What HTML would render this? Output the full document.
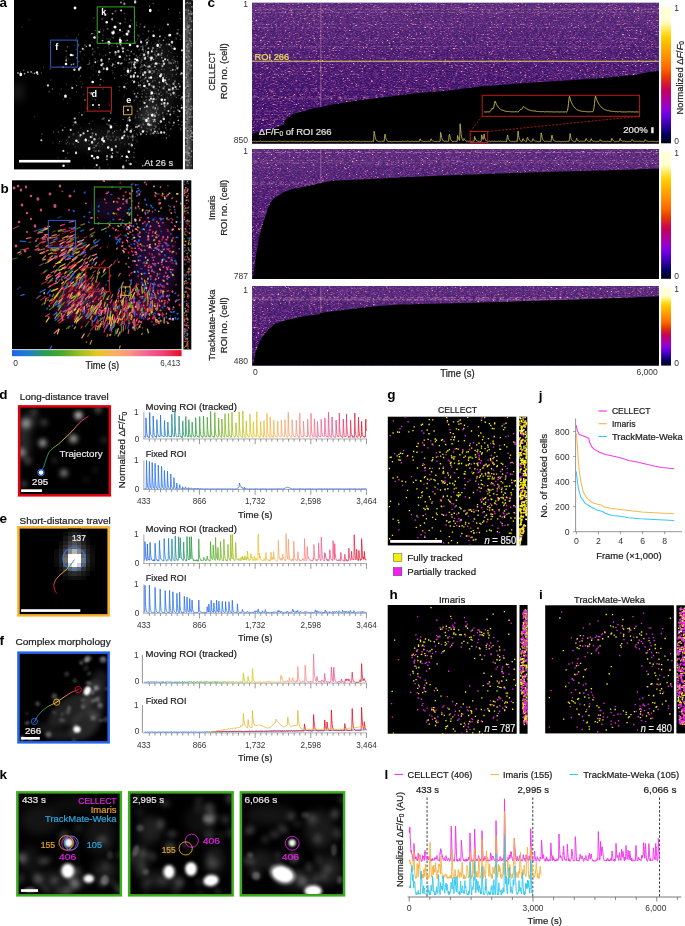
<!DOCTYPE html>
<html><head><meta charset="utf-8"><style>
html,body{margin:0;padding:0;background:#fff;}
svg{display:block;font-family:"Liberation Sans", sans-serif;}
svg{will-change:transform;}
</style></head><body>
<svg width="685" height="926" viewBox="0 0 685 926">
<defs><filter id="bl1" x="-50%" y="-50%" width="200%" height="200%"><feGaussianBlur stdDeviation="0.6"/></filter><filter id="bl2" x="-50%" y="-50%" width="200%" height="200%"><feGaussianBlur stdDeviation="1.2"/></filter><filter id="bl3" x="-50%" y="-50%" width="200%" height="200%"><feGaussianBlur stdDeviation="2.5"/></filter><filter id="bl4" x="-50%" y="-50%" width="200%" height="200%"><feGaussianBlur stdDeviation="4"/></filter><linearGradient id="fireg" x1="0" y1="0" x2="0" y2="1"><stop offset="0.000" stop-color="rgb(255, 255, 215)"/><stop offset="0.032" stop-color="rgb(255, 255, 215)"/><stop offset="0.065" stop-color="rgb(255, 255, 215)"/><stop offset="0.097" stop-color="rgb(255, 255, 215)"/><stop offset="0.129" stop-color="rgb(255, 248, 160)"/><stop offset="0.161" stop-color="rgb(255, 234, 98)"/><stop offset="0.194" stop-color="rgb(255, 219, 35)"/><stop offset="0.226" stop-color="rgb(255, 205, 0)"/><stop offset="0.258" stop-color="rgb(255, 190, 0)"/><stop offset="0.290" stop-color="rgb(255, 175, 0)"/><stop offset="0.323" stop-color="rgb(255, 161, 0)"/><stop offset="0.355" stop-color="rgb(255, 147, 0)"/><stop offset="0.387" stop-color="rgb(255, 133, 0)"/><stop offset="0.419" stop-color="rgb(255, 117, 0)"/><stop offset="0.452" stop-color="rgb(252, 101, 0)"/><stop offset="0.484" stop-color="rgb(240, 79, 0)"/><stop offset="0.516" stop-color="rgb(229, 57, 5)"/><stop offset="0.548" stop-color="rgb(217, 35, 35)"/><stop offset="0.581" stop-color="rgb(207, 14, 64)"/><stop offset="0.613" stop-color="rgb(195, 0, 93)"/><stop offset="0.645" stop-color="rgb(184, 0, 122)"/><stop offset="0.677" stop-color="rgb(173, 0, 151)"/><stop offset="0.710" stop-color="rgb(162, 0, 181)"/><stop offset="0.742" stop-color="rgb(146, 0, 210)"/><stop offset="0.774" stop-color="rgb(122, 0, 227)"/><stop offset="0.806" stop-color="rgb(98, 0, 220)"/><stop offset="0.839" stop-color="rgb(73, 0, 192)"/><stop offset="0.871" stop-color="rgb(49, 0, 165)"/><stop offset="0.903" stop-color="rgb(25, 0, 130)"/><stop offset="0.935" stop-color="rgb(1, 0, 96)"/><stop offset="0.968" stop-color="rgb(0, 0, 61)"/><stop offset="1.000" stop-color="rgb(0, 0, 0)"/></linearGradient><linearGradient id="timeg" x1="0" y1="0" x2="1" y2="0"><stop offset="0" stop-color="#2060f0"/><stop offset="0.1" stop-color="#2080c8"/><stop offset="0.2" stop-color="#2a9c50"/><stop offset="0.3" stop-color="#4ea82a"/><stop offset="0.4" stop-color="#9cbe22"/><stop offset="0.5" stop-color="#e6c622"/><stop offset="0.6" stop-color="#f8b060"/><stop offset="0.7" stop-color="#f89282"/><stop offset="0.8" stop-color="#f06294"/><stop offset="0.9" stop-color="#f03e70"/><stop offset="1.0" stop-color="#e01020"/></linearGradient><filter id="hmf1" x="0" y="0" width="1" height="1" color-interpolation-filters="sRGB">
<feTurbulence type="fractalNoise" baseFrequency="0.45 1.3" numOctaves="3" seed="11" result="n"/>
<feColorMatrix in="n" type="matrix" values="1 0 0 0 0  1 0 0 0 0  1 0 0 0 0  0 0 0 0 1" result="g"/>
<feComponentTransfer in="g">
<feFuncR type="table" tableValues="0.141 0.143 0.146 0.148 0.150 0.152 0.155 0.157 0.159 0.161 0.164 0.166 0.168 0.170 0.173 0.175 0.177 0.179 0.186 0.197 0.208 0.219 0.230 0.242 0.254 0.267 0.279 0.292 0.309 0.330 0.352 0.374 0.402 0.438 0.474 0.510 0.566 0.622 0.678 0.728 0.772 0.816 0.860 0.889 0.902 0.915 0.928 0.941 0.954 0.967 0.980"/>
<feFuncG type="table" tableValues="0.039 0.040 0.041 0.041 0.042 0.043 0.043 0.044 0.045 0.045 0.046 0.047 0.047 0.048 0.049 0.049 0.050 0.051 0.053 0.057 0.061 0.065 0.069 0.073 0.078 0.082 0.087 0.092 0.099 0.107 0.116 0.125 0.139 0.158 0.177 0.196 0.246 0.297 0.347 0.409 0.483 0.556 0.630 0.682 0.714 0.745 0.776 0.808 0.839 0.871 0.902"/>
<feFuncB type="table" tableValues="0.306 0.309 0.313 0.317 0.320 0.324 0.327 0.331 0.335 0.338 0.342 0.345 0.349 0.352 0.356 0.360 0.363 0.367 0.374 0.385 0.396 0.407 0.418 0.428 0.438 0.447 0.456 0.466 0.475 0.482 0.490 0.498 0.504 0.509 0.513 0.518 0.527 0.536 0.545 0.561 0.586 0.610 0.635 0.659 0.682 0.706 0.729 0.753 0.776 0.800 0.824"/>
</feComponentTransfer>
</filter><filter id="hmf2" x="0" y="0" width="1" height="1" color-interpolation-filters="sRGB">
<feTurbulence type="fractalNoise" baseFrequency="0.45 1.3" numOctaves="3" seed="22" result="n"/>
<feColorMatrix in="n" type="matrix" values="1 0 0 0 0  1 0 0 0 0  1 0 0 0 0  0 0 0 0 1" result="g"/>
<feComponentTransfer in="g">
<feFuncR type="table" tableValues="0.141 0.143 0.146 0.148 0.150 0.152 0.155 0.157 0.159 0.161 0.164 0.166 0.168 0.170 0.173 0.175 0.177 0.179 0.186 0.197 0.208 0.219 0.230 0.242 0.254 0.267 0.279 0.292 0.309 0.330 0.352 0.374 0.402 0.438 0.474 0.510 0.566 0.622 0.678 0.728 0.772 0.816 0.860 0.889 0.902 0.915 0.928 0.941 0.954 0.967 0.980"/>
<feFuncG type="table" tableValues="0.039 0.040 0.041 0.041 0.042 0.043 0.043 0.044 0.045 0.045 0.046 0.047 0.047 0.048 0.049 0.049 0.050 0.051 0.053 0.057 0.061 0.065 0.069 0.073 0.078 0.082 0.087 0.092 0.099 0.107 0.116 0.125 0.139 0.158 0.177 0.196 0.246 0.297 0.347 0.409 0.483 0.556 0.630 0.682 0.714 0.745 0.776 0.808 0.839 0.871 0.902"/>
<feFuncB type="table" tableValues="0.306 0.309 0.313 0.317 0.320 0.324 0.327 0.331 0.335 0.338 0.342 0.345 0.349 0.352 0.356 0.360 0.363 0.367 0.374 0.385 0.396 0.407 0.418 0.428 0.438 0.447 0.456 0.466 0.475 0.482 0.490 0.498 0.504 0.509 0.513 0.518 0.527 0.536 0.545 0.561 0.586 0.610 0.635 0.659 0.682 0.706 0.729 0.753 0.776 0.800 0.824"/>
</feComponentTransfer>
</filter><filter id="hmf3" x="0" y="0" width="1" height="1" color-interpolation-filters="sRGB">
<feTurbulence type="fractalNoise" baseFrequency="0.45 1.3" numOctaves="3" seed="33" result="n"/>
<feColorMatrix in="n" type="matrix" values="1 0 0 0 0  1 0 0 0 0  1 0 0 0 0  0 0 0 0 1" result="g"/>
<feComponentTransfer in="g">
<feFuncR type="table" tableValues="0.141 0.143 0.146 0.148 0.150 0.152 0.155 0.157 0.159 0.161 0.164 0.166 0.168 0.170 0.173 0.175 0.177 0.179 0.186 0.197 0.208 0.219 0.230 0.242 0.254 0.267 0.279 0.292 0.309 0.330 0.352 0.374 0.402 0.438 0.474 0.510 0.566 0.622 0.678 0.728 0.772 0.816 0.860 0.889 0.902 0.915 0.928 0.941 0.954 0.967 0.980"/>
<feFuncG type="table" tableValues="0.039 0.040 0.041 0.041 0.042 0.043 0.043 0.044 0.045 0.045 0.046 0.047 0.047 0.048 0.049 0.049 0.050 0.051 0.053 0.057 0.061 0.065 0.069 0.073 0.078 0.082 0.087 0.092 0.099 0.107 0.116 0.125 0.139 0.158 0.177 0.196 0.246 0.297 0.347 0.409 0.483 0.556 0.630 0.682 0.714 0.745 0.776 0.808 0.839 0.871 0.902"/>
<feFuncB type="table" tableValues="0.306 0.309 0.313 0.317 0.320 0.324 0.327 0.331 0.335 0.338 0.342 0.345 0.349 0.352 0.356 0.360 0.363 0.367 0.374 0.385 0.396 0.407 0.418 0.428 0.438 0.447 0.456 0.466 0.475 0.482 0.490 0.498 0.504 0.509 0.513 0.518 0.527 0.536 0.545 0.561 0.586 0.610 0.635 0.659 0.682 0.706 0.729 0.753 0.776 0.800 0.824"/>
</feComponentTransfer>
</filter><linearGradient id="hmov" x1="0" y1="0" x2="0" y2="1"><stop offset="0" stop-color="#f0c0d8" stop-opacity="0.16"/><stop offset="0.35" stop-color="#f0c0d8" stop-opacity="0.08"/><stop offset="0.7" stop-color="#f0c0d8" stop-opacity="0.03"/><stop offset="1" stop-color="#f0c0d8" stop-opacity="0"/></linearGradient><linearGradient id="gl1" gradientUnits="userSpaceOnUse" x1="41" y1="472.6" x2="88.7" y2="416"><stop offset="0" stop-color="#2a6ff0"/><stop offset="0.12" stop-color="#1a9a90"/><stop offset="0.3" stop-color="#3aa040"/><stop offset="0.45" stop-color="#a8c020"/><stop offset="0.55" stop-color="#f0c020"/><stop offset="0.7" stop-color="#f8a060"/><stop offset="0.85" stop-color="#f05a90"/><stop offset="1" stop-color="#e01030"/></linearGradient><linearGradient id="gh2" gradientUnits="userSpaceOnUse" x1="143.8" y1="0" x2="366.5" y2="0"><stop offset="0" stop-color="#2060f0"/><stop offset="0.1" stop-color="#2080c8"/><stop offset="0.2" stop-color="#2a9c50"/><stop offset="0.3" stop-color="#4ea82a"/><stop offset="0.4" stop-color="#9cbe22"/><stop offset="0.5" stop-color="#e6c622"/><stop offset="0.6" stop-color="#f8b060"/><stop offset="0.7" stop-color="#f89282"/><stop offset="0.8" stop-color="#f06294"/><stop offset="0.9" stop-color="#f03e70"/><stop offset="1.0" stop-color="#e01020"/></linearGradient><linearGradient id="gl3" gradientUnits="userSpaceOnUse" x1="74.6" y1="559.5" x2="56.6" y2="593.5"><stop offset="0" stop-color="#2a6ff0"/><stop offset="0.2" stop-color="#3aa040"/><stop offset="0.35" stop-color="#e6c622"/><stop offset="0.55" stop-color="#f8a060"/><stop offset="0.75" stop-color="#f04a80"/><stop offset="1" stop-color="#e01030"/></linearGradient><linearGradient id="gh4" gradientUnits="userSpaceOnUse" x1="143.8" y1="0" x2="366.5" y2="0"><stop offset="0" stop-color="#2060f0"/><stop offset="0.1" stop-color="#2080c8"/><stop offset="0.2" stop-color="#2a9c50"/><stop offset="0.3" stop-color="#4ea82a"/><stop offset="0.4" stop-color="#9cbe22"/><stop offset="0.5" stop-color="#e6c622"/><stop offset="0.6" stop-color="#f8b060"/><stop offset="0.7" stop-color="#f89282"/><stop offset="0.8" stop-color="#f06294"/><stop offset="0.9" stop-color="#f03e70"/><stop offset="1.0" stop-color="#e01020"/></linearGradient><linearGradient id="gl5" gradientUnits="userSpaceOnUse" x1="34.4" y1="721.5" x2="78.2" y2="689.6"><stop offset="0" stop-color="#2a6ff0"/><stop offset="0.2" stop-color="#1a9a90"/><stop offset="0.35" stop-color="#5aaa30"/><stop offset="0.5" stop-color="#e6c622"/><stop offset="0.7" stop-color="#f8a060"/><stop offset="0.85" stop-color="#f05a90"/><stop offset="1" stop-color="#e01030"/></linearGradient><linearGradient id="gh6" gradientUnits="userSpaceOnUse" x1="143.8" y1="0" x2="366.5" y2="0"><stop offset="0" stop-color="#2060f0"/><stop offset="0.1" stop-color="#2080c8"/><stop offset="0.2" stop-color="#2a9c50"/><stop offset="0.3" stop-color="#4ea82a"/><stop offset="0.4" stop-color="#9cbe22"/><stop offset="0.5" stop-color="#e6c622"/><stop offset="0.6" stop-color="#f8b060"/><stop offset="0.7" stop-color="#f89282"/><stop offset="0.8" stop-color="#f06294"/><stop offset="0.9" stop-color="#f03e70"/><stop offset="1.0" stop-color="#e01020"/></linearGradient></defs>
<rect width="685" height="926" fill="#fff"/>
<rect x="14" y="0" width="168.9" height="169.4" fill="#000" stroke="none" stroke-width="1"/>
<clipPath id="cpa"><rect x="14" y="0" width="168.9" height="169.4"/></clipPath>
<g clip-path="url(#cpa)">
<g filter="url(#bl4)">
<ellipse cx="148" cy="118" rx="10" ry="14" fill="#fff" opacity="0.16"/>
<ellipse cx="160" cy="80" rx="18" ry="40" fill="#fff" opacity="0.08"/>
<ellipse cx="100" cy="140" rx="35" ry="12" fill="#fff" opacity="0.07"/>
<ellipse cx="18" cy="92" rx="6" ry="10" fill="#fff" opacity="0.1"/>
</g>
<g filter="url(#bl1)">
<path d="M84.5 140.1a1.2 1.2 0 1 0 2.5 0a1.2 1.2 0 1 0 -2.5 0M91.4 82a1.3 1.3 0 1 0 2.6 0a1.3 1.3 0 1 0 -2.6 0M105.4 22.2a1.3 1.3 0 1 0 2.6 0a1.3 1.3 0 1 0 -2.6 0M152.3 35.8a1.3 1.3 0 1 0 2.6 0a1.3 1.3 0 1 0 -2.6 0M107.4 42.1a1.3 1.3 0 1 0 2.6 0a1.3 1.3 0 1 0 -2.6 0M143.1 86a1.3 1.3 0 1 0 2.6 0a1.3 1.3 0 1 0 -2.6 0M64.2 96.2a1.3 1.3 0 1 0 2.5 0a1.3 1.3 0 1 0 -2.5 0M162 80.5a1.3 1.3 0 1 0 2.5 0a1.3 1.3 0 1 0 -2.5 0M126.7 71.2a1.3 1.3 0 1 0 2.5 0a1.3 1.3 0 1 0 -2.5 0M125.5 156.7a1.2 1.2 0 1 0 2.5 0a1.2 1.2 0 1 0 -2.5 0M159 76.1a1.3 1.3 0 1 0 2.6 0a1.3 1.3 0 1 0 -2.6 0M127.6 151.7a1.2 1.2 0 1 0 2.5 0a1.2 1.2 0 1 0 -2.5 0M121.1 137.8a1.2 1.2 0 1 0 2.5 0a1.2 1.2 0 1 0 -2.5 0M109.7 126.9a1.3 1.3 0 1 0 2.5 0a1.3 1.3 0 1 0 -2.5 0M119 42.4a1.3 1.3 0 1 0 2.6 0a1.3 1.3 0 1 0 -2.6 0M156.4 45.3a1.3 1.3 0 1 0 2.5 0a1.3 1.3 0 1 0 -2.5 0M154.7 63.5a1.3 1.3 0 1 0 2.6 0a1.3 1.3 0 1 0 -2.6 0M106.9 147.5a1.2 1.2 0 1 0 2.5 0a1.2 1.2 0 1 0 -2.5 0M62.3 165.8a1.2 1.2 0 1 0 2.5 0a1.2 1.2 0 1 0 -2.5 0M173.3 48.7a1.3 1.3 0 1 0 2.6 0a1.3 1.3 0 1 0 -2.6 0M149 10.5a1.3 1.3 0 1 0 2.5 0a1.3 1.3 0 1 0 -2.5 0M150.5 92.9a1.3 1.3 0 1 0 2.5 0a1.3 1.3 0 1 0 -2.5 0M75.1 140.8a1.3 1.3 0 1 0 2.6 0a1.3 1.3 0 1 0 -2.6 0M19.5 74.5a1.3 1.3 0 1 0 2.5 0a1.3 1.3 0 1 0 -2.5 0M151 115.1a1.3 1.3 0 1 0 2.5 0a1.3 1.3 0 1 0 -2.5 0M105.8 68.8a1.3 1.3 0 1 0 2.5 0a1.3 1.3 0 1 0 -2.5 0M118.5 56.7a1.3 1.3 0 1 0 2.6 0a1.3 1.3 0 1 0 -2.6 0M141.6 131.5a1.3 1.3 0 1 0 2.6 0a1.3 1.3 0 1 0 -2.6 0M35.7 72.6a1.2 1.2 0 1 0 2.5 0a1.2 1.2 0 1 0 -2.5 0M136.2 46.2a1.3 1.3 0 1 0 2.6 0a1.3 1.3 0 1 0 -2.6 0M93.2 37.5a1.3 1.3 0 1 0 2.6 0a1.3 1.3 0 1 0 -2.6 0M126 125.4a1.2 1.2 0 1 0 2.5 0a1.2 1.2 0 1 0 -2.5 0M87.9 148.7a1.3 1.3 0 1 0 2.5 0a1.3 1.3 0 1 0 -2.5 0M96.6 157.5a1.3 1.3 0 1 0 2.6 0a1.3 1.3 0 1 0 -2.6 0M145.2 120.4a1.3 1.3 0 1 0 2.5 0a1.3 1.3 0 1 0 -2.5 0M150.3 57.9a1.3 1.3 0 1 0 2.6 0a1.3 1.3 0 1 0 -2.6 0M90.7 156a1.3 1.3 0 1 0 2.6 0a1.3 1.3 0 1 0 -2.6 0M149.8 77.6a1.2 1.2 0 1 0 2.5 0a1.2 1.2 0 1 0 -2.5 0M160.5 99.7a1.3 1.3 0 1 0 2.6 0a1.3 1.3 0 1 0 -2.6 0M102.5 141.1a1.3 1.3 0 1 0 2.6 0a1.3 1.3 0 1 0 -2.6 0M168.8 35.1a1.2 1.2 0 1 0 2.5 0a1.2 1.2 0 1 0 -2.5 0M135.8 60a1.3 1.3 0 1 0 2.6 0a1.3 1.3 0 1 0 -2.6 0M113.5 27a1.5 1.5 0 1 0 3 0a1.5 1.5 0 1 0 -3 0M111.4 33a1.6 1.6 0 1 0 3.2 0a1.6 1.6 0 1 0 -3.2 0M125.5 34a1.5 1.5 0 1 0 3 0a1.5 1.5 0 1 0 -3 0M107.4 43a1.6 1.6 0 1 0 3.2 0a1.6 1.6 0 1 0 -3.2 0M119 30a1 1 0 1 0 2 0a1 1 0 1 0 -2 0M69.7 55a1.3 1.3 0 1 0 2.6 0a1.3 1.3 0 1 0 -2.6 0M64.7 64a1.3 1.3 0 1 0 2.6 0a1.3 1.3 0 1 0 -2.6 0M92 105a1 1 0 1 0 2 0a1 1 0 1 0 -2 0M98.1 105a0.9 0.9 0 1 0 1.8 0a0.9 0.9 0 1 0 -1.8 0M127.1 110a0.9 0.9 0 1 0 1.8 0a0.9 0.9 0 1 0 -1.8 0M73.6 8a1.4 1.4 0 1 0 2.8 0a1.4 1.4 0 1 0 -2.8 0M118.8 40a1.2 1.2 0 1 0 2.4 0a1.2 1.2 0 1 0 -2.4 0M128.7 45a1.3 1.3 0 1 0 2.6 0a1.3 1.3 0 1 0 -2.6 0" fill="#fff" opacity="1.0"/>
<path d="M121.1 63.1a0.8 0.8 0 1 0 1.7 0a0.8 0.8 0 1 0 -1.7 0M161.1 53.1a0.8 0.8 0 1 0 1.6 0a0.8 0.8 0 1 0 -1.6 0M160.7 104a1 1 0 1 0 2 0a1 1 0 1 0 -2 0M172.9 122.8a1 1 0 1 0 2 0a1 1 0 1 0 -2 0M177.2 110.1a0.8 0.8 0 1 0 1.6 0a0.8 0.8 0 1 0 -1.6 0M166.9 59.9a0.8 0.8 0 1 0 1.7 0a0.8 0.8 0 1 0 -1.7 0M111.7 153.2a0.8 0.8 0 1 0 1.6 0a0.8 0.8 0 1 0 -1.6 0M137 93.3a0.8 0.8 0 1 0 1.6 0a0.8 0.8 0 1 0 -1.6 0M154 66.6a0.9 0.9 0 1 0 1.8 0a0.9 0.9 0 1 0 -1.8 0M65.4 60.4a0.9 0.9 0 1 0 1.7 0a0.9 0.9 0 1 0 -1.7 0M161.5 66a1 1 0 1 0 1.9 0a1 1 0 1 0 -1.9 0M163.8 106.3a0.9 0.9 0 1 0 1.7 0a0.9 0.9 0 1 0 -1.7 0M128.4 117.4a1 1 0 1 0 2 0a1 1 0 1 0 -2 0M178 83.7a0.8 0.8 0 1 0 1.6 0a0.8 0.8 0 1 0 -1.6 0M164.7 82.4a0.9 0.9 0 1 0 1.9 0a0.9 0.9 0 1 0 -1.9 0M85.5 46.6a0.8 0.8 0 1 0 1.6 0a0.8 0.8 0 1 0 -1.6 0M166.1 84.2a0.9 0.9 0 1 0 1.8 0a0.9 0.9 0 1 0 -1.8 0M158.9 36.6a0.8 0.8 0 1 0 1.7 0a0.8 0.8 0 1 0 -1.7 0M90.3 93.4a1 1 0 1 0 1.9 0a1 1 0 1 0 -1.9 0M111.6 65.7a0.8 0.8 0 1 0 1.7 0a0.8 0.8 0 1 0 -1.7 0M137.8 85.5a1 1 0 1 0 2 0a1 1 0 1 0 -2 0M150.3 129.9a0.8 0.8 0 1 0 1.6 0a0.8 0.8 0 1 0 -1.6 0M176.3 33.4a1 1 0 1 0 2 0a1 1 0 1 0 -2 0M144.8 77.6a0.9 0.9 0 1 0 1.8 0a0.9 0.9 0 1 0 -1.8 0M123.4 3.8a1 1 0 1 0 1.9 0a1 1 0 1 0 -1.9 0M102.8 68.8a1 1 0 1 0 1.9 0a1 1 0 1 0 -1.9 0M106.2 159.4a0.8 0.8 0 1 0 1.7 0a0.8 0.8 0 1 0 -1.7 0M135.5 96.6a0.9 0.9 0 1 0 1.7 0a0.9 0.9 0 1 0 -1.7 0M141.8 165.7a0.9 0.9 0 1 0 1.8 0a0.9 0.9 0 1 0 -1.8 0M162.7 40.3a0.8 0.8 0 1 0 1.6 0a0.8 0.8 0 1 0 -1.6 0M127.2 157.6a0.8 0.8 0 1 0 1.7 0a0.8 0.8 0 1 0 -1.7 0M123.6 131.8a1 1 0 1 0 1.9 0a1 1 0 1 0 -1.9 0M171.9 89.3a0.9 0.9 0 1 0 1.7 0a0.9 0.9 0 1 0 -1.7 0M121.1 138.7a0.8 0.8 0 1 0 1.6 0a0.8 0.8 0 1 0 -1.6 0M120.1 2.5a0.9 0.9 0 1 0 1.8 0a0.9 0.9 0 1 0 -1.8 0M178.9 86.5a0.9 0.9 0 1 0 1.9 0a0.9 0.9 0 1 0 -1.9 0M152.1 133.2a0.8 0.8 0 1 0 1.6 0a0.8 0.8 0 1 0 -1.6 0M158.5 82.4a0.9 0.9 0 1 0 1.8 0a0.9 0.9 0 1 0 -1.8 0M140 134.1a0.9 0.9 0 1 0 1.7 0a0.9 0.9 0 1 0 -1.7 0M162.6 88.4a0.9 0.9 0 1 0 1.8 0a0.9 0.9 0 1 0 -1.8 0M133.6 93.7a0.9 0.9 0 1 0 1.8 0a0.9 0.9 0 1 0 -1.8 0M149.4 57.7a0.9 0.9 0 1 0 1.8 0a0.9 0.9 0 1 0 -1.8 0M144.2 57.4a1 1 0 1 0 2 0a1 1 0 1 0 -2 0M143.5 26.9a0.9 0.9 0 1 0 1.9 0a0.9 0.9 0 1 0 -1.9 0M137.9 125.9a0.9 0.9 0 1 0 1.7 0a0.9 0.9 0 1 0 -1.7 0M181.5 97.3a0.9 0.9 0 1 0 1.7 0a0.9 0.9 0 1 0 -1.7 0M94.9 134.3a0.9 0.9 0 1 0 1.9 0a0.9 0.9 0 1 0 -1.9 0M152.7 59.5a0.8 0.8 0 1 0 1.6 0a0.8 0.8 0 1 0 -1.6 0M143.5 65.2a0.9 0.9 0 1 0 1.8 0a0.9 0.9 0 1 0 -1.8 0M109 52.6a0.9 0.9 0 1 0 1.8 0a0.9 0.9 0 1 0 -1.8 0M134.2 43.1a0.8 0.8 0 1 0 1.6 0a0.8 0.8 0 1 0 -1.6 0M128.6 59.1a0.9 0.9 0 1 0 1.9 0a0.9 0.9 0 1 0 -1.9 0M131.7 136.5a1 1 0 1 0 1.9 0a1 1 0 1 0 -1.9 0M126.4 40.3a0.8 0.8 0 1 0 1.6 0a0.8 0.8 0 1 0 -1.6 0M172.6 83.7a1 1 0 1 0 1.9 0a1 1 0 1 0 -1.9 0M157.7 133.3a0.8 0.8 0 1 0 1.6 0a0.8 0.8 0 1 0 -1.6 0M108.2 59a0.9 0.9 0 1 0 1.9 0a0.9 0.9 0 1 0 -1.9 0M111.2 19.2a1 1 0 1 0 1.9 0a1 1 0 1 0 -1.9 0M144 107.2a0.8 0.8 0 1 0 1.6 0a0.8 0.8 0 1 0 -1.6 0M111.6 13.6a0.9 0.9 0 1 0 1.9 0a0.9 0.9 0 1 0 -1.9 0M161.1 57.8a0.8 0.8 0 1 0 1.6 0a0.8 0.8 0 1 0 -1.6 0M121.1 156.3a1 1 0 1 0 2 0a1 1 0 1 0 -2 0M148.3 77.9a0.9 0.9 0 1 0 1.9 0a0.9 0.9 0 1 0 -1.9 0M152.1 47.9a0.9 0.9 0 1 0 1.8 0a0.9 0.9 0 1 0 -1.8 0M133.4 66.7a0.8 0.8 0 1 0 1.7 0a0.8 0.8 0 1 0 -1.7 0M102.1 137.8a1 1 0 1 0 1.9 0a1 1 0 1 0 -1.9 0M70.6 64.6a0.8 0.8 0 1 0 1.7 0a0.8 0.8 0 1 0 -1.7 0M150 59.7a1 1 0 1 0 1.9 0a1 1 0 1 0 -1.9 0M129.8 70.8a0.9 0.9 0 1 0 1.8 0a0.9 0.9 0 1 0 -1.8 0M86.4 108.3a0.8 0.8 0 1 0 1.6 0a0.8 0.8 0 1 0 -1.6 0M98 150.9a0.8 0.8 0 1 0 1.6 0a0.8 0.8 0 1 0 -1.6 0M171.8 69.8a1 1 0 1 0 2 0a1 1 0 1 0 -2 0M148.5 100a0.9 0.9 0 1 0 1.9 0a0.9 0.9 0 1 0 -1.9 0M152.6 132.9a0.8 0.8 0 1 0 1.6 0a0.8 0.8 0 1 0 -1.6 0M163.3 103.4a1 1 0 1 0 1.9 0a1 1 0 1 0 -1.9 0M119.8 63.7a0.9 0.9 0 1 0 1.8 0a0.9 0.9 0 1 0 -1.8 0M154 115.8a1 1 0 1 0 1.9 0a1 1 0 1 0 -1.9 0M136.2 127a0.9 0.9 0 1 0 1.9 0a0.9 0.9 0 1 0 -1.9 0M139.4 108.7a0.8 0.8 0 1 0 1.7 0a0.8 0.8 0 1 0 -1.7 0M141.8 49.3a0.9 0.9 0 1 0 1.9 0a0.9 0.9 0 1 0 -1.9 0M154.5 107.9a0.8 0.8 0 1 0 1.7 0a0.8 0.8 0 1 0 -1.7 0M126.5 127.7a0.9 0.9 0 1 0 1.8 0a0.9 0.9 0 1 0 -1.8 0M116.6 46.6a0.8 0.8 0 1 0 1.6 0a0.8 0.8 0 1 0 -1.6 0M132.8 77a0.9 0.9 0 1 0 1.7 0a0.9 0.9 0 1 0 -1.7 0M119.5 44.7a0.9 0.9 0 1 0 1.8 0a0.9 0.9 0 1 0 -1.8 0M111.9 64.2a1 1 0 1 0 2 0a1 1 0 1 0 -2 0M177.5 120.3a0.8 0.8 0 1 0 1.7 0a0.8 0.8 0 1 0 -1.7 0M62.2 67.2a0.9 0.9 0 1 0 1.8 0a0.9 0.9 0 1 0 -1.8 0M130.5 51.5a0.8 0.8 0 1 0 1.7 0a0.8 0.8 0 1 0 -1.7 0M147.4 48.3a1 1 0 1 0 2 0a1 1 0 1 0 -2 0M101.7 40.6a0.9 0.9 0 1 0 1.8 0a0.9 0.9 0 1 0 -1.8 0M81 115a0.9 0.9 0 1 0 1.8 0a0.9 0.9 0 1 0 -1.8 0M115.8 43.7a0.8 0.8 0 1 0 1.7 0a0.8 0.8 0 1 0 -1.7 0M137.4 60.9a0.8 0.8 0 1 0 1.6 0a0.8 0.8 0 1 0 -1.6 0M152.9 121.3a0.8 0.8 0 1 0 1.6 0a0.8 0.8 0 1 0 -1.6 0M91.1 33.5a0.8 0.8 0 1 0 1.7 0a0.8 0.8 0 1 0 -1.7 0M61.7 130.1a0.9 0.9 0 1 0 1.9 0a0.9 0.9 0 1 0 -1.9 0M72.7 64.1a0.9 0.9 0 1 0 1.8 0a0.9 0.9 0 1 0 -1.8 0M77.4 142.2a0.9 0.9 0 1 0 1.8 0a0.9 0.9 0 1 0 -1.8 0M101.6 139a0.9 0.9 0 1 0 1.8 0a0.9 0.9 0 1 0 -1.8 0M99.8 79.3a0.9 0.9 0 1 0 1.8 0a0.9 0.9 0 1 0 -1.8 0M134.9 126.9a0.9 0.9 0 1 0 1.8 0a0.9 0.9 0 1 0 -1.8 0M176.4 68.3a1 1 0 1 0 1.9 0a1 1 0 1 0 -1.9 0M106.1 156.2a1 1 0 1 0 1.9 0a1 1 0 1 0 -1.9 0M17.1 73a0.9 0.9 0 1 0 1.8 0a0.9 0.9 0 1 0 -1.8 0M20.4 74.2a0.9 0.9 0 1 0 1.8 0a0.9 0.9 0 1 0 -1.8 0M23.7 73.6a0.9 0.9 0 1 0 1.8 0a0.9 0.9 0 1 0 -1.8 0M27 72.2a0.9 0.9 0 1 0 1.8 0a0.9 0.9 0 1 0 -1.8 0M30.3 71.9a0.9 0.9 0 1 0 1.8 0a0.9 0.9 0 1 0 -1.8 0M33.6 73.3a0.9 0.9 0 1 0 1.8 0a0.9 0.9 0 1 0 -1.8 0M36.9 74.2a0.9 0.9 0 1 0 1.8 0a0.9 0.9 0 1 0 -1.8 0" fill="#fff" opacity="0.6"/>
<path d="M128.3 72.4a0.7 0.7 0 1 0 1.3 0a0.7 0.7 0 1 0 -1.3 0M159.4 47.2a0.6 0.6 0 1 0 1.1 0a0.6 0.6 0 1 0 -1.1 0M143.8 90.2a0.6 0.6 0 1 0 1.2 0a0.6 0.6 0 1 0 -1.2 0M140.1 81a0.6 0.6 0 1 0 1.2 0a0.6 0.6 0 1 0 -1.2 0M146.7 56.3a0.6 0.6 0 1 0 1.3 0a0.6 0.6 0 1 0 -1.3 0M177.5 67.1a0.6 0.6 0 1 0 1.3 0a0.6 0.6 0 1 0 -1.3 0M168.3 85a0.7 0.7 0 1 0 1.4 0a0.7 0.7 0 1 0 -1.4 0M107.1 132.9a0.7 0.7 0 1 0 1.4 0a0.7 0.7 0 1 0 -1.4 0M118.7 86.8a0.6 0.6 0 1 0 1.3 0a0.6 0.6 0 1 0 -1.3 0M144.9 45.8a0.6 0.6 0 1 0 1.3 0a0.6 0.6 0 1 0 -1.3 0M109.8 118.7a0.6 0.6 0 1 0 1.2 0a0.6 0.6 0 1 0 -1.2 0M139.6 85.2a0.8 0.8 0 1 0 1.5 0a0.8 0.8 0 1 0 -1.5 0M66.8 142.3a0.6 0.6 0 1 0 1.2 0a0.6 0.6 0 1 0 -1.2 0M182.1 99.8a0.6 0.6 0 1 0 1.3 0a0.6 0.6 0 1 0 -1.3 0M125.6 160.7a0.8 0.8 0 1 0 1.5 0a0.8 0.8 0 1 0 -1.5 0M66.7 46.7a0.7 0.7 0 1 0 1.4 0a0.7 0.7 0 1 0 -1.4 0M84.8 139a0.8 0.8 0 1 0 1.5 0a0.8 0.8 0 1 0 -1.5 0M75.9 85.5a0.7 0.7 0 1 0 1.4 0a0.7 0.7 0 1 0 -1.4 0M166.1 105.1a0.6 0.6 0 1 0 1.3 0a0.6 0.6 0 1 0 -1.3 0M93.2 18.1a0.7 0.7 0 1 0 1.4 0a0.7 0.7 0 1 0 -1.4 0M180.7 97.8a0.6 0.6 0 1 0 1.2 0a0.6 0.6 0 1 0 -1.2 0M65.7 50.9a0.6 0.6 0 1 0 1.1 0a0.6 0.6 0 1 0 -1.1 0M130.8 143.2a0.6 0.6 0 1 0 1.2 0a0.6 0.6 0 1 0 -1.2 0M146.4 88.6a0.7 0.7 0 1 0 1.4 0a0.7 0.7 0 1 0 -1.4 0M139.4 55.4a0.6 0.6 0 1 0 1.2 0a0.6 0.6 0 1 0 -1.2 0M152.6 107a0.7 0.7 0 1 0 1.4 0a0.7 0.7 0 1 0 -1.4 0M132.4 91.1a0.6 0.6 0 1 0 1.2 0a0.6 0.6 0 1 0 -1.2 0M140.8 127.6a0.7 0.7 0 1 0 1.3 0a0.7 0.7 0 1 0 -1.3 0M155.7 112.2a0.7 0.7 0 1 0 1.4 0a0.7 0.7 0 1 0 -1.4 0M174.2 111.1a0.6 0.6 0 1 0 1.2 0a0.6 0.6 0 1 0 -1.2 0M166.1 134.1a0.6 0.6 0 1 0 1.2 0a0.6 0.6 0 1 0 -1.2 0M90.7 129.2a0.6 0.6 0 1 0 1.2 0a0.6 0.6 0 1 0 -1.2 0M157.8 123.6a0.7 0.7 0 1 0 1.4 0a0.7 0.7 0 1 0 -1.4 0M132.2 140.2a0.6 0.6 0 1 0 1.1 0a0.6 0.6 0 1 0 -1.1 0M144.8 72.2a0.8 0.8 0 1 0 1.5 0a0.8 0.8 0 1 0 -1.5 0M114.4 67.3a0.6 0.6 0 1 0 1.3 0a0.6 0.6 0 1 0 -1.3 0M79.8 75.9a0.6 0.6 0 1 0 1.2 0a0.6 0.6 0 1 0 -1.2 0M127.7 50.6a0.6 0.6 0 1 0 1.2 0a0.6 0.6 0 1 0 -1.2 0M152.4 80.9a0.6 0.6 0 1 0 1.3 0a0.6 0.6 0 1 0 -1.3 0M160.3 45.1a0.8 0.8 0 1 0 1.5 0a0.8 0.8 0 1 0 -1.5 0M67.1 153a0.6 0.6 0 1 0 1.3 0a0.6 0.6 0 1 0 -1.3 0M93.8 147.7a0.7 0.7 0 1 0 1.4 0a0.7 0.7 0 1 0 -1.4 0M101.6 119a0.7 0.7 0 1 0 1.4 0a0.7 0.7 0 1 0 -1.4 0M97.8 75.2a0.6 0.6 0 1 0 1.2 0a0.6 0.6 0 1 0 -1.2 0M155.6 99.3a0.7 0.7 0 1 0 1.4 0a0.7 0.7 0 1 0 -1.4 0M175.5 74.5a0.6 0.6 0 1 0 1.3 0a0.6 0.6 0 1 0 -1.3 0M58.9 141.5a0.6 0.6 0 1 0 1.3 0a0.6 0.6 0 1 0 -1.3 0M174 85.5a0.6 0.6 0 1 0 1.2 0a0.6 0.6 0 1 0 -1.2 0M119.5 30.8a0.7 0.7 0 1 0 1.4 0a0.7 0.7 0 1 0 -1.4 0M105.2 42.3a0.6 0.6 0 1 0 1.3 0a0.6 0.6 0 1 0 -1.3 0M151.8 119.5a0.6 0.6 0 1 0 1.2 0a0.6 0.6 0 1 0 -1.2 0M174.2 81.4a0.8 0.8 0 1 0 1.5 0a0.8 0.8 0 1 0 -1.5 0M108.4 131.3a0.7 0.7 0 1 0 1.3 0a0.7 0.7 0 1 0 -1.3 0M160.7 95.4a0.6 0.6 0 1 0 1.2 0a0.6 0.6 0 1 0 -1.2 0M106 136a0.7 0.7 0 1 0 1.5 0a0.7 0.7 0 1 0 -1.5 0M23 70.2a0.7 0.7 0 1 0 1.5 0a0.7 0.7 0 1 0 -1.5 0M135.6 55.8a0.7 0.7 0 1 0 1.4 0a0.7 0.7 0 1 0 -1.4 0M119.3 38a0.7 0.7 0 1 0 1.3 0a0.7 0.7 0 1 0 -1.3 0M95.4 150.9a0.6 0.6 0 1 0 1.2 0a0.6 0.6 0 1 0 -1.2 0M169.9 89.6a0.8 0.8 0 1 0 1.5 0a0.8 0.8 0 1 0 -1.5 0M125.8 55.8a0.7 0.7 0 1 0 1.3 0a0.7 0.7 0 1 0 -1.3 0M141.1 64.3a0.6 0.6 0 1 0 1.3 0a0.6 0.6 0 1 0 -1.3 0M93.4 150.8a0.6 0.6 0 1 0 1.2 0a0.6 0.6 0 1 0 -1.2 0M143.2 130.4a0.7 0.7 0 1 0 1.4 0a0.7 0.7 0 1 0 -1.4 0M158.3 94.1a0.8 0.8 0 1 0 1.5 0a0.8 0.8 0 1 0 -1.5 0M95.3 146.4a0.6 0.6 0 1 0 1.2 0a0.6 0.6 0 1 0 -1.2 0M172.8 111.2a0.7 0.7 0 1 0 1.4 0a0.7 0.7 0 1 0 -1.4 0M114 78.2a0.6 0.6 0 1 0 1.2 0a0.6 0.6 0 1 0 -1.2 0M156.2 133.3a0.6 0.6 0 1 0 1.3 0a0.6 0.6 0 1 0 -1.3 0M145.7 134.4a0.7 0.7 0 1 0 1.4 0a0.7 0.7 0 1 0 -1.4 0M156 104.9a0.6 0.6 0 1 0 1.2 0a0.6 0.6 0 1 0 -1.2 0M152.4 31.2a0.6 0.6 0 1 0 1.3 0a0.6 0.6 0 1 0 -1.3 0M175.1 61.4a0.6 0.6 0 1 0 1.2 0a0.6 0.6 0 1 0 -1.2 0M159 87a0.6 0.6 0 1 0 1.3 0a0.6 0.6 0 1 0 -1.3 0M140.4 46.7a0.7 0.7 0 1 0 1.4 0a0.7 0.7 0 1 0 -1.4 0M140.6 114.9a0.7 0.7 0 1 0 1.4 0a0.7 0.7 0 1 0 -1.4 0M172.1 125.8a0.7 0.7 0 1 0 1.4 0a0.7 0.7 0 1 0 -1.4 0M79.7 136.5a0.6 0.6 0 1 0 1.1 0a0.6 0.6 0 1 0 -1.1 0M115.1 139.6a0.8 0.8 0 1 0 1.5 0a0.8 0.8 0 1 0 -1.5 0M155 55.1a0.7 0.7 0 1 0 1.4 0a0.7 0.7 0 1 0 -1.4 0M153.6 133.2a0.6 0.6 0 1 0 1.3 0a0.6 0.6 0 1 0 -1.3 0M152.4 107.4a0.8 0.8 0 1 0 1.5 0a0.8 0.8 0 1 0 -1.5 0M149 6.4a0.6 0.6 0 1 0 1.1 0a0.6 0.6 0 1 0 -1.1 0M107.1 139.1a0.7 0.7 0 1 0 1.5 0a0.7 0.7 0 1 0 -1.5 0M123.1 35.1a0.7 0.7 0 1 0 1.4 0a0.7 0.7 0 1 0 -1.4 0M137.1 134.9a0.6 0.6 0 1 0 1.2 0a0.6 0.6 0 1 0 -1.2 0M154.7 121.4a0.7 0.7 0 1 0 1.5 0a0.7 0.7 0 1 0 -1.5 0M128.2 144a0.8 0.8 0 1 0 1.5 0a0.8 0.8 0 1 0 -1.5 0M177.1 116.5a0.6 0.6 0 1 0 1.3 0a0.6 0.6 0 1 0 -1.3 0M88.6 123.4a0.6 0.6 0 1 0 1.2 0a0.6 0.6 0 1 0 -1.2 0M101.7 18.9a0.6 0.6 0 1 0 1.3 0a0.6 0.6 0 1 0 -1.3 0M159.3 36a0.8 0.8 0 1 0 1.5 0a0.8 0.8 0 1 0 -1.5 0M94.8 30.5a0.6 0.6 0 1 0 1.2 0a0.6 0.6 0 1 0 -1.2 0M180.9 105.2a0.6 0.6 0 1 0 1.3 0a0.6 0.6 0 1 0 -1.3 0M111.6 150.2a0.6 0.6 0 1 0 1.1 0a0.6 0.6 0 1 0 -1.1 0M146 39.5a0.7 0.7 0 1 0 1.4 0a0.7 0.7 0 1 0 -1.4 0M154.5 108.8a0.7 0.7 0 1 0 1.3 0a0.7 0.7 0 1 0 -1.3 0M142.8 51a0.6 0.6 0 1 0 1.1 0a0.6 0.6 0 1 0 -1.1 0M170.1 94.9a0.8 0.8 0 1 0 1.5 0a0.8 0.8 0 1 0 -1.5 0M146.9 39.2a0.7 0.7 0 1 0 1.4 0a0.7 0.7 0 1 0 -1.4 0M117.1 152.8a0.7 0.7 0 1 0 1.4 0a0.7 0.7 0 1 0 -1.4 0M133.7 130.5a0.6 0.6 0 1 0 1.2 0a0.6 0.6 0 1 0 -1.2 0M139.2 57.9a0.6 0.6 0 1 0 1.2 0a0.6 0.6 0 1 0 -1.2 0M162.1 112.7a0.7 0.7 0 1 0 1.3 0a0.7 0.7 0 1 0 -1.3 0M133.2 157.5a0.7 0.7 0 1 0 1.5 0a0.7 0.7 0 1 0 -1.5 0M139.8 40.2a0.6 0.6 0 1 0 1.2 0a0.6 0.6 0 1 0 -1.2 0M148 114.8a0.6 0.6 0 1 0 1.2 0a0.6 0.6 0 1 0 -1.2 0M170.4 108.3a0.6 0.6 0 1 0 1.2 0a0.6 0.6 0 1 0 -1.2 0M146 44.1a0.8 0.8 0 1 0 1.5 0a0.8 0.8 0 1 0 -1.5 0M164.8 125.2a0.7 0.7 0 1 0 1.4 0a0.7 0.7 0 1 0 -1.4 0M131.8 80.4a0.7 0.7 0 1 0 1.4 0a0.7 0.7 0 1 0 -1.4 0M109.4 124.9a0.7 0.7 0 1 0 1.4 0a0.7 0.7 0 1 0 -1.4 0M88.4 92.7a0.7 0.7 0 1 0 1.4 0a0.7 0.7 0 1 0 -1.4 0M180.1 98.8a0.7 0.7 0 1 0 1.4 0a0.7 0.7 0 1 0 -1.4 0M179.1 12.7a0.7 0.7 0 1 0 1.4 0a0.7 0.7 0 1 0 -1.4 0M122.4 119.4a0.7 0.7 0 1 0 1.4 0a0.7 0.7 0 1 0 -1.4 0M98.4 107.8a0.7 0.7 0 1 0 1.4 0a0.7 0.7 0 1 0 -1.4 0M49.5 68.9a0.7 0.7 0 1 0 1.4 0a0.7 0.7 0 1 0 -1.4 0M53.1 132.1a0.7 0.7 0 1 0 1.4 0a0.7 0.7 0 1 0 -1.4 0M41.3 133.9a0.7 0.7 0 1 0 1.4 0a0.7 0.7 0 1 0 -1.4 0M151 59a0.7 0.7 0 1 0 1.4 0a0.7 0.7 0 1 0 -1.4 0M79.8 51.6a0.7 0.7 0 1 0 1.4 0a0.7 0.7 0 1 0 -1.4 0M152.5 3.3a0.7 0.7 0 1 0 1.4 0a0.7 0.7 0 1 0 -1.4 0M151 85.8a0.7 0.7 0 1 0 1.4 0a0.7 0.7 0 1 0 -1.4 0M127.3 118.8a0.7 0.7 0 1 0 1.4 0a0.7 0.7 0 1 0 -1.4 0M78 61.6a0.7 0.7 0 1 0 1.4 0a0.7 0.7 0 1 0 -1.4 0M174.6 70a0.7 0.7 0 1 0 1.4 0a0.7 0.7 0 1 0 -1.4 0M48.4 91.7a0.7 0.7 0 1 0 1.4 0a0.7 0.7 0 1 0 -1.4 0M167.8 9.3a0.7 0.7 0 1 0 1.4 0a0.7 0.7 0 1 0 -1.4 0M170.3 70.4a0.7 0.7 0 1 0 1.4 0a0.7 0.7 0 1 0 -1.4 0" fill="#fff" opacity="0.4"/>
<path d="M147.1 118.4a1.1 1.1 0 1 0 2.2 0a1.1 1.1 0 1 0 -2.2 0M125.7 129.5a1.2 1.2 0 1 0 2.4 0a1.2 1.2 0 1 0 -2.4 0M79.1 67.6a1.2 1.2 0 1 0 2.4 0a1.2 1.2 0 1 0 -2.4 0M120 10.5a1.1 1.1 0 1 0 2.2 0a1.1 1.1 0 1 0 -2.2 0M100.4 60.2a1.1 1.1 0 1 0 2.1 0a1.1 1.1 0 1 0 -2.1 0M123.3 135.5a1 1 0 1 0 2 0a1 1 0 1 0 -2 0M178.5 111.3a1 1 0 1 0 2.1 0a1 1 0 1 0 -2.1 0M129.9 76.6a1.1 1.1 0 1 0 2.1 0a1.1 1.1 0 1 0 -2.1 0M93.1 158.3a1.1 1.1 0 1 0 2.2 0a1.1 1.1 0 1 0 -2.2 0M153.5 119.7a1 1 0 1 0 2.1 0a1 1 0 1 0 -2.1 0M46.8 85.5a1.1 1.1 0 1 0 2.3 0a1.1 1.1 0 1 0 -2.3 0M152.4 98.9a1.2 1.2 0 1 0 2.4 0a1.2 1.2 0 1 0 -2.4 0M88.7 45.5a1.2 1.2 0 1 0 2.4 0a1.2 1.2 0 1 0 -2.4 0M162.6 119.1a1.2 1.2 0 1 0 2.5 0a1.2 1.2 0 1 0 -2.5 0M171 42.2a1.1 1.1 0 1 0 2.1 0a1.1 1.1 0 1 0 -2.1 0M136.6 76.4a1.1 1.1 0 1 0 2.3 0a1.1 1.1 0 1 0 -2.3 0M121.7 48.5a1.1 1.1 0 1 0 2.3 0a1.1 1.1 0 1 0 -2.3 0M101.4 63.8a1.1 1.1 0 1 0 2.3 0a1.1 1.1 0 1 0 -2.3 0M164.2 80.2a1 1 0 1 0 2.1 0a1 1 0 1 0 -2.1 0M121.9 51.5a1.1 1.1 0 1 0 2.2 0a1.1 1.1 0 1 0 -2.2 0M96.1 157.2a1.2 1.2 0 1 0 2.4 0a1.2 1.2 0 1 0 -2.4 0M148.4 125.1a1.1 1.1 0 1 0 2.3 0a1.1 1.1 0 1 0 -2.3 0M143.4 102.9a1.1 1.1 0 1 0 2.3 0a1.1 1.1 0 1 0 -2.3 0M132.7 75.7a1.2 1.2 0 1 0 2.3 0a1.2 1.2 0 1 0 -2.3 0M127.5 31.4a1.1 1.1 0 1 0 2.1 0a1.1 1.1 0 1 0 -2.1 0M162 78.1a1.1 1.1 0 1 0 2.2 0a1.1 1.1 0 1 0 -2.2 0M100.3 65a1.2 1.2 0 1 0 2.4 0a1.2 1.2 0 1 0 -2.4 0M168.1 35.3a1.2 1.2 0 1 0 2.5 0a1.2 1.2 0 1 0 -2.5 0M79.5 135.1a1.1 1.1 0 1 0 2.2 0a1.1 1.1 0 1 0 -2.2 0M142 74.9a1.1 1.1 0 1 0 2.2 0a1.1 1.1 0 1 0 -2.2 0M159.9 132.5a1.2 1.2 0 1 0 2.5 0a1.2 1.2 0 1 0 -2.5 0M163.1 132.6a1.1 1.1 0 1 0 2.2 0a1.1 1.1 0 1 0 -2.2 0M130.6 145.3a1.2 1.2 0 1 0 2.4 0a1.2 1.2 0 1 0 -2.4 0M166.8 24.5a1.1 1.1 0 1 0 2.2 0a1.1 1.1 0 1 0 -2.2 0M133.8 62.3a1.1 1.1 0 1 0 2.2 0a1.1 1.1 0 1 0 -2.2 0M86.7 131a1 1 0 1 0 2 0a1 1 0 1 0 -2 0M145.8 106.4a1.1 1.1 0 1 0 2.2 0a1.1 1.1 0 1 0 -2.2 0M71.8 55.3a1 1 0 1 0 2 0a1 1 0 1 0 -2 0M147 124.2a1.2 1.2 0 1 0 2.5 0a1.2 1.2 0 1 0 -2.5 0M95.6 165.1a1.1 1.1 0 1 0 2.3 0a1.1 1.1 0 1 0 -2.3 0M171.8 88a1.1 1.1 0 1 0 2.2 0a1.1 1.1 0 1 0 -2.2 0M148.2 66.4a1.2 1.2 0 1 0 2.4 0a1.2 1.2 0 1 0 -2.4 0M144 58.7a1.1 1.1 0 1 0 2.2 0a1.1 1.1 0 1 0 -2.2 0M163.5 103.1a1 1 0 1 0 2.1 0a1 1 0 1 0 -2.1 0M166.6 103.6a1.1 1.1 0 1 0 2.2 0a1.1 1.1 0 1 0 -2.2 0M167.4 111.1a1 1 0 1 0 2 0a1 1 0 1 0 -2 0M134 1.9a1.2 1.2 0 1 0 2.3 0a1.2 1.2 0 1 0 -2.3 0M114.4 52.3a1.2 1.2 0 1 0 2.4 0a1.2 1.2 0 1 0 -2.4 0M162.8 63.8a1.2 1.2 0 1 0 2.4 0a1.2 1.2 0 1 0 -2.4 0M112.5 32a1.1 1.1 0 1 0 2.1 0a1.1 1.1 0 1 0 -2.1 0M71.2 88a1.1 1.1 0 1 0 2.2 0a1.1 1.1 0 1 0 -2.2 0M122.1 166.9a1.2 1.2 0 1 0 2.3 0a1.2 1.2 0 1 0 -2.3 0M149.9 98.7a1.1 1.1 0 1 0 2.3 0a1.1 1.1 0 1 0 -2.3 0M132.9 64.6a1.2 1.2 0 1 0 2.5 0a1.2 1.2 0 1 0 -2.5 0M159.6 121.5a1.2 1.2 0 1 0 2.5 0a1.2 1.2 0 1 0 -2.5 0M174.4 87a1.1 1.1 0 1 0 2.2 0a1.1 1.1 0 1 0 -2.2 0M81.7 48.8a1 1 0 1 0 2 0a1 1 0 1 0 -2 0M160 74.5a1.2 1.2 0 1 0 2.4 0a1.2 1.2 0 1 0 -2.4 0M152.3 86.8a1.2 1.2 0 1 0 2.5 0a1.2 1.2 0 1 0 -2.5 0M98.1 31.9a1.1 1.1 0 1 0 2.3 0a1.1 1.1 0 1 0 -2.3 0M180.8 107.8a1 1 0 1 0 2.1 0a1 1 0 1 0 -2.1 0M82.4 133.4a1.1 1.1 0 1 0 2.2 0a1.1 1.1 0 1 0 -2.2 0M101.1 139.4a1.2 1.2 0 1 0 2.3 0a1.2 1.2 0 1 0 -2.3 0M142.9 54.7a1.2 1.2 0 1 0 2.5 0a1.2 1.2 0 1 0 -2.5 0M150.8 51.4a1 1 0 1 0 2.1 0a1 1 0 1 0 -2.1 0M153.8 131.5a1.1 1.1 0 1 0 2.2 0a1.1 1.1 0 1 0 -2.2 0M73.2 69.7a1.2 1.2 0 1 0 2.4 0a1.2 1.2 0 1 0 -2.4 0M169.3 114.4a1 1 0 1 0 2 0a1 1 0 1 0 -2 0M163.9 99.8a1 1 0 1 0 2.1 0a1 1 0 1 0 -2.1 0M94.3 62.2a1 1 0 1 0 2 0a1 1 0 1 0 -2 0M143.6 72.5a1.2 1.2 0 1 0 2.4 0a1.2 1.2 0 1 0 -2.4 0M114.8 146.4a1 1 0 1 0 2.1 0a1 1 0 1 0 -2.1 0M110.7 149.6a1.2 1.2 0 1 0 2.3 0a1.2 1.2 0 1 0 -2.3 0M162.2 61a1 1 0 1 0 2.1 0a1 1 0 1 0 -2.1 0M181 50.4a1 1 0 1 0 2.1 0a1 1 0 1 0 -2.1 0M134.2 67.6a1 1 0 1 0 2.1 0a1 1 0 1 0 -2.1 0M78 69.4a1.1 1.1 0 1 0 2.1 0a1.1 1.1 0 1 0 -2.1 0M117.1 63a1.2 1.2 0 1 0 2.4 0a1.2 1.2 0 1 0 -2.4 0M110.6 156.7a1.2 1.2 0 1 0 2.3 0a1.2 1.2 0 1 0 -2.3 0M90.9 142.2a1.2 1.2 0 1 0 2.3 0a1.2 1.2 0 1 0 -2.3 0M132.9 81.8a1.2 1.2 0 1 0 2.4 0a1.2 1.2 0 1 0 -2.4 0M148.2 84.4a1.1 1.1 0 1 0 2.1 0a1.1 1.1 0 1 0 -2.1 0M128.7 26.2a1.2 1.2 0 1 0 2.3 0a1.2 1.2 0 1 0 -2.3 0M104.2 15a1.1 1.1 0 1 0 2.2 0a1.1 1.1 0 1 0 -2.2 0M62.3 150.9a1 1 0 1 0 2.1 0a1 1 0 1 0 -2.1 0M146.7 81.3a1 1 0 1 0 2 0a1 1 0 1 0 -2 0M134.1 59.2a1.1 1.1 0 1 0 2.2 0a1.1 1.1 0 1 0 -2.2 0M128.5 120.3a1.2 1.2 0 1 0 2.4 0a1.2 1.2 0 1 0 -2.4 0M89.6 137.1a1.1 1.1 0 1 0 2.3 0a1.1 1.1 0 1 0 -2.3 0M167.9 89.7a1.1 1.1 0 1 0 2.2 0a1.1 1.1 0 1 0 -2.2 0M129.7 131.2a1.2 1.2 0 1 0 2.3 0a1.2 1.2 0 1 0 -2.3 0M73.6 118.5a1.1 1.1 0 1 0 2.2 0a1.1 1.1 0 1 0 -2.2 0M119.2 23.5a1 1 0 1 0 2.1 0a1 1 0 1 0 -2.1 0M98.1 71.8a1.2 1.2 0 1 0 2.3 0a1.2 1.2 0 1 0 -2.3 0M93.2 139.2a1.2 1.2 0 1 0 2.5 0a1.2 1.2 0 1 0 -2.5 0M168.2 44.5a1 1 0 1 0 2 0a1 1 0 1 0 -2 0M129.3 163.9a1.2 1.2 0 1 0 2.5 0a1.2 1.2 0 1 0 -2.5 0M140.1 42.1a1.1 1.1 0 1 0 2.1 0a1.1 1.1 0 1 0 -2.1 0M74.2 122.4a1.2 1.2 0 1 0 2.4 0a1.2 1.2 0 1 0 -2.4 0M146.1 42.6a1 1 0 1 0 2 0a1 1 0 1 0 -2 0M123.2 87.2a1.1 1.1 0 1 0 2.2 0a1.1 1.1 0 1 0 -2.2 0M75 152.9a1.1 1.1 0 1 0 2.1 0a1.1 1.1 0 1 0 -2.1 0M40.3 140.3a1 1 0 1 0 2.1 0a1 1 0 1 0 -2.1 0M107.9 120.6a1 1 0 1 0 2.1 0a1 1 0 1 0 -2.1 0M123.1 86.9a1.2 1.2 0 1 0 2.4 0a1.2 1.2 0 1 0 -2.4 0M151.7 101.8a1 1 0 1 0 2.1 0a1 1 0 1 0 -2.1 0M120 40.8a1 1 0 1 0 2.1 0a1 1 0 1 0 -2.1 0M147.1 52.5a1.1 1.1 0 1 0 2.1 0a1.1 1.1 0 1 0 -2.1 0M157.1 54.4a1.2 1.2 0 1 0 2.5 0a1.2 1.2 0 1 0 -2.5 0M134.1 72.7a1 1 0 1 0 2.1 0a1 1 0 1 0 -2.1 0M180.5 73.4a1.1 1.1 0 1 0 2.3 0a1.1 1.1 0 1 0 -2.3 0M148.5 71.8a1.2 1.2 0 1 0 2.3 0a1.2 1.2 0 1 0 -2.3 0M69.7 129.9a1 1 0 1 0 2.1 0a1 1 0 1 0 -2.1 0M117.4 51.4a1.1 1.1 0 1 0 2.1 0a1.1 1.1 0 1 0 -2.1 0M172.5 93.1a1.1 1.1 0 1 0 2.1 0a1.1 1.1 0 1 0 -2.1 0M164 59.3a1.1 1.1 0 1 0 2.3 0a1.1 1.1 0 1 0 -2.3 0" fill="#fff" opacity="0.8"/>
<path d="M153.5 27.3a0.5 0.5 0 1 0 1.1 0a0.5 0.5 0 1 0 -1.1 0M174.1 89.5a0.5 0.5 0 1 0 1.1 0a0.5 0.5 0 1 0 -1.1 0M151.7 125.3a0.5 0.5 0 1 0 1 0a0.5 0.5 0 1 0 -1 0M151.8 73.2a0.5 0.5 0 1 0 1.1 0a0.5 0.5 0 1 0 -1.1 0M81.8 58.9a0.5 0.5 0 1 0 1.1 0a0.5 0.5 0 1 0 -1.1 0M106.3 121.9a0.5 0.5 0 1 0 1 0a0.5 0.5 0 1 0 -1 0M140.1 69.9a0.5 0.5 0 1 0 1 0a0.5 0.5 0 1 0 -1 0M98.9 54.1a0.6 0.6 0 1 0 1.1 0a0.6 0.6 0 1 0 -1.1 0M162.5 94a0.5 0.5 0 1 0 1.1 0a0.5 0.5 0 1 0 -1.1 0M123.4 138.5a0.5 0.5 0 1 0 1.1 0a0.5 0.5 0 1 0 -1.1 0M129.1 154.8a0.5 0.5 0 1 0 1.1 0a0.5 0.5 0 1 0 -1.1 0M159.3 93.3a0.5 0.5 0 1 0 1 0a0.5 0.5 0 1 0 -1 0M124.1 131.1a0.6 0.6 0 1 0 1.1 0a0.6 0.6 0 1 0 -1.1 0M169.1 27.5a0.5 0.5 0 1 0 1 0a0.5 0.5 0 1 0 -1 0M66.8 164.6a0.5 0.5 0 1 0 1 0a0.5 0.5 0 1 0 -1 0M119.8 125.9a0.5 0.5 0 1 0 1.1 0a0.5 0.5 0 1 0 -1.1 0M101.4 40.3a0.5 0.5 0 1 0 1 0a0.5 0.5 0 1 0 -1 0M177.6 120.6a0.5 0.5 0 1 0 1 0a0.5 0.5 0 1 0 -1 0M127.4 50a0.6 0.6 0 1 0 1.1 0a0.6 0.6 0 1 0 -1.1 0M149.4 114.6a0.5 0.5 0 1 0 1 0a0.5 0.5 0 1 0 -1 0M152.9 134.4a0.5 0.5 0 1 0 1.1 0a0.5 0.5 0 1 0 -1.1 0M163 82.1a0.6 0.6 0 1 0 1.1 0a0.6 0.6 0 1 0 -1.1 0M127.1 120.9a0.6 0.6 0 1 0 1.1 0a0.6 0.6 0 1 0 -1.1 0M143.4 30.1a0.5 0.5 0 1 0 1.1 0a0.5 0.5 0 1 0 -1.1 0M142.6 37.9a0.5 0.5 0 1 0 1.1 0a0.5 0.5 0 1 0 -1.1 0M127 135.5a0.5 0.5 0 1 0 1 0a0.5 0.5 0 1 0 -1 0M121 47.2a0.6 0.6 0 1 0 1.1 0a0.6 0.6 0 1 0 -1.1 0M168.9 68a0.5 0.5 0 1 0 1.1 0a0.5 0.5 0 1 0 -1.1 0M104.5 46.7a0.5 0.5 0 1 0 1.1 0a0.5 0.5 0 1 0 -1.1 0M135.3 58.9a0.8 0.8 0 1 0 1.5 0a0.8 0.8 0 1 0 -1.5 0M145 87.6a0.9 0.9 0 1 0 1.8 0a0.9 0.9 0 1 0 -1.8 0M169.6 86.5a0.7 0.7 0 1 0 1.4 0a0.7 0.7 0 1 0 -1.4 0M151.7 81.7a0.6 0.6 0 1 0 1.1 0a0.6 0.6 0 1 0 -1.1 0M94.1 167.2a0.8 0.8 0 1 0 1.6 0a0.8 0.8 0 1 0 -1.6 0M174.5 62.6a0.8 0.8 0 1 0 1.6 0a0.8 0.8 0 1 0 -1.6 0M125.4 75.6a0.8 0.8 0 1 0 1.7 0a0.8 0.8 0 1 0 -1.7 0M93.2 33.5a0.6 0.6 0 1 0 1.1 0a0.6 0.6 0 1 0 -1.1 0M117.5 22.8a0.7 0.7 0 1 0 1.3 0a0.7 0.7 0 1 0 -1.3 0M153 88.2a0.9 0.9 0 1 0 1.7 0a0.9 0.9 0 1 0 -1.7 0M137 38.6a0.7 0.7 0 1 0 1.3 0a0.7 0.7 0 1 0 -1.3 0M91.5 133.2a0.9 0.9 0 1 0 1.7 0a0.9 0.9 0 1 0 -1.7 0M130.6 67.1a0.8 0.8 0 1 0 1.6 0a0.8 0.8 0 1 0 -1.6 0M140.5 126.2a0.7 0.7 0 1 0 1.5 0a0.7 0.7 0 1 0 -1.5 0M141.1 69.8a0.8 0.8 0 1 0 1.6 0a0.8 0.8 0 1 0 -1.6 0M79.7 52.9a0.6 0.6 0 1 0 1.2 0a0.6 0.6 0 1 0 -1.2 0M173.5 86.8a0.6 0.6 0 1 0 1.2 0a0.6 0.6 0 1 0 -1.2 0M163.9 69.1a0.6 0.6 0 1 0 1.2 0a0.6 0.6 0 1 0 -1.2 0M120.1 142.8a0.6 0.6 0 1 0 1.2 0a0.6 0.6 0 1 0 -1.2 0M105.3 136.9a0.9 0.9 0 1 0 1.8 0a0.9 0.9 0 1 0 -1.8 0M79.8 128a0.6 0.6 0 1 0 1.2 0a0.6 0.6 0 1 0 -1.2 0M167.9 51.3a0.8 0.8 0 1 0 1.6 0a0.8 0.8 0 1 0 -1.6 0M151.8 70.6a0.9 0.9 0 1 0 1.8 0a0.9 0.9 0 1 0 -1.8 0M148.8 84a0.5 0.5 0 1 0 1 0a0.5 0.5 0 1 0 -1 0M159.1 29.7a0.7 0.7 0 1 0 1.3 0a0.7 0.7 0 1 0 -1.3 0M117.5 32.9a0.6 0.6 0 1 0 1.2 0a0.6 0.6 0 1 0 -1.2 0M175.4 66.2a0.8 0.8 0 1 0 1.5 0a0.8 0.8 0 1 0 -1.5 0M91.9 142.1a0.7 0.7 0 1 0 1.4 0a0.7 0.7 0 1 0 -1.4 0M146.2 80.5a0.8 0.8 0 1 0 1.5 0a0.8 0.8 0 1 0 -1.5 0M155.9 113.4a0.7 0.7 0 1 0 1.5 0a0.7 0.7 0 1 0 -1.5 0M68.9 143.8a0.7 0.7 0 1 0 1.4 0a0.7 0.7 0 1 0 -1.4 0M86.9 64.4a0.6 0.6 0 1 0 1.3 0a0.6 0.6 0 1 0 -1.3 0M150.6 96a0.6 0.6 0 1 0 1.2 0a0.6 0.6 0 1 0 -1.2 0M144.6 75.5a0.8 0.8 0 1 0 1.6 0a0.8 0.8 0 1 0 -1.6 0M147.4 107a0.6 0.6 0 1 0 1.2 0a0.6 0.6 0 1 0 -1.2 0M156.6 132.1a0.9 0.9 0 1 0 1.8 0a0.9 0.9 0 1 0 -1.8 0M154.9 99.2a0.5 0.5 0 1 0 1 0a0.5 0.5 0 1 0 -1 0M109 168.1a0.6 0.6 0 1 0 1.3 0a0.6 0.6 0 1 0 -1.3 0M144.2 158.5a0.5 0.5 0 1 0 1 0a0.5 0.5 0 1 0 -1 0M143.5 79.1a0.9 0.9 0 1 0 1.7 0a0.9 0.9 0 1 0 -1.7 0M162.1 27.4a0.5 0.5 0 1 0 1 0a0.5 0.5 0 1 0 -1 0M164.1 63.7a0.6 0.6 0 1 0 1.3 0a0.6 0.6 0 1 0 -1.3 0M92.6 69.6a0.5 0.5 0 1 0 1 0a0.5 0.5 0 1 0 -1 0M148.6 123.8a0.6 0.6 0 1 0 1.1 0a0.6 0.6 0 1 0 -1.1 0M178.8 95.4a0.6 0.6 0 1 0 1.2 0a0.6 0.6 0 1 0 -1.2 0M103.4 7.2a0.6 0.6 0 1 0 1.2 0a0.6 0.6 0 1 0 -1.2 0M145.7 93.2a0.7 0.7 0 1 0 1.5 0a0.7 0.7 0 1 0 -1.5 0M50.3 79.9a0.6 0.6 0 1 0 1.1 0a0.6 0.6 0 1 0 -1.1 0M114.3 123.5a0.7 0.7 0 1 0 1.4 0a0.7 0.7 0 1 0 -1.4 0M65.7 58.1a0.8 0.8 0 1 0 1.5 0a0.8 0.8 0 1 0 -1.5 0M105.6 159.4a0.6 0.6 0 1 0 1.2 0a0.6 0.6 0 1 0 -1.2 0M114 131.4a0.5 0.5 0 1 0 1.1 0a0.5 0.5 0 1 0 -1.1 0M75.2 40.5a0.8 0.8 0 1 0 1.5 0a0.8 0.8 0 1 0 -1.5 0M92.8 65.6a0.6 0.6 0 1 0 1.1 0a0.6 0.6 0 1 0 -1.1 0M150.1 112.8a0.6 0.6 0 1 0 1.2 0a0.6 0.6 0 1 0 -1.2 0M107.9 29a0.7 0.7 0 1 0 1.5 0a0.7 0.7 0 1 0 -1.5 0M102.2 35a0.8 0.8 0 1 0 1.5 0a0.8 0.8 0 1 0 -1.5 0M112.3 72.8a0.7 0.7 0 1 0 1.3 0a0.7 0.7 0 1 0 -1.3 0M164.5 79.3a0.5 0.5 0 1 0 1.1 0a0.5 0.5 0 1 0 -1.1 0M147.6 69.2a0.5 0.5 0 1 0 1.1 0a0.5 0.5 0 1 0 -1.1 0M75.9 58.2a0.9 0.9 0 1 0 1.8 0a0.9 0.9 0 1 0 -1.8 0M153.9 78a0.6 0.6 0 1 0 1.2 0a0.6 0.6 0 1 0 -1.2 0M141.6 94.1a0.8 0.8 0 1 0 1.5 0a0.8 0.8 0 1 0 -1.5 0M95.5 135.2a0.7 0.7 0 1 0 1.3 0a0.7 0.7 0 1 0 -1.3 0M162.2 116a0.7 0.7 0 1 0 1.5 0a0.7 0.7 0 1 0 -1.5 0M133.1 110.5a0.6 0.6 0 1 0 1.2 0a0.6 0.6 0 1 0 -1.2 0M114.6 61.7a0.6 0.6 0 1 0 1.2 0a0.6 0.6 0 1 0 -1.2 0M179 35.5a0.7 0.7 0 1 0 1.3 0a0.7 0.7 0 1 0 -1.3 0M116.3 137a0.7 0.7 0 1 0 1.3 0a0.7 0.7 0 1 0 -1.3 0M149.9 133.7a0.8 0.8 0 1 0 1.7 0a0.8 0.8 0 1 0 -1.7 0M142.8 57a0.8 0.8 0 1 0 1.7 0a0.8 0.8 0 1 0 -1.7 0M120 158a0.8 0.8 0 1 0 1.6 0a0.8 0.8 0 1 0 -1.6 0M166.8 97.8a0.8 0.8 0 1 0 1.7 0a0.8 0.8 0 1 0 -1.7 0M124.5 22.2a0.7 0.7 0 1 0 1.3 0a0.7 0.7 0 1 0 -1.3 0M165.3 77.5a0.8 0.8 0 1 0 1.6 0a0.8 0.8 0 1 0 -1.6 0M147.7 31.2a0.9 0.9 0 1 0 1.7 0a0.9 0.9 0 1 0 -1.7 0M163.5 76.4a0.6 0.6 0 1 0 1.3 0a0.6 0.6 0 1 0 -1.3 0M129.9 20.4a0.8 0.8 0 1 0 1.7 0a0.8 0.8 0 1 0 -1.7 0M100.7 19.3a0.7 0.7 0 1 0 1.4 0a0.7 0.7 0 1 0 -1.4 0M166 92.3a0.9 0.9 0 1 0 1.7 0a0.9 0.9 0 1 0 -1.7 0M166.1 130.1a0.7 0.7 0 1 0 1.5 0a0.7 0.7 0 1 0 -1.5 0M160 92a0.8 0.8 0 1 0 1.6 0a0.8 0.8 0 1 0 -1.6 0M165.8 83.4a0.6 0.6 0 1 0 1.3 0a0.6 0.6 0 1 0 -1.3 0M125.5 88.4a0.8 0.8 0 1 0 1.6 0a0.8 0.8 0 1 0 -1.6 0M157.1 96.3a0.7 0.7 0 1 0 1.4 0a0.7 0.7 0 1 0 -1.4 0M115.6 125.6a0.5 0.5 0 1 0 1.1 0a0.5 0.5 0 1 0 -1.1 0M154.3 91.9a0.6 0.6 0 1 0 1.3 0a0.6 0.6 0 1 0 -1.3 0M155.1 43.1a0.7 0.7 0 1 0 1.4 0a0.7 0.7 0 1 0 -1.4 0M173.5 121.4a0.6 0.6 0 1 0 1.1 0a0.6 0.6 0 1 0 -1.1 0M72.5 122.2a0.8 0.8 0 1 0 1.6 0a0.8 0.8 0 1 0 -1.6 0M127.4 72.6a0.8 0.8 0 1 0 1.5 0a0.8 0.8 0 1 0 -1.5 0M159.4 63.2a0.5 0.5 0 1 0 1 0a0.5 0.5 0 1 0 -1 0M110.4 148.4a0.7 0.7 0 1 0 1.4 0a0.7 0.7 0 1 0 -1.4 0M142.3 101.6a0.7 0.7 0 1 0 1.3 0a0.7 0.7 0 1 0 -1.3 0M155.2 135.9a0.6 0.6 0 1 0 1.2 0a0.6 0.6 0 1 0 -1.2 0M125 83.6a0.8 0.8 0 1 0 1.6 0a0.8 0.8 0 1 0 -1.6 0M175.4 35a0.6 0.6 0 1 0 1.2 0a0.6 0.6 0 1 0 -1.2 0M99.6 29.5a0.7 0.7 0 1 0 1.4 0a0.7 0.7 0 1 0 -1.4 0M58.7 93.8a0.7 0.7 0 1 0 1.5 0a0.7 0.7 0 1 0 -1.5 0M137.5 113.6a0.6 0.6 0 1 0 1.2 0a0.6 0.6 0 1 0 -1.2 0M173.8 92.2a0.7 0.7 0 1 0 1.5 0a0.7 0.7 0 1 0 -1.5 0M162.3 116.7a0.7 0.7 0 1 0 1.5 0a0.7 0.7 0 1 0 -1.5 0M162.9 132a0.8 0.8 0 1 0 1.6 0a0.8 0.8 0 1 0 -1.6 0M160.4 121.9a0.6 0.6 0 1 0 1.1 0a0.6 0.6 0 1 0 -1.1 0M123.6 69.6a0.7 0.7 0 1 0 1.4 0a0.7 0.7 0 1 0 -1.4 0M155 127.7a0.6 0.6 0 1 0 1.3 0a0.6 0.6 0 1 0 -1.3 0M142.4 33.7a0.6 0.6 0 1 0 1.2 0a0.6 0.6 0 1 0 -1.2 0M169.8 110a0.5 0.5 0 1 0 1 0a0.5 0.5 0 1 0 -1 0M123.8 58.6a0.5 0.5 0 1 0 1 0a0.5 0.5 0 1 0 -1 0M125.2 128a0.8 0.8 0 1 0 1.7 0a0.8 0.8 0 1 0 -1.7 0M85.5 111.4a0.6 0.6 0 1 0 1.2 0a0.6 0.6 0 1 0 -1.2 0M144.5 25.3a0.7 0.7 0 1 0 1.4 0a0.7 0.7 0 1 0 -1.4 0M92.3 21.1a0.7 0.7 0 1 0 1.4 0a0.7 0.7 0 1 0 -1.4 0M65.9 140.3a0.7 0.7 0 1 0 1.4 0a0.7 0.7 0 1 0 -1.4 0M97.5 142.9a0.9 0.9 0 1 0 1.8 0a0.9 0.9 0 1 0 -1.8 0M82 84a0.6 0.6 0 1 0 1.1 0a0.6 0.6 0 1 0 -1.1 0M137.4 97.4a0.7 0.7 0 1 0 1.5 0a0.7 0.7 0 1 0 -1.5 0M140.8 80a0.6 0.6 0 1 0 1.2 0a0.6 0.6 0 1 0 -1.2 0M139.6 73.1a0.6 0.6 0 1 0 1.1 0a0.6 0.6 0 1 0 -1.1 0M139.3 101a0.7 0.7 0 1 0 1.4 0a0.7 0.7 0 1 0 -1.4 0M133.4 36.5a0.7 0.7 0 1 0 1.4 0a0.7 0.7 0 1 0 -1.4 0M181.2 121.8a0.8 0.8 0 1 0 1.7 0a0.8 0.8 0 1 0 -1.7 0M128.5 153a0.6 0.6 0 1 0 1.2 0a0.6 0.6 0 1 0 -1.2 0M72.5 144a0.9 0.9 0 1 0 1.8 0a0.9 0.9 0 1 0 -1.8 0M170.7 47.9a0.6 0.6 0 1 0 1.3 0a0.6 0.6 0 1 0 -1.3 0M92.6 144.8a0.6 0.6 0 1 0 1.2 0a0.6 0.6 0 1 0 -1.2 0M137.6 56.7a0.6 0.6 0 1 0 1.2 0a0.6 0.6 0 1 0 -1.2 0M143.8 64.6a0.5 0.5 0 1 0 1 0a0.5 0.5 0 1 0 -1 0M127.9 62.6a0.6 0.6 0 1 0 1.2 0a0.6 0.6 0 1 0 -1.2 0M97.6 37.1a0.7 0.7 0 1 0 1.5 0a0.7 0.7 0 1 0 -1.5 0M140 63.6a0.5 0.5 0 1 0 1.1 0a0.5 0.5 0 1 0 -1.1 0M73.2 133.8a0.8 0.8 0 1 0 1.5 0a0.8 0.8 0 1 0 -1.5 0M146.9 66.7a0.8 0.8 0 1 0 1.5 0a0.8 0.8 0 1 0 -1.5 0M96.7 61.2a0.6 0.6 0 1 0 1.3 0a0.6 0.6 0 1 0 -1.3 0M132.3 138.7a0.8 0.8 0 1 0 1.6 0a0.8 0.8 0 1 0 -1.6 0M156.5 64.3a0.9 0.9 0 1 0 1.8 0a0.9 0.9 0 1 0 -1.8 0M170.4 52.4a0.6 0.6 0 1 0 1.2 0a0.6 0.6 0 1 0 -1.2 0M170.6 63.7a0.6 0.6 0 1 0 1.1 0a0.6 0.6 0 1 0 -1.1 0M136.2 111a0.8 0.8 0 1 0 1.6 0a0.8 0.8 0 1 0 -1.6 0M129.7 129a0.5 0.5 0 1 0 1 0a0.5 0.5 0 1 0 -1 0M118.8 139.2a0.9 0.9 0 1 0 1.7 0a0.9 0.9 0 1 0 -1.7 0M173 112.9a0.8 0.8 0 1 0 1.6 0a0.8 0.8 0 1 0 -1.6 0M153.3 128.7a0.7 0.7 0 1 0 1.4 0a0.7 0.7 0 1 0 -1.4 0M102.8 142.4a0.5 0.5 0 1 0 1.1 0a0.5 0.5 0 1 0 -1.1 0M142.3 118.7a0.9 0.9 0 1 0 1.7 0a0.9 0.9 0 1 0 -1.7 0M129.6 136.7a0.9 0.9 0 1 0 1.8 0a0.9 0.9 0 1 0 -1.8 0M145.4 62.8a0.7 0.7 0 1 0 1.4 0a0.7 0.7 0 1 0 -1.4 0M112.5 136.4a0.7 0.7 0 1 0 1.3 0a0.7 0.7 0 1 0 -1.3 0M150.7 68.6a0.8 0.8 0 1 0 1.7 0a0.8 0.8 0 1 0 -1.7 0M109.5 39.3a0.8 0.8 0 1 0 1.6 0a0.8 0.8 0 1 0 -1.6 0M107.8 61.7a0.7 0.7 0 1 0 1.3 0a0.7 0.7 0 1 0 -1.3 0M109.4 154.7a0.6 0.6 0 1 0 1.2 0a0.6 0.6 0 1 0 -1.2 0M139.5 77.9a0.8 0.8 0 1 0 1.6 0a0.8 0.8 0 1 0 -1.6 0M149.5 90.4a0.8 0.8 0 1 0 1.5 0a0.8 0.8 0 1 0 -1.5 0M111.2 45.9a0.8 0.8 0 1 0 1.6 0a0.8 0.8 0 1 0 -1.6 0M126 106.1a0.7 0.7 0 1 0 1.3 0a0.7 0.7 0 1 0 -1.3 0M75.1 146.9a0.6 0.6 0 1 0 1.2 0a0.6 0.6 0 1 0 -1.2 0M174.1 96a0.8 0.8 0 1 0 1.6 0a0.8 0.8 0 1 0 -1.6 0M115.8 152a0.8 0.8 0 1 0 1.5 0a0.8 0.8 0 1 0 -1.5 0M157 107.1a0.8 0.8 0 1 0 1.6 0a0.8 0.8 0 1 0 -1.6 0M92.2 121.1a0.7 0.7 0 1 0 1.4 0a0.7 0.7 0 1 0 -1.4 0M135.5 124.9a0.8 0.8 0 1 0 1.7 0a0.8 0.8 0 1 0 -1.7 0M168.7 63.8a0.5 0.5 0 1 0 1.1 0a0.5 0.5 0 1 0 -1.1 0M179.9 74a0.6 0.6 0 1 0 1.1 0a0.6 0.6 0 1 0 -1.1 0M180.2 115.7a0.6 0.6 0 1 0 1.1 0a0.6 0.6 0 1 0 -1.1 0M140.3 53.6a0.6 0.6 0 1 0 1.1 0a0.6 0.6 0 1 0 -1.1 0M150.4 70.9a0.7 0.7 0 1 0 1.5 0a0.7 0.7 0 1 0 -1.5 0M133.2 43.8a0.7 0.7 0 1 0 1.4 0a0.7 0.7 0 1 0 -1.4 0M75.9 91.7a0.6 0.6 0 1 0 1.1 0a0.6 0.6 0 1 0 -1.1 0M148.6 128.9a0.5 0.5 0 1 0 1.1 0a0.5 0.5 0 1 0 -1.1 0M154 52.7a0.8 0.8 0 1 0 1.6 0a0.8 0.8 0 1 0 -1.6 0M107.6 46a0.8 0.8 0 1 0 1.6 0a0.8 0.8 0 1 0 -1.6 0M130.2 61.8a0.9 0.9 0 1 0 1.7 0a0.9 0.9 0 1 0 -1.7 0M148.9 96.6a0.7 0.7 0 1 0 1.4 0a0.7 0.7 0 1 0 -1.4 0M171.4 74.6a0.8 0.8 0 1 0 1.6 0a0.8 0.8 0 1 0 -1.6 0M83.2 133.2a0.7 0.7 0 1 0 1.4 0a0.7 0.7 0 1 0 -1.4 0M180.7 56.9a0.6 0.6 0 1 0 1.3 0a0.6 0.6 0 1 0 -1.3 0M177.5 95.7a0.8 0.8 0 1 0 1.6 0a0.8 0.8 0 1 0 -1.6 0M98.1 138.5a0.8 0.8 0 1 0 1.7 0a0.8 0.8 0 1 0 -1.7 0M142.5 66.5a0.6 0.6 0 1 0 1.2 0a0.6 0.6 0 1 0 -1.2 0M80.1 81.5a0.6 0.6 0 1 0 1.2 0a0.6 0.6 0 1 0 -1.2 0M169 90a0.7 0.7 0 1 0 1.5 0a0.7 0.7 0 1 0 -1.5 0M111.5 70.5a0.8 0.8 0 1 0 1.6 0a0.8 0.8 0 1 0 -1.6 0M168.7 135.1a0.5 0.5 0 1 0 1 0a0.5 0.5 0 1 0 -1 0M87.9 88.2a0.6 0.6 0 1 0 1.3 0a0.6 0.6 0 1 0 -1.3 0M124.7 40.9a0.7 0.7 0 1 0 1.3 0a0.7 0.7 0 1 0 -1.3 0M153 117.2a0.8 0.8 0 1 0 1.6 0a0.8 0.8 0 1 0 -1.6 0M144.9 72.5a0.9 0.9 0 1 0 1.7 0a0.9 0.9 0 1 0 -1.7 0M159 47.3a0.8 0.8 0 1 0 1.7 0a0.8 0.8 0 1 0 -1.7 0M78.2 112.8a0.8 0.8 0 1 0 1.7 0a0.8 0.8 0 1 0 -1.7 0M69.3 98.2a0.8 0.8 0 1 0 1.6 0a0.8 0.8 0 1 0 -1.6 0M139.9 133.7a0.7 0.7 0 1 0 1.4 0a0.7 0.7 0 1 0 -1.4 0M76.5 124.3a0.6 0.6 0 1 0 1.2 0a0.6 0.6 0 1 0 -1.2 0M134.4 41.3a0.8 0.8 0 1 0 1.6 0a0.8 0.8 0 1 0 -1.6 0M102.4 161a0.5 0.5 0 1 0 1 0a0.5 0.5 0 1 0 -1 0M102.7 30.1a0.9 0.9 0 1 0 1.8 0a0.9 0.9 0 1 0 -1.8 0M127.2 136.6a0.7 0.7 0 1 0 1.4 0a0.7 0.7 0 1 0 -1.4 0M163.4 69.7a0.7 0.7 0 1 0 1.5 0a0.7 0.7 0 1 0 -1.5 0M146.5 132a0.8 0.8 0 1 0 1.7 0a0.8 0.8 0 1 0 -1.7 0M134.4 136.8a0.7 0.7 0 1 0 1.5 0a0.7 0.7 0 1 0 -1.5 0M103.1 55.8a0.5 0.5 0 1 0 1.1 0a0.5 0.5 0 1 0 -1.1 0M155.3 105a0.6 0.6 0 1 0 1.3 0a0.6 0.6 0 1 0 -1.3 0M100.4 150.9a0.5 0.5 0 1 0 1.1 0a0.5 0.5 0 1 0 -1.1 0M148.2 76.9a0.6 0.6 0 1 0 1.1 0a0.6 0.6 0 1 0 -1.1 0M181.8 81.5a0.6 0.6 0 1 0 1.3 0a0.6 0.6 0 1 0 -1.3 0M93.9 51.8a0.8 0.8 0 1 0 1.7 0a0.8 0.8 0 1 0 -1.7 0M145.6 100.1a0.9 0.9 0 1 0 1.7 0a0.9 0.9 0 1 0 -1.7 0M164.5 107.8a0.6 0.6 0 1 0 1.2 0a0.6 0.6 0 1 0 -1.2 0M163.6 73.8a0.5 0.5 0 1 0 1 0a0.5 0.5 0 1 0 -1 0M78 78a0.7 0.7 0 1 0 1.4 0a0.7 0.7 0 1 0 -1.4 0M141.4 91.3a0.8 0.8 0 1 0 1.6 0a0.8 0.8 0 1 0 -1.6 0M153.6 54.4a0.7 0.7 0 1 0 1.5 0a0.7 0.7 0 1 0 -1.5 0M170.2 34.4a0.5 0.5 0 1 0 1 0a0.5 0.5 0 1 0 -1 0M75.5 49.3a0.6 0.6 0 1 0 1.1 0a0.6 0.6 0 1 0 -1.1 0M171.8 59.7a0.9 0.9 0 1 0 1.8 0a0.9 0.9 0 1 0 -1.8 0M144.2 58.3a0.8 0.8 0 1 0 1.5 0a0.8 0.8 0 1 0 -1.5 0M106.1 38.8a0.6 0.6 0 1 0 1.2 0a0.6 0.6 0 1 0 -1.2 0M174.9 107.6a0.6 0.6 0 1 0 1.1 0a0.6 0.6 0 1 0 -1.1 0M141.1 59.7a0.9 0.9 0 1 0 1.7 0a0.9 0.9 0 1 0 -1.7 0M88.8 144.2a0.7 0.7 0 1 0 1.4 0a0.7 0.7 0 1 0 -1.4 0M154.2 26.1a0.7 0.7 0 1 0 1.4 0a0.7 0.7 0 1 0 -1.4 0M132 134.4a0.7 0.7 0 1 0 1.5 0a0.7 0.7 0 1 0 -1.5 0M129.1 164.4a0.5 0.5 0 1 0 1.1 0a0.5 0.5 0 1 0 -1.1 0M155.1 58.3a0.6 0.6 0 1 0 1.1 0a0.6 0.6 0 1 0 -1.1 0M176.5 56.4a0.8 0.8 0 1 0 1.6 0a0.8 0.8 0 1 0 -1.6 0M93.4 51.4a0.7 0.7 0 1 0 1.4 0a0.7 0.7 0 1 0 -1.4 0M68.2 58.9a0.6 0.6 0 1 0 1.1 0a0.6 0.6 0 1 0 -1.1 0M155 112.3a0.5 0.5 0 1 0 1 0a0.5 0.5 0 1 0 -1 0M150.8 128a0.5 0.5 0 1 0 1.1 0a0.5 0.5 0 1 0 -1.1 0M99.1 144.9a0.5 0.5 0 1 0 1 0a0.5 0.5 0 1 0 -1 0M139.4 109.9a0.7 0.7 0 1 0 1.5 0a0.7 0.7 0 1 0 -1.5 0M139.2 35.1a0.6 0.6 0 1 0 1.3 0a0.6 0.6 0 1 0 -1.3 0M138.4 49.7a0.8 0.8 0 1 0 1.5 0a0.8 0.8 0 1 0 -1.5 0M157.3 97.8a0.8 0.8 0 1 0 1.6 0a0.8 0.8 0 1 0 -1.6 0M95 58.7a0.6 0.6 0 1 0 1.1 0a0.6 0.6 0 1 0 -1.1 0M137.6 107a0.5 0.5 0 1 0 1 0a0.5 0.5 0 1 0 -1 0M107.5 38.8a0.6 0.6 0 1 0 1.1 0a0.6 0.6 0 1 0 -1.1 0M134.6 67.2a0.6 0.6 0 1 0 1.2 0a0.6 0.6 0 1 0 -1.2 0M142.6 58.4a0.8 0.8 0 1 0 1.6 0a0.8 0.8 0 1 0 -1.6 0M105.4 66a0.6 0.6 0 1 0 1.3 0a0.6 0.6 0 1 0 -1.3 0M136.2 133.7a0.6 0.6 0 1 0 1.1 0a0.6 0.6 0 1 0 -1.1 0M125.4 67.8a0.6 0.6 0 1 0 1.2 0a0.6 0.6 0 1 0 -1.2 0M72.4 134.6a0.8 0.8 0 1 0 1.5 0a0.8 0.8 0 1 0 -1.5 0M162.6 82.9a0.9 0.9 0 1 0 1.8 0a0.9 0.9 0 1 0 -1.8 0M102.9 49.6a0.5 0.5 0 1 0 1 0a0.5 0.5 0 1 0 -1 0M177.4 63.5a0.6 0.6 0 1 0 1.1 0a0.6 0.6 0 1 0 -1.1 0M160.4 55.4a0.6 0.6 0 1 0 1.1 0a0.6 0.6 0 1 0 -1.1 0M144.7 50.6a0.8 0.8 0 1 0 1.6 0a0.8 0.8 0 1 0 -1.6 0M111.6 147.2a0.5 0.5 0 1 0 1.1 0a0.5 0.5 0 1 0 -1.1 0M138.1 117.1a0.7 0.7 0 1 0 1.3 0a0.7 0.7 0 1 0 -1.3 0M162.3 80.5a0.7 0.7 0 1 0 1.4 0a0.7 0.7 0 1 0 -1.4 0M109.6 137a0.6 0.6 0 1 0 1.3 0a0.6 0.6 0 1 0 -1.3 0M142.9 117.7a0.7 0.7 0 1 0 1.5 0a0.7 0.7 0 1 0 -1.5 0M150.5 131.7a0.7 0.7 0 1 0 1.4 0a0.7 0.7 0 1 0 -1.4 0M99.5 146.9a0.7 0.7 0 1 0 1.4 0a0.7 0.7 0 1 0 -1.4 0M152.1 99.9a0.9 0.9 0 1 0 1.7 0a0.9 0.9 0 1 0 -1.7 0M139.9 24.2a0.7 0.7 0 1 0 1.3 0a0.7 0.7 0 1 0 -1.3 0M181.9 93a0.8 0.8 0 1 0 1.7 0a0.8 0.8 0 1 0 -1.7 0M78.3 138.9a0.7 0.7 0 1 0 1.4 0a0.7 0.7 0 1 0 -1.4 0M114 64.4a0.7 0.7 0 1 0 1.4 0a0.7 0.7 0 1 0 -1.4 0M163.4 100.1a0.8 0.8 0 1 0 1.7 0a0.8 0.8 0 1 0 -1.7 0M164.2 104.6a0.7 0.7 0 1 0 1.4 0a0.7 0.7 0 1 0 -1.4 0M85.2 141.5a0.9 0.9 0 1 0 1.8 0a0.9 0.9 0 1 0 -1.8 0M136.5 141.6a0.7 0.7 0 1 0 1.5 0a0.7 0.7 0 1 0 -1.5 0M114.3 64.9a0.6 0.6 0 1 0 1.2 0a0.6 0.6 0 1 0 -1.2 0M177.3 33.5a0.7 0.7 0 1 0 1.3 0a0.7 0.7 0 1 0 -1.3 0M145.5 131.6a0.6 0.6 0 1 0 1.2 0a0.6 0.6 0 1 0 -1.2 0M141.6 107.8a0.5 0.5 0 1 0 1 0a0.5 0.5 0 1 0 -1 0M171.6 48.5a0.8 0.8 0 1 0 1.6 0a0.8 0.8 0 1 0 -1.6 0M140.1 125a0.7 0.7 0 1 0 1.4 0a0.7 0.7 0 1 0 -1.4 0M121.1 45.1a0.6 0.6 0 1 0 1.3 0a0.6 0.6 0 1 0 -1.3 0M122.7 52.4a0.8 0.8 0 1 0 1.7 0a0.8 0.8 0 1 0 -1.7 0M158.5 128.7a0.9 0.9 0 1 0 1.7 0a0.9 0.9 0 1 0 -1.7 0M152.8 121.6a0.8 0.8 0 1 0 1.5 0a0.8 0.8 0 1 0 -1.5 0M104.8 25.5a0.6 0.6 0 1 0 1.2 0a0.6 0.6 0 1 0 -1.2 0M116.4 29.4a0.7 0.7 0 1 0 1.4 0a0.7 0.7 0 1 0 -1.4 0M157.2 73.3a0.8 0.8 0 1 0 1.6 0a0.8 0.8 0 1 0 -1.6 0M164.2 109.7a0.7 0.7 0 1 0 1.3 0a0.7 0.7 0 1 0 -1.3 0M147.4 71.7a0.7 0.7 0 1 0 1.4 0a0.7 0.7 0 1 0 -1.4 0M101.6 143.6a0.7 0.7 0 1 0 1.4 0a0.7 0.7 0 1 0 -1.4 0M133.1 156.2a0.7 0.7 0 1 0 1.4 0a0.7 0.7 0 1 0 -1.4 0M91.2 42.3a0.7 0.7 0 1 0 1.4 0a0.7 0.7 0 1 0 -1.4 0M66.2 36.2a0.7 0.7 0 1 0 1.4 0a0.7 0.7 0 1 0 -1.4 0M177.2 89.4a0.7 0.7 0 1 0 1.4 0a0.7 0.7 0 1 0 -1.4 0M102.7 80.9a0.7 0.7 0 1 0 1.4 0a0.7 0.7 0 1 0 -1.4 0M65.6 56.3a0.7 0.7 0 1 0 1.4 0a0.7 0.7 0 1 0 -1.4 0M66.8 103.1a0.7 0.7 0 1 0 1.4 0a0.7 0.7 0 1 0 -1.4 0M89.5 77.8a0.7 0.7 0 1 0 1.4 0a0.7 0.7 0 1 0 -1.4 0M94.2 58.7a0.7 0.7 0 1 0 1.4 0a0.7 0.7 0 1 0 -1.4 0M173.1 56.8a0.7 0.7 0 1 0 1.4 0a0.7 0.7 0 1 0 -1.4 0M83.5 112.1a0.7 0.7 0 1 0 1.4 0a0.7 0.7 0 1 0 -1.4 0M103.1 17.9a0.7 0.7 0 1 0 1.4 0a0.7 0.7 0 1 0 -1.4 0M123.1 0.3a0.7 0.7 0 1 0 1.4 0a0.7 0.7 0 1 0 -1.4 0M60.5 125.6a0.7 0.7 0 1 0 1.4 0a0.7 0.7 0 1 0 -1.4 0M21.5 26.9a0.7 0.7 0 1 0 1.4 0a0.7 0.7 0 1 0 -1.4 0M174.7 94.3a0.7 0.7 0 1 0 1.4 0a0.7 0.7 0 1 0 -1.4 0M125.7 60a0.7 0.7 0 1 0 1.4 0a0.7 0.7 0 1 0 -1.4 0M42.8 67.3a0.7 0.7 0 1 0 1.4 0a0.7 0.7 0 1 0 -1.4 0M127.9 160.5a0.7 0.7 0 1 0 1.4 0a0.7 0.7 0 1 0 -1.4 0M73.8 45.4a0.7 0.7 0 1 0 1.4 0a0.7 0.7 0 1 0 -1.4 0M65.7 84.2a0.7 0.7 0 1 0 1.4 0a0.7 0.7 0 1 0 -1.4 0M107.2 164.8a0.7 0.7 0 1 0 1.4 0a0.7 0.7 0 1 0 -1.4 0M157.8 10.2a0.7 0.7 0 1 0 1.4 0a0.7 0.7 0 1 0 -1.4 0M57.3 157.8a0.7 0.7 0 1 0 1.4 0a0.7 0.7 0 1 0 -1.4 0M142.4 90a0.7 0.7 0 1 0 1.4 0a0.7 0.7 0 1 0 -1.4 0M62.7 99.5a0.7 0.7 0 1 0 1.4 0a0.7 0.7 0 1 0 -1.4 0M135.3 161.9a0.7 0.7 0 1 0 1.4 0a0.7 0.7 0 1 0 -1.4 0M91.6 99.1a0.7 0.7 0 1 0 1.4 0a0.7 0.7 0 1 0 -1.4 0M170.1 36.3a0.7 0.7 0 1 0 1.4 0a0.7 0.7 0 1 0 -1.4 0M130 126.4a0.7 0.7 0 1 0 1.4 0a0.7 0.7 0 1 0 -1.4 0M33.9 116.8a0.7 0.7 0 1 0 1.4 0a0.7 0.7 0 1 0 -1.4 0M144.9 113.9a0.7 0.7 0 1 0 1.4 0a0.7 0.7 0 1 0 -1.4 0M28.5 19.7a0.7 0.7 0 1 0 1.4 0a0.7 0.7 0 1 0 -1.4 0M147 166a0.7 0.7 0 1 0 1.4 0a0.7 0.7 0 1 0 -1.4 0M134.9 117.7a0.7 0.7 0 1 0 1.4 0a0.7 0.7 0 1 0 -1.4 0M108.8 105.3a0.7 0.7 0 1 0 1.4 0a0.7 0.7 0 1 0 -1.4 0M146.5 128.7a0.7 0.7 0 1 0 1.4 0a0.7 0.7 0 1 0 -1.4 0" fill="#fff" opacity="0.2"/>
<path d="M178.5 74.2a0.7 0.7 0 1 0 1.4 0a0.7 0.7 0 1 0 -1.4 0M159.6 99.6a0.5 0.5 0 1 0 1.1 0a0.5 0.5 0 1 0 -1.1 0M178 31.1a0.5 0.5 0 1 0 1.1 0a0.5 0.5 0 1 0 -1.1 0M141.8 56.4a0.8 0.8 0 1 0 1.6 0a0.8 0.8 0 1 0 -1.6 0M118.8 31.9a0.7 0.7 0 1 0 1.4 0a0.7 0.7 0 1 0 -1.4 0M78.6 135.5a0.8 0.8 0 1 0 1.6 0a0.8 0.8 0 1 0 -1.6 0M110.9 36.9a0.8 0.8 0 1 0 1.7 0a0.8 0.8 0 1 0 -1.7 0M121.9 117.1a0.7 0.7 0 1 0 1.4 0a0.7 0.7 0 1 0 -1.4 0M146.3 122.4a0.9 0.9 0 1 0 1.7 0a0.9 0.9 0 1 0 -1.7 0M181.3 35.4a0.9 0.9 0 1 0 1.7 0a0.9 0.9 0 1 0 -1.7 0M124.1 111.4a0.8 0.8 0 1 0 1.6 0a0.8 0.8 0 1 0 -1.6 0M134.8 63.3a0.7 0.7 0 1 0 1.4 0a0.7 0.7 0 1 0 -1.4 0M123 68.2a0.9 0.9 0 1 0 1.7 0a0.9 0.9 0 1 0 -1.7 0M58.3 66.9a0.9 0.9 0 1 0 1.8 0a0.9 0.9 0 1 0 -1.8 0M150 117.8a0.7 0.7 0 1 0 1.5 0a0.7 0.7 0 1 0 -1.5 0M117.9 137a0.7 0.7 0 1 0 1.5 0a0.7 0.7 0 1 0 -1.5 0M128.7 151.2a0.8 0.8 0 1 0 1.6 0a0.8 0.8 0 1 0 -1.6 0M105.7 157.2a0.8 0.8 0 1 0 1.6 0a0.8 0.8 0 1 0 -1.6 0M129 143.8a0.6 0.6 0 1 0 1.2 0a0.6 0.6 0 1 0 -1.2 0M146.3 121a0.9 0.9 0 1 0 1.7 0a0.9 0.9 0 1 0 -1.7 0M124.7 52.1a0.8 0.8 0 1 0 1.6 0a0.8 0.8 0 1 0 -1.6 0M134.7 51.1a0.7 0.7 0 1 0 1.4 0a0.7 0.7 0 1 0 -1.4 0M143.5 53.4a0.6 0.6 0 1 0 1.1 0a0.6 0.6 0 1 0 -1.1 0M140.4 25a0.5 0.5 0 1 0 1 0a0.5 0.5 0 1 0 -1 0M139.8 117.8a0.8 0.8 0 1 0 1.6 0a0.8 0.8 0 1 0 -1.6 0M150.6 51a0.6 0.6 0 1 0 1.2 0a0.6 0.6 0 1 0 -1.2 0M180.4 36.5a0.7 0.7 0 1 0 1.3 0a0.7 0.7 0 1 0 -1.3 0M136.5 128.5a0.7 0.7 0 1 0 1.5 0a0.7 0.7 0 1 0 -1.5 0M122.8 132.1a0.7 0.7 0 1 0 1.4 0a0.7 0.7 0 1 0 -1.4 0M87.4 153.8a0.7 0.7 0 1 0 1.4 0a0.7 0.7 0 1 0 -1.4 0M152.2 93.2a0.8 0.8 0 1 0 1.6 0a0.8 0.8 0 1 0 -1.6 0M179 127.6a0.8 0.8 0 1 0 1.7 0a0.8 0.8 0 1 0 -1.7 0M124.5 54.1a0.8 0.8 0 1 0 1.6 0a0.8 0.8 0 1 0 -1.6 0M81.5 135.5a0.7 0.7 0 1 0 1.3 0a0.7 0.7 0 1 0 -1.3 0M168.7 129.6a0.8 0.8 0 1 0 1.6 0a0.8 0.8 0 1 0 -1.6 0M130.3 157.7a0.6 0.6 0 1 0 1.3 0a0.6 0.6 0 1 0 -1.3 0M108.2 136.3a0.9 0.9 0 1 0 1.7 0a0.9 0.9 0 1 0 -1.7 0M136.1 139.9a0.6 0.6 0 1 0 1.3 0a0.6 0.6 0 1 0 -1.3 0M175.1 37.5a0.8 0.8 0 1 0 1.6 0a0.8 0.8 0 1 0 -1.6 0M56.7 139.1a0.7 0.7 0 1 0 1.3 0a0.7 0.7 0 1 0 -1.3 0M19.5 73.1a0.7 0.7 0 1 0 1.3 0a0.7 0.7 0 1 0 -1.3 0M140.2 38.3a0.6 0.6 0 1 0 1.2 0a0.6 0.6 0 1 0 -1.2 0M136.7 104.3a0.8 0.8 0 1 0 1.6 0a0.8 0.8 0 1 0 -1.6 0M135.3 139.9a0.6 0.6 0 1 0 1.3 0a0.6 0.6 0 1 0 -1.3 0M83.4 61a0.6 0.6 0 1 0 1.2 0a0.6 0.6 0 1 0 -1.2 0M164 81a0.6 0.6 0 1 0 1.2 0a0.6 0.6 0 1 0 -1.2 0M108.2 103.1a0.8 0.8 0 1 0 1.5 0a0.8 0.8 0 1 0 -1.5 0M112.3 17.5a0.6 0.6 0 1 0 1.2 0a0.6 0.6 0 1 0 -1.2 0M122.4 136.7a0.6 0.6 0 1 0 1.2 0a0.6 0.6 0 1 0 -1.2 0M133.3 83.4a0.6 0.6 0 1 0 1.3 0a0.6 0.6 0 1 0 -1.3 0M126.1 30.2a0.9 0.9 0 1 0 1.7 0a0.9 0.9 0 1 0 -1.7 0M148.4 73.2a0.5 0.5 0 1 0 1.1 0a0.5 0.5 0 1 0 -1.1 0M123.5 72.7a0.7 0.7 0 1 0 1.4 0a0.7 0.7 0 1 0 -1.4 0M166.8 39.6a0.6 0.6 0 1 0 1.2 0a0.6 0.6 0 1 0 -1.2 0M100.1 42.7a0.5 0.5 0 1 0 1 0a0.5 0.5 0 1 0 -1 0M173 142a0.5 0.5 0 1 0 1.1 0a0.5 0.5 0 1 0 -1.1 0M111.3 58.8a0.6 0.6 0 1 0 1.1 0a0.6 0.6 0 1 0 -1.1 0M104.6 148a0.5 0.5 0 1 0 1 0a0.5 0.5 0 1 0 -1 0M79.7 71.1a0.5 0.5 0 1 0 1 0a0.5 0.5 0 1 0 -1 0M166.1 75.3a0.7 0.7 0 1 0 1.4 0a0.7 0.7 0 1 0 -1.4 0M138.8 129.6a0.9 0.9 0 1 0 1.7 0a0.9 0.9 0 1 0 -1.7 0M110 140.1a0.8 0.8 0 1 0 1.5 0a0.8 0.8 0 1 0 -1.5 0M156.4 86a0.7 0.7 0 1 0 1.4 0a0.7 0.7 0 1 0 -1.4 0M135.2 99a0.7 0.7 0 1 0 1.3 0a0.7 0.7 0 1 0 -1.3 0M175 114.9a0.7 0.7 0 1 0 1.4 0a0.7 0.7 0 1 0 -1.4 0M108.5 22.8a0.6 0.6 0 1 0 1.2 0a0.6 0.6 0 1 0 -1.2 0M155.8 110.3a0.7 0.7 0 1 0 1.4 0a0.7 0.7 0 1 0 -1.4 0M162 87.4a0.8 0.8 0 1 0 1.6 0a0.8 0.8 0 1 0 -1.6 0M139.2 132.3a0.6 0.6 0 1 0 1.1 0a0.6 0.6 0 1 0 -1.1 0M115.3 43.5a0.7 0.7 0 1 0 1.4 0a0.7 0.7 0 1 0 -1.4 0M120.8 57.4a0.8 0.8 0 1 0 1.5 0a0.8 0.8 0 1 0 -1.5 0M146.6 82.2a0.7 0.7 0 1 0 1.4 0a0.7 0.7 0 1 0 -1.4 0M169 105.6a0.7 0.7 0 1 0 1.4 0a0.7 0.7 0 1 0 -1.4 0M95.4 71.4a0.8 0.8 0 1 0 1.7 0a0.8 0.8 0 1 0 -1.7 0M150.1 134.6a0.8 0.8 0 1 0 1.6 0a0.8 0.8 0 1 0 -1.6 0M101 131.1a0.6 0.6 0 1 0 1.2 0a0.6 0.6 0 1 0 -1.2 0M167.4 73.6a0.6 0.6 0 1 0 1.2 0a0.6 0.6 0 1 0 -1.2 0M134.3 117.8a0.9 0.9 0 1 0 1.7 0a0.9 0.9 0 1 0 -1.7 0M127.2 150a0.7 0.7 0 1 0 1.3 0a0.7 0.7 0 1 0 -1.3 0M108.3 136.2a0.6 0.6 0 1 0 1.3 0a0.6 0.6 0 1 0 -1.3 0M134.8 127.6a0.6 0.6 0 1 0 1.1 0a0.6 0.6 0 1 0 -1.1 0M154.6 51a0.8 0.8 0 1 0 1.6 0a0.8 0.8 0 1 0 -1.6 0M86.5 68.1a0.6 0.6 0 1 0 1.3 0a0.6 0.6 0 1 0 -1.3 0M156.6 73.9a0.8 0.8 0 1 0 1.7 0a0.8 0.8 0 1 0 -1.7 0M177.7 117.1a0.9 0.9 0 1 0 1.7 0a0.9 0.9 0 1 0 -1.7 0M164.1 122.5a0.6 0.6 0 1 0 1.2 0a0.6 0.6 0 1 0 -1.2 0M93.7 141.6a0.8 0.8 0 1 0 1.7 0a0.8 0.8 0 1 0 -1.7 0M155.6 77.1a0.6 0.6 0 1 0 1.2 0a0.6 0.6 0 1 0 -1.2 0M145.5 117.7a0.7 0.7 0 1 0 1.3 0a0.7 0.7 0 1 0 -1.3 0M91.3 155.1a0.6 0.6 0 1 0 1.3 0a0.6 0.6 0 1 0 -1.3 0M157.8 44.4a0.8 0.8 0 1 0 1.6 0a0.8 0.8 0 1 0 -1.6 0M153.5 100.7a0.8 0.8 0 1 0 1.7 0a0.8 0.8 0 1 0 -1.7 0M85.2 139.4a0.7 0.7 0 1 0 1.3 0a0.7 0.7 0 1 0 -1.3 0M153 86a0.8 0.8 0 1 0 1.6 0a0.8 0.8 0 1 0 -1.6 0M139.8 87a0.7 0.7 0 1 0 1.3 0a0.7 0.7 0 1 0 -1.3 0M89.9 34.7a0.7 0.7 0 1 0 1.3 0a0.7 0.7 0 1 0 -1.3 0M114.9 156.4a0.8 0.8 0 1 0 1.7 0a0.8 0.8 0 1 0 -1.7 0M78.9 148.5a0.6 0.6 0 1 0 1.2 0a0.6 0.6 0 1 0 -1.2 0M127.5 65.2a0.6 0.6 0 1 0 1.1 0a0.6 0.6 0 1 0 -1.1 0M177.8 89.2a0.8 0.8 0 1 0 1.7 0a0.8 0.8 0 1 0 -1.7 0M178.1 54a0.5 0.5 0 1 0 1 0a0.5 0.5 0 1 0 -1 0M118.1 151.5a0.7 0.7 0 1 0 1.4 0a0.7 0.7 0 1 0 -1.4 0M137.7 115a0.5 0.5 0 1 0 1.1 0a0.5 0.5 0 1 0 -1.1 0M170.3 89.6a0.6 0.6 0 1 0 1.3 0a0.6 0.6 0 1 0 -1.3 0M133.2 33.1a0.7 0.7 0 1 0 1.5 0a0.7 0.7 0 1 0 -1.5 0M169.6 119.6a0.6 0.6 0 1 0 1.2 0a0.6 0.6 0 1 0 -1.2 0M148.6 102.4a0.9 0.9 0 1 0 1.8 0a0.9 0.9 0 1 0 -1.8 0M78 47.2a0.8 0.8 0 1 0 1.6 0a0.8 0.8 0 1 0 -1.6 0M90.7 67.4a0.8 0.8 0 1 0 1.5 0a0.8 0.8 0 1 0 -1.5 0M145.5 68.5a0.7 0.7 0 1 0 1.3 0a0.7 0.7 0 1 0 -1.3 0M167.8 61.9a0.6 0.6 0 1 0 1.2 0a0.6 0.6 0 1 0 -1.2 0M126.9 55.8a0.7 0.7 0 1 0 1.4 0a0.7 0.7 0 1 0 -1.4 0M135.3 82.1a0.6 0.6 0 1 0 1.2 0a0.6 0.6 0 1 0 -1.2 0M160.7 64.2a0.9 0.9 0 1 0 1.8 0a0.9 0.9 0 1 0 -1.8 0M124 48.4a0.8 0.8 0 1 0 1.7 0a0.8 0.8 0 1 0 -1.7 0M175.8 73.5a0.7 0.7 0 1 0 1.4 0a0.7 0.7 0 1 0 -1.4 0M162.4 56.9a0.7 0.7 0 1 0 1.4 0a0.7 0.7 0 1 0 -1.4 0M150.5 43.3a0.7 0.7 0 1 0 1.5 0a0.7 0.7 0 1 0 -1.5 0M156.2 109.8a0.8 0.8 0 1 0 1.6 0a0.8 0.8 0 1 0 -1.6 0M85.9 29.3a0.8 0.8 0 1 0 1.6 0a0.8 0.8 0 1 0 -1.6 0M134.5 143.5a0.6 0.6 0 1 0 1.2 0a0.6 0.6 0 1 0 -1.2 0M158.2 71.3a0.9 0.9 0 1 0 1.7 0a0.9 0.9 0 1 0 -1.7 0M103 31.7a0.7 0.7 0 1 0 1.3 0a0.7 0.7 0 1 0 -1.3 0M60.5 89a0.9 0.9 0 1 0 1.7 0a0.9 0.9 0 1 0 -1.7 0M143.5 34.7a0.5 0.5 0 1 0 1 0a0.5 0.5 0 1 0 -1 0M173.5 34.3a0.5 0.5 0 1 0 1.1 0a0.5 0.5 0 1 0 -1.1 0M71 86.1a0.8 0.8 0 1 0 1.6 0a0.8 0.8 0 1 0 -1.6 0M169.7 119.8a0.9 0.9 0 1 0 1.7 0a0.9 0.9 0 1 0 -1.7 0M168.1 100.1a0.6 0.6 0 1 0 1.2 0a0.6 0.6 0 1 0 -1.2 0M127 35.5a0.6 0.6 0 1 0 1.2 0a0.6 0.6 0 1 0 -1.2 0M133.7 167.4a0.6 0.6 0 1 0 1.2 0a0.6 0.6 0 1 0 -1.2 0M123.8 144.2a0.9 0.9 0 1 0 1.8 0a0.9 0.9 0 1 0 -1.8 0M129.3 74.7a0.6 0.6 0 1 0 1.2 0a0.6 0.6 0 1 0 -1.2 0M117.7 44.6a0.7 0.7 0 1 0 1.4 0a0.7 0.7 0 1 0 -1.4 0M100.9 58.3a0.6 0.6 0 1 0 1.2 0a0.6 0.6 0 1 0 -1.2 0M157.6 40.3a0.8 0.8 0 1 0 1.6 0a0.8 0.8 0 1 0 -1.6 0M102.2 37.9a0.8 0.8 0 1 0 1.5 0a0.8 0.8 0 1 0 -1.5 0M163.9 104.5a0.6 0.6 0 1 0 1.1 0a0.6 0.6 0 1 0 -1.1 0M119.1 148.7a0.6 0.6 0 1 0 1.3 0a0.6 0.6 0 1 0 -1.3 0M169.6 111.4a0.9 0.9 0 1 0 1.8 0a0.9 0.9 0 1 0 -1.8 0M171 97.4a0.7 0.7 0 1 0 1.4 0a0.7 0.7 0 1 0 -1.4 0M140.7 12.5a0.5 0.5 0 1 0 1 0a0.5 0.5 0 1 0 -1 0M78.7 124.5a0.5 0.5 0 1 0 1.1 0a0.5 0.5 0 1 0 -1.1 0M166.3 91.2a0.7 0.7 0 1 0 1.3 0a0.7 0.7 0 1 0 -1.3 0M106.2 54.5a0.7 0.7 0 1 0 1.4 0a0.7 0.7 0 1 0 -1.4 0M141.1 49.8a0.7 0.7 0 1 0 1.4 0a0.7 0.7 0 1 0 -1.4 0M127 79.2a0.7 0.7 0 1 0 1.3 0a0.7 0.7 0 1 0 -1.3 0M80.5 64.1a0.6 0.6 0 1 0 1.2 0a0.6 0.6 0 1 0 -1.2 0M116.3 42a0.7 0.7 0 1 0 1.4 0a0.7 0.7 0 1 0 -1.4 0M181 77a0.7 0.7 0 1 0 1.3 0a0.7 0.7 0 1 0 -1.3 0M142.9 100.2a0.8 0.8 0 1 0 1.6 0a0.8 0.8 0 1 0 -1.6 0M156.9 77.2a0.7 0.7 0 1 0 1.3 0a0.7 0.7 0 1 0 -1.3 0M72.8 76.3a0.8 0.8 0 1 0 1.6 0a0.8 0.8 0 1 0 -1.6 0M129.9 64.1a0.7 0.7 0 1 0 1.4 0a0.7 0.7 0 1 0 -1.4 0M123.6 96.4a0.8 0.8 0 1 0 1.5 0a0.8 0.8 0 1 0 -1.5 0M136.7 63.6a0.8 0.8 0 1 0 1.7 0a0.8 0.8 0 1 0 -1.7 0M140.7 59.8a0.8 0.8 0 1 0 1.7 0a0.8 0.8 0 1 0 -1.7 0M173.2 124.4a0.6 0.6 0 1 0 1.1 0a0.6 0.6 0 1 0 -1.1 0M163.9 118.1a0.6 0.6 0 1 0 1.1 0a0.6 0.6 0 1 0 -1.1 0M108.5 41.1a0.9 0.9 0 1 0 1.7 0a0.9 0.9 0 1 0 -1.7 0M161.1 133.6a0.8 0.8 0 1 0 1.6 0a0.8 0.8 0 1 0 -1.6 0" fill="#fff" opacity="0.1"/>
<path d="M112.7 37.7a0.7 0.7 0 1 0 1.3 0a0.7 0.7 0 1 0 -1.3 0M137.1 35.1a0.8 0.8 0 1 0 1.6 0a0.8 0.8 0 1 0 -1.6 0M145.9 110.9a0.6 0.6 0 1 0 1.2 0a0.6 0.6 0 1 0 -1.2 0M175.6 88.9a0.9 0.9 0 1 0 1.7 0a0.9 0.9 0 1 0 -1.7 0M137.9 82.6a0.6 0.6 0 1 0 1.1 0a0.6 0.6 0 1 0 -1.1 0M108.5 48.1a0.6 0.6 0 1 0 1.2 0a0.6 0.6 0 1 0 -1.2 0M153.9 63.5a0.6 0.6 0 1 0 1.2 0a0.6 0.6 0 1 0 -1.2 0M144.9 96.8a0.8 0.8 0 1 0 1.6 0a0.8 0.8 0 1 0 -1.6 0M87.9 140.6a0.8 0.8 0 1 0 1.6 0a0.8 0.8 0 1 0 -1.6 0M140.5 61.7a0.7 0.7 0 1 0 1.3 0a0.7 0.7 0 1 0 -1.3 0M58.6 143.3a0.5 0.5 0 1 0 1.1 0a0.5 0.5 0 1 0 -1.1 0M163.8 74.5a0.6 0.6 0 1 0 1.1 0a0.6 0.6 0 1 0 -1.1 0M169.5 93.5a0.7 0.7 0 1 0 1.5 0a0.7 0.7 0 1 0 -1.5 0M99.2 84.9a0.9 0.9 0 1 0 1.8 0a0.9 0.9 0 1 0 -1.8 0M137.1 111.5a0.6 0.6 0 1 0 1.2 0a0.6 0.6 0 1 0 -1.2 0M153.5 93.5a0.8 0.8 0 1 0 1.6 0a0.8 0.8 0 1 0 -1.6 0M128 138.1a0.6 0.6 0 1 0 1.2 0a0.6 0.6 0 1 0 -1.2 0M110.8 32.2a0.8 0.8 0 1 0 1.5 0a0.8 0.8 0 1 0 -1.5 0M145.2 51.9a0.7 0.7 0 1 0 1.4 0a0.7 0.7 0 1 0 -1.4 0M76.2 81.3a0.5 0.5 0 1 0 1 0a0.5 0.5 0 1 0 -1 0M106.4 124.2a0.7 0.7 0 1 0 1.3 0a0.7 0.7 0 1 0 -1.3 0M142 46.8a0.9 0.9 0 1 0 1.7 0a0.9 0.9 0 1 0 -1.7 0M150.1 94.5a0.6 0.6 0 1 0 1.2 0a0.6 0.6 0 1 0 -1.2 0M158.9 63.6a0.6 0.6 0 1 0 1.2 0a0.6 0.6 0 1 0 -1.2 0M175.5 38.7a0.7 0.7 0 1 0 1.3 0a0.7 0.7 0 1 0 -1.3 0M169.8 62.9a0.9 0.9 0 1 0 1.7 0a0.9 0.9 0 1 0 -1.7 0M141.7 53.8a0.6 0.6 0 1 0 1.2 0a0.6 0.6 0 1 0 -1.2 0M177.2 29.6a0.9 0.9 0 1 0 1.8 0a0.9 0.9 0 1 0 -1.8 0M176.9 105.6a0.7 0.7 0 1 0 1.4 0a0.7 0.7 0 1 0 -1.4 0M100.6 65.3a0.6 0.6 0 1 0 1.1 0a0.6 0.6 0 1 0 -1.1 0M160.8 69.3a0.8 0.8 0 1 0 1.6 0a0.8 0.8 0 1 0 -1.6 0M102.9 118.5a0.9 0.9 0 1 0 1.7 0a0.9 0.9 0 1 0 -1.7 0M138.1 36.3a0.7 0.7 0 1 0 1.4 0a0.7 0.7 0 1 0 -1.4 0M172.1 76.2a0.5 0.5 0 1 0 1.1 0a0.5 0.5 0 1 0 -1.1 0M159 43.4a0.6 0.6 0 1 0 1.3 0a0.6 0.6 0 1 0 -1.3 0M83.3 167.9a0.5 0.5 0 1 0 1 0a0.5 0.5 0 1 0 -1 0M173 107.3a0.6 0.6 0 1 0 1.3 0a0.6 0.6 0 1 0 -1.3 0M145.3 74.8a0.5 0.5 0 1 0 1 0a0.5 0.5 0 1 0 -1 0M149.6 100.9a0.6 0.6 0 1 0 1.3 0a0.6 0.6 0 1 0 -1.3 0M52.3 142.8a0.6 0.6 0 1 0 1.3 0a0.6 0.6 0 1 0 -1.3 0M103.9 141.3a0.6 0.6 0 1 0 1.1 0a0.6 0.6 0 1 0 -1.1 0M156.7 131.2a0.7 0.7 0 1 0 1.3 0a0.7 0.7 0 1 0 -1.3 0M78.4 136.1a0.5 0.5 0 1 0 1.1 0a0.5 0.5 0 1 0 -1.1 0M158.4 114.7a0.7 0.7 0 1 0 1.4 0a0.7 0.7 0 1 0 -1.4 0M181.2 125.3a0.8 0.8 0 1 0 1.7 0a0.8 0.8 0 1 0 -1.7 0M84 45.1a0.9 0.9 0 1 0 1.8 0a0.9 0.9 0 1 0 -1.8 0M163.5 86.6a0.9 0.9 0 1 0 1.7 0a0.9 0.9 0 1 0 -1.7 0M141.2 97a0.7 0.7 0 1 0 1.3 0a0.7 0.7 0 1 0 -1.3 0M91.8 54.9a0.8 0.8 0 1 0 1.6 0a0.8 0.8 0 1 0 -1.6 0M134.3 77.8a0.5 0.5 0 1 0 1 0a0.5 0.5 0 1 0 -1 0M170.4 42a0.8 0.8 0 1 0 1.7 0a0.8 0.8 0 1 0 -1.7 0M146.5 97a0.5 0.5 0 1 0 1 0a0.5 0.5 0 1 0 -1 0M130.3 68.4a0.9 0.9 0 1 0 1.7 0a0.9 0.9 0 1 0 -1.7 0M82.7 94.4a0.6 0.6 0 1 0 1.3 0a0.6 0.6 0 1 0 -1.3 0M139.4 67.4a0.9 0.9 0 1 0 1.8 0a0.9 0.9 0 1 0 -1.8 0M152.6 63.2a0.5 0.5 0 1 0 1 0a0.5 0.5 0 1 0 -1 0M179.6 18.8a0.7 0.7 0 1 0 1.4 0a0.7 0.7 0 1 0 -1.4 0M166.9 55.8a0.6 0.6 0 1 0 1.2 0a0.6 0.6 0 1 0 -1.2 0M155.6 69.3a0.8 0.8 0 1 0 1.6 0a0.8 0.8 0 1 0 -1.6 0M147.7 31.2a0.8 0.8 0 1 0 1.6 0a0.8 0.8 0 1 0 -1.6 0M141.5 80.1a0.5 0.5 0 1 0 1.1 0a0.5 0.5 0 1 0 -1.1 0M157.9 70.1a0.7 0.7 0 1 0 1.4 0a0.7 0.7 0 1 0 -1.4 0M57.6 132.1a0.8 0.8 0 1 0 1.7 0a0.8 0.8 0 1 0 -1.7 0M144.9 66.2a0.8 0.8 0 1 0 1.5 0a0.8 0.8 0 1 0 -1.5 0M131.7 24a0.6 0.6 0 1 0 1.2 0a0.6 0.6 0 1 0 -1.2 0M153.6 114a0.7 0.7 0 1 0 1.4 0a0.7 0.7 0 1 0 -1.4 0M165.7 138a0.8 0.8 0 1 0 1.5 0a0.8 0.8 0 1 0 -1.5 0M112.2 133a0.7 0.7 0 1 0 1.3 0a0.7 0.7 0 1 0 -1.3 0M77.9 34.8a0.6 0.6 0 1 0 1.2 0a0.6 0.6 0 1 0 -1.2 0M154 64.6a0.6 0.6 0 1 0 1.2 0a0.6 0.6 0 1 0 -1.2 0M102 144.6a0.6 0.6 0 1 0 1.2 0a0.6 0.6 0 1 0 -1.2 0M133.3 82.9a0.5 0.5 0 1 0 1 0a0.5 0.5 0 1 0 -1 0M88.9 60.6a0.6 0.6 0 1 0 1.3 0a0.6 0.6 0 1 0 -1.3 0M113.9 140.3a0.5 0.5 0 1 0 1 0a0.5 0.5 0 1 0 -1 0M168.2 62.5a0.9 0.9 0 1 0 1.7 0a0.9 0.9 0 1 0 -1.7 0M164.2 37.7a0.7 0.7 0 1 0 1.5 0a0.7 0.7 0 1 0 -1.5 0M168.9 122.6a0.8 0.8 0 1 0 1.7 0a0.8 0.8 0 1 0 -1.7 0M140.1 71.7a0.6 0.6 0 1 0 1.2 0a0.6 0.6 0 1 0 -1.2 0M123.5 13.5a0.8 0.8 0 1 0 1.6 0a0.8 0.8 0 1 0 -1.6 0M180.2 108.2a0.5 0.5 0 1 0 1 0a0.5 0.5 0 1 0 -1 0M157.8 115a0.8 0.8 0 1 0 1.6 0a0.8 0.8 0 1 0 -1.6 0M168.3 79.4a0.8 0.8 0 1 0 1.7 0a0.8 0.8 0 1 0 -1.7 0M91.5 137.3a0.8 0.8 0 1 0 1.6 0a0.8 0.8 0 1 0 -1.6 0M160.1 131.7a0.8 0.8 0 1 0 1.6 0a0.8 0.8 0 1 0 -1.6 0M122.5 111a0.8 0.8 0 1 0 1.7 0a0.8 0.8 0 1 0 -1.7 0M173.7 60.8a0.8 0.8 0 1 0 1.6 0a0.8 0.8 0 1 0 -1.6 0M157.7 90.3a0.7 0.7 0 1 0 1.3 0a0.7 0.7 0 1 0 -1.3 0M124.3 74.7a0.6 0.6 0 1 0 1.3 0a0.6 0.6 0 1 0 -1.3 0M101.6 138.6a0.7 0.7 0 1 0 1.4 0a0.7 0.7 0 1 0 -1.4 0M95.7 145.3a0.9 0.9 0 1 0 1.8 0a0.9 0.9 0 1 0 -1.8 0M154.5 80.6a0.6 0.6 0 1 0 1.2 0a0.6 0.6 0 1 0 -1.2 0M127.6 69.5a0.9 0.9 0 1 0 1.8 0a0.9 0.9 0 1 0 -1.8 0M170.2 128.9a0.7 0.7 0 1 0 1.3 0a0.7 0.7 0 1 0 -1.3 0M94.5 145.4a0.6 0.6 0 1 0 1.2 0a0.6 0.6 0 1 0 -1.2 0M166.9 102.9a0.7 0.7 0 1 0 1.4 0a0.7 0.7 0 1 0 -1.4 0M92.2 147.8a0.8 0.8 0 1 0 1.6 0a0.8 0.8 0 1 0 -1.6 0M117.8 63.5a0.7 0.7 0 1 0 1.4 0a0.7 0.7 0 1 0 -1.4 0M64 127.4a0.7 0.7 0 1 0 1.5 0a0.7 0.7 0 1 0 -1.5 0M170.8 106.9a0.7 0.7 0 1 0 1.5 0a0.7 0.7 0 1 0 -1.5 0M109.9 112.9a0.9 0.9 0 1 0 1.7 0a0.9 0.9 0 1 0 -1.7 0M170.6 63a0.7 0.7 0 1 0 1.4 0a0.7 0.7 0 1 0 -1.4 0M133.2 53.9a0.9 0.9 0 1 0 1.8 0a0.9 0.9 0 1 0 -1.8 0M146.2 131.6a0.5 0.5 0 1 0 1.1 0a0.5 0.5 0 1 0 -1.1 0M130.2 105.3a0.5 0.5 0 1 0 1 0a0.5 0.5 0 1 0 -1 0M129 55.6a0.8 0.8 0 1 0 1.6 0a0.8 0.8 0 1 0 -1.6 0M106.6 13.7a0.5 0.5 0 1 0 1.1 0a0.5 0.5 0 1 0 -1.1 0M148.2 57a0.7 0.7 0 1 0 1.4 0a0.7 0.7 0 1 0 -1.4 0M134.8 115.8a0.6 0.6 0 1 0 1.2 0a0.6 0.6 0 1 0 -1.2 0M143 83a0.8 0.8 0 1 0 1.7 0a0.8 0.8 0 1 0 -1.7 0M125.9 43.2a0.7 0.7 0 1 0 1.4 0a0.7 0.7 0 1 0 -1.4 0M119 90.5a0.6 0.6 0 1 0 1.2 0a0.6 0.6 0 1 0 -1.2 0M102.2 89a0.7 0.7 0 1 0 1.4 0a0.7 0.7 0 1 0 -1.4 0M150.4 124.7a0.9 0.9 0 1 0 1.7 0a0.9 0.9 0 1 0 -1.7 0M72.6 125a0.8 0.8 0 1 0 1.7 0a0.8 0.8 0 1 0 -1.7 0M127.1 74.6a0.6 0.6 0 1 0 1.2 0a0.6 0.6 0 1 0 -1.2 0M140.6 87.9a0.6 0.6 0 1 0 1.2 0a0.6 0.6 0 1 0 -1.2 0M65.6 143.7a0.7 0.7 0 1 0 1.4 0a0.7 0.7 0 1 0 -1.4 0M129 131.5a0.7 0.7 0 1 0 1.5 0a0.7 0.7 0 1 0 -1.5 0M51.8 89a0.7 0.7 0 1 0 1.3 0a0.7 0.7 0 1 0 -1.3 0M104.2 142.4a0.7 0.7 0 1 0 1.4 0a0.7 0.7 0 1 0 -1.4 0M140.7 66.2a0.9 0.9 0 1 0 1.7 0a0.9 0.9 0 1 0 -1.7 0M131.1 129.2a0.7 0.7 0 1 0 1.3 0a0.7 0.7 0 1 0 -1.3 0M147.4 54.5a0.9 0.9 0 1 0 1.7 0a0.9 0.9 0 1 0 -1.7 0M176.8 61.8a0.8 0.8 0 1 0 1.6 0a0.8 0.8 0 1 0 -1.6 0M65.1 157.9a0.8 0.8 0 1 0 1.6 0a0.8 0.8 0 1 0 -1.6 0M127.1 82.7a0.5 0.5 0 1 0 1 0a0.5 0.5 0 1 0 -1 0M153.6 128.9a0.8 0.8 0 1 0 1.6 0a0.8 0.8 0 1 0 -1.6 0M108.4 125.3a0.7 0.7 0 1 0 1.3 0a0.7 0.7 0 1 0 -1.3 0M157.2 108.8a0.7 0.7 0 1 0 1.3 0a0.7 0.7 0 1 0 -1.3 0M121.4 31.4a0.7 0.7 0 1 0 1.5 0a0.7 0.7 0 1 0 -1.5 0M104.7 55.1a0.8 0.8 0 1 0 1.6 0a0.8 0.8 0 1 0 -1.6 0M138.5 61.1a0.5 0.5 0 1 0 1 0a0.5 0.5 0 1 0 -1 0M155.8 93.4a0.6 0.6 0 1 0 1.1 0a0.6 0.6 0 1 0 -1.1 0M135.6 22.7a0.6 0.6 0 1 0 1.3 0a0.6 0.6 0 1 0 -1.3 0M155.8 51.1a0.9 0.9 0 1 0 1.8 0a0.9 0.9 0 1 0 -1.8 0M148.6 122.2a0.7 0.7 0 1 0 1.3 0a0.7 0.7 0 1 0 -1.3 0M106.9 131a0.7 0.7 0 1 0 1.4 0a0.7 0.7 0 1 0 -1.4 0M146.9 69.7a0.8 0.8 0 1 0 1.7 0a0.8 0.8 0 1 0 -1.7 0M160.5 54.4a0.9 0.9 0 1 0 1.7 0a0.9 0.9 0 1 0 -1.7 0M138.4 125.3a0.7 0.7 0 1 0 1.4 0a0.7 0.7 0 1 0 -1.4 0M95 151a0.6 0.6 0 1 0 1.2 0a0.6 0.6 0 1 0 -1.2 0M122.6 136.1a0.8 0.8 0 1 0 1.5 0a0.8 0.8 0 1 0 -1.5 0M155.2 126.6a0.8 0.8 0 1 0 1.5 0a0.8 0.8 0 1 0 -1.5 0M132.1 62a0.8 0.8 0 1 0 1.6 0a0.8 0.8 0 1 0 -1.6 0M134.2 70.4a0.5 0.5 0 1 0 1 0a0.5 0.5 0 1 0 -1 0M180.2 129.2a0.7 0.7 0 1 0 1.3 0a0.7 0.7 0 1 0 -1.3 0M133.9 148.4a0.7 0.7 0 1 0 1.4 0a0.7 0.7 0 1 0 -1.4 0M162.3 127.1a0.5 0.5 0 1 0 1 0a0.5 0.5 0 1 0 -1 0M161.8 101.4a0.6 0.6 0 1 0 1.1 0a0.6 0.6 0 1 0 -1.1 0M92 133.4a0.8 0.8 0 1 0 1.6 0a0.8 0.8 0 1 0 -1.6 0M91.7 49a0.9 0.9 0 1 0 1.8 0a0.9 0.9 0 1 0 -1.8 0M118.8 43.6a0.6 0.6 0 1 0 1.2 0a0.6 0.6 0 1 0 -1.2 0M151.1 73.6a0.8 0.8 0 1 0 1.7 0a0.8 0.8 0 1 0 -1.7 0M152.6 96a0.7 0.7 0 1 0 1.3 0a0.7 0.7 0 1 0 -1.3 0M166.2 113.7a0.8 0.8 0 1 0 1.6 0a0.8 0.8 0 1 0 -1.6 0M92.5 74.8a0.6 0.6 0 1 0 1.2 0a0.6 0.6 0 1 0 -1.2 0M32 73.1a0.6 0.6 0 1 0 1.2 0a0.6 0.6 0 1 0 -1.2 0M161.7 50.3a0.6 0.6 0 1 0 1.1 0a0.6 0.6 0 1 0 -1.1 0M84.5 140.8a0.6 0.6 0 1 0 1.3 0a0.6 0.6 0 1 0 -1.3 0M113.9 131.3a0.6 0.6 0 1 0 1.3 0a0.6 0.6 0 1 0 -1.3 0M155.3 88.7a0.6 0.6 0 1 0 1.2 0a0.6 0.6 0 1 0 -1.2 0M135.9 62.3a0.9 0.9 0 1 0 1.7 0a0.9 0.9 0 1 0 -1.7 0M141.9 115.2a0.5 0.5 0 1 0 1 0a0.5 0.5 0 1 0 -1 0M131 62.8a0.7 0.7 0 1 0 1.3 0a0.7 0.7 0 1 0 -1.3 0M142 73.3a0.8 0.8 0 1 0 1.5 0a0.8 0.8 0 1 0 -1.5 0M153.5 71.5a0.9 0.9 0 1 0 1.7 0a0.9 0.9 0 1 0 -1.7 0M112.4 37.4a0.5 0.5 0 1 0 1 0a0.5 0.5 0 1 0 -1 0M116.2 130.7a0.5 0.5 0 1 0 1 0a0.5 0.5 0 1 0 -1 0M153.3 93.2a0.5 0.5 0 1 0 1.1 0a0.5 0.5 0 1 0 -1.1 0M172.9 63a0.7 0.7 0 1 0 1.3 0a0.7 0.7 0 1 0 -1.3 0M106.7 28.8a0.8 0.8 0 1 0 1.5 0a0.8 0.8 0 1 0 -1.5 0M147.4 115.1a0.7 0.7 0 1 0 1.5 0a0.7 0.7 0 1 0 -1.5 0M75.9 38a0.7 0.7 0 1 0 1.4 0a0.7 0.7 0 1 0 -1.4 0M150.8 93.9a0.8 0.8 0 1 0 1.6 0a0.8 0.8 0 1 0 -1.6 0M94.7 99.8a0.7 0.7 0 1 0 1.5 0a0.7 0.7 0 1 0 -1.5 0M144 73.7a0.5 0.5 0 1 0 1 0a0.5 0.5 0 1 0 -1 0M136.8 57.4a0.8 0.8 0 1 0 1.6 0a0.8 0.8 0 1 0 -1.6 0M91.5 135.8a0.8 0.8 0 1 0 1.6 0a0.8 0.8 0 1 0 -1.6 0M130.8 64.8a0.6 0.6 0 1 0 1.2 0a0.6 0.6 0 1 0 -1.2 0M165.8 44.4a0.8 0.8 0 1 0 1.7 0a0.8 0.8 0 1 0 -1.7 0M91.8 53a0.6 0.6 0 1 0 1.2 0a0.6 0.6 0 1 0 -1.2 0M150.4 114.9a0.6 0.6 0 1 0 1.3 0a0.6 0.6 0 1 0 -1.3 0M172.9 46.8a0.5 0.5 0 1 0 1.1 0a0.5 0.5 0 1 0 -1.1 0M169 39.5a0.5 0.5 0 1 0 1 0a0.5 0.5 0 1 0 -1 0M168.1 122.1a0.8 0.8 0 1 0 1.7 0a0.8 0.8 0 1 0 -1.7 0M151.7 49.4a0.7 0.7 0 1 0 1.3 0a0.7 0.7 0 1 0 -1.3 0M128.5 62.9a0.8 0.8 0 1 0 1.7 0a0.8 0.8 0 1 0 -1.7 0M167.8 93.5a0.6 0.6 0 1 0 1.2 0a0.6 0.6 0 1 0 -1.2 0M120.6 6.8a0.6 0.6 0 1 0 1.2 0a0.6 0.6 0 1 0 -1.2 0M165 127.9a0.8 0.8 0 1 0 1.6 0a0.8 0.8 0 1 0 -1.6 0M156.7 48.5a0.5 0.5 0 1 0 1 0a0.5 0.5 0 1 0 -1 0M162.5 118.3a0.8 0.8 0 1 0 1.7 0a0.8 0.8 0 1 0 -1.7 0M152.3 115.2a0.6 0.6 0 1 0 1.3 0a0.6 0.6 0 1 0 -1.3 0M150.2 96.6a0.7 0.7 0 1 0 1.3 0a0.7 0.7 0 1 0 -1.3 0M152.7 72a0.8 0.8 0 1 0 1.6 0a0.8 0.8 0 1 0 -1.6 0M143.9 59.1a0.6 0.6 0 1 0 1.3 0a0.6 0.6 0 1 0 -1.3 0M144.1 119.4a0.8 0.8 0 1 0 1.5 0a0.8 0.8 0 1 0 -1.5 0M170.3 46a0.8 0.8 0 1 0 1.5 0a0.8 0.8 0 1 0 -1.5 0M175.7 97.4a0.7 0.7 0 1 0 1.4 0a0.7 0.7 0 1 0 -1.4 0M88.8 62.4a0.7 0.7 0 1 0 1.4 0a0.7 0.7 0 1 0 -1.4 0M147 66.9a0.9 0.9 0 1 0 1.8 0a0.9 0.9 0 1 0 -1.8 0M155.5 56.2a0.8 0.8 0 1 0 1.7 0a0.8 0.8 0 1 0 -1.7 0M133.2 152.8a0.8 0.8 0 1 0 1.6 0a0.8 0.8 0 1 0 -1.6 0M147.2 112.2a0.6 0.6 0 1 0 1.2 0a0.6 0.6 0 1 0 -1.2 0M138.6 132.2a0.5 0.5 0 1 0 1.1 0a0.5 0.5 0 1 0 -1.1 0M148.9 120.3a0.7 0.7 0 1 0 1.5 0a0.7 0.7 0 1 0 -1.5 0M150.7 64.6a0.6 0.6 0 1 0 1.2 0a0.6 0.6 0 1 0 -1.2 0M114.7 54.6a0.9 0.9 0 1 0 1.7 0a0.9 0.9 0 1 0 -1.7 0M76.3 57.5a0.6 0.6 0 1 0 1.1 0a0.6 0.6 0 1 0 -1.1 0M98.7 167.7a0.9 0.9 0 1 0 1.7 0a0.9 0.9 0 1 0 -1.7 0M77.9 44.9a0.8 0.8 0 1 0 1.5 0a0.8 0.8 0 1 0 -1.5 0M65.8 161.3a0.6 0.6 0 1 0 1.2 0a0.6 0.6 0 1 0 -1.2 0M129.5 53.3a0.6 0.6 0 1 0 1.2 0a0.6 0.6 0 1 0 -1.2 0M147.8 40.7a0.8 0.8 0 1 0 1.6 0a0.8 0.8 0 1 0 -1.6 0M88.8 63.8a0.8 0.8 0 1 0 1.6 0a0.8 0.8 0 1 0 -1.6 0M84.2 54.7a0.5 0.5 0 1 0 1.1 0a0.5 0.5 0 1 0 -1.1 0M97.4 47.6a0.7 0.7 0 1 0 1.3 0a0.7 0.7 0 1 0 -1.3 0M68.2 137.1a0.9 0.9 0 1 0 1.7 0a0.9 0.9 0 1 0 -1.7 0M123.9 59.4a0.7 0.7 0 1 0 1.3 0a0.7 0.7 0 1 0 -1.3 0M140 76.9a0.7 0.7 0 1 0 1.3 0a0.7 0.7 0 1 0 -1.3 0M87.7 64.2a0.7 0.7 0 1 0 1.5 0a0.7 0.7 0 1 0 -1.5 0M178.1 124.5a0.8 0.8 0 1 0 1.6 0a0.8 0.8 0 1 0 -1.6 0M179.8 74.6a0.5 0.5 0 1 0 1.1 0a0.5 0.5 0 1 0 -1.1 0M142.4 124.3a0.8 0.8 0 1 0 1.5 0a0.8 0.8 0 1 0 -1.5 0M136.2 88.1a0.5 0.5 0 1 0 1 0a0.5 0.5 0 1 0 -1 0M80.7 87.1a0.8 0.8 0 1 0 1.6 0a0.8 0.8 0 1 0 -1.6 0M134 16.5a0.7 0.7 0 1 0 1.4 0a0.7 0.7 0 1 0 -1.4 0M154.3 126a0.7 0.7 0 1 0 1.4 0a0.7 0.7 0 1 0 -1.4 0M77.8 132.5a0.6 0.6 0 1 0 1.1 0a0.6 0.6 0 1 0 -1.1 0M133.7 100.5a0.7 0.7 0 1 0 1.3 0a0.7 0.7 0 1 0 -1.3 0M20 72a0.6 0.6 0 1 0 1.1 0a0.6 0.6 0 1 0 -1.1 0M95.2 93a0.6 0.6 0 1 0 1.2 0a0.6 0.6 0 1 0 -1.2 0M176.9 106.5a0.7 0.7 0 1 0 1.4 0a0.7 0.7 0 1 0 -1.4 0M124.4 19a0.8 0.8 0 1 0 1.6 0a0.8 0.8 0 1 0 -1.6 0M128 163.7a0.5 0.5 0 1 0 1 0a0.5 0.5 0 1 0 -1 0M144.8 40.6a0.8 0.8 0 1 0 1.7 0a0.8 0.8 0 1 0 -1.7 0M127.3 136.7a0.6 0.6 0 1 0 1.1 0a0.6 0.6 0 1 0 -1.1 0M135.9 25.5a0.7 0.7 0 1 0 1.3 0a0.7 0.7 0 1 0 -1.3 0M84.1 99.9a0.9 0.9 0 1 0 1.7 0a0.9 0.9 0 1 0 -1.7 0M78.8 51.8a0.5 0.5 0 1 0 1.1 0a0.5 0.5 0 1 0 -1.1 0M168.6 135.9a0.6 0.6 0 1 0 1.3 0a0.6 0.6 0 1 0 -1.3 0M110.5 140.1a0.6 0.6 0 1 0 1.1 0a0.6 0.6 0 1 0 -1.1 0M132.3 68a0.8 0.8 0 1 0 1.6 0a0.8 0.8 0 1 0 -1.6 0M96.9 143.6a0.6 0.6 0 1 0 1.2 0a0.6 0.6 0 1 0 -1.2 0M114.7 11.1a0.9 0.9 0 1 0 1.7 0a0.9 0.9 0 1 0 -1.7 0M153.8 64.3a0.7 0.7 0 1 0 1.5 0a0.7 0.7 0 1 0 -1.5 0M128.4 55.7a0.6 0.6 0 1 0 1.3 0a0.6 0.6 0 1 0 -1.3 0M40.6 73a0.7 0.7 0 1 0 1.5 0a0.7 0.7 0 1 0 -1.5 0M102 67a0.6 0.6 0 1 0 1.3 0a0.6 0.6 0 1 0 -1.3 0M179.7 39.4a0.6 0.6 0 1 0 1.3 0a0.6 0.6 0 1 0 -1.3 0M157.7 41a0.8 0.8 0 1 0 1.6 0a0.8 0.8 0 1 0 -1.6 0M126.6 50.4a0.6 0.6 0 1 0 1.3 0a0.6 0.6 0 1 0 -1.3 0M127 68.4a0.8 0.8 0 1 0 1.6 0a0.8 0.8 0 1 0 -1.6 0M138.9 26.8a0.6 0.6 0 1 0 1.2 0a0.6 0.6 0 1 0 -1.2 0M82.9 49.6a0.8 0.8 0 1 0 1.7 0a0.8 0.8 0 1 0 -1.7 0M120.4 75.5a0.8 0.8 0 1 0 1.6 0a0.8 0.8 0 1 0 -1.6 0M156.8 63.3a0.9 0.9 0 1 0 1.8 0a0.9 0.9 0 1 0 -1.8 0M147.7 121.4a0.9 0.9 0 1 0 1.7 0a0.9 0.9 0 1 0 -1.7 0M119.6 129.9a0.7 0.7 0 1 0 1.4 0a0.7 0.7 0 1 0 -1.4 0M147.7 52.3a0.6 0.6 0 1 0 1.3 0a0.6 0.6 0 1 0 -1.3 0M147.6 37.7a0.8 0.8 0 1 0 1.6 0a0.8 0.8 0 1 0 -1.6 0" fill="#fff" opacity="0.3"/>
</g>
</g>
<linearGradient id="sga" x1="0" y1="0" x2="1" y2="0"><stop offset="0" stop-color="#505050"/><stop offset="0.3" stop-color="#686868"/><stop offset="0.65" stop-color="#4a4a4a"/><stop offset="1" stop-color="#151515"/></linearGradient>
<linearGradient id="sgb" x1="0" y1="0" x2="0" y2="1"><stop offset="0" stop-color="#000" stop-opacity="0.7"/><stop offset="0.12" stop-color="#000" stop-opacity="0.1"/><stop offset="0.9" stop-color="#000" stop-opacity="0"/><stop offset="1" stop-color="#000" stop-opacity="0.3"/></linearGradient>
<rect x="185" y="0" width="8" height="169.2" fill="url(#sga)" stroke="none" stroke-width="1"/>
<rect x="185" y="0" width="8" height="169.2" fill="url(#sgb)" stroke="none" stroke-width="1"/>
<g filter="url(#bl1)" opacity="0.6">
<path d="M187.4 38.5h1.5v1.5h-1.5zM191.1 56.3h1.5v1.5h-1.5zM187 128.6h1.5v1.5h-1.5zM186.5 93.8h1.5v1.5h-1.5zM191.5 28.9h1.5v1.5h-1.5zM190.3 136.3h1.5v1.5h-1.5zM189 102.9h1.5v1.5h-1.5zM185.4 88.2h1.5v1.5h-1.5zM189.7 40.4h1.5v1.5h-1.5zM189.7 37.1h1.5v1.5h-1.5zM191.5 51.3h1.5v1.5h-1.5zM186 59.6h1.5v1.5h-1.5zM190.4 153.4h1.5v1.5h-1.5zM186.5 50.9h1.5v1.5h-1.5zM187.8 35.3h1.5v1.5h-1.5zM191.4 30.7h1.5v1.5h-1.5zM189.8 50.1h1.5v1.5h-1.5zM189.9 139h1.5v1.5h-1.5zM190 5.5h1.5v1.5h-1.5zM190 27h1.5v1.5h-1.5zM187.5 33.7h1.5v1.5h-1.5zM186.3 77.5h1.5v1.5h-1.5zM191.1 161.1h1.5v1.5h-1.5zM187 76.9h1.5v1.5h-1.5zM189.3 0.2h1.5v1.5h-1.5zM188.8 150.5h1.5v1.5h-1.5zM186.3 107.8h1.5v1.5h-1.5zM185.2 119.4h1.5v1.5h-1.5zM185.6 139.8h1.5v1.5h-1.5zM191.2 149.3h1.5v1.5h-1.5zM187.8 162.3h1.5v1.5h-1.5zM185.4 13.3h1.5v1.5h-1.5zM184.8 139.8h1.5v1.5h-1.5zM191.5 60.8h1.5v1.5h-1.5zM188.9 117.4h1.5v1.5h-1.5zM189.1 115h1.5v1.5h-1.5zM187.5 156.1h1.5v1.5h-1.5zM189.9 22.9h1.5v1.5h-1.5zM188.9 117.4h1.5v1.5h-1.5zM191.3 44.5h1.5v1.5h-1.5zM191.3 125.2h1.5v1.5h-1.5z" fill="#222"/>
<path d="M186.9 65.3h1.5v1.5h-1.5zM186.2 137.7h1.5v1.5h-1.5zM190.9 150.3h1.5v1.5h-1.5zM187.7 153.1h1.5v1.5h-1.5zM191.2 136.1h1.5v1.5h-1.5zM184.8 121.2h1.5v1.5h-1.5zM190.1 109h1.5v1.5h-1.5zM187.2 43.4h1.5v1.5h-1.5zM190.1 135.4h1.5v1.5h-1.5zM186.4 1.9h1.5v1.5h-1.5zM188 50.6h1.5v1.5h-1.5zM187.1 164.4h1.5v1.5h-1.5zM190 40.7h1.5v1.5h-1.5zM191.4 139h1.5v1.5h-1.5zM190.6 13.4h1.5v1.5h-1.5zM190.2 130h1.5v1.5h-1.5zM184.8 137h1.5v1.5h-1.5zM187.2 155.9h1.5v1.5h-1.5zM187.7 95.2h1.5v1.5h-1.5zM185.9 61.2h1.5v1.5h-1.5zM184.9 87.3h1.5v1.5h-1.5zM191.2 132.8h1.5v1.5h-1.5zM187.7 9.8h1.5v1.5h-1.5zM188.8 136.8h1.5v1.5h-1.5zM185.6 77h1.5v1.5h-1.5zM184.8 158.9h1.5v1.5h-1.5zM190.6 64.9h1.5v1.5h-1.5zM188.5 147.3h1.5v1.5h-1.5zM184.8 28.4h1.5v1.5h-1.5zM191.3 131.7h1.5v1.5h-1.5zM187.2 26.2h1.5v1.5h-1.5zM188.3 13.1h1.5v1.5h-1.5zM185.7 159.5h1.5v1.5h-1.5zM186.9 129.9h1.5v1.5h-1.5zM190.4 28.7h1.5v1.5h-1.5zM188.1 152.3h1.5v1.5h-1.5zM191 20.4h1.5v1.5h-1.5zM188.1 60.3h1.5v1.5h-1.5zM185.6 56.3h1.5v1.5h-1.5zM186.4 118.3h1.5v1.5h-1.5zM191.1 5.9h1.5v1.5h-1.5zM187.7 27.1h1.5v1.5h-1.5zM185.3 106.4h1.5v1.5h-1.5zM187.4 159.8h1.5v1.5h-1.5zM188.7 116.3h1.5v1.5h-1.5zM184.9 127.4h1.5v1.5h-1.5zM188.6 159h1.5v1.5h-1.5zM187.3 85.2h1.5v1.5h-1.5z" fill="#ccc"/>
<path d="M188.4 25.1h1.5v1.5h-1.5zM189.2 39.8h1.5v1.5h-1.5zM186.4 17.5h1.5v1.5h-1.5zM186.8 81.6h1.5v1.5h-1.5zM185.7 45.7h1.5v1.5h-1.5zM184.8 109.4h1.5v1.5h-1.5zM186.2 164.2h1.5v1.5h-1.5zM189.1 84.5h1.5v1.5h-1.5zM187.4 133.1h1.5v1.5h-1.5zM186 73.6h1.5v1.5h-1.5zM185.2 144.7h1.5v1.5h-1.5zM190.6 42.8h1.5v1.5h-1.5zM191.6 12.7h1.5v1.5h-1.5zM191 126.1h1.5v1.5h-1.5zM188.2 108h1.5v1.5h-1.5zM186.9 46.8h1.5v1.5h-1.5zM187.7 134.8h1.5v1.5h-1.5zM187.7 63.5h1.5v1.5h-1.5zM185.8 112.7h1.5v1.5h-1.5zM188.6 162.1h1.5v1.5h-1.5zM188.9 37.9h1.5v1.5h-1.5zM188.8 32.6h1.5v1.5h-1.5zM188.2 50.8h1.5v1.5h-1.5zM190.7 59.2h1.5v1.5h-1.5zM188.4 155.2h1.5v1.5h-1.5zM189 137h1.5v1.5h-1.5zM188.2 92.9h1.5v1.5h-1.5zM190.7 105.4h1.5v1.5h-1.5zM187.8 2.8h1.5v1.5h-1.5zM186.5 142.1h1.5v1.5h-1.5zM185 151.5h1.5v1.5h-1.5zM187.6 99.6h1.5v1.5h-1.5zM190.2 45.2h1.5v1.5h-1.5zM189.6 2.6h1.5v1.5h-1.5zM186.1 151.5h1.5v1.5h-1.5zM186.4 111.4h1.5v1.5h-1.5zM187.1 50.2h1.5v1.5h-1.5zM186.3 139.9h1.5v1.5h-1.5zM190.4 12.5h1.5v1.5h-1.5zM185.2 9.3h1.5v1.5h-1.5zM186.6 86.3h1.5v1.5h-1.5zM188.3 54.9h1.5v1.5h-1.5zM191.1 115.9h1.5v1.5h-1.5zM188.6 56h1.5v1.5h-1.5zM188.9 116h1.5v1.5h-1.5zM185.4 40.5h1.5v1.5h-1.5zM187.5 60.5h1.5v1.5h-1.5zM184.8 76.7h1.5v1.5h-1.5z" fill="#aaa"/>
<path d="M185.2 143.5h1.5v1.5h-1.5zM186.7 19.7h1.5v1.5h-1.5zM188.2 133.3h1.5v1.5h-1.5zM188.3 84.3h1.5v1.5h-1.5zM188 22.6h1.5v1.5h-1.5zM186.7 64.7h1.5v1.5h-1.5zM187.8 69.6h1.5v1.5h-1.5zM185.3 4.9h1.5v1.5h-1.5zM185.8 97h1.5v1.5h-1.5zM189.2 54.7h1.5v1.5h-1.5zM190.9 72.2h1.5v1.5h-1.5zM185.1 138.8h1.5v1.5h-1.5zM190.5 16h1.5v1.5h-1.5zM186.9 86.9h1.5v1.5h-1.5zM187.4 155.9h1.5v1.5h-1.5zM188.2 123.9h1.5v1.5h-1.5zM188.5 28.1h1.5v1.5h-1.5zM185.1 142.4h1.5v1.5h-1.5zM186.9 3.6h1.5v1.5h-1.5zM187.3 156.8h1.5v1.5h-1.5zM187.3 17.5h1.5v1.5h-1.5zM190 122.8h1.5v1.5h-1.5zM191 16.9h1.5v1.5h-1.5zM187.8 158h1.5v1.5h-1.5zM191.7 137.8h1.5v1.5h-1.5zM189 74.8h1.5v1.5h-1.5zM186.1 41.7h1.5v1.5h-1.5zM190.9 0.3h1.5v1.5h-1.5z" fill="#111"/>
<path d="M188.1 83.9h1.5v1.5h-1.5zM189.8 63.7h1.5v1.5h-1.5zM186.7 150.7h1.5v1.5h-1.5zM189.1 16.9h1.5v1.5h-1.5zM185.8 85.7h1.5v1.5h-1.5zM190.6 164.8h1.5v1.5h-1.5zM186.3 117.4h1.5v1.5h-1.5zM187.9 100.9h1.5v1.5h-1.5zM189.4 18.7h1.5v1.5h-1.5zM187.7 29.7h1.5v1.5h-1.5zM185.9 100.4h1.5v1.5h-1.5zM191.7 -0.6h1.5v1.5h-1.5zM189.6 89.2h1.5v1.5h-1.5zM191.4 107.4h1.5v1.5h-1.5zM185 95.8h1.5v1.5h-1.5zM191.2 77.4h1.5v1.5h-1.5zM189.6 133.4h1.5v1.5h-1.5zM185.2 2.8h1.5v1.5h-1.5zM190.9 108.1h1.5v1.5h-1.5zM188.4 108.4h1.5v1.5h-1.5zM185.9 50.3h1.5v1.5h-1.5zM190.1 17h1.5v1.5h-1.5zM190 98.4h1.5v1.5h-1.5zM187.6 110.7h1.5v1.5h-1.5zM186.9 156.8h1.5v1.5h-1.5zM188.6 25.3h1.5v1.5h-1.5zM185 53.3h1.5v1.5h-1.5zM190.1 11.1h1.5v1.5h-1.5zM189 68.8h1.5v1.5h-1.5zM189.1 114.1h1.5v1.5h-1.5zM187.3 108.4h1.5v1.5h-1.5zM190.5 155.9h1.5v1.5h-1.5zM189.6 128.1h1.5v1.5h-1.5zM190.4 69h1.5v1.5h-1.5zM189.5 112.6h1.5v1.5h-1.5z" fill="#888"/>
</g>
<rect x="97.2" y="6.9" width="37.2" height="36.4" fill="none" stroke="#3aa52a" stroke-width="1"/>
<rect x="50.6" y="40.1" width="26.8" height="27" fill="none" stroke="#2a5fc8" stroke-width="1"/>
<rect x="87.6" y="87.3" width="23.8" height="23.8" fill="none" stroke="#c81e1e" stroke-width="1"/>
<rect x="123.5" y="106.2" width="8.4" height="8.5" fill="none" stroke="#d8a030" stroke-width="1"/>
<text x="101.2" y="15.2" font-size="9" fill="#fff" font-weight="bold">k</text>
<text x="55.2" y="50.4" font-size="9" fill="#fff" font-weight="bold">f</text>
<text x="91.4" y="96.6" font-size="9" fill="#fff" font-weight="bold">d</text>
<text x="126.2" y="103.4" font-size="9" fill="#fff" font-weight="bold">e</text>
<rect x="19" y="159.9" width="51.4" height="2.6" fill="#fff" stroke="none" stroke-width="1"/>
<text x="173.2" y="166" font-size="9.5" fill="#ddd" text-anchor="end" textLength="29" lengthAdjust="spacingAndGlyphs" stroke="#ddd" stroke-width="0.22">At 26 s</text>
<text x="-0.6" y="6.9" font-size="13.5" fill="#000" font-weight="bold">a</text>
<rect x="12" y="180.3" width="169.6" height="168.9" fill="#000" stroke="none" stroke-width="1"/>
<clipPath id="cpb"><rect x="12" y="180.3" width="169.6" height="168.89999999999998"/></clipPath>
<g clip-path="url(#cpb)">
<g filter="url(#bl4)">
<ellipse cx="80" cy="300" rx="26" ry="22" fill="#a02060" opacity="0.4"/>
<ellipse cx="125" cy="312" rx="22" ry="12" fill="#a02070" opacity="0.35"/>
<ellipse cx="155" cy="260" rx="22" ry="45" fill="#602090" opacity="0.35"/>
<ellipse cx="150" cy="305" rx="18" ry="12" fill="#a02070" opacity="0.3"/>
<ellipse cx="112" cy="208" rx="22" ry="12" fill="#602080" opacity="0.25"/>
<ellipse cx="65" cy="246" rx="24" ry="10" fill="#a02050" opacity="0.3"/>
</g>
<g filter="url(#bl1)">
<path d="M49.6 309.6L53 306.9M77.9 304.1L82.3 300.1M69.8 241.8L73.9 239.2M56.4 271.1L60.1 266.7M45.4 263.4L48.9 261.8" fill="none" stroke="#4ba72d" stroke-width="1.2" stroke-linecap="round" opacity="0.8"/>
<path d="M137.3 294.6L138 289.6M95.8 314.8L97.1 312.1M61.8 253.7L66.4 250.6M93.1 272.7L95.3 270.7M135.2 330.4L136.4 327.5M39.7 265.4L43.2 263.4M80.1 312.3L82.7 307.3M87.7 336.3L90 333M77.6 275L79.6 272.9M13.2 228.7L18.9 226M87.7 245.8L89.9 244.3M150.1 291L150.4 288.9M45.5 282.2L47.5 280.2M69.7 310.9L71.7 308.3M84.2 290.1L85.7 286.5M106.4 328.2L107.6 321.9M69.8 267.1L73.1 264.8" fill="none" stroke="#f16692" stroke-width="1.2" stroke-linecap="round" opacity="0.55"/>
<path d="M146.8 306.2L147.4 300.9M133 305.4L133.1 301.5M110.5 294.3L110.7 291.6M93 291L94.2 288.3M81.2 248.2L84 247M87 281.5L89.4 278.3M53.9 239.7L57.3 237.8M109.6 322.1L111.2 318.3M116.9 315.8L117.6 310.8M138.4 309.8L139.5 304.7M125.1 312.3L125.4 309.5M109.8 320.9L111.9 317.7M127.9 320.1L128.8 317.5M73.3 302.6L76.3 300.2M41.5 273.9L44.7 272.2M122.1 324.3L125.7 319.2" fill="none" stroke="#e72341" stroke-width="1.2" stroke-linecap="round" opacity="0.55"/>
<path d="M66.6 236.9L71.4 236.7M80.7 231.2L83.7 230M86.7 318.6L90 313.5M71.5 229.3L74.6 228.7M65.2 260L68 258.5M153.2 288.8L154.3 282.5M83.2 245.9L86.4 244.8M72.1 253.1L74.6 251M104.2 313.3L105.4 310.9M130.9 284.5L131.3 279.7M67.7 305.3L69.5 303.4M68.2 257.2L73.4 255.9M20.1 241.2L25.6 241.5M53.7 315.2L56.8 312.2M53.2 240.3L57.2 238.8M104.7 328.8L108.3 323.9M134.5 316.2L134.9 310.9M20.9 295.5L24.2 294.4M141.7 317.9L143.1 311.8" fill="none" stroke="#206ddf" stroke-width="1.2" stroke-linecap="round" opacity="1.0"/>
<path d="M102.4 296.2L106.7 292.3M85.7 316.2L89.1 310.9M90.5 295.4L92 294.1M159.8 301.6L158.8 299.4M64.5 278.3L69.5 275M133.7 298.8L133.8 294M58.4 248.2L62.5 245.6M49.5 286.6L54.7 283.5M74.3 265.5L78.5 262M107 336.5L107.9 334.1M62.1 289L63.6 287.6M51.7 248.1L57.1 247.5M98.2 313.6L99.6 309.8M83.8 249.6L87 246.9M82.6 270L84 268.5M105.6 320.3L107.7 316.6M68.2 251.2L73.5 248.5M71.6 268.8L76.2 265M81.9 270.5L85.4 265.9M60.5 225.6L64.5 224.2" fill="none" stroke="#ed3663" stroke-width="1.2" stroke-linecap="round" opacity="1.0"/>
<path d="M72.8 285.8L77.5 281.8M45.7 316.6L49.2 313.9M81.4 304.7L83.2 301.6M60 244.2L65 241.6M145.5 317.7L144.8 315.1M87.1 307.3L88.9 305.2M92 325.6L92.4 320.4M163.5 296.8L162.1 290.7M59.6 255.9L65 253.5M133.4 302.1L134.7 296.8" fill="none" stroke="#f04779" stroke-width="1.2" stroke-linecap="round" opacity="0.8"/>
<path d="M100.4 326.6L101.4 324.4M104.5 313L105.7 309M69.3 267.9L73.3 265.1M76.6 300L77.8 298.1M81 328L82.1 326.2M109.1 277.6L110.8 275.2M96 307.9L97.7 306M66.2 231.3L70.2 230.5M70.4 246.7L73.8 243.2M104.1 332.2L105 328.8M60.9 230L65.8 229.2M135.6 286.2L136.7 283.7M60 261L64.3 256.3M47.8 283.1L52.5 280.1M98.8 306.3L100.8 300.8M99.8 298.6L101.3 296.1M23.4 249.8L28.7 248.1M59 323.1L64 319.4M78.3 311L81.5 305.9M137.3 295.4L138.2 290.1M56.3 277.9L60.8 273.6M55.3 258.7L57.6 257.1M61.6 297.3L64.6 294.5" fill="none" stroke="#e72341" stroke-width="1.2" stroke-linecap="round" opacity="1.0"/>
<path d="M100.2 302.6L101.5 300.3M79 268.3L82 266M85.9 263.4L87.6 262.1M58.9 292.1L62.2 287.5M150.3 305.3L150.8 302.9M164.1 323.1L164.2 317.8M113.6 309.1L116.3 304M80.1 305.2L81.6 303.4M101.5 293.6L103.6 287.9M88.8 298L90 296.4M99.2 307.2L101.3 303M81.8 337.9L84.2 334" fill="none" stroke="#f89c77" stroke-width="1.2" stroke-linecap="round" opacity="1.0"/>
<path d="M136.2 321.1L137.2 318.9M42.1 237.7L45.8 235.6M147.8 295.9L147.3 291.8M98.9 315.8L99.8 313.7M114.4 322.2L116.7 318.9M26.3 238.6L30.9 237.5M149 310.8L149.2 306.7M67.4 259.5L70.5 258.1M90.1 230.1L93.2 228.2M81.7 284.6L85.6 280.3M120.1 296.1L121.9 292M111.3 330.4L112.5 327.4M59.5 256.5L62.8 254.8M100.8 312.5L101.8 310.7M76.8 246.3L81.1 243.4M125.3 311.4L127.6 306.1" fill="none" stroke="#f05688" stroke-width="1.2" stroke-linecap="round" opacity="1.0"/>
<path d="M115.6 333.8L117 329.3M76.7 297.6L80.2 294.4M133.5 329.1L133.8 323M139.7 318.2L139.8 315.2M149.4 298L149.5 293.2M85.4 293.1L87.3 290.4M133.9 312.7L134 310.3M118.2 308.8L119 305.7M144.5 316.7L144.7 312.5M171.1 319.9L170.1 315.4M98.2 309.5L99.7 307M91.9 313.5L94.4 309M146.9 315.1L147 312.2M139.6 308.4L139.1 304.4M92.3 294L96.2 289.1M69.8 272.1L73.2 269.2M79.6 302.2L82.4 296.7M85.9 302.6L88.7 300.1M120 335.2L120.6 332.2M95.5 242.6L100 239.4" fill="none" stroke="#206ddf" stroke-width="1.2" stroke-linecap="round" opacity="0.55"/>
<path d="M78.1 320.4L82.1 316.4M96.7 276.6L99.7 272.3M108.2 318.8L109.7 316M65.4 312.7L68.2 309.2M103 325.1L106.6 320.1M68.3 264.6L70.1 262.3M63.9 257.3L69.2 254.9" fill="none" stroke="#f89c77" stroke-width="1.2" stroke-linecap="round" opacity="0.55"/>
<path d="M99.5 326.9L100.6 323.7M109.3 324.1L110.1 320.7M61.9 286.4L65.5 282.4M80.8 225.1L84.6 223.9M154.8 305.9L154.8 303.3M97.7 273.8L99.4 272M58.1 230.8L63.3 230.8M73.3 300.6L76.5 296.1M50.2 243.3L55.1 241.4" fill="none" stroke="#e6c622" stroke-width="1.2" stroke-linecap="round" opacity="0.55"/>
<path d="M76.8 295.6L78.7 293.8M69.2 291.9L71.8 286.9M124.2 324.1L124.8 318.6M50.6 303.8L54.6 300.1M123 307.2L124.4 305.1M107.2 320L108.5 316.9M113.9 305.2L117.1 301.2M45.8 298.4L48.5 297.3M101.2 264.6L104.7 260.2" fill="none" stroke="#e01020" stroke-width="1.2" stroke-linecap="round" opacity="1.0"/>
<path d="M51.1 300.8L55.1 298.3M135.5 290.8L136.6 285.8M121.4 286.3L123.3 282.3M71.7 261.6L75.9 258.5M60.3 266.4L65.2 263.9M90.1 344.2L91.6 340.5M72.1 306.1L73.9 304.4M44.6 304L46.1 298.7M58.5 248L61.4 247.5M74.3 328.6L75.5 326.9M65.4 281.5L68.6 279M147.7 311.6L147.5 308.4M151.2 313.7L150.7 308.3M91 288.5L92.7 283.9M62.6 238.2L68.1 235.9M79.4 281L81.3 276.8" fill="none" stroke="#e6c622" stroke-width="1.2" stroke-linecap="round" opacity="0.8"/>
<path d="M152.4 305.8L152.2 300.5M133.8 324.2L134.3 319.2M124 310.5L125.5 306.6M115 311.1L116.3 305M70.6 277.1L72.8 273.8M95.4 311.3L98.2 307.3M104.1 306.3L105.3 302M45.7 279.6L50.2 276.5M80 255.1L83.3 252.1M72.8 254.4L76.5 252.1M46.1 246.5L48 245.3" fill="none" stroke="#eebd3c" stroke-width="1.2" stroke-linecap="round" opacity="0.8"/>
<path d="M64.5 247.2L68.8 244.8M61.8 318.6L64.5 314.3M79.7 275.9L81.1 274M66.8 237.2L72.3 235.6M78.4 284.3L79.5 282.6M55.1 251.1L59 249.2M95.2 246.3L97.6 244.9M77.5 296.5L80.5 294.3M157.4 309.3L157.7 303.2M134.2 313.5L133.3 307.7M47.9 260.6L51.3 258.2M85.1 288.3L89.2 283.6M53.4 267.1L55.3 265.3M114.7 322.8L114.7 316.9M95.3 329.8L95.9 326.3M64 289.5L66.1 287.8M45.9 251.3L48.3 250.1M134 327.9L134.5 324.3" fill="none" stroke="#f04779" stroke-width="1.2" stroke-linecap="round" opacity="1.0"/>
<path d="M62.2 320.4L62.8 317.6M129.5 286.9L130.3 284.9M120.2 312.4L121.1 309.6M79.4 298.2L82.9 294.1M82.5 311.6L84.4 306.7M57.5 302L62.4 299.1M73.6 227.7L76 226.9M51.1 272.8L55.1 270.7M110.3 302.9L111.9 299.7M118.6 276L120.3 273.4M70.6 238.7L75.7 236.8M59.5 313.1L61.1 310.8M63.1 268.2L65.2 266.2M90 313.3L92.4 309.2M35 250L38.5 248.2M42.2 242.7L45.5 241.2M133.1 310.5L132.5 306.1M69.3 222.1L73.9 221.3" fill="none" stroke="#f16692" stroke-width="1.2" stroke-linecap="round" opacity="0.8"/>
<path d="M62.3 255.4L65 253.7M55.5 276L60.2 272.5M66.9 242.4L70.6 241.1M69.2 278.9L73 274.7M131.1 292.9L134.1 288.2M136.9 307.2L137 302.1M117.9 294.6L119.2 290.6M105.8 311.6L106.3 306.7M54.1 333.4L58.7 329.2M107.7 313.4L108.6 308.2M85.4 299.2L88.7 295.8M132.2 312.7L132.6 307.1M104.7 309.7L107.7 304.2M145.9 315.1L145.9 312M86.5 266.1L88.9 264.2M74.7 248.7L76.5 247.8M37.8 233.2L42.8 232M44.8 234.6L48.4 234.5" fill="none" stroke="#f16692" stroke-width="1.2" stroke-linecap="round" opacity="1.0"/>
<path d="M131.8 311.5L132.8 305.7M95.7 281.9L97.6 276.8M99.7 320.7L102.9 317.6M73.3 300.4L76.5 295.5M123.4 330.7L123.4 325.6" fill="none" stroke="#88b824" stroke-width="1.2" stroke-linecap="round" opacity="0.8"/>
<path d="M75.1 321.4L76.7 319.7M73.3 306.1L74.5 303.6M73.3 259.5L77.5 257.3M92.8 294.6L93.7 291.6M42.7 239.9L44.9 238.7M74.4 319.4L76.9 314.3M58.6 281.5L59.9 279.6M39.4 243.4L43.6 241.5M67.3 297.3L70.2 294.5M69.1 227.8L73.7 228.7M103.4 327.6L105.1 323.2M115.9 238.8L119.4 235.3M93.6 300.5L96.5 296.7M80.8 269.7L85.3 266M36.4 250.1L39.7 249.3M149.6 288.8L151 283M52.3 253.5L56.5 253.3" fill="none" stroke="#ed3663" stroke-width="1.2" stroke-linecap="round" opacity="0.8"/>
<path d="M94.7 308.5L98.5 303.6M111.6 297.2L112.7 294.5M93.7 313.5L96 311.3M113.1 323.2L114 318.9M69 303.3L72.4 300.5M98.2 305.4L99.1 303.5" fill="none" stroke="#f47a8b" stroke-width="1.2" stroke-linecap="round" opacity="0.8"/>
<path d="M70.6 281.6L74.3 277.1M63.5 256.4L68.7 253.1M93.9 243.9L98.3 241.2M81.7 287.7L85.9 283.7M74.8 286.1L79.2 283M91.9 264L94.2 261M127.7 328.3L128.9 324.4M118.1 290.4L122.1 285.5M66.1 278.9L69.5 278M60.6 252.1L62.7 250.9M79.5 303.9L81.4 300M63.2 311.7L65.8 309.9M149.9 307.5L150.7 303.7M63.3 231.5L65.9 230.8M70.2 276.6L73.2 274.5" fill="none" stroke="#206ddf" stroke-width="1.2" stroke-linecap="round" opacity="0.8"/>
<path d="M67.9 310.8L70.1 307.8M118 321.4L119.2 316.8M103.1 321.3L104.6 316.3M122.7 305.2L123.3 303M81.2 253.8L85.1 250.2M89 295L90.1 293.1M132.4 322.7L133.9 319.3M126 305.6L126.2 303.1M67.7 297.6L69.2 294.4M83.8 260.3L86.6 258.1M125.2 296.7L125.9 294.2M127.7 307.5L128.2 302.7M96.6 323L97.9 319.8M128.2 333.5L128.8 329.7M36.4 239.1L38.5 238.5M81.7 300L83.2 296.9M82.2 265.5L84.9 261.2M102.6 323.8L103.7 321" fill="none" stroke="#f05688" stroke-width="1.2" stroke-linecap="round" opacity="0.8"/>
<path d="M61.7 250.5L66.6 247.6M83.1 271.7L84.9 269.4M44 238L49 237.1M91.3 320.3L92.2 315.7M95.4 325.7L96.3 323.3M129.4 318.3L130.4 312.2M119.9 325.5L122.5 320.8M87.3 289.6L88.9 287M91.7 287.9L94 284.7M88.5 292.8L92.7 288.3" fill="none" stroke="#e01020" stroke-width="1.2" stroke-linecap="round" opacity="0.8"/>
<path d="M108 318.7L110.7 313.7M90.2 315L91.2 312.5M62 295.7L63.9 290.9M101.6 276.9L105.9 272.6M75.8 229.3L80 227.3M129.1 322.6L129 320M50.4 250.4L52.5 249.6" fill="none" stroke="#3ca23d" stroke-width="1.2" stroke-linecap="round" opacity="0.8"/>
<path d="M162.8 317L162.2 312.9M50.2 249.2L52.4 248.6M97.6 323.9L98.8 321.1M71.6 305.5L73.8 301.7M151.9 313.2L152.6 309.7M82.2 290.5L85.7 286.4M57 235.7L59.5 234.9M91.4 281.2L93.7 277.9M91.9 297.2L92.4 294.5M34.3 231.4L37.2 230.3" fill="none" stroke="#f47a8b" stroke-width="1.2" stroke-linecap="round" opacity="0.55"/>
<path d="M81.2 270.9L82.6 269.4M109.9 299.1L111.4 297M87.1 290.3L89.2 286.5M128.8 306L131.4 300.9M84 238L86.8 236.7M72.2 308L74 305.9M63 311.9L67.2 310.1M146.6 298.1L145.3 294.5M84.8 264.7L85.7 262.8M68.4 268.6L69.9 266.6M57.2 276.8L61.4 274.3M36 246.8L38.2 246.1M103.1 292.8L104.9 290.1M73.1 274.5L75.3 271.4M110.8 329L112.9 323.2M90.1 249.7L93.8 247.1" fill="none" stroke="#f05688" stroke-width="1.2" stroke-linecap="round" opacity="0.55"/>
<path d="M119.1 314.7L120.8 311.2M110.7 325.7L111.5 322.9M69.8 297.4L72.2 292.7M55.7 263.8L60.8 262.1M46.2 321.9L49.1 317.7M76.6 278L78.5 276.8M40 253.5L42.4 252.5M80.1 241.2L83.7 239.8M70.7 284.1L73.7 282M103.5 272.1L105.2 268.9M90.8 308.7L92.4 305.5" fill="none" stroke="#eebd3c" stroke-width="1.2" stroke-linecap="round" opacity="1.0"/>
<path d="M80.3 274.1L82.5 272.2" fill="none" stroke="#2d9d4d" stroke-width="1.2" stroke-linecap="round" opacity="1.0"/>
<path d="M81.5 244.5L85.2 242.7M80.5 282.2L82.7 279.2M76.2 238.2L78.6 237M90.7 248.1L95.9 244.9M50.8 291.1L54.1 289.3M86.8 306.3L90.5 302.2M74.7 299.5L77.8 294.2" fill="none" stroke="#3ca23d" stroke-width="1.2" stroke-linecap="round" opacity="0.55"/>
<path d="M94.9 265.1L96.6 262.3M47.8 238.9L50.7 237.3M92.1 255.8L96.5 254.1M46.2 277.6L48.8 274.7M93.5 259.9L96.8 257.2M86.2 305.3L87.5 303.5M69.2 250.6L71.5 249.2M52.4 259.1L57 255.9M76.9 305.3L81.5 301.4M156.2 322.6L154.9 317.3M79.2 288.4L82.1 283.4" fill="none" stroke="#f47a8b" stroke-width="1.2" stroke-linecap="round" opacity="1.0"/>
<path d="M77.1 293.2L79.9 290.2M118.7 323.7L119.1 319.3M70.4 240L73 238.7M119.1 306.9L119.8 305M126.2 312.6L128.4 306.8M64.4 269L68.2 264.7M123.9 317.5L126.1 313.1M136.1 326.2L135.6 323.9M145.5 299.9L144.9 294.1M97.4 289.8L98.9 288.3M125.3 306.2L127.1 300.1M70.5 232.4L75.8 230.3" fill="none" stroke="#e72341" stroke-width="1.2" stroke-linecap="round" opacity="0.8"/>
<path d="M128.2 297.5L130 291.9M131.1 307.5L131.9 305.1M66.9 240.1L69.9 238.1M62.1 304.9L64.3 302.3M126.4 319.9L129.1 314.2M90.5 278.3L93.2 274.5M121.7 304.2L122.9 299.7M72.2 312.7L73.3 309.3M68.5 245.2L73.5 242.8M90 235.1L94.9 232M64.4 253L66.3 251.5M104.9 313.5L105.2 311.3M58 317.3L59.8 315.2M66.6 328.8L69.3 326.4" fill="none" stroke="#c7c322" stroke-width="1.2" stroke-linecap="round" opacity="0.55"/>
<path d="M59 307.7L61.6 304.1" fill="none" stroke="#2d9d4d" stroke-width="1.2" stroke-linecap="round" opacity="0.8"/>
<path d="M81.8 280.5L83.1 278.3M61.2 274.3L66 272M137.5 320.7L137.7 317.9M107.2 247.9L108.2 245.1M62.3 233.5L66.3 231.6" fill="none" stroke="#e01020" stroke-width="1.2" stroke-linecap="round" opacity="0.55"/>
<path d="M64.1 247.5L66.2 247.4M81.6 276.8L86.1 272.6M72.3 266.4L74.9 262.1M114.6 309.5L115.8 304.9M66.7 243.4L71.5 241.8M127.9 308.7L128.9 305.4M69.2 291.5L71.3 289.9M122.1 313.3L122.8 307.7M121.4 316.9L122.7 314.3M81.4 297.8L84.4 293.6M121.2 297.5L123.6 292.3M121 320.8L122.2 317.8M143.1 292.5L144.5 286.4M41.7 283.9L44.4 282.5M47.4 247L52.3 244.9M109.7 311L110.7 307.9" fill="none" stroke="#ed3663" stroke-width="1.2" stroke-linecap="round" opacity="0.55"/>
<path d="M97.1 273.7L99.3 268.5M61.5 277.2L65.4 275.6M41.7 253.8L44.1 252.8M118 302.1L118.9 300.2M83.6 256.8L85.8 254.5M48.3 287.3L50.6 285.9M68.3 252.4L71.9 249.2M36.8 298.3L40.3 295.5M88 318.2L91.6 313.6M66.6 285.2L68.1 283.7M60.1 255.5L63.4 252.7M84.5 277.6L86.9 275.7" fill="none" stroke="#f78e84" stroke-width="1.2" stroke-linecap="round" opacity="0.55"/>
<path d="M74.5 322.2L77.4 317.1M45 228.9L47.5 228.1M86.4 291.5L90.8 287M93 311.4L96.1 306.9M17.8 253L20.8 251.8M67.2 315.5L71.6 311M64.8 273.8L66.1 271.7" fill="none" stroke="#f8a868" stroke-width="1.2" stroke-linecap="round" opacity="1.0"/>
<path d="M138.4 306.4L139.1 300.4M49.5 260.6L52 259.4M57.9 321L60.7 318.7M129.3 299.9L130.7 296.1M66.9 253.1L69.2 252.2M70.7 297.7L72.5 295.4" fill="none" stroke="#f8a868" stroke-width="1.2" stroke-linecap="round" opacity="0.55"/>
<path d="M50 257.9L52.6 255.8M114.9 322.6L115.7 320.8M148.2 301.7L147.5 296.8M149.5 295L148.6 290.7M106.9 318.7L107.6 314.4M67.6 275.2L72.5 271.2M69.3 308.8L73.6 305.1M119.5 348.2L120.1 345.9M100.7 324.1L101.7 321.3M42.7 258.8L45.6 255.8" fill="none" stroke="#c7c322" stroke-width="1.2" stroke-linecap="round" opacity="0.8"/>
<path d="M118 336.2L120.1 331.7M76.3 323L78.5 317.7M67.8 287L70.7 285.4M47.4 226.6L49.8 226.5M54.9 318.4L57.4 314.7M60.1 244.5L63.1 242.2" fill="none" stroke="#f8a868" stroke-width="1.2" stroke-linecap="round" opacity="0.8"/>
<path d="M125.2 329.2L126.1 324.6M75.9 288.2L79 285.3M47.5 278.6L52.5 275.5M112.9 306.2L114.2 301.5M90.5 330.4L94.4 325.8M125.2 302.4L126.4 297.4M40.6 300.2L45.5 296.3M72.2 289.4L74.4 283.9M113.4 264.1L115.6 260.4M96.6 287.2L99.7 282.7M92.2 278.6L94.2 276.9M127 317.2L127.9 312M89.7 297.2L92.5 292.7M66.8 283.5L69.1 281.9M68.5 316.6L72.5 312.2M40.8 238.3L45.8 239.3M128.5 332.6L128.7 330.1M66.9 302.8L68.2 300.6" fill="none" stroke="#f04779" stroke-width="1.2" stroke-linecap="round" opacity="0.55"/>
<path d="M91.8 284.4L92.5 282.5M137.6 329L140.6 324.5M19.4 254.8L21.6 253.3" fill="none" stroke="#a8bf22" stroke-width="1.2" stroke-linecap="round" opacity="0.55"/>
<path d="M63.2 268.5L65.7 267.4M79.1 244.4L82 242.7M51.8 235.8L56.2 234.6M54.4 273L56.8 269.8M108.7 267.6L111.8 264.4M61.6 259.4L65.2 257.8M54.4 297.7L57.2 295.7M78.2 293.4L80.1 291.6" fill="none" stroke="#f78e84" stroke-width="1.2" stroke-linecap="round" opacity="0.8"/>
<path d="M100.8 315.4L102.3 310.5M47.9 262.1L51.4 259.6M72.4 259.7L76.5 256.9M84.3 312.1L84.3 306.7M74.5 309.5L78.1 305.3M121.5 302.6L124.3 297M129.9 315.6L129.5 313.4M42.8 260L45.2 259.3" fill="none" stroke="#f78e84" stroke-width="1.2" stroke-linecap="round" opacity="1.0"/>
<path d="M114.7 335.3L116 329.2M20.6 249.9L23.1 249.4M51.2 248.4L55 247.3M82 300.5L84.3 295.5M68.5 328.4L70.3 325.9M11.3 259.3L17.4 258M58.9 299L61.1 295.7M97 305.9L100.3 302.3M52.6 232L55.3 230.9M90 237L93.3 234.9" fill="none" stroke="#4ba72d" stroke-width="1.2" stroke-linecap="round" opacity="0.55"/>
<path d="M156.8 310.6L157.2 305.5M90.3 310.4L94.5 305.6M101.5 230L106.2 228.1M52.2 250.1L58.3 248.1M116.9 308.9L117.9 306.3M90.6 269.3L92.3 266.4" fill="none" stroke="#68af27" stroke-width="1.2" stroke-linecap="round" opacity="1.0"/>
<path d="M58.9 305.3L61.2 302.4M109.4 315.8L110.9 311.3M164.2 287.1L163.7 285M73.8 258.7L75.9 256.9M125.8 300.7L126.5 297.3M17.5 289.4L20.3 286.9M57.6 218L61 216.6M118.7 309.7L120 305.2M92.5 321.7L97.3 317.6" fill="none" stroke="#2060f0" stroke-width="1.2" stroke-linecap="round" opacity="0.55"/>
<path d="M75.4 278.1L78.2 274.1M86 316.7L88.3 313.9M66 273L71 269.4M122.5 306.8L124 301.7M99.2 291.8L102.2 288.9M143.4 302.8L143.9 300.6M69.4 241.2L72.1 239M41.7 305.1L43.6 303.3" fill="none" stroke="#68af27" stroke-width="1.2" stroke-linecap="round" opacity="0.55"/>
<path d="M98.8 330L100.9 323.9M78 320.5L81.7 317.1M50.7 238.1L56.7 236.9M110.5 313.6L111.1 311M27.8 257.8L30.8 256.3M134.3 330.1L135.2 325.7M144.5 301.3L145.5 298.7M91.6 311.7L93.6 307.9M75.2 258L79.2 254.5M93.4 241L95.8 239.4M59.2 301.3L63 297.6M93.1 260.5L94.8 258.6" fill="none" stroke="#eebd3c" stroke-width="1.2" stroke-linecap="round" opacity="0.55"/>
<path d="M117.2 322.7L119.1 318.4M71.5 298.3L74.9 295.9M142.3 293.1L141.8 286.9M94.8 314L97.1 309.3M77.2 252.8L79.2 251.4M112 317.8L112.6 315.7M76.2 252.8L78.6 252.1M116.7 333.3L118.3 328.6M128 308.5L129.4 305.8M83.1 270.6L87.3 266.9M78.7 262.4L82.4 259.2M73 286.1L75.3 284.2M68.6 247.3L72.3 245.2M148.5 332.8L147.3 329.1M77 277.4L79.7 273.8" fill="none" stroke="#c7c322" stroke-width="1.2" stroke-linecap="round" opacity="1.0"/>
<path d="M88.1 258.9L90.1 256M117.4 318.7L118 315.7M122 305L122.8 300.6M55.9 278.9L59.9 276.2M55 283.7L57.6 282.6M58.4 303.9L61.6 300.1M110.2 329L111.6 323.1" fill="none" stroke="#f89c77" stroke-width="1.2" stroke-linecap="round" opacity="0.8"/>
<path d="M44.5 271.1L47.3 269.9M82.7 304.9L85.8 299.3" fill="none" stroke="#2d9d4d" stroke-width="1.2" stroke-linecap="round" opacity="0.55"/>
<path d="M122.4 304.9L123.5 299.3M48.7 254.3L52 252.9M145.8 285.1L144.5 280.1M124.3 316.4L124.2 312.9" fill="none" stroke="#a8bf22" stroke-width="1.2" stroke-linecap="round" opacity="1.0"/>
<path d="M137.4 310L138.2 308M148 298L146.8 293.8M124.1 295.7L125.7 290.1M58.5 231.1L61.1 229.7M130.6 306.9L130.9 301.8M53.5 250.9L55.9 249.7M106.7 299.7L109.2 295.7M49.5 301.3L52.4 298.8M113.6 326.7L114.2 321.2" fill="none" stroke="#a8bf22" stroke-width="1.2" stroke-linecap="round" opacity="0.8"/>
<path d="M76 313.5L79.1 308.7M77.2 313.3L78.4 311.1M132.1 298L134.8 292.5M78.1 295.4L80 292.8M57.6 262.7L62.5 259.8M76.2 322.1L78.3 320.1M51.9 291.3L57.7 288.6M77.6 242.1L79.9 241.2M86.2 246.9L89.2 244.8M141.6 310.4L142.3 308M109.3 319.3L110.5 316.6M54.7 297.5L58.8 292.5M58.9 270.4L62 269.3M112.1 319.6L113 314.6M57.4 334L59 329.2M69.8 249.6L74.7 247.2" fill="none" stroke="#e6c622" stroke-width="1.2" stroke-linecap="round" opacity="1.0"/>
<path d="M131 319.3L131.5 314.5M90.4 319.3L91.8 316.2M53.6 305L57 300.7M129.7 300.3L131.4 294.3M96.9 330L99 325.4M80.5 278.6L84.4 274.6M151.7 311.8L152.4 306.1M110.4 316.2L110.5 311.9M136.7 292L137.5 287.8" fill="none" stroke="#88b824" stroke-width="1.2" stroke-linecap="round" opacity="1.0"/>
<path d="M109.6 330.5L113.3 325.6M94.1 321.4L97 316.1M49.5 349.5L51.8 346.1M80.9 254.9L85.6 252.2M81 283.2L83.1 277.6M47.1 294L50.5 289.7M72.1 274.9L75.2 271.4M55.3 305.4L57.2 304.1M79.6 242.1L81.5 241.1M55.3 281.2L57.9 278.8M116.2 244L119.7 238.7M40 292.2L45.3 289.5M133.9 302.3L134.6 298M55.2 320.3L57.8 318.1" fill="none" stroke="#2060f0" stroke-width="1.2" stroke-linecap="round" opacity="1.0"/>
<path d="M111.4 322.9L112.5 317.4M122.3 319.5L123.7 316.2M89.6 261.2L92.5 258.6M156 298.5L154.6 293.6M74.2 272L77.9 269.6M131.3 319.6L132.2 315.6M70.7 268.9L75.5 264.8M83.2 288.4L85.4 285.2M58.4 310.1L60.8 306.3" fill="none" stroke="#f5b456" stroke-width="1.2" stroke-linecap="round" opacity="0.8"/>
<path d="M143.8 291.9L145 287.9M130.9 306.9L131 303.6M92 312.7L93.2 309.6M103 299.4L104.9 294.4M77.8 318.5L80.6 313.7M57.3 315.6L59.6 312.5M73.7 285.1L76.4 283.2M104.1 294.2L104.9 292M52.3 296.7L53.7 294.3" fill="none" stroke="#4ba72d" stroke-width="1.2" stroke-linecap="round" opacity="1.0"/>
<path d="M38.6 232L43.2 230.1M147.7 305.3L147.7 301.3M65.8 288.4L67.5 284.8M121 325.2L122.7 321M142 310.5L142.3 308.1M49.6 281.4L52.8 278.1M87 291.9L90.1 288.7M57.7 306.7L59.6 305.3M113.4 327.4L114.7 323.7" fill="none" stroke="#3ca23d" stroke-width="1.2" stroke-linecap="round" opacity="1.0"/>
<path d="M85.4 326.7L88.9 321.5M42.4 238.5L46.5 236.4M28.8 242.5L31 242M35.4 246.5L38.8 244.6M75.9 282.1L77.7 279.3" fill="none" stroke="#88b824" stroke-width="1.2" stroke-linecap="round" opacity="0.55"/>
<path d="M76.3 280.5L78.8 277.8M38.5 250.4L44.6 248.8M69.9 237.1L74.5 234.6M59.3 241.5L64.2 239.5M43.8 272.3L46.1 271.2M77.4 249.2L83.1 246.7M121.8 332L121.4 326.4M76 294.9L79.7 292.1" fill="none" stroke="#f5b456" stroke-width="1.2" stroke-linecap="round" opacity="0.55"/>
<path d="M146.6 290.5L146 286M38.2 230L44.3 228.3M65 287.2L67.1 285.4M55.4 304.5L57.4 301.8" fill="none" stroke="#2060f0" stroke-width="1.2" stroke-linecap="round" opacity="0.8"/>
<path d="M74.2 310.6L75.7 309.2M109.2 323.9L110.3 319.6M80.1 287.2L82.4 284.6M120.5 297.8L121.4 294.5M115.3 303L116.6 300.1M61.4 250.6L64.5 249.1M67.7 313.3L68.9 311.6M61.8 283.5L63.6 282M43.1 230.3L47.8 228.8" fill="none" stroke="#f5b456" stroke-width="1.2" stroke-linecap="round" opacity="1.0"/>
<path d="M74.1 251.4L77.7 248.7M129.2 307.2L129.3 303.1" fill="none" stroke="#68af27" stroke-width="1.2" stroke-linecap="round" opacity="0.8"/>
<path d="M166 239.6L166.7 239.8M163.6 266.8L163.3 267.2M129.7 323L129 323.2M88.9 309.1L88.4 309.6M148.7 239.8L147.9 239.9M141 249.7L141.8 250.6M102.7 288L102.3 288.3M141.1 321.7L141 322M134.8 219.1L134.9 219.8M120.3 207.8L120.7 208.1M147.7 245.7L147.1 245.7M132.2 190.3L132.4 191.2M131.3 207.7L130.6 207.9M125.2 224.6L125.5 224.7M145.2 212.9L145.6 213.9M168.4 257.6L169.2 257.7M142.7 223.4L143 223.4M130 223.3L129.7 223.8M135.1 240.7L134.3 241.2M127.9 237.6L127.6 237.6M130 231.9L130.7 232.2M126.6 310.7L125.8 310.7M107.1 193.4L106.3 193.5M165.7 243.1L166.5 243.5M122.9 242.1L122.4 242.8M159 225.7L159.7 226.5M169.9 251.1L170 251.5M176.1 300.9L175.4 301.6M131 225.6L131.7 226M61.5 315.9L61.4 317M163.2 236.6L163.1 237.6M158.9 241L159.8 241.4M99.5 310L100.3 310.2" fill="none" stroke="#f04779" stroke-width="1.6" stroke-linecap="round" opacity="1.0"/>
<path d="M140.5 309.8L140.7 310.4M142.5 283.9L142.6 284.5M123.7 248.6L124.8 249M169.3 300.1L169.7 300.3M69.2 308.5L68.7 309.3M156.4 234.7L157.2 234.7M138.6 291.3L138.3 292.1M120.7 238.8L120.5 239.7M154 324L153.7 325.1M59.7 272L59.5 272.2M162 264.5L161.8 264.6M139.7 208.5L139.4 208.6M158.9 235.6L158.6 236M166.3 267.2L166.8 267.4M157.8 248.8L158.2 249.3M178.6 295.1L178.1 295.6M72 305.4L71.7 306M96.2 281.6L96.7 282.3M162.4 285.8L162.7 286.8M166.6 283.3L166.9 284.1M175 212L175.1 212.5M108.2 223.1L108.3 223.4M146.2 281.4L147 281.4M84.1 275.7L85.1 275.9M131.9 272.6L131 273.3M153.7 305.4L153.1 305.9M155.2 284.2L155.1 284.7M127.1 199.6L127.5 199.7M136.5 223.5L136.8 224M162.5 245.5L162.5 246.7" fill="none" stroke="#f05688" stroke-width="1.6" stroke-linecap="round" opacity="0.6"/>
<path d="M172.1 262.8L173.2 263.2M137.9 194.8L138 195.1M137.7 284.1L138.6 284.3M148.7 310.5L148.8 311.6M172.6 245.7L173 246.7M167.6 231.5L168.7 231.7M141.7 305.1L141.9 306.2M175.2 241.8L175.2 242.1M120.6 182.7L120.1 183.5M118.7 230.7L117.6 231M120.7 234.4L120.7 234.6M160.5 320.4L160 320.9M176.3 253L176.6 253.6M149.3 253.3L149.7 254.2M150 229.8L149.9 230.1M156.2 324.3L156.5 324.5M167 248.5L166.7 249.2M152.5 308.4L152.8 308.8M158.9 193.7L158.8 194.1M162.5 279.7L162.9 280.1M143.4 301.9L143.7 302.2M97.5 217.5L97.8 218.1M171.2 218.2L171.1 218.7M79.9 291.6L80.5 291.8M122.6 322.9L123.5 323.3M132.8 183.6L132.8 184.3M162.4 295.6L162.2 296.7M163.8 287L164.4 287.5" fill="none" stroke="#e72341" stroke-width="1.6" stroke-linecap="round" opacity="0.6"/>
<path d="M177.8 300.1L177.3 300.2M117.1 239.3L116.2 239.7M100.1 314.1L100.2 314.4M152.5 295.6L152.3 296M47.4 308.4L46.9 309M125.9 235L126.3 236M60.2 245L60.3 245.7M171.8 257.8L171.3 257.9M159.9 297.5L160.4 298.2M88.5 222L89.4 222.6M113.5 219.4L113.1 219.7M140.3 260.2L140.4 260.5M137 241.7L137.1 242.6M84.8 216.4L84 216.8M154.5 313.1L155 313.5M148.3 269.7L148.2 270.2M93.8 241.7L94.2 242.4M164.7 254.9L165.1 255.8M111 194.5L111.7 194.5M176 263.3L176.6 264.4M85.1 192.1L84.4 192.9M160.6 251L160.3 251.5M130.4 302.1L131.1 303M166.1 316.9L166.4 318M128.8 209.4L129.2 209.5" fill="none" stroke="#2060f0" stroke-width="1.6" stroke-linecap="round" opacity="0.85"/>
<path d="M164.5 196.9L164.6 197.3M172.2 198L172.1 198.4M151.3 297.3L151.9 297.8M138.8 203.1L138.6 203.5M152.7 284.1L152.9 284.4M173.5 275.3L172.6 275.5M136.9 254L135.9 254.2M155.8 279L155.3 279.8M143.7 305.2L143.8 305.6M172.7 291.5L172.8 292M49.4 305.6L49.4 306.3" fill="none" stroke="#f16692" stroke-width="1.6" stroke-linecap="round" opacity="0.85"/>
<path d="M172.9 274.5L172.5 274.6M176.7 193.9L177.8 193.9M127.3 212.8L127.7 213.4M44.4 292.8L44.1 293.5M147.7 259.9L147.9 260.3M151.7 312.1L152 312.2M141.4 273.6L141.8 274.2M161.7 301L162 301M105.7 308L104.7 308.7M156.8 319.8L157 320.3M109.8 317.8L110 318.3" fill="none" stroke="#e6c622" stroke-width="1.6" stroke-linecap="round" opacity="1.0"/>
<path d="M152.3 207.6L152.8 207.8M141.6 298L142.5 298.5M169 248.8L168.8 248.9M59.9 306.4L59.6 306.9M170.5 206.7L170.2 206.7M178.2 318.3L177.5 319.1M70.6 313.8L70.4 314M138.7 235.7L138.4 235.9M137 195.6L136.8 196.1M130.2 213.3L130.9 214.2M152.2 269.5L152.1 270.1M169.6 295.2L169.3 295.7M164.1 258.9L163.8 259.7M144 246.1L144.2 246.3M131.7 184.6L131.4 185M89.4 212.4L90 212.4M167.8 295.4L168.3 296.2M107.3 306.6L106.7 307.1M55.2 255.8L54.7 256.5M133.9 237.4L133.2 237.5M179.1 248.7L179.3 248.8M159.7 317.9L158.9 318.5M174.7 260.8L175.7 261.1M74.3 190.8L74.1 191.8M132.3 239L132.3 239.2M176.4 300.2L176.2 301M124.4 323.4L124.5 324.3M154.6 297.2L153.5 297.5M174.7 209.5L174.9 209.7M175.6 293L175.2 293.4M145.5 299L145 299.6M162.8 245.6L162.4 246.3M146.3 225.4L146.3 226M143.8 284.9L143.9 285.2M99 205.9L98.3 206.9M139.1 190.2L138.2 190.7M145.3 212.2L145.1 212.4M148.2 212.5L147.7 212.8M98.3 210.9L98.9 211.3" fill="none" stroke="#206ddf" stroke-width="1.6" stroke-linecap="round" opacity="0.85"/>
<path d="M176.4 201.3L176.6 201.5M79.8 277.6L79.4 277.7M135 248.2L135.4 248.2M70.3 308.8L69.6 309.1M129.7 222.3L129.4 222.5M155.9 308.3L155.7 309M139.2 321.1L138.8 322.2M167.1 295.8L166.8 296.5M162.1 261.8L161.5 262.4M167.6 275.9L166.9 276.6M91.9 235.9L92 236.2M167.7 236.7L167.7 237.8M174.6 225.9L175.5 226.4M148.4 267L148.5 267.4M94.3 308L94.1 308.3M116.2 229.5L115.6 230.4M93.3 301.5L92.8 301.6M158.8 249.7L158.7 250M130 225.4L129.6 225.5M104.3 309.9L103.7 310.3M156.1 247.9L155.2 248.1M129.9 193L129.8 193.7M134.4 302.4L134 302.4M126.6 200.9L126.7 201.5M92.1 217.8L91 218.1M131.7 201L132 201M123.9 252.5L124.1 252.6" fill="none" stroke="#f05688" stroke-width="1.6" stroke-linecap="round" opacity="1.0"/>
<path d="M154.9 195.4L154.9 195.7M144.4 250.1L145.1 250.3M135.6 207.4L135.8 208.5M53.6 305.6L53.2 306.6M142.3 312L141.5 312.3M152.9 291.6L153.8 292.3M144.9 292.5L144.9 293" fill="none" stroke="#f89c77" stroke-width="1.6" stroke-linecap="round" opacity="0.6"/>
<path d="M149.7 307.8L149.5 308.9M96.5 325.8L97.2 326.4M171.9 269.4L172.7 270M150 276L150.7 276.8M148.9 270.5L148.7 270.7M153.5 260L153.4 260.3M70.2 298.1L69.9 298.4M68.8 209.9L69.3 210.2M132 298.2L131.4 298.9M169.2 309.3L169.6 309.8M80.9 303.2L80.1 303.5M160.5 290.2L161.4 290.5M52.6 299.5L52.1 299.8M164.9 300.6L164.4 300.7M126.4 228.8L126.8 229.5M156.9 221.5L156.7 221.9M140.7 321.9L141.2 322.6M146.6 184.1L146.4 184.4M120.4 219.2L119.3 219.5M157.3 307.6L157.2 307.9M101.3 307.6L101.2 307.8M118.6 261.9L119 262M148.5 238.2L148.1 238.2M155.6 263.8L154.5 264" fill="none" stroke="#ed3663" stroke-width="1.6" stroke-linecap="round" opacity="1.0"/>
<path d="M73.8 248.2L74.1 249.3M160.1 284.1L160.3 284.5M150.9 279L150.9 279.3M136.8 191.4L137.1 191.7M156.7 248.1L156.8 249.1M154.9 265.3L155.1 265.6M152.5 283.7L152.9 283.7M134.7 297.9L134.5 298.6M178 313.5L177.2 313.6M125.6 311L125.9 311.2M84.8 310.7L83.9 311.2M146.4 204.4L146.6 204.9M167.1 278.5L167.4 279M139 240.1L138.7 241M164.1 306.1L165 306.3M122.8 220.2L123 220.3M137.7 271.4L138.2 272.2M102.8 291.5L103.2 291.8M128.3 212.3L128.1 212.6M130 293.5L128.9 293.7M108.2 280.6L108.2 280.9M69.4 300.1L69.1 300.1M109.9 235.7L109.7 235.9M170.6 311.8L171.3 312.1M139.6 306.2L139 307.1M128.9 228.2L129.3 228.9M142.4 210.2L142.6 210.4M170.5 271.9L171.3 272.7M151.4 294L151.9 294.9M140.6 255.9L140 256.1M98.7 222.8L98.6 223.9M50 295L49.8 295.7M119.5 241.4L119.6 241.8M150.8 205.3L151.2 206" fill="none" stroke="#206ddf" stroke-width="1.6" stroke-linecap="round" opacity="1.0"/>
<path d="M153.2 317.6L153 318.7M116.7 201.7L117.7 202.4M155.6 195.9L155.4 196.4M131.6 251.1L132.3 251.9M162.6 315.1L162.2 315.3M125.8 191.7L125.6 192.5M125.3 249L125.9 249.3M123.3 195.5L123.7 195.9M129.6 275.2L129.4 275.6M115.9 237.1L115.4 237.4M75.7 290.3L75.5 290.4M141.9 245.4L141.8 246M86.5 341.9L86.4 342.2M146.4 309.5L145.8 310.1M179.3 304.2L179.6 305.3M164.3 303.9L164.5 304.2M166.7 195.5L166.7 196.5M130.3 198L130.6 198.4M138.1 188.4L138.3 188.5M159.9 243.5L158.8 243.5M144.3 307.8L144.6 308.1" fill="none" stroke="#e72341" stroke-width="1.6" stroke-linecap="round" opacity="1.0"/>
<path d="M159 322L158.2 322.7M169.5 308.4L169 309.2M104.4 269.6L104.2 270.2M138.5 260.2L138.5 260.8M149.2 313.9L149.5 315M155.4 192.7L156.1 193.5M169.8 193.1L169.3 193.4" fill="none" stroke="#f8a868" stroke-width="1.6" stroke-linecap="round" opacity="0.85"/>
<path d="M144 262.8L143.3 263.1M167.4 245.4L167 246.3M72.6 325.3L72.5 326.3M120.9 223.2L121.2 223.7M143.3 318.3L143.8 319M124.9 235.7L124.6 235.8M137.4 192.7L136.7 192.8M145.2 182.1L145.4 182.5M170.9 233.6L170.9 234.6M105.9 284.5L106 285.2M123.9 226.7L124.3 226.8M97.4 257L97.6 257.5M161.8 320.7L161.7 321.8M114.3 325.6L113.6 326.3M130.4 212.7L130.9 213.1M87.3 316L86.7 316.1M170.5 261.1L170.2 261.2M146.8 260.8L146.2 261.5M159.7 273.8L159.9 274.1M69.6 255.2L70 256M177 216.7L177.2 217.2M167 218.9L167.7 219.7M112.5 186.5L112.1 187.4M162.7 249.2L163 249.7M157.1 193.7L157.4 194.2M161.2 231.2L161.2 231.7M126.1 200.4L125.5 201.3M122.2 222.6L121.9 222.9M139.3 227.7L138.9 227.8" fill="none" stroke="#206ddf" stroke-width="1.6" stroke-linecap="round" opacity="0.6"/>
<path d="M172.1 252.1L172.1 252.8M120.7 224.9L121.2 225.2M141.7 278.3L142.1 279.2" fill="none" stroke="#f5b456" stroke-width="1.6" stroke-linecap="round" opacity="0.6"/>
<path d="M127.1 315.9L127.7 316.8M131.5 244.4L130.8 244.4M165.5 198.5L165.8 199.7M136.9 184.7L137.9 184.8M107.7 213.2L108.6 213.9M127.9 229.4L128.1 229.7M146.9 263L147.9 263.3M147.7 318.4L147.3 318.7M162.3 307.2L162.7 308M121.5 323.2L121.6 323.7M152.2 287.6L152.2 288.5M63 276.6L63.4 277.6M106.1 231.4L105.9 231.7M128 291.3L127.7 291.5M138.4 256.7L138.5 256.9M180.6 222.1L180.9 222.4M100 294.1L101.1 294.3M140.7 268.6L141.9 268.8M75.9 306.7L75.8 306.9M106.3 314.2L105.7 314.7M117.3 259.4L117.3 259.8M140.9 191.6L140.2 192.1M146.3 232L146.4 232.2M166.1 244.1L167.2 244.5M110 221.4L110.5 222M84.1 313.2L83.2 313.8M141.5 282.4L142.5 282.7" fill="none" stroke="#2060f0" stroke-width="1.6" stroke-linecap="round" opacity="0.6"/>
<path d="M138.3 276L138 276M138 324.2L137.3 324.7M153.5 271.6L154.4 272.2M60.5 291L59.6 291.6M106.1 202.7L106.1 202.9M138.8 307.6L139.6 307.9M134.9 321.9L135 322.7M70.9 282.6L70.7 283M136.2 304.9L136.2 305.3M156.2 231.3L156.3 231.5M137.6 229.9L137.7 230.7M144.3 262.4L144.2 262.6M123.6 203.5L122.8 203.9M150.3 267.2L151 267.9M165.8 272.4L165.7 273.2M118.2 198.1L119.2 198.6M79 302.3L78.1 302.6M145.4 265.5L144.8 265.9M148.8 233.1L148.6 233.3M153 231.5L152.6 232.5M147.9 319.4L148.6 319.5M172.4 291.1L172 291.8M136.7 314.3L136.3 314.4" fill="none" stroke="#ed3663" stroke-width="1.6" stroke-linecap="round" opacity="0.85"/>
<path d="M83.3 282.9L83.2 283.4M167.6 249.1L168.4 249.8M154.8 316.1L153.7 316.6M164.2 242.2L164.2 242.5M179.4 299.6L178.8 299.8M167.4 229.6L168 230M161.9 194.9L162.3 195.9M128.5 252.3L128.4 253M152.5 211.3L152.3 212.2M104.3 312.4L104.3 312.6M166.7 321.8L167.5 322.2M163.2 314.2L163.5 314.5M130.6 194.1L131.1 194.7M154.7 256.9L154.4 257.2M158.1 290.3L157.5 291.2M149.4 265L148.9 265.6M168.7 266.9L168.4 267.1M145.1 221.8L144.4 222.2M155.9 296.3L155.6 296.5M48 316.5L49 317M138 215L137.7 215.3M131.4 247.8L132.3 248.5M50.3 274.6L49.4 275.4M168.3 290.6L167.4 291.2M173.3 237.6L172.7 238.3" fill="none" stroke="#e72341" stroke-width="1.6" stroke-linecap="round" opacity="0.85"/>
<path d="M148.6 273.2L149.4 273.3M130.7 312.7L130.4 312.7" fill="none" stroke="#f89c77" stroke-width="1.6" stroke-linecap="round" opacity="0.85"/>
<path d="M137.8 245.8L137.9 246.1M164.3 276.4L163.7 276.5M73.1 250.2L72.7 250.5M171.3 259.7L172.2 260.4M157.5 246L157.9 246.6M138.6 293.9L139.4 294.5M126.6 224.7L125.8 224.7M167.1 269.3L167.7 269.5M113 228L113.5 228.4M98.6 299.2L98.7 299.7M136.4 264.9L137.1 265.3M107.5 325.6L106.4 325.9M150.3 298.5L150.8 299.5M158.4 313.6L157.9 313.9M132.5 289.7L133.6 290M173 228.9L173 229.4M108.5 192.1L108 192.2M152.6 263.6L153.4 264M128.7 266.9L129 267.2M104.7 199.1L104.8 199.6M139 290.2L138.6 290.7M118.5 208.7L118.8 209.4M147.7 217.8L148.4 217.9M165 302.7L164.6 303.2" fill="none" stroke="#f04779" stroke-width="1.6" stroke-linecap="round" opacity="0.85"/>
<path d="M100.7 318.2L100.4 318.2M137.7 291.2L137.5 291.3M143.5 229.1L142.4 229.3M134.2 243.8L134.5 244.2M73.4 210.8L74.1 211.5M162 296.2L161.2 296.5M160.3 218.3L160 218.4M153.1 257.4L153.2 257.6M155.2 209.9L155.1 210.1M86.3 289.2L86.7 289.4M153.7 219.1L153.1 220.1M176.3 237.3L177.4 237.5M140.4 302.4L139.3 302.8M144 273.4L145.1 273.5M174.3 311.5L173.4 312.2M151.7 306.3L151.2 307M175.2 317.7L175.6 318.7M147.3 223.9L147 224.4M100 290.2L99.7 290.9M68.4 317.4L67.9 317.9M161.4 219L160.8 219.8M145 199.3L145.2 200.1M135.6 184.5L135.6 185.2M153.6 314.3L153.3 314.9M133.4 225.9L133.5 226.4M114.4 307.1L113.7 307.1M160.5 291.7L160.5 292.6" fill="none" stroke="#2060f0" stroke-width="1.6" stroke-linecap="round" opacity="1.0"/>
<path d="M148.1 278.4L147.8 279.1M109.4 224.7L109.8 225.5M163.4 280.7L164.1 281M127.8 233.3L128.5 233.9" fill="none" stroke="#eebd3c" stroke-width="1.6" stroke-linecap="round" opacity="0.85"/>
<path d="M157.3 273.7L157.7 274.3M61.6 279L62.1 280M160.6 320.6L160.3 321.6M162.9 292.2L163.2 293.1M126 263.7L126.2 264" fill="none" stroke="#e6c622" stroke-width="1.6" stroke-linecap="round" opacity="0.6"/>
<path d="M158.4 286.2L159.3 286.3M168.1 185.8L167.9 185.9M152 321.6L151.7 321.7M120.9 188.5L120 189.1M138.1 309.6L137.7 310.1M127.3 202.7L126.5 203M159.8 199.6L158.8 199.8M99.4 325.1L99 325.6M159.6 245.4L158.7 246M157.5 275.7L157 275.9M56.7 313.4L56.6 314M152.2 257.5L152.4 257.6M161.5 285.4L161.3 285.7M138.8 233.9L138 234M162.4 222.6L163.5 222.8M62 191.2L62.7 191.5M148.7 247.6L149.2 247.7M144.8 313.6L145.6 313.6M136.7 307.5L137.4 308M116.4 310.7L116.7 310.8M167.7 301.7L167.7 302.9M168.4 245.4L168.6 245.4M86.1 298.6L85.8 298.9M150.1 229.7L149.3 230.2M168.7 205.5L168.9 205.7M104.7 309.1L104.8 309.3M142.6 327.8L142.4 328M81.7 299.9L81.6 300.8M62 315.3L62.3 316M141.3 217.5L140.2 217.8" fill="none" stroke="#f04779" stroke-width="1.6" stroke-linecap="round" opacity="0.6"/>
<path d="M173.6 251.5L173 251.7M123.1 250.6L123.9 251.5M131.6 302.6L131.9 303.1M172.9 229.6L172.2 229.9M154.1 186.2L153.9 186.6" fill="none" stroke="#f89c77" stroke-width="1.6" stroke-linecap="round" opacity="1.0"/>
<path d="M153 317.2L153 318.1M126.7 226.7L127 227M115.9 213.6L116.7 213.9M176.2 284.4L175.8 284.9M111.7 331.5L111.4 331.9M163.5 218.6L162.5 219M69.1 294.3L68.9 295.2M129.4 246.1L129.7 246.6M159.6 253.9L160 255M131.3 318.5L131.6 319M172.4 309.4L173 309.5M133 234.9L132.4 235M100.8 247.6L100.2 248.3M133.8 322.8L134.3 323.1M158.8 203.4L158.9 204.4M150.8 275.5L151.1 275.8M162.2 239.2L162.3 239.7M150.5 226.2L149.7 226.9M127.9 241.8L127.7 242.7M169.9 209.4L169.5 210.4M152 253.8L152.2 254.9M148.4 303.8L147.8 304.2M149.5 289.6L149 290.1M134.6 286.9L134.9 287.1M172.7 219.3L172.3 219.8M129.9 280.2L130.5 280.8M68.5 301.9L68.7 302.1M151.4 248L151.5 248.5M74.8 304.2L75.6 304.9M137.6 243.7L138.5 244.1M99.5 264.9L99.4 265.6" fill="none" stroke="#ed3663" stroke-width="1.6" stroke-linecap="round" opacity="0.6"/>
<path d="M140.6 313.9L140.3 314.3M160.6 186.9L160.4 187.1M151.2 266.4L151.4 266.6M118 296.1L118.3 296.4M169.1 318.8L170.2 319M133.3 255.1L132.8 255.2M89.7 305.7L89.6 306.1M159.6 314.7L159.3 315.1M164.3 249.2L163.7 249.6M155.9 279L155.9 279.3M129.1 246L129.4 246.3M108.5 226.9L108.1 227.1M48.1 300.1L47.9 300.3M84.4 294.7L85 294.8M85.6 203.2L86.2 203.5M139.1 248.3L138.9 248.7M149.5 318.2L149.3 318.3M158.6 322.9L159.2 323.5M121.5 300.3L120.7 301M174.1 206.2L174.2 207.2M117.6 209.4L118.6 209.7M167.6 307.4L168.4 308M123.5 308.9L123.3 309M144.6 182.4L144.5 182.6M117.2 248.1L116.7 249.1M166.6 261.2L165.8 261.3M150.8 301.8L151.4 302.3M159.5 202.8L159.7 203.7M152.9 235.7L152.3 235.8" fill="none" stroke="#f05688" stroke-width="1.6" stroke-linecap="round" opacity="0.85"/>
<path d="M158.8 254L158.6 254M139.6 220L139.3 220.7M150.5 226L150.8 226.4M176.2 262.9L176.4 263.5" fill="none" stroke="#f78e84" stroke-width="1.6" stroke-linecap="round" opacity="0.6"/>
<path d="M181.1 203.3L181.2 203.9M84.8 274.2L83.9 274.7M134.6 237.4L134.1 237.9M128.9 227.2L129.2 227.8M143.2 314.4L143.2 314.9M162 251.5L161.7 251.9M62.2 268.2L63.2 268.3M149.3 221.7L148.9 221.8" fill="none" stroke="#f5b456" stroke-width="1.6" stroke-linecap="round" opacity="1.0"/>
<path d="M166.5 313.3L166.2 314M161.2 207.7L160.9 208.4M134 260.8L132.9 261.1M160.2 310.2L160.8 310.4M80.5 309.8L80.6 310.1M56.1 281.8L55.9 282M129.7 198L129.5 198.1M144 229.2L144.3 229.6M157.8 292.9L158.4 293.7" fill="none" stroke="#eebd3c" stroke-width="1.6" stroke-linecap="round" opacity="0.6"/>
<path d="M129.3 214.1L129.2 215.1M92.2 295.6L91.5 296M155.6 233L155.2 233.1M123.4 199.1L123 199.4M139.7 326.2L139.7 327.2M118 225.8L118.8 226.5M110.6 334.6L109.9 335.3" fill="none" stroke="#e6c622" stroke-width="1.6" stroke-linecap="round" opacity="0.85"/>
<path d="M178.7 228.9L179.3 229.5M103.3 180.5L104.2 181.1" fill="none" stroke="#f78e84" stroke-width="1.6" stroke-linecap="round" opacity="1.0"/>
<path d="M140.8 244L140.3 244.2M146.8 262.6L146.2 263.3M172 240.1L171.9 241.2M154.7 239.8L153.8 240.3M158.4 223L158.4 223.3M142.8 296.6L142.4 296.6M162.6 193.4L162.9 194.2M155.3 243.9L155.4 244.6M139.9 232L139.9 232.7" fill="none" stroke="#c7c322" stroke-width="1.6" stroke-linecap="round" opacity="0.85"/>
<path d="M135.6 229L136.3 229.2M125.5 287.1L125.3 288M107.4 298.9L107.8 299.1M137.6 227.2L137.9 227.4M157.9 321.3L158.2 321.3M154.8 305.9L154.9 306.5" fill="none" stroke="#f8a868" stroke-width="1.6" stroke-linecap="round" opacity="1.0"/>
<path d="M120.2 319.1L121 319.6M142.2 315.6L142.2 315.9M156.9 237.4L155.8 237.4M149.2 210.5L149.1 211" fill="none" stroke="#f5b456" stroke-width="1.6" stroke-linecap="round" opacity="0.85"/>
<path d="M126.7 240.2L127.4 240.9M168.6 299.1L169.1 299.8M160.3 202.9L160.3 203.4M139.5 236.7L140.3 236.7M139.3 193.9L139.4 194.8M122.7 245.9L121.8 246.2M173.6 307.2L173.4 307.5M135.1 252L136.3 252.3M132.6 230.3L132.8 230.8M159.4 305.4L159.6 305.6M158.3 263.2L158.4 263.4M138.4 206.3L138.5 206.8" fill="none" stroke="#f16692" stroke-width="1.6" stroke-linecap="round" opacity="1.0"/>
<path d="M129.1 306.3L128.9 307M158.6 277.9L158.5 278.1" fill="none" stroke="#f78e84" stroke-width="1.6" stroke-linecap="round" opacity="0.85"/>
<path d="M113.8 201.5L113.7 201.9M159.8 269.1L160.3 269.9M162.9 291.3L163.7 291.4M142.8 209.6L142.5 210.7M135.7 306.6L135.6 306.9M150.1 244.6L149.7 244.8" fill="none" stroke="#eebd3c" stroke-width="1.6" stroke-linecap="round" opacity="1.0"/>
<path d="M140.9 296.5L140 296.8M100.8 312L101.4 312.6M146.2 210.3L147.3 210.6M168.8 219.6L169.1 219.6M117.6 298.1L118.3 298.6M158.2 284.8L157.8 285.5M157.5 308.2L157.1 308.8M73 285.2L72.4 285.4M166.9 267.9L167.5 268.8M171.4 222.2L172.1 222.7M167.4 283.4L167.7 284.3" fill="none" stroke="#f16692" stroke-width="1.6" stroke-linecap="round" opacity="0.6"/>
<path d="M61.2 313.8L61.4 314M165.1 198.2L164.6 198.5M113.3 213.2L114.1 213.6" fill="none" stroke="#c7c322" stroke-width="1.6" stroke-linecap="round" opacity="1.0"/>
<path d="M151.9 271.2L152 271.4M139.8 219.4L139.8 220.5M155.7 232.3L155.6 232.6M181 228.5L181.4 229.2" fill="none" stroke="#f8a868" stroke-width="1.6" stroke-linecap="round" opacity="0.6"/>
<path d="M142.2 333.5L141.7 334.4M167.2 217.9L166.9 218.7" fill="none" stroke="#c7c322" stroke-width="1.6" stroke-linecap="round" opacity="0.6"/>
<path d="M153 250.4a0.7 0.7 0 1 0 1.4 0a0.7 0.7 0 1 0 -1.4 0M170.4 213.1a0.9 0.9 0 1 0 1.8 0a0.9 0.9 0 1 0 -1.8 0M145.2 288a1.1 1.1 0 1 0 2.2 0a1.1 1.1 0 1 0 -2.2 0M144.7 257.5a0.9 0.9 0 1 0 1.8 0a0.9 0.9 0 1 0 -1.8 0M167.3 194.6a0.8 0.8 0 1 0 1.7 0a0.8 0.8 0 1 0 -1.7 0M169.1 318.8a0.9 0.9 0 1 0 1.8 0a0.9 0.9 0 1 0 -1.8 0M147.1 236.3a1.1 1.1 0 1 0 2.2 0a1.1 1.1 0 1 0 -2.2 0M167.1 323.2a0.9 0.9 0 1 0 1.8 0a0.9 0.9 0 1 0 -1.8 0M148.9 247a1 1 0 1 0 1.9 0a1 1 0 1 0 -1.9 0M127.9 258a0.7 0.7 0 1 0 1.5 0a0.7 0.7 0 1 0 -1.5 0M158 211.4a0.8 0.8 0 1 0 1.6 0a0.8 0.8 0 1 0 -1.6 0M175.5 221.9a1 1 0 1 0 2 0a1 1 0 1 0 -2 0M141.7 285.1a0.9 0.9 0 1 0 1.8 0a0.9 0.9 0 1 0 -1.8 0M127.2 227.1a1 1 0 1 0 2.1 0a1 1 0 1 0 -2.1 0M134.1 261.2a0.9 0.9 0 1 0 1.8 0a0.9 0.9 0 1 0 -1.8 0M152.4 290.3a0.8 0.8 0 1 0 1.6 0a0.8 0.8 0 1 0 -1.6 0M168.1 277.2a0.7 0.7 0 1 0 1.5 0a0.7 0.7 0 1 0 -1.5 0M132.2 327.6a0.8 0.8 0 1 0 1.5 0a0.8 0.8 0 1 0 -1.5 0M134.4 220.2a1.1 1.1 0 1 0 2.1 0a1.1 1.1 0 1 0 -2.1 0M133.5 271.9a1 1 0 1 0 2.1 0a1 1 0 1 0 -2.1 0M147.1 283.2a0.7 0.7 0 1 0 1.5 0a0.7 0.7 0 1 0 -1.5 0M169.6 269.4a0.7 0.7 0 1 0 1.5 0a0.7 0.7 0 1 0 -1.5 0M171.9 319.1a1.1 1.1 0 1 0 2.1 0a1.1 1.1 0 1 0 -2.1 0M158.3 314.7a1.1 1.1 0 1 0 2.2 0a1.1 1.1 0 1 0 -2.2 0M161.6 259.9a0.8 0.8 0 1 0 1.5 0a0.8 0.8 0 1 0 -1.5 0" fill="#f8d0e0" opacity="0.8"/>
<path d="M12.6 188a1.4 1.4 0 1 0 2.9 0a1.4 1.4 0 1 0 -2.9 0M16.7 186a1.3 1.3 0 1 0 2.6 0a1.3 1.3 0 1 0 -2.6 0M19.8 190a1.2 1.2 0 1 0 2.3 0a1.2 1.2 0 1 0 -2.3 0M24.9 187a1.1 1.1 0 1 0 2.1 0a1.1 1.1 0 1 0 -2.1 0M29.7 196a1.3 1.3 0 1 0 2.6 0a1.3 1.3 0 1 0 -2.6 0M36.6 199a1.4 1.4 0 1 0 2.7 0a1.4 1.4 0 1 0 -2.7 0M25.7 213a1.3 1.3 0 1 0 2.6 0a1.3 1.3 0 1 0 -2.6 0M29.9 219a1.1 1.1 0 1 0 2.3 0a1.1 1.1 0 1 0 -2.3 0M33.7 226a1.3 1.3 0 1 0 2.5 0a1.3 1.3 0 1 0 -2.5 0M25.9 232a1.1 1.1 0 1 0 2.2 0a1.1 1.1 0 1 0 -2.2 0M34.9 241a1.1 1.1 0 1 0 2.2 0a1.1 1.1 0 1 0 -2.2 0M43.9 228a1.1 1.1 0 1 0 2.2 0a1.1 1.1 0 1 0 -2.2 0M20.6 205a1.4 1.4 0 1 0 2.8 0a1.4 1.4 0 1 0 -2.8 0M39.8 210a1.2 1.2 0 1 0 2.3 0a1.2 1.2 0 1 0 -2.3 0M48.6 194a1.4 1.4 0 1 0 2.8 0a1.4 1.4 0 1 0 -2.8 0M53.5 206a1.5 1.5 0 1 0 2.9 0a1.5 1.5 0 1 0 -2.9 0M17.7 222a1.3 1.3 0 1 0 2.7 0a1.3 1.3 0 1 0 -2.7 0M42.9 252a1.1 1.1 0 1 0 2.2 0a1.1 1.1 0 1 0 -2.2 0M23.6 251a1.4 1.4 0 1 0 2.8 0a1.4 1.4 0 1 0 -2.8 0M58.8 186a1.2 1.2 0 1 0 2.3 0a1.2 1.2 0 1 0 -2.3 0M68.5 196a1.5 1.5 0 1 0 3 0a1.5 1.5 0 1 0 -3 0M47 240a1 1 0 1 0 2.1 0a1 1 0 1 0 -2.1 0M14.6 246a1.4 1.4 0 1 0 2.8 0a1.4 1.4 0 1 0 -2.8 0" fill="#f05a90" opacity="0.85"/>
</g>
</g>
<rect x="183.4" y="180.3" width="7.9" height="169.2" fill="#000" stroke="none" stroke-width="1"/>
<clipPath id="cpbs"><rect x="183.4" y="180.3" width="7.9" height="169.2"/></clipPath>
<g clip-path="url(#cpbs)" filter="url(#bl1)" opacity="0.75">
<path d="M187.2 311h1.4v1.4h-1.4zM185.9 230.7h1.4v1.4h-1.4zM186.3 331.2h1.4v1.4h-1.4zM186.3 222.5h1.4v1.4h-1.4zM186.3 190.5h1.4v1.4h-1.4zM185.3 280.7h1.4v1.4h-1.4zM184.4 275.4h1.4v1.4h-1.4zM185.5 332.7h1.4v1.4h-1.4zM187.3 294h1.4v1.4h-1.4zM188.6 267.7h1.4v1.4h-1.4zM187 303.7h1.4v1.4h-1.4zM188 272.1h1.4v1.4h-1.4zM183.9 301.1h1.4v1.4h-1.4zM183.8 274.9h1.4v1.4h-1.4zM185.1 199.8h1.4v1.4h-1.4zM184.6 220.8h1.4v1.4h-1.4zM185.9 328.5h1.4v1.4h-1.4zM188.3 278.9h1.4v1.4h-1.4zM183.2 181.3h1.4v1.4h-1.4z" fill="#2060f0"/>
<path d="M187.4 305.2h1.4v1.4h-1.4zM186.4 316.4h1.4v1.4h-1.4zM183.4 328h1.4v1.4h-1.4zM187.1 345.4h1.4v1.4h-1.4zM187.1 333.7h1.4v1.4h-1.4zM187.5 272.4h1.4v1.4h-1.4zM185.5 291.3h1.4v1.4h-1.4zM185.1 229h1.4v1.4h-1.4zM186.1 202.7h1.4v1.4h-1.4zM189.4 238.2h1.4v1.4h-1.4zM184.4 230.9h1.4v1.4h-1.4zM187.2 346.3h1.4v1.4h-1.4zM187.9 258.7h1.4v1.4h-1.4zM183.9 183.7h1.4v1.4h-1.4zM185.1 329.4h1.4v1.4h-1.4zM185.2 206.9h1.4v1.4h-1.4zM184.2 314.9h1.4v1.4h-1.4zM186.5 223.3h1.4v1.4h-1.4zM187.4 246.9h1.4v1.4h-1.4zM183.6 296h1.4v1.4h-1.4zM185.7 274.5h1.4v1.4h-1.4zM186.8 329.4h1.4v1.4h-1.4zM188.4 239.9h1.4v1.4h-1.4zM188.8 258.4h1.4v1.4h-1.4zM184 247.1h1.4v1.4h-1.4zM189.4 259.7h1.4v1.4h-1.4zM187.4 188.5h1.4v1.4h-1.4zM184.9 330.5h1.4v1.4h-1.4zM186 323.2h1.4v1.4h-1.4zM183.6 250.5h1.4v1.4h-1.4zM187.2 199.3h1.4v1.4h-1.4zM187.8 306.5h1.4v1.4h-1.4zM185.8 196.6h1.4v1.4h-1.4zM186.9 282.1h1.4v1.4h-1.4zM186.8 311.1h1.4v1.4h-1.4zM185.7 282.5h1.4v1.4h-1.4zM184.7 287.1h1.4v1.4h-1.4zM185.1 206.9h1.4v1.4h-1.4zM183.3 295.5h1.4v1.4h-1.4zM183.9 323.5h1.4v1.4h-1.4zM186.3 340.3h1.4v1.4h-1.4zM183 256.2h1.4v1.4h-1.4zM185.8 300.3h1.4v1.4h-1.4zM186.4 220.5h1.4v1.4h-1.4zM183.2 256.7h1.4v1.4h-1.4zM187.9 324.9h1.4v1.4h-1.4zM189 232.6h1.4v1.4h-1.4zM185.5 221.1h1.4v1.4h-1.4zM183.3 332h1.4v1.4h-1.4zM186 286.4h1.4v1.4h-1.4zM185.9 344.6h1.4v1.4h-1.4zM186 219.9h1.4v1.4h-1.4zM187.3 325.2h1.4v1.4h-1.4zM183.7 232.4h1.4v1.4h-1.4zM186.3 271.4h1.4v1.4h-1.4zM183.5 240.7h1.4v1.4h-1.4z" fill="#ed3663"/>
<path d="M184.4 324.4h1.4v1.4h-1.4zM183.5 208.4h1.4v1.4h-1.4zM185.1 255.9h1.4v1.4h-1.4zM182.9 223.3h1.4v1.4h-1.4zM185.3 190.8h1.4v1.4h-1.4zM187.6 247.2h1.4v1.4h-1.4zM187.3 252.2h1.4v1.4h-1.4zM186.2 182.2h1.4v1.4h-1.4zM187.4 182.4h1.4v1.4h-1.4zM187.7 249.7h1.4v1.4h-1.4zM185.1 249.6h1.4v1.4h-1.4zM187.8 274.3h1.4v1.4h-1.4zM186.4 210.1h1.4v1.4h-1.4zM184.6 331.2h1.4v1.4h-1.4zM188.7 227.9h1.4v1.4h-1.4zM183.2 180.3h1.4v1.4h-1.4zM185.6 287.6h1.4v1.4h-1.4zM188.1 221h1.4v1.4h-1.4zM187.1 261.3h1.4v1.4h-1.4zM189.2 236.9h1.4v1.4h-1.4zM184.7 244.6h1.4v1.4h-1.4zM187.5 302.4h1.4v1.4h-1.4zM184.9 227.9h1.4v1.4h-1.4zM187 333.2h1.4v1.4h-1.4zM187.3 237.3h1.4v1.4h-1.4zM190.1 268.7h1.4v1.4h-1.4zM183 276.6h1.4v1.4h-1.4zM183.1 269.5h1.4v1.4h-1.4zM188.7 237.8h1.4v1.4h-1.4zM184.4 336.9h1.4v1.4h-1.4zM186.8 337.4h1.4v1.4h-1.4zM183.6 318.4h1.4v1.4h-1.4zM185.3 334.9h1.4v1.4h-1.4z" fill="#207bcf"/>
<path d="M183.9 204.8h1.4v1.4h-1.4zM183.8 257.9h1.4v1.4h-1.4zM187 342.3h1.4v1.4h-1.4zM183.4 215.9h1.4v1.4h-1.4zM187.2 297.7h1.4v1.4h-1.4zM183.2 333.4h1.4v1.4h-1.4zM189.6 265.3h1.4v1.4h-1.4zM185.6 234.6h1.4v1.4h-1.4zM183.1 337.5h1.4v1.4h-1.4zM187.6 223.3h1.4v1.4h-1.4zM185.1 228.1h1.4v1.4h-1.4zM187.2 231.6h1.4v1.4h-1.4zM186.6 292.3h1.4v1.4h-1.4zM184.4 318.6h1.4v1.4h-1.4zM187.6 192.9h1.4v1.4h-1.4zM185.6 225.8h1.4v1.4h-1.4zM185.5 210.1h1.4v1.4h-1.4zM186.7 219.8h1.4v1.4h-1.4zM188.2 296.2h1.4v1.4h-1.4zM188.1 257.9h1.4v1.4h-1.4zM188.7 271.4h1.4v1.4h-1.4zM185.6 207.8h1.4v1.4h-1.4zM184.9 213.4h1.4v1.4h-1.4zM183.2 290.7h1.4v1.4h-1.4zM185.9 342.9h1.4v1.4h-1.4zM189.6 289h1.4v1.4h-1.4zM183.3 319.2h1.4v1.4h-1.4z" fill="#e01020"/>
<path d="M189.8 243.3h1.4v1.4h-1.4zM186.9 296h1.4v1.4h-1.4zM184.2 210.5h1.4v1.4h-1.4zM186.3 196.6h1.4v1.4h-1.4zM187.6 242.9h1.4v1.4h-1.4zM183.8 192.9h1.4v1.4h-1.4zM185.2 279.9h1.4v1.4h-1.4zM183.5 312.3h1.4v1.4h-1.4zM185.2 310.1h1.4v1.4h-1.4zM187.8 327h1.4v1.4h-1.4zM188.5 288h1.4v1.4h-1.4zM185.9 304.7h1.4v1.4h-1.4zM183.6 218.7h1.4v1.4h-1.4zM185.4 259.2h1.4v1.4h-1.4zM187.9 248.5h1.4v1.4h-1.4zM186.8 344.1h1.4v1.4h-1.4zM183.7 190.2h1.4v1.4h-1.4zM188.2 268.6h1.4v1.4h-1.4zM187.3 212.1h1.4v1.4h-1.4zM187.1 319.1h1.4v1.4h-1.4zM184.5 228.2h1.4v1.4h-1.4zM185.3 311.1h1.4v1.4h-1.4z" fill="#f5b456"/>
<path d="M183.6 191.1h1.4v1.4h-1.4zM189.2 288.1h1.4v1.4h-1.4zM185.3 273.7h1.4v1.4h-1.4zM185.2 290.8h1.4v1.4h-1.4zM187.2 257.1h1.4v1.4h-1.4zM185.4 277.4h1.4v1.4h-1.4zM190 270.2h1.4v1.4h-1.4zM184.1 194.9h1.4v1.4h-1.4zM187.1 195h1.4v1.4h-1.4zM183.1 212.3h1.4v1.4h-1.4zM186.6 190.8h1.4v1.4h-1.4zM185.1 290.7h1.4v1.4h-1.4zM184.5 189.2h1.4v1.4h-1.4zM187.1 321.9h1.4v1.4h-1.4zM184.7 263.4h1.4v1.4h-1.4zM183.5 205.3h1.4v1.4h-1.4zM184.8 324.7h1.4v1.4h-1.4zM188.4 295.2h1.4v1.4h-1.4zM187.2 340.7h1.4v1.4h-1.4zM183 324.1h1.4v1.4h-1.4zM183.9 216.8h1.4v1.4h-1.4zM185.9 303h1.4v1.4h-1.4zM188.4 270.8h1.4v1.4h-1.4zM186.6 334.9h1.4v1.4h-1.4zM187.4 309.1h1.4v1.4h-1.4zM186.5 188.3h1.4v1.4h-1.4zM183.8 191.7h1.4v1.4h-1.4zM183.4 328.6h1.4v1.4h-1.4zM185.6 337.8h1.4v1.4h-1.4zM187.5 305.6h1.4v1.4h-1.4zM184.2 328.1h1.4v1.4h-1.4zM188.5 261.3h1.4v1.4h-1.4zM185.2 191.7h1.4v1.4h-1.4zM189.9 282.8h1.4v1.4h-1.4zM186.7 255.5h1.4v1.4h-1.4zM184.7 329.4h1.4v1.4h-1.4zM183.2 317.2h1.4v1.4h-1.4zM188.9 225.1h1.4v1.4h-1.4zM187.9 200.4h1.4v1.4h-1.4zM183.6 259.1h1.4v1.4h-1.4zM183.7 283.4h1.4v1.4h-1.4zM182.8 329.9h1.4v1.4h-1.4zM183.3 188.7h1.4v1.4h-1.4zM186.8 219.9h1.4v1.4h-1.4zM187 343.3h1.4v1.4h-1.4zM188 206.4h1.4v1.4h-1.4zM186.2 324.7h1.4v1.4h-1.4zM183.7 335.7h1.4v1.4h-1.4zM185.6 317.9h1.4v1.4h-1.4zM184.9 338.5h1.4v1.4h-1.4zM184.1 320.8h1.4v1.4h-1.4z" fill="#f05688"/>
<path d="M187.2 287.4h1.4v1.4h-1.4zM187.9 243.7h1.4v1.4h-1.4zM187.3 348.2h1.4v1.4h-1.4zM186.9 189.5h1.4v1.4h-1.4zM187.8 268.8h1.4v1.4h-1.4zM184.2 244.5h1.4v1.4h-1.4zM186.9 189.6h1.4v1.4h-1.4zM188.3 267.8h1.4v1.4h-1.4zM186.8 219.5h1.4v1.4h-1.4zM188.7 232.5h1.4v1.4h-1.4zM183 273.9h1.4v1.4h-1.4zM183.4 319.3h1.4v1.4h-1.4zM183.7 280.9h1.4v1.4h-1.4zM184.5 307.8h1.4v1.4h-1.4zM184.3 340.7h1.4v1.4h-1.4zM186.6 317.9h1.4v1.4h-1.4zM190 255h1.4v1.4h-1.4zM185.2 345.6h1.4v1.4h-1.4zM185.1 240.5h1.4v1.4h-1.4zM183.3 294h1.4v1.4h-1.4zM183.1 294h1.4v1.4h-1.4zM188.4 220.5h1.4v1.4h-1.4zM186.8 180.5h1.4v1.4h-1.4zM185.8 199.6h1.4v1.4h-1.4zM186.7 338.3h1.4v1.4h-1.4zM187.3 271.1h1.4v1.4h-1.4zM186.4 252.9h1.4v1.4h-1.4z" fill="#e6c622"/>
<path d="M183.4 347.1h1.4v1.4h-1.4zM184.5 233.8h1.4v1.4h-1.4zM189.2 250.1h1.4v1.4h-1.4zM186.7 342h1.4v1.4h-1.4zM184.5 207.6h1.4v1.4h-1.4zM188.3 278h1.4v1.4h-1.4zM186.1 325.1h1.4v1.4h-1.4zM183.1 243.9h1.4v1.4h-1.4zM186.3 318.4h1.4v1.4h-1.4zM185 187.1h1.4v1.4h-1.4zM188.2 258.8h1.4v1.4h-1.4zM183.3 210.5h1.4v1.4h-1.4zM183.2 296.7h1.4v1.4h-1.4zM183.8 330.8h1.4v1.4h-1.4zM183.7 333.2h1.4v1.4h-1.4zM186.6 333.4h1.4v1.4h-1.4zM185.6 314.3h1.4v1.4h-1.4zM184.2 291.4h1.4v1.4h-1.4zM184.1 282.7h1.4v1.4h-1.4zM189.7 274.2h1.4v1.4h-1.4zM188.1 241.5h1.4v1.4h-1.4zM187.2 207.3h1.4v1.4h-1.4zM188.6 239.4h1.4v1.4h-1.4zM183.3 238h1.4v1.4h-1.4zM187.3 294.4h1.4v1.4h-1.4z" fill="#a8bf22"/>
</g>
<rect x="94.3" y="187" width="37.4" height="36.6" fill="none" stroke="#3aa52a" stroke-width="1"/>
<rect x="48.3" y="220.4" width="27.2" height="27.2" fill="none" stroke="#2a5fc8" stroke-width="1"/>
<rect x="85.8" y="267.8" width="23.6" height="23.8" fill="none" stroke="#c81e1e" stroke-width="1"/>
<rect x="121.6" y="286.9" width="8.6" height="8.6" fill="none" stroke="#d8a030" stroke-width="1"/>
<rect x="12" y="350.1" width="169.6" height="6.1" fill="url(#timeg)" stroke="none" stroke-width="1"/>
<text x="13.2" y="365.7" font-size="8.5" fill="#333">0</text>
<text x="102.3" y="369.4" font-size="10" fill="#222" text-anchor="middle" textLength="33.6" lengthAdjust="spacingAndGlyphs" stroke="#222" stroke-width="0.22">Time (s)</text>
<text x="180.3" y="365.7" font-size="8.5" fill="#333" text-anchor="end" textLength="20" lengthAdjust="spacingAndGlyphs">6,413</text>
<text x="0.4" y="192.9" font-size="13.5" fill="#000" font-weight="bold">b</text>
<clipPath id="hc1"><rect x="252.1" y="2.7" width="406.8" height="140.9"/></clipPath>
<g clip-path="url(#hc1)">
<rect x="252.1" y="2.7" width="406.8" height="140.9" fill="#4a1a8a"/>
<rect x="252.1" y="2.7" width="406.8" height="140.9" filter="url(#hmf1)"/>
<rect x="252.1" y="2.7" width="406.8" height="140.9" fill="url(#hmov)"/>
<line x1="252.1" y1="48.3" x2="658.9" y2="48.3" stroke="#f0b0c8" stroke-width="0.8" stroke-dasharray="2,4,1,1,6,1,3,6" opacity="0.2"/>
<line x1="252.1" y1="74.2" x2="658.9" y2="74.2" stroke="#f0b0c8" stroke-width="0.8" stroke-dasharray="1,1,4,4,1,2,1,6" opacity="0.3"/>
<line x1="252.1" y1="119.2" x2="658.9" y2="119.2" stroke="#f0b0c8" stroke-width="0.8" stroke-dasharray="1,2,6,1,6,6,4,1" opacity="0.5"/>
<line x1="252.1" y1="9.3" x2="658.9" y2="9.3" stroke="#f0b0c8" stroke-width="0.8" stroke-dasharray="2,3,4,2,6,1,6,3" opacity="0.4"/>
<line x1="252.1" y1="98.8" x2="658.9" y2="98.8" stroke="#f0b0c8" stroke-width="0.8" stroke-dasharray="1,6,6,2,3,1,6,1" opacity="0.4"/>
<line x1="252.1" y1="89.9" x2="658.9" y2="89.9" stroke="#f0b0c8" stroke-width="0.8" stroke-dasharray="4,6,4,3,4,6,4,3" opacity="0.3"/>
<line x1="252.1" y1="114.6" x2="658.9" y2="114.6" stroke="#f0b0c8" stroke-width="0.8" stroke-dasharray="2,1,6,3,6,4,3,4" opacity="0.3"/>
<line x1="252.1" y1="140.8" x2="658.9" y2="140.8" stroke="#f0b0c8" stroke-width="0.8" stroke-dasharray="1,6,4,2,3,2,4,4" opacity="0.2"/>
<line x1="252.1" y1="96.9" x2="658.9" y2="96.9" stroke="#f0b0c8" stroke-width="0.8" stroke-dasharray="6,6,3,3,3,6,4,6" opacity="0.4"/>
<line x1="252.1" y1="12.4" x2="658.9" y2="12.4" stroke="#f0b0c8" stroke-width="0.8" stroke-dasharray="1,3,4,1,1,3,6,4" opacity="0.3"/>
<line x1="252.1" y1="57.1" x2="658.9" y2="57.1" stroke="#f0b0c8" stroke-width="0.8" stroke-dasharray="3,1,4,3,2,6,1,4" opacity="0.2"/>
<line x1="252.1" y1="110.9" x2="658.9" y2="110.9" stroke="#f0b0c8" stroke-width="0.8" stroke-dasharray="2,2,4,4,4,1,2,4" opacity="0.3"/>
<line x1="252.1" y1="41.8" x2="658.9" y2="41.8" stroke="#f0b0c8" stroke-width="0.8" stroke-dasharray="2,4,6,3,4,3,4,2" opacity="0.2"/>
<line x1="252.1" y1="27.5" x2="658.9" y2="27.5" stroke="#f0b0c8" stroke-width="0.8" stroke-dasharray="2,2,1,4,6,2,3,3" opacity="0.2"/>
<line x1="252.1" y1="61.7" x2="658.9" y2="61.7" stroke="#f0b0c8" stroke-width="0.8" stroke-dasharray="3,6,6,3,2,6,6,1" opacity="0.3"/>
<line x1="252.1" y1="125.4" x2="658.9" y2="125.4" stroke="#f0b0c8" stroke-width="0.8" stroke-dasharray="6,4,4,4,4,1,4,4" opacity="0.2"/>
<line x1="252.1" y1="12.2" x2="658.9" y2="12.2" stroke="#f0b0c8" stroke-width="0.8" stroke-dasharray="2,4,2,1,3,6,1,1" opacity="0.2"/>
<line x1="252.1" y1="24" x2="658.9" y2="24" stroke="#f0b0c8" stroke-width="0.8" stroke-dasharray="1,3,6,1,1,2,6,4" opacity="0.2"/>
<line x1="252.1" y1="38.2" x2="658.9" y2="38.2" stroke="#f0b0c8" stroke-width="0.8" stroke-dasharray="3,6,3,4,1,1,4,4" opacity="0.3"/>
<line x1="252.1" y1="46.6" x2="658.9" y2="46.6" stroke="#f0b0c8" stroke-width="0.8" stroke-dasharray="2,1,3,3,4,2,6,1" opacity="0.3"/>
<rect x="320.2" y="2.7" width="1.2" height="140.9" fill="#e8a0c0" opacity="0.35"/>
<polygon points="251.1,144.6 252.1,134.4 253,133.6 268.4,129.9 280.7,125.9 283.5,124.5 285.5,119.5 286.8,118.5 294.5,113.6 311.3,109 332.8,104.5 357.3,100.5 388,96.8 418.6,93.1 446.2,90.7 480.7,86.6 511.3,84.1 542,82 572.6,80.1 603.3,78 634,74.9 649.3,71.9 658.9,71 659.9,71 659.9,144.6" fill="#000"/>
</g>
<clipPath id="hc2"><rect x="252.1" y="148.9" width="406.8" height="130"/></clipPath>
<g clip-path="url(#hc2)">
<rect x="252.1" y="148.9" width="406.8" height="130" fill="#4a1a8a"/>
<rect x="252.1" y="148.9" width="406.8" height="130" filter="url(#hmf2)"/>
<rect x="252.1" y="148.9" width="406.8" height="130" fill="url(#hmov)"/>
<line x1="252.1" y1="162.8" x2="658.9" y2="162.8" stroke="#f0b0c8" stroke-width="0.8" stroke-dasharray="6,2,3,3,3,1,4,3" opacity="0.3"/>
<line x1="252.1" y1="262.4" x2="658.9" y2="262.4" stroke="#f0b0c8" stroke-width="0.8" stroke-dasharray="4,1,3,2,3,3,3,3" opacity="0.4"/>
<line x1="252.1" y1="231" x2="658.9" y2="231" stroke="#f0b0c8" stroke-width="0.8" stroke-dasharray="2,2,6,3,2,1,1,1" opacity="0.4"/>
<line x1="252.1" y1="152.5" x2="658.9" y2="152.5" stroke="#f0b0c8" stroke-width="0.8" stroke-dasharray="3,2,4,4,6,4,6,1" opacity="0.5"/>
<line x1="252.1" y1="238.2" x2="658.9" y2="238.2" stroke="#f0b0c8" stroke-width="0.8" stroke-dasharray="1,6,6,3,2,1,4,6" opacity="0.4"/>
<line x1="252.1" y1="184.1" x2="658.9" y2="184.1" stroke="#f0b0c8" stroke-width="0.8" stroke-dasharray="6,2,4,3,6,3,1,1" opacity="0.4"/>
<line x1="252.1" y1="160.5" x2="658.9" y2="160.5" stroke="#f0b0c8" stroke-width="0.8" stroke-dasharray="3,1,1,2,4,1,6,6" opacity="0.2"/>
<line x1="252.1" y1="211.4" x2="658.9" y2="211.4" stroke="#f0b0c8" stroke-width="0.8" stroke-dasharray="2,6,4,4,3,4,4,4" opacity="0.3"/>
<line x1="252.1" y1="256.4" x2="658.9" y2="256.4" stroke="#f0b0c8" stroke-width="0.8" stroke-dasharray="3,4,4,2,4,6,4,1" opacity="0.4"/>
<line x1="252.1" y1="212.5" x2="658.9" y2="212.5" stroke="#f0b0c8" stroke-width="0.8" stroke-dasharray="3,6,4,1,4,4,1,3" opacity="0.4"/>
<line x1="252.1" y1="196.7" x2="658.9" y2="196.7" stroke="#f0b0c8" stroke-width="0.8" stroke-dasharray="4,3,3,3,6,2,1,6" opacity="0.3"/>
<line x1="252.1" y1="182.2" x2="658.9" y2="182.2" stroke="#f0b0c8" stroke-width="0.8" stroke-dasharray="4,1,1,2,3,1,1,6" opacity="0.4"/>
<line x1="252.1" y1="216.7" x2="658.9" y2="216.7" stroke="#f0b0c8" stroke-width="0.8" stroke-dasharray="3,3,1,1,2,2,1,2" opacity="0.3"/>
<line x1="252.1" y1="214" x2="658.9" y2="214" stroke="#f0b0c8" stroke-width="0.8" stroke-dasharray="2,2,2,6,3,3,3,1" opacity="0.4"/>
<line x1="252.1" y1="226.4" x2="658.9" y2="226.4" stroke="#f0b0c8" stroke-width="0.8" stroke-dasharray="2,6,2,3,4,4,2,4" opacity="0.4"/>
<line x1="252.1" y1="249.4" x2="658.9" y2="249.4" stroke="#f0b0c8" stroke-width="0.8" stroke-dasharray="3,4,6,1,2,4,4,3" opacity="0.2"/>
<line x1="252.1" y1="253.8" x2="658.9" y2="253.8" stroke="#f0b0c8" stroke-width="0.8" stroke-dasharray="2,2,1,2,2,3,4,4" opacity="0.2"/>
<line x1="252.1" y1="265.5" x2="658.9" y2="265.5" stroke="#f0b0c8" stroke-width="0.8" stroke-dasharray="1,1,3,3,6,4,4,2" opacity="0.3"/>
<rect x="320.2" y="148.9" width="1.2" height="130" fill="#e8a0c0" opacity="0.35"/>
<polygon points="251.1,279.9 252.6,278.6 253.2,276.4 255.1,261.8 257.3,247.2 259.5,235.5 262.4,225.3 265.3,216.5 268.2,207.8 270.4,202.7 274.1,198.3 280.7,193.9 285,191.4 293.8,188.8 308.4,185.9 320,183.2 331.8,180.8 350,180 400,177.5 445,175.4 500,173.6 560,171.6 620,170 658.9,168.5 659.9,168.5 659.9,279.9" fill="#000"/>
</g>
<clipPath id="hc3"><rect x="252.1" y="286.1" width="406.8" height="79.3"/></clipPath>
<g clip-path="url(#hc3)">
<rect x="252.1" y="286.1" width="406.8" height="79.3" fill="#4a1a8a"/>
<rect x="252.1" y="286.1" width="406.8" height="79.3" filter="url(#hmf3)"/>
<rect x="252.1" y="286.1" width="406.8" height="79.3" fill="url(#hmov)"/>
<line x1="252.1" y1="299.2" x2="658.9" y2="299.2" stroke="#f0b0c8" stroke-width="0.8" stroke-dasharray="4,3,4,2,4,6,2,6" opacity="0.4"/>
<line x1="252.1" y1="348.6" x2="658.9" y2="348.6" stroke="#f0b0c8" stroke-width="0.8" stroke-dasharray="1,3,6,4,1,2,2,2" opacity="0.4"/>
<line x1="252.1" y1="320.7" x2="658.9" y2="320.7" stroke="#f0b0c8" stroke-width="0.8" stroke-dasharray="4,6,4,1,3,6,4,1" opacity="0.4"/>
<line x1="252.1" y1="360.5" x2="658.9" y2="360.5" stroke="#f0b0c8" stroke-width="0.8" stroke-dasharray="1,2,1,1,1,4,2,6" opacity="0.4"/>
<line x1="252.1" y1="317.9" x2="658.9" y2="317.9" stroke="#f0b0c8" stroke-width="0.8" stroke-dasharray="2,2,1,4,2,1,2,2" opacity="0.4"/>
<line x1="252.1" y1="349.8" x2="658.9" y2="349.8" stroke="#f0b0c8" stroke-width="0.8" stroke-dasharray="6,1,1,6,4,6,4,2" opacity="0.3"/>
<line x1="252.1" y1="297.7" x2="658.9" y2="297.7" stroke="#f0b0c8" stroke-width="0.8" stroke-dasharray="6,4,3,3,4,6,4,3" opacity="0.5"/>
<line x1="252.1" y1="316.8" x2="658.9" y2="316.8" stroke="#f0b0c8" stroke-width="0.8" stroke-dasharray="1,1,2,4,1,4,1,6" opacity="0.4"/>
<line x1="252.1" y1="327.5" x2="658.9" y2="327.5" stroke="#f0b0c8" stroke-width="0.8" stroke-dasharray="6,6,3,6,6,1,2,2" opacity="0.4"/>
<line x1="252.1" y1="352.2" x2="658.9" y2="352.2" stroke="#f0b0c8" stroke-width="0.8" stroke-dasharray="3,3,6,3,2,1,2,1" opacity="0.5"/>
<line x1="252.1" y1="299.9" x2="658.9" y2="299.9" stroke="#f0b0c8" stroke-width="0.8" stroke-dasharray="4,3,2,1,6,2,4,2" opacity="0.5"/>
<rect x="320.2" y="286.1" width="1.2" height="79.3" fill="#e8a0c0" opacity="0.35"/>
<polygon points="251.1,366.4 252.6,365 253.3,363.2 255.5,352.3 258.8,343.5 263.1,335.8 268.6,329.3 275.2,323.8 285,320.5 298.2,317.2 315.7,314.6 319.5,314.2 320.5,312.8 337.6,310.7 359.5,308 381.4,305.8 400,304.5 445,303.6 500,302 560,300 620,298 658.9,296.3 659.9,296.3 659.9,366.4" fill="#000"/>
</g>
<line x1="252.1" y1="61.2" x2="658.9" y2="61.2" stroke="#dccb58" stroke-width="1.1"/>
<text x="254.6" y="59.6" font-size="9.5" fill="#f0e060" textLength="34.6" lengthAdjust="spacingAndGlyphs" stroke="#f0e060" stroke-width="0.22">ROI 266</text>
<path d="M252.1 141.5L252.6 141.6L253.1 141.4L253.6 141.3L254.1 141.2L254.6 141.6L255.1 141.2L255.6 141.1L256.1 141.6L256.6 141.6L257.1 141.4L257.6 141.6L258.1 141.1L258.6 141.3L259.1 141.3L259.6 141.4L260.1 141.2L260.6 141.1L261.1 141.3L261.6 141.6L262.1 141.7L262.6 141.5L263.1 141.4L263.6 141.3L264.1 141.7L264.6 141.4L265.1 141.5L265.6 141.1L266.1 141.2L266.6 141.6L267.1 141.6L267.6 141.6L268.1 141.5L268.6 141.4L269.1 141.4L269.6 141.6L270.1 141.3L270.6 141.4L271.1 141.3L271.6 141.6L272.1 141.1L272.6 141.5L273.1 141.7L273.6 141.1L274.1 141.5L274.6 141.5L275.1 141.6L275.6 141.5L276.1 141.3L276.6 141.3L277.1 141.7L277.6 141.6L278.1 141.2L278.6 141.2L279.1 141.2L279.6 141.1L280.1 141.4L280.6 141.2L281.1 141.6L281.6 141.5L282.1 141.2L282.6 141.4L283.1 141.3L283.6 141.4L284.1 141.2L284.6 141.2L285.1 141.2L285.6 141.3L286.1 141.5L286.6 141.4L287.1 141.1L287.6 141.5L288.1 141.6L288.6 141.6L289.1 141.6L289.6 141.1L290.1 141.4L290.6 141.1L291.1 141.6L291.6 141.2L292.1 141.5L292.6 141.3L293.1 141.5L293.6 141.3L294.1 141.1L294.6 141.3L295.1 141.3L295.6 141.6L296.1 141.3L296.6 141.4L297.1 141.4L297.6 141.7L298.1 141.2L298.6 141.5L299.1 141.4L299.6 141.5L300.1 141.7L300.6 141.3L301.1 141.5L301.6 141.4L302.1 141.4L302.6 141.1L303.1 141.6L303.6 141.7L304.1 141.3L304.6 141.3L305.1 141.7L305.6 141.2L306.1 141.1L306.6 141.1L307.1 141.6L307.6 141.6L308.1 141.4L308.6 141.5L309.1 141.1L309.6 141.5L310.1 141.4L310.6 141.4L311.1 141.3L311.6 141.3L312.1 141.2L312.6 141.1L313.1 141.4L313.6 141.2L314.1 141.5L314.6 141.6L315.1 141.5L315.6 141.4L316.1 141.2L316.6 141.3L317.1 141.4L317.6 141.5L318.1 141.7L318.6 141.2L319.1 141.4L319.6 141.4L320.1 141.5L320.6 141.6L321.1 141.6L321.6 141.5L322.1 141.6L322.6 141.5L323.1 141.6L323.6 141.5L324.1 141.5L324.6 141.2L325.1 141.7L325.6 141.3L326.1 141.5L326.6 141.6L327.1 141.7L327.6 141.7L328.1 141.1L328.6 141.3L329.1 141.3L329.6 141.3L330.1 141.2L330.6 141.4L331.1 141.1L331.6 141.3L332.1 141.7L332.6 141.5L333.1 141.4L333.6 141.2L334.1 141.7L334.6 141.5L335.1 141.2L335.6 141.3L336.1 141.5L336.6 141.5L337.1 141.3L337.6 141.7L338.1 141.3L338.6 141.3L339.1 141.6L339.6 141.2L340.1 141.5L340.6 141.2L341.1 141.5L341.6 141.3L342.1 141.3L342.6 141.7L343.1 141.4L343.6 141.4L344.1 141.5L344.6 141.3L345.1 141.2L345.6 141.3L346.1 141.3L346.6 141.2L347.1 141.7L347.6 141.1L348.1 141.6L348.6 141.7L349.1 141.5L349.6 141.1L350.1 141.4L350.6 141.1L351.1 141.5L351.6 141.5L352.1 141.2L352.6 141.1L353.1 141.4L353.6 141.2L354.1 141.3L354.6 141.4L355.1 141.6L355.6 141.3L356.1 141.2L356.6 141.6L357.1 141.6L357.6 141.4L358.1 141.1L358.6 141.2L359.1 141.3L359.6 141.4L360.1 141.2L360.6 141.6L361.1 141.6L361.6 141.7L362.1 141.6L362.6 141.1L363.1 141.4L363.6 141.1L364.1 141.6L364.6 141.5L365.1 141.6L365.6 141.2L366.1 141.1L366.6 141.6L367.1 141.5L367.6 141.5L368.1 141.4L368.6 141.6L369.1 141.3L369.6 141.3L370.1 141.3L370.6 141.3L371.1 141.5L371.6 141.6L372.1 141.1L372.6 141.1L373.1 141.4L373.6 141.5L374.1 131.2L374.6 133.6L375.1 136.7L375.6 138.6L376.1 139.9L376.6 140.7L377.1 141L377.6 141.2L378.1 141.2L378.6 141.7L379.1 141.4L379.6 141.3L380.1 141.5L380.6 141.5L381.1 141.4L381.6 141.1L382.1 141.6L382.6 141.2L383.1 141.1L383.6 141.3L384.1 141.4L384.6 137L385.1 134L385.6 137.4L386.1 139L386.6 139.8L387.1 140.8L387.6 141.1L388.1 141.6L388.6 141.5L389.1 141.2L389.6 141.6L390.1 141.6L390.6 141.4L391.1 141.6L391.6 141.7L392.1 141.3L392.6 141.7L393.1 141.7L393.6 141.6L394.1 141.1L394.6 141.3L395.1 141.5L395.6 141.5L396.1 141.6L396.6 141.5L397.1 141.2L397.6 141.7L398.1 141.4L398.6 141.6L399.1 141.2L399.6 141.7L400.1 141.4L400.6 141.6L401.1 141.5L401.6 141.6L402.1 141.3L402.6 141.1L403.1 141.3L403.6 141.2L404.1 141.4L404.6 141.6L405.1 141.3L405.6 141.2L406.1 141.1L406.6 141.4L407.1 141.4L407.6 141.1L408.1 141.5L408.6 141.2L409.1 141.2L409.6 141.7L410.1 141.4L410.6 141.6L411.1 141.4L411.6 141.2L412.1 141.2L412.6 141.4L413.1 141.5L413.6 141.6L414.1 141.6L414.6 141.5L415.1 141.3L415.6 141.4L416.1 141.3L416.6 141.4L417.1 141.3L417.6 141.4L418.1 141.4L418.6 141.1L419.1 141.6L419.6 140.5L420.1 138.9L420.6 140L421.1 140.7L421.6 141.2L422.1 141L422.6 141.2L423.1 141.1L423.6 141.5L424.1 141.4L424.6 141.4L425.1 141.7L425.6 141.2L426.1 141.2L426.6 141.5L427.1 141.6L427.6 141.4L428.1 141.1L428.6 141.3L429.1 141.6L429.6 141.4L430.1 141.4L430.6 140.3L431.1 138.8L431.6 139.9L432.1 140.6L432.6 141.1L433.1 141.3L433.6 141.2L434.1 141.3L434.6 141.6L435.1 141.6L435.6 141.7L436.1 141.2L436.6 141.6L437.1 141.6L437.6 141.1L438.1 141.3L438.6 141.5L439.1 141.2L439.6 141.6L440.1 141.3L440.6 132.3L441.1 134.2L441.6 137.2L442.1 138.9L442.6 140.1L443.1 140.8L443.6 140.8L444.1 141.5L444.6 141.3L445.1 141.5L445.6 141.3L446.1 141.2L446.6 141.2L447.1 141.1L447.6 141.5L448.1 141.3L448.6 141.2L449.1 135L449.6 134.3L450.1 137L450.6 139.2L451.1 140.1L451.6 140.6L452.1 141L452.6 141.7L453.1 141.3L453.6 141.5L454.1 141.5L454.6 141.3L455.1 141.3L455.6 141.6L456.1 141.5L456.6 141.4L457.1 141.4L457.6 135.4L458.1 137.1L458.6 138.5L459.1 140L459.6 140.5L460.1 123.7L460.6 128L461.1 133.9L461.6 136.8L462.1 138.9L462.6 139.8L463.1 140.8L463.6 140.3L464.1 138.6L464.6 139.7L465.1 140.2L465.6 140.7L466.1 140.9L466.6 141.3L467.1 141.6L467.6 141.2L468.1 141.2L468.6 141.4L469.1 141.2L469.6 141.3L470.1 141.6L470.6 141.2L471.1 141.5L471.6 141.4L472.1 141.2L472.6 141.2L473.1 141.5L473.6 141.2L474.1 141.2L474.6 136.4L475.1 137.7L475.6 139.2L476.1 140.2L476.6 140.4L477.1 140.9L477.6 141.1L478.1 141.6L478.6 141.3L479.1 141.6L479.6 141.1L480.1 141.4L480.6 141.6L481.1 141.6L481.6 134.8L482.1 136.1L482.6 138.7L483.1 139.5L483.6 138L484.1 133.9L484.6 137.1L485.1 139.1L485.6 139.8L486.1 140.5L486.6 141.1L487.1 141.5L487.6 141.3L488.1 141.6L488.6 141.1L489.1 141.3L489.6 141.2L490.1 141.3L490.6 141.6L491.1 141.6L491.6 141.2L492.1 141.3L492.6 141.2L493.1 141.5L493.6 141.4L494.1 141.2L494.6 141.3L495.1 141.6L495.6 141.4L496.1 141.5L496.6 141.5L497.1 141.4L497.6 141.4L498.1 141.3L498.6 141.2L499.1 141.4L499.6 141.3L500.1 141.3L500.6 141.2L501.1 141.6L501.6 141.4L502.1 141.2L502.6 141.1L503.1 141.2L503.6 141.6L504.1 141.3L504.6 141.5L505.1 141.2L505.6 141.5L506.1 141.4L506.6 141.5L507.1 137.4L507.6 134.9L508.1 137.6L508.6 139.3L509.1 140.4L509.6 140.8L510.1 141L510.6 141.3L511.1 141.6L511.6 141.6L512.1 141.2L512.6 141.5L513.1 141.6L513.6 141.5L514.1 141.7L514.6 141.6L515.1 141.2L515.6 141.7L516.1 141.3L516.6 141.3L517.1 141.7L517.6 137.4L518.1 131L518.6 135.6L519.1 137.9L519.6 139.3L520.1 140.5L520.6 140.8L521.1 141.5L521.6 141.6L522.1 141.6L522.6 139L523.1 138.7L523.6 140L524.1 140.5L524.6 141L525.1 141.1L525.6 141.5L526.1 141.5L526.6 141.4L527.1 137.8L527.6 137.3L528.1 138.9L528.6 140L529.1 140.4L529.6 140.7L530.1 140.9L530.6 141.4L531.1 141.6L531.6 141.1L532.1 141.5L532.6 140.2L533.1 138.7L533.6 139.7L534.1 140.5L534.6 141L535.1 141.1L535.6 141.2L536.1 141.5L536.6 141.2L537.1 141.3L537.6 141.5L538.1 141.6L538.6 141.7L539.1 141.3L539.6 141.5L540.1 141.3L540.6 141.5L541.1 132.9L541.6 134.4L542.1 137.4L542.6 139.4L543.1 140L543.6 140.7L544.1 141.2L544.6 141.3L545.1 141.6L545.6 141.1L546.1 141.3L546.6 141.2L547.1 141.3L547.6 141.2L548.1 141.1L548.6 141.6L549.1 141.2L549.6 141.4L550.1 141.4L550.6 141.6L551.1 141.6L551.6 135.8L552.1 135.1L552.6 138.1L553.1 139.2L553.6 140.5L554.1 140.6L554.6 140.9L555.1 141.2L555.6 141.3L556.1 141.6L556.6 141.6L557.1 141.5L557.6 141.5L558.1 141.2L558.6 141.3L559.1 141.3L559.6 141.4L560.1 141.6L560.6 141.7L561.1 141.2L561.6 141.7L562.1 141.7L562.6 141.4L563.1 141.5L563.6 141.6L564.1 141.2L564.6 141.5L565.1 141.7L565.6 141.6L566.1 141.6L566.6 141.2L567.1 141.5L567.6 141.4L568.1 141.6L568.6 141.2L569.1 141.4L569.6 138.2L570.1 133.5L570.6 136.9L571.1 138.5L571.6 139.8L572.1 140.3L572.6 141L573.1 141.5L573.6 141.1L574.1 141.7L574.6 141.7L575.1 141.4L575.6 141.4L576.1 140.2L576.6 138.3L577.1 139.5L577.6 140.3L578.1 141L578.6 140.9L579.1 141.1L579.6 141.6L580.1 141.2L580.6 141.1L581.1 141.6L581.6 141.2L582.1 141.3L582.6 141.3L583.1 141.3L583.6 141.3L584.1 141.4L584.6 141.2L585.1 141.4L585.6 140.1L586.1 138.5L586.6 139.7L587.1 140.4L587.6 140.8L588.1 141L588.6 141.4L589.1 141.5L589.6 141.4L590.1 141.6L590.6 140.5L591.1 138.6L591.6 139.9L592.1 140.7L592.6 140.9L593.1 141.3L593.6 141.3L594.1 141.7L594.6 141.3L595.1 141.5L595.6 141.7L596.1 141.4L596.6 141.6L597.1 141.2L597.6 141.5L598.1 141.3L598.6 141.6L599.1 141.4L599.6 140.8L600.1 139.5L600.6 140.2L601.1 141L601.6 141.1L602.1 141.3L602.6 141.1L603.1 141.3L603.6 141.7L604.1 141.2L604.6 141.4L605.1 141.5L605.6 141.4L606.1 141.4L606.6 141.7L607.1 141.6L607.6 141.2L608.1 141.4L608.6 141.4L609.1 141.5L609.6 141.5L610.1 141.3L610.6 141.5L611.1 141.4L611.6 138.4L612.1 138.4L612.6 139.7L613.1 140.3L613.6 141L614.1 141.4L614.6 141.5L615.1 141.5L615.6 141.6L616.1 141.4L616.6 141.5L617.1 141.6L617.6 141.1L618.1 141.3L618.6 141.3L619.1 141.3L619.6 140.4L620.1 138.4L620.6 140L621.1 140.8L621.6 140.7L622.1 140.9L622.6 141.1L623.1 141.6L623.6 141.2L624.1 141.6L624.6 141.2L625.1 141.5L625.6 141.5L626.1 141.5L626.6 141.2L627.1 141.7L627.6 141.6L628.1 141.4L628.6 141.6L629.1 141.5L629.6 141.2L630.1 141.3L630.6 141.6L631.1 141.4L631.6 140.5L632.1 139.4L632.6 140.2L633.1 140.9L633.6 141.1L634.1 141.2L634.6 141.2L635.1 141.7L635.6 141.3L636.1 141.5L636.6 141.2L637.1 141.4L637.6 141.2L638.1 141.2L638.6 141.3L639.1 141.2L639.6 141.3L640.1 141.5L640.6 141.4L641.1 141.6L641.6 141.4L642.1 141.2L642.6 141.5L643.1 141.3L643.6 141.6L644.1 141.7L644.6 140.7L645.1 139.5L645.6 140.3L646.1 140.8L646.6 141L647.1 141L647.6 141.2L648.1 141.5L648.6 141.6L649.1 141.6L649.6 141.6L650.1 141.6L650.6 141.3L651.1 141.5L651.6 141.1L652.1 141.6L652.6 141.5L653.1 141.3L653.6 141.4L654.1 141.3L654.6 141.6L655.1 141.4L655.6 141.6L656.1 141.7L656.6 141.6L657.1 141.3L657.6 141.3L658.1 141.7L658.6 141.6" fill="none" stroke="#cfc255" stroke-width="0.8"/>
<text x="258.8" y="134.6" font-size="9.5" fill="#e0e0e0" stroke="#e0e0e0" stroke-width="0.22">ΔF/F<tspan font-size="6.5" dy="1.5">0</tspan><tspan dy="-1.5"> of ROI 266</tspan></text>
<rect x="482.2" y="95.3" width="157.4" height="21" fill="none" stroke="#c01818" stroke-width="1"/>
<rect x="470.2" y="131.5" width="17.5" height="11.1" fill="none" stroke="#c01818" stroke-width="1"/>
<line x1="470.2" y1="131.5" x2="482.2" y2="116.3" stroke="#c01818" stroke-width="0.9" stroke-dasharray="2,1.6"/>
<line x1="487.7" y1="131.5" x2="639.6" y2="116.3" stroke="#c01818" stroke-width="0.9" stroke-dasharray="2,1.6"/>
<path d="M484 111.8L484.5 111.9L485 112L485.5 112L486 111.8L486.5 111.9L487 112L487.5 111.8L488 111.8L488.5 111.9L489 112L489.5 111.9L490 111.6L490.5 111.1L491 110.1L491.5 108.8L492 108.3L492.5 108.7L493 108.9L493.5 108L494 106.1L494.5 103.4L495 101.2L495.5 102L496 103.2L496.5 104.4L497 105.2L497.5 106L498 106.8L498.5 107.4L499 107.8L499.5 108.5L500 108.8L500.5 109.3L501 109.6L501.5 109.8L502 110L502.5 110.2L503 110.4L503.5 110.5L504 110.7L504.5 111L505 110.9L505.5 111.2L506 111.3L506.5 111.4L507 111.4L507.5 111.6L508 111.4L508.5 111.4L509 111.6L509.5 111.6L510 111.8L510.5 111.8L511 111.8L511.5 111.8L512 111.7L512.5 111.8L513 111.8L513.5 111.8L514 111.8L514.5 111.8L515 111.9L515.5 111.7L516 111.9L516.5 111.7L517 112L517.5 111.9L518 111.8L518.5 111.6L519 111.3L519.5 110.6L520 109.8L520.5 109.4L521 109.5L521.5 109.5L522 108.8L522.5 108.1L523 106.9L523.5 106.6L524 106.9L524.5 107.4L525 107.7L525.5 108L526 108.4L526.5 108.8L527 108.9L527.5 109.2L528 109.5L528.5 109.8L529 109.8L529.5 110.1L530 110.3L530.5 110.4L531 110.4L531.5 110.6L532 110.8L532.5 110.7L533 110.9L533.5 111L534 111.1L534.5 111L535 111.2L535.5 111.1L536 111.2L536.5 111.3L537 111.4L537.5 111.5L538 111.6L538.5 111.4L539 111.5L539.5 111.6L540 111.5L540.5 111.7L541 111.5L541.5 111.6L542 111.5L542.5 111.7L543 111.8L543.5 111.6L544 111.9L544.5 111.8L545 111.7L545.5 111.9L546 111.9L546.5 111.7L547 111.9L547.5 111.7L548 111.8L548.5 111.8L549 112L549.5 111.8L550 111.8L550.5 111.8L551 111.9L551.5 111.8L552 112L552.5 111.8L553 111.9L553.5 112L554 111.8L554.5 111.9L555 111.9L555.5 111.9L556 111.9L556.5 111.9L557 111.8L557.5 111.8L558 111.7L558.5 111.9L559 111.9L559.5 112L560 111.8L560.5 111.9L561 111.9L561.5 111.9L562 112L562.5 111.9L563 111.9L563.5 111.9L564 111.8L564.5 112L565 111.9L565.5 111.8L566 111.9L566.5 112L567 111.7L567.5 110.4L568 107.7L568.5 103.5L569 98.5L569.5 96.3L570 98.1L570.5 99.8L571 101.3L571.5 102.4L572 103.6L572.5 104.6L573 105.4L573.5 106.1L574 106.9L574.5 107.4L575 108L575.5 108.4L576 108.9L576.5 109.2L577 109.7L577.5 109.9L578 110.1L578.5 110.3L579 110.5L579.5 110.6L580 110.6L580.5 111L581 111.1L581.5 111.2L582 111.3L582.5 111.3L583 111.5L583.5 111.4L584 111.6L584.5 111.4L585 111.5L585.5 111.6L586 111.7L586.5 111.7L587 111.8L587.5 111.7L588 111.8L588.5 111.9L589 111.8L589.5 111.7L590 111.9L590.5 111.7L591 111.8L591.5 111.7L592 111.9L592.5 111.7L593 111.5L593.5 110.3L594 107.7L594.5 103.4L595 98.6L595.5 96.2L596 97.9L596.5 99.2L597 100.4L597.5 101.4L598 102.3L598.5 103.3L599 104.3L599.5 104.9L600 105.6L600.5 106.1L601 106.8L601.5 107.3L602 107.6L602.5 108.2L603 108.5L603.5 108.9L604 109.1L604.5 109.4L605 109.5L605.5 109.9L606 109.9L606.5 110.2L607 110.4L607.5 110.6L608 110.7L608.5 110.6L609 110.8L609.5 110.9L610 111L610.5 111.2L611 111.1L611.5 111.3L612 111.3L612.5 111.3L613 111.5L613.5 111.5L614 111.7L614.5 111.4L615 111.7L615.5 111.7L616 111.6L616.5 111.5L617 111.7L617.5 111.8L618 111.7L618.5 111.8L619 111.8L619.5 111.6L620 111.9L620.5 111.7L621 111.8L621.5 111.9L622 111.9L622.5 111.9L623 111.8L623.5 111.9L624 111.7L624.5 111.9L625 111.8L625.5 112L626 111.9L626.5 111.9L627 112L627.5 111.8L628 111.9L628.5 111.8L629 111.8L629.5 111.8L630 112L630.5 111.8L631 112L631.5 111.9L632 111.9L632.5 111.8L633 111.9L633.5 111.9L634 111.8L634.5 112L635 111.9L635.5 111.9L636 111.8L636.5 111.9L637 111.8L637.5 112L638 111.8L638.5 111.9L639 111.9" fill="none" stroke="#cfc255" stroke-width="0.9"/>
<text x="647.8" y="133.3" font-size="9.5" fill="#e8e8e8" text-anchor="end" textLength="24.6" lengthAdjust="spacingAndGlyphs" stroke="#e8e8e8" stroke-width="0.22">200%</text>
<rect x="651.2" y="127.2" width="2.4" height="6" fill="#f0f0f0" stroke="none" stroke-width="1"/>
<rect x="661.1" y="6.9" width="9.9" height="136.4" fill="url(#fireg)" stroke="none" stroke-width="1"/>
<text x="674.2" y="11.4" font-size="8.5" fill="#333">1</text>
<text x="674.2" y="143.6" font-size="8.5" fill="#333">0</text>
<rect x="661.1" y="151.6" width="9.9" height="127.2" fill="url(#fireg)" stroke="none" stroke-width="1"/>
<text x="674.2" y="156.1" font-size="8.5" fill="#333">1</text>
<text x="674.2" y="279.1" font-size="8.5" fill="#333">0</text>
<rect x="661.1" y="287.6" width="9.9" height="78" fill="url(#fireg)" stroke="none" stroke-width="1"/>
<text x="674.2" y="292.1" font-size="8.5" fill="#333">1</text>
<text x="674.2" y="365.9" font-size="8.5" fill="#333">0</text>
<text x="682.8" y="77.7" font-size="9.3" fill="#222" text-anchor="middle" transform="rotate(-90 682.8 77.7)" stroke="#222" stroke-width="0.22">Normalized Δ<tspan font-style="italic">F</tspan>/<tspan font-style="italic">F</tspan><tspan font-size="6.5" dy="1.5">0</tspan></text>
<text x="248" y="7.4" font-size="8.5" fill="#333" text-anchor="end">1</text>
<text x="248" y="143.4" font-size="8.5" fill="#333" text-anchor="end">850</text>
<text x="248" y="154.4" font-size="8.5" fill="#333" text-anchor="end">1</text>
<text x="248" y="278.8" font-size="8.5" fill="#333" text-anchor="end">787</text>
<text x="248" y="292.7" font-size="8.5" fill="#333" text-anchor="end">1</text>
<text x="248" y="364.4" font-size="8.5" fill="#333" text-anchor="end">480</text>
<text x="215" y="71.3" font-size="9.5" fill="#222" text-anchor="middle" textLength="39" lengthAdjust="spacingAndGlyphs" transform="rotate(-90 215 71.3)" stroke="#222" stroke-width="0.22">CELLECT</text>
<text x="226.9" y="71.3" font-size="9.5" fill="#222" text-anchor="middle" textLength="56" lengthAdjust="spacingAndGlyphs" transform="rotate(-90 226.9 71.3)" stroke="#222" stroke-width="0.22">ROI no. (cell)</text>
<text x="215" y="207.8" font-size="9.5" fill="#222" text-anchor="middle" textLength="24.4" lengthAdjust="spacingAndGlyphs" transform="rotate(-90 215 207.8)" stroke="#222" stroke-width="0.22">Imaris</text>
<text x="226.9" y="207.8" font-size="9.5" fill="#222" text-anchor="middle" textLength="56" lengthAdjust="spacingAndGlyphs" transform="rotate(-90 226.9 207.8)" stroke="#222" stroke-width="0.22">ROI no. (cell)</text>
<text x="215" y="325.2" font-size="9.5" fill="#222" text-anchor="middle" textLength="71.3" lengthAdjust="spacingAndGlyphs" transform="rotate(-90 215 325.2)" stroke="#222" stroke-width="0.22">TrackMate-Weka</text>
<text x="226.9" y="325.2" font-size="9.5" fill="#222" text-anchor="middle" textLength="56" lengthAdjust="spacingAndGlyphs" transform="rotate(-90 226.9 325.2)" stroke="#222" stroke-width="0.22">ROI no. (cell)</text>
<text x="252.9" y="374.6" font-size="8.5" fill="#333">0</text>
<text x="657.8" y="374.6" font-size="8.5" fill="#333" text-anchor="end">6,000</text>
<text x="457.5" y="377.4" font-size="10" fill="#222" text-anchor="middle" textLength="34.5" lengthAdjust="spacingAndGlyphs" stroke="#222" stroke-width="0.22">Time (s)</text>
<text x="207.6" y="7.2" font-size="13.5" fill="#000" font-weight="bold">c</text>
<text x="-0.8" y="398.9" font-size="13.5" fill="#000" font-weight="bold">d</text>
<text x="19.7" y="400.2" font-size="9.5" fill="#222" textLength="89" lengthAdjust="spacingAndGlyphs" stroke="#222" stroke-width="0.22">Long-distance travel</text>
<rect x="17.9" y="405.1" width="93.2" height="91.5" fill="#e3000f" stroke="none" stroke-width="1"/>
<rect x="20.4" y="407.6" width="88.2" height="86.5" fill="#000" stroke="none" stroke-width="1"/>
<clipPath id="cpd"><rect x="20.4" y="407.6" width="88.2" height="86.5"/></clipPath>
<g clip-path="url(#cpd)">
<g filter="url(#bl4)">
<ellipse cx="24" cy="440" rx="6" ry="22" fill="#fff" opacity="0.18" transform="rotate(0 24 440)"/>
<ellipse cx="30" cy="420" rx="8" ry="8" fill="#fff" opacity="0.15" transform="rotate(0 30 420)"/>
</g>
<g filter="url(#bl3)">
<circle cx="78.5" cy="415.3" r="3.6" fill="#fff" opacity="0.9"/>
<circle cx="98.2" cy="409.5" r="3.4" fill="#fff" opacity="0.35"/>
<circle cx="26" cy="423.4" r="5" fill="#fff" opacity="0.45"/>
<circle cx="44.2" cy="422.6" r="3.2" fill="#fff" opacity="0.28"/>
<circle cx="42.7" cy="443" r="3.8" fill="#fff" opacity="0.65"/>
<circle cx="73.4" cy="438.7" r="4" fill="#fff" opacity="0.65"/>
<circle cx="21.6" cy="452.6" r="4" fill="#fff" opacity="0.5"/>
<circle cx="28" cy="461" r="3.5" fill="#fff" opacity="0.25"/>
<circle cx="54.4" cy="460.6" r="2.4" fill="#fff" opacity="0.25"/>
<circle cx="63.9" cy="473" r="3.6" fill="#fff" opacity="0.55"/>
<circle cx="34" cy="411.7" r="3" fill="#fff" opacity="0.25"/>
<circle cx="23.8" cy="484" r="3" fill="#fff" opacity="0.3"/>
<circle cx="95" cy="470" r="2.4" fill="#fff" opacity="0.15"/>
<circle cx="86" cy="480" r="2.4" fill="#fff" opacity="0.12"/>
<circle cx="104" cy="440" r="3" fill="#fff" opacity="0.18"/>
</g>
</g>
<path d="M41 472.6L44 466L46.5 458L49 452L53 448L58.8 443.8L64 439L69 434.3L73 430L76.3 426.3L82 420.5L88.7 416" fill="none" stroke="url(#gl1)" stroke-width="0.9" stroke-linejoin="round"/>
<circle cx="41" cy="472.6" r="2.4" fill="#fff" filter="url(#bl1)"/>
<circle cx="41" cy="472.6" r="3.1" fill="none" stroke="#2a6ff0" stroke-width="1.1"/>
<text x="59.6" y="457" font-size="9.5" fill="#e6e6e6" textLength="43" lengthAdjust="spacingAndGlyphs" stroke="#e6e6e6" stroke-width="0.22">Trajectory</text>
<text x="32" y="484.7" font-size="9.3" fill="#eee" textLength="16.2" lengthAdjust="spacingAndGlyphs" stroke="#eee" stroke-width="0.22">295</text>
<rect x="21.1" y="489.3" width="20.9" height="2.7" fill="#fff" stroke="none" stroke-width="1"/>
<text x="145.6" y="409.8" font-size="9.3" fill="#222" textLength="91.3" lengthAdjust="spacingAndGlyphs" stroke="#222" stroke-width="0.22">Moving ROI (tracked)</text>
<text x="145.8" y="456.6" font-size="9.3" fill="#222" textLength="40.6" lengthAdjust="spacingAndGlyphs" stroke="#222" stroke-width="0.22">Fixed ROI</text>
<line x1="143.8" y1="411.8" x2="143.8" y2="438.7" stroke="#c4c4c4" stroke-width="1.5"/>
<line x1="143.1" y1="438.95" x2="366.8" y2="438.95" stroke="#777" stroke-width="0.6"/>
<line x1="149.37" y1="438.95" x2="149.37" y2="441.7" stroke="#555" stroke-width="0.6"/>
<line x1="154.94" y1="438.95" x2="154.94" y2="441.7" stroke="#555" stroke-width="0.6"/>
<line x1="160.5" y1="438.95" x2="160.5" y2="441.7" stroke="#555" stroke-width="0.6"/>
<line x1="166.07" y1="438.95" x2="166.07" y2="441.7" stroke="#555" stroke-width="0.6"/>
<line x1="171.64" y1="438.95" x2="171.64" y2="441.7" stroke="#555" stroke-width="0.6"/>
<line x1="177.21" y1="438.95" x2="177.21" y2="441.7" stroke="#555" stroke-width="0.6"/>
<line x1="182.77" y1="438.95" x2="182.77" y2="441.7" stroke="#555" stroke-width="0.6"/>
<line x1="188.34" y1="438.95" x2="188.34" y2="441.7" stroke="#555" stroke-width="0.6"/>
<line x1="193.91" y1="438.95" x2="193.91" y2="441.7" stroke="#555" stroke-width="0.6"/>
<line x1="199.48" y1="438.95" x2="199.48" y2="444.2" stroke="#555" stroke-width="0.6"/>
<line x1="205.04" y1="438.95" x2="205.04" y2="441.7" stroke="#555" stroke-width="0.6"/>
<line x1="210.61" y1="438.95" x2="210.61" y2="441.7" stroke="#555" stroke-width="0.6"/>
<line x1="216.18" y1="438.95" x2="216.18" y2="441.7" stroke="#555" stroke-width="0.6"/>
<line x1="221.75" y1="438.95" x2="221.75" y2="441.7" stroke="#555" stroke-width="0.6"/>
<line x1="227.31" y1="438.95" x2="227.31" y2="441.7" stroke="#555" stroke-width="0.6"/>
<line x1="232.88" y1="438.95" x2="232.88" y2="441.7" stroke="#555" stroke-width="0.6"/>
<line x1="238.45" y1="438.95" x2="238.45" y2="441.7" stroke="#555" stroke-width="0.6"/>
<line x1="244.02" y1="438.95" x2="244.02" y2="441.7" stroke="#555" stroke-width="0.6"/>
<line x1="249.58" y1="438.95" x2="249.58" y2="441.7" stroke="#555" stroke-width="0.6"/>
<line x1="255.15" y1="438.95" x2="255.15" y2="444.2" stroke="#555" stroke-width="0.6"/>
<line x1="260.72" y1="438.95" x2="260.72" y2="441.7" stroke="#555" stroke-width="0.6"/>
<line x1="266.28" y1="438.95" x2="266.28" y2="441.7" stroke="#555" stroke-width="0.6"/>
<line x1="271.85" y1="438.95" x2="271.85" y2="441.7" stroke="#555" stroke-width="0.6"/>
<line x1="277.42" y1="438.95" x2="277.42" y2="441.7" stroke="#555" stroke-width="0.6"/>
<line x1="282.99" y1="438.95" x2="282.99" y2="441.7" stroke="#555" stroke-width="0.6"/>
<line x1="288.56" y1="438.95" x2="288.56" y2="441.7" stroke="#555" stroke-width="0.6"/>
<line x1="294.12" y1="438.95" x2="294.12" y2="441.7" stroke="#555" stroke-width="0.6"/>
<line x1="299.69" y1="438.95" x2="299.69" y2="441.7" stroke="#555" stroke-width="0.6"/>
<line x1="305.26" y1="438.95" x2="305.26" y2="441.7" stroke="#555" stroke-width="0.6"/>
<line x1="310.83" y1="438.95" x2="310.83" y2="444.2" stroke="#555" stroke-width="0.6"/>
<line x1="316.39" y1="438.95" x2="316.39" y2="441.7" stroke="#555" stroke-width="0.6"/>
<line x1="321.96" y1="438.95" x2="321.96" y2="441.7" stroke="#555" stroke-width="0.6"/>
<line x1="327.53" y1="438.95" x2="327.53" y2="441.7" stroke="#555" stroke-width="0.6"/>
<line x1="333.1" y1="438.95" x2="333.1" y2="441.7" stroke="#555" stroke-width="0.6"/>
<line x1="338.66" y1="438.95" x2="338.66" y2="441.7" stroke="#555" stroke-width="0.6"/>
<line x1="344.23" y1="438.95" x2="344.23" y2="441.7" stroke="#555" stroke-width="0.6"/>
<line x1="349.8" y1="438.95" x2="349.8" y2="441.7" stroke="#555" stroke-width="0.6"/>
<line x1="355.37" y1="438.95" x2="355.37" y2="441.7" stroke="#555" stroke-width="0.6"/>
<line x1="360.93" y1="438.95" x2="360.93" y2="441.7" stroke="#555" stroke-width="0.6"/>
<line x1="366.5" y1="438.95" x2="366.5" y2="444.2" stroke="#555" stroke-width="0.6"/>
<text x="138.6" y="414.5" font-size="8.2" fill="#333" text-anchor="end">1</text>
<text x="139.2" y="441.8" font-size="8.2" fill="#333" text-anchor="end">0</text>
<line x1="143.8" y1="460.6" x2="143.8" y2="489.2" stroke="#c4c4c4" stroke-width="1.5"/>
<line x1="143.1" y1="489.45" x2="366.8" y2="489.45" stroke="#777" stroke-width="0.6"/>
<line x1="149.37" y1="489.45" x2="149.37" y2="492.2" stroke="#555" stroke-width="0.6"/>
<line x1="154.94" y1="489.45" x2="154.94" y2="492.2" stroke="#555" stroke-width="0.6"/>
<line x1="160.5" y1="489.45" x2="160.5" y2="492.2" stroke="#555" stroke-width="0.6"/>
<line x1="166.07" y1="489.45" x2="166.07" y2="492.2" stroke="#555" stroke-width="0.6"/>
<line x1="171.64" y1="489.45" x2="171.64" y2="492.2" stroke="#555" stroke-width="0.6"/>
<line x1="177.21" y1="489.45" x2="177.21" y2="492.2" stroke="#555" stroke-width="0.6"/>
<line x1="182.77" y1="489.45" x2="182.77" y2="492.2" stroke="#555" stroke-width="0.6"/>
<line x1="188.34" y1="489.45" x2="188.34" y2="492.2" stroke="#555" stroke-width="0.6"/>
<line x1="193.91" y1="489.45" x2="193.91" y2="492.2" stroke="#555" stroke-width="0.6"/>
<line x1="199.48" y1="489.45" x2="199.48" y2="494.7" stroke="#555" stroke-width="0.6"/>
<line x1="205.04" y1="489.45" x2="205.04" y2="492.2" stroke="#555" stroke-width="0.6"/>
<line x1="210.61" y1="489.45" x2="210.61" y2="492.2" stroke="#555" stroke-width="0.6"/>
<line x1="216.18" y1="489.45" x2="216.18" y2="492.2" stroke="#555" stroke-width="0.6"/>
<line x1="221.75" y1="489.45" x2="221.75" y2="492.2" stroke="#555" stroke-width="0.6"/>
<line x1="227.31" y1="489.45" x2="227.31" y2="492.2" stroke="#555" stroke-width="0.6"/>
<line x1="232.88" y1="489.45" x2="232.88" y2="492.2" stroke="#555" stroke-width="0.6"/>
<line x1="238.45" y1="489.45" x2="238.45" y2="492.2" stroke="#555" stroke-width="0.6"/>
<line x1="244.02" y1="489.45" x2="244.02" y2="492.2" stroke="#555" stroke-width="0.6"/>
<line x1="249.58" y1="489.45" x2="249.58" y2="492.2" stroke="#555" stroke-width="0.6"/>
<line x1="255.15" y1="489.45" x2="255.15" y2="494.7" stroke="#555" stroke-width="0.6"/>
<line x1="260.72" y1="489.45" x2="260.72" y2="492.2" stroke="#555" stroke-width="0.6"/>
<line x1="266.28" y1="489.45" x2="266.28" y2="492.2" stroke="#555" stroke-width="0.6"/>
<line x1="271.85" y1="489.45" x2="271.85" y2="492.2" stroke="#555" stroke-width="0.6"/>
<line x1="277.42" y1="489.45" x2="277.42" y2="492.2" stroke="#555" stroke-width="0.6"/>
<line x1="282.99" y1="489.45" x2="282.99" y2="492.2" stroke="#555" stroke-width="0.6"/>
<line x1="288.56" y1="489.45" x2="288.56" y2="492.2" stroke="#555" stroke-width="0.6"/>
<line x1="294.12" y1="489.45" x2="294.12" y2="492.2" stroke="#555" stroke-width="0.6"/>
<line x1="299.69" y1="489.45" x2="299.69" y2="492.2" stroke="#555" stroke-width="0.6"/>
<line x1="305.26" y1="489.45" x2="305.26" y2="492.2" stroke="#555" stroke-width="0.6"/>
<line x1="310.83" y1="489.45" x2="310.83" y2="494.7" stroke="#555" stroke-width="0.6"/>
<line x1="316.39" y1="489.45" x2="316.39" y2="492.2" stroke="#555" stroke-width="0.6"/>
<line x1="321.96" y1="489.45" x2="321.96" y2="492.2" stroke="#555" stroke-width="0.6"/>
<line x1="327.53" y1="489.45" x2="327.53" y2="492.2" stroke="#555" stroke-width="0.6"/>
<line x1="333.1" y1="489.45" x2="333.1" y2="492.2" stroke="#555" stroke-width="0.6"/>
<line x1="338.66" y1="489.45" x2="338.66" y2="492.2" stroke="#555" stroke-width="0.6"/>
<line x1="344.23" y1="489.45" x2="344.23" y2="492.2" stroke="#555" stroke-width="0.6"/>
<line x1="349.8" y1="489.45" x2="349.8" y2="492.2" stroke="#555" stroke-width="0.6"/>
<line x1="355.37" y1="489.45" x2="355.37" y2="492.2" stroke="#555" stroke-width="0.6"/>
<line x1="360.93" y1="489.45" x2="360.93" y2="492.2" stroke="#555" stroke-width="0.6"/>
<line x1="366.5" y1="489.45" x2="366.5" y2="494.7" stroke="#555" stroke-width="0.6"/>
<text x="138.6" y="463.3" font-size="8.2" fill="#333" text-anchor="end">1</text>
<text x="139.2" y="492.3" font-size="8.2" fill="#333" text-anchor="end">0</text>
<text x="143.8" y="504.3" font-size="8.2" fill="#333" text-anchor="middle">433</text>
<text x="199.48" y="504.3" font-size="8.2" fill="#333" text-anchor="middle">866</text>
<text x="255.15" y="504.3" font-size="8.2" fill="#333" text-anchor="middle">1,732</text>
<text x="310.82" y="504.3" font-size="8.2" fill="#333" text-anchor="middle">2,598</text>
<text x="366.5" y="504.3" font-size="8.2" fill="#333" text-anchor="middle">3,464</text>
<text x="255.2" y="517.5" font-size="9.6" fill="#222" text-anchor="middle" textLength="34.5" lengthAdjust="spacingAndGlyphs" stroke="#222" stroke-width="0.22">Time (s)</text>
<text x="125.2" y="449.9" font-size="9.7" fill="#222" text-anchor="middle" transform="rotate(-90 125.2 449.9)" stroke="#222" stroke-width="0.22">Normalized Δ<tspan font-style="italic">F</tspan>/<tspan font-style="italic">F</tspan><tspan font-size="6.7" dy="1.5">0</tspan></text>
<path d="M144.4 437.2L144.8 436.3L145.1 436.7L145.4 437.2L145.7 437.3L145.8 428L146 417.9L146.2 423.2L146.5 430.2L146.8 433.3L147.2 435.3L147.6 436.5L147.9 435.9L148.2 437.3L148.6 437.6L148.9 437.2L149.3 436.9L149.3 437.5L149.7 414.1L149.7 412.4L150 424.8L150.3 431.9L150.7 434.5L151.1 435L151.4 435.5L151.8 436.3L152.1 436.5L152.4 436.7L152.8 437.4L152.9 437.6L153.2 422L153.2 415.9L153.5 425.4L153.8 431L154.2 435.2L154.6 435.5L154.9 436.3L155.2 436.2L155.6 437.1L155.9 436L156.3 437.5L156.6 436.5L156.7 433.3L156.9 419.6L157 421.9L157.3 429.8L157.7 433.3L158.1 434.7L158.4 436.4L158.8 436.2L159.1 436L159.4 436.2L159.8 437L160.2 436.3L160.2 436.2L160.5 418.2L160.6 415.1L160.8 425.9L161.2 431.6L161.6 434.3L161.9 436.4L162.2 436.1L162.6 435.8L162.9 436.2L163.3 436.4L163.7 437L164 436.4L164.2 436.7L164.3 427.9L164.5 420.5L164.7 427.3L165.1 431.7L165.4 435.4L165.8 435.7L166.1 436.4L166.4 437L166.8 436.5L167.2 436.8L167.5 436.6L167.5 435.9L167.8 422.1L167.9 422L168.2 429.6L168.6 433.1L168.9 435.7L169.2 436.6L169.6 435.8L169.9 436.4L170.3 436.9L170.7 436.2L171 437.1L171.3 436.5L171.5 437.1L171.7 423.4L171.8 414.2L172.1 422.3L172.4 429.8L172.8 434.1L173.1 435.3L173.4 436.5L173.8 437.1L174.2 436.8L174.5 436.3L174.5 436L174.8 413.8L174.9 410.9L175.2 424.5L175.6 431.5L175.9 434.2L176.2 436L176.6 436.7L176.9 436.7L177.3 436.6L177.7 436.8L178 437.1L178.3 436.3L178.7 436L178.7 436.6L179 416L179.1 416L179.4 426.3L179.8 433L180.1 434.4L180.4 435.7L180.8 436.7L181.2 436.1L181.5 437.6L181.8 437.4L182.2 436.9L182.4 437.6L182.6 430.8L182.8 420.9L182.9 424.7L183.2 431.7L183.6 433.9L183.9 435.7L184.3 436L184.7 436.3L185 436.2L185.3 436.1L185.4 436.5L185.7 422.8L185.8 416.5L186.1 425.5L186.4 432.2L186.8 434.4L187.1 435.3L187.4 436.8L187.8 436.9L188.2 437.1L188.5 436.5L188.5 436.8L188.8 420.9L188.9 419.7L189.2 428.8L189.6 432.6L189.9 434.4L190.2 436.7L190.6 435.8L190.9 436.3L191.3 437.4L191.7 436.9L191.8 436.6L192 428.1L192.2 422L192.3 426.7L192.7 431.6L193.1 434.2L193.4 435.1L193.8 436.4L194.1 436.4L194.4 437.3L194.8 436.5L195.2 436.3L195.4 436.6L195.5 429.2L195.7 417.7L195.8 421.5L196.2 429.3L196.6 433L196.9 435.3L197.2 435.7L197.6 436.8L197.9 436L198.3 436.2L198.7 437.1L199 437.5L199.3 436.9L199.4 436.7L199.7 417.8L199.7 416.5L200.1 427.5L200.4 431.7L200.8 435.4L201.1 435.4L201.4 436.9L201.8 436.9L202.2 436.4L202.5 437.4L202.8 437.4L203.2 436.8L203.2 433.5L203.5 416.1L203.6 418.5L203.9 427.8L204.2 433L204.6 434.3L204.9 436.7L205.3 436.9L205.7 436.6L206 437.2L206.3 436.4L206.7 436.6L206.9 436.8L207.1 430.3L207.3 417.2L207.4 421.5L207.8 429.8L208.1 433L208.4 434.7L208.8 436.6L209.2 435.9L209.5 435.9L209.8 436.8L210.2 436.7L210.3 437.2L210.6 416.9L210.6 411.4L210.9 422.7L211.2 431.2L211.6 433.1L211.9 435.4L212.3 436.4L212.7 436L213 436.7L213.3 436.8L213.7 436.5L214.1 437.5L214.4 436.8L214.5 437L214.8 417.2L214.8 412.5L215.1 424.3L215.4 430.9L215.8 434.7L216.2 435.7L216.5 435.7L216.8 435.9L217.2 436.9L217.6 437.1L217.9 437.3L218.2 436.6L218.3 436.1L218.6 423L218.7 418.3L218.9 427.8L219.3 432.8L219.7 435.2L220 435.6L220.3 436.7L220.7 436.8L221.1 436.6L221.4 437.5L221.6 436.3L221.8 429.6L221.9 419L222.1 424.5L222.4 431.4L222.8 434.1L223.2 435.7L223.5 436.4L223.8 436.7L224.2 436.8L224.6 437.4L224.7 437.3L224.9 422.3L225 413.7L225.2 422.6L225.6 429.7L225.9 433.6L226.3 434.9L226.7 436.6L227 436.1L227.3 436.3L227.7 436.2L228.1 437.1L228.2 437.1L228.4 419.9L228.5 413.5L228.8 421.9L229.1 429.7L229.4 434.4L229.8 435.9L230.2 435.8L230.5 436.9L230.8 437.5L231.2 436.3L231.6 436.9L231.6 436.1L231.9 417.8L232 412.1L232.2 422.9L232.6 431.3L232.9 434.4L233.3 435.2L233.7 435.5L234 435.8L234.3 437.4L234.7 436.8L235.1 436.4L235.4 436.8L235.6 436.5L235.8 432.8L236 422.8L236.1 425.8L236.4 432.2L236.8 434.3L237.2 435.7L237.5 436.2L237.8 437.1L238.2 437.2L238.6 437.3L238.9 436.3L238.9 435.7L239.2 411.9L239.2 413.2L239.6 426.4L239.9 431L240.3 434.5L240.7 435.3L241 436.6L241.3 436.6L241.7 436.8L242.1 436.9L242.4 436.7L242.5 437.5L242.8 415.4L242.8 411L243.1 424.1L243.4 430.8L243.8 433.6L244.2 435.7L244.5 436.7L244.8 437.1L245.2 436.8L245.6 437.6L245.9 436.2L245.9 436.1L246.2 422.5L246.3 420.8L246.6 428.9L246.9 433.4L247.3 435L247.7 436.1L248 435.7L248.3 436.2L248.7 437.2L249.1 436.2L249.4 436.4L249.7 436.4L249.8 432.4L250 413.9L250.1 415.8L250.4 426.9L250.8 432.2L251.2 434.4L251.5 435.5L251.8 436.6L252.2 436.3L252.6 437.5L252.9 437.1L253 436.9L253.2 427L253.4 421.5L253.6 427.3L253.9 432.3L254.3 435.3L254.7 435.2L255 436.1L255.3 436.9L255.7 436.6L256.1 436.7L256.4 436.8L256.4 437L256.8 411.8L256.8 411.7L257.1 424.6L257.4 430.9L257.8 433.5L258.1 436.4L258.5 436.1L258.9 436.2L259.2 437.2L259.6 437L259.9 437.5L260.2 437.3L260.3 437L260.6 424.8L260.7 421.3L260.9 427.5L261.3 432.7L261.6 435L262 435.2L262.4 436.3L262.7 435.8L263.1 436.6L263.4 436.3L263.6 437.5L263.8 430.7L264 420.5L264.1 425.7L264.4 430.7L264.8 434.9L265.1 435.7L265.5 436.8L265.9 436.6L266.2 436.5L266.6 437.5L266.7 436.1L266.9 423L267 413.5L267.2 422L267.6 430.3L267.9 434.1L268.3 435.1L268.6 436.1L269 436.9L269.4 436.5L269.7 437.1L269.9 437.6L270.1 428.6L270.2 417L270.4 422.3L270.8 429.5L271.1 433.8L271.4 434.7L271.8 435.7L272.1 437.2L272.5 435.9L272.9 436.1L273.2 437.5L273.4 436.2L273.6 431.7L273.8 420.1L273.9 422.8L274.2 431.2L274.6 434L274.9 434.8L275.3 435.9L275.6 436.6L276 435.9L276.4 436.3L276.7 436.6L277.1 437.4L277.3 436.6L277.4 433.2L277.7 421.1L277.8 424L278.1 430.5L278.4 434.6L278.8 435.6L279.1 435.9L279.5 436.6L279.9 437.1L280.2 436.7L280.6 436.9L280.9 436.4L281.1 436.8L281.2 428.8L281.4 420.1L281.6 425.1L281.9 432L282.3 435.1L282.6 435.1L283 435.9L283.4 436.4L283.7 437L284.1 437.2L284.4 436.5L284.6 436.6L284.8 429.2L284.9 419.6L285.1 424.3L285.4 431.7L285.8 434.7L286.1 434.9L286.5 435.6L286.9 436L287.2 437.6L287.6 437.5L287.9 437.2L287.9 436.9L288.2 412.9L288.3 412.3L288.6 424.6L288.9 431.9L289.3 434.9L289.6 435.4L290 436.2L290.4 436.4L290.7 437L291.1 436.9L291.4 437.3L291.8 437.1L291.9 436.4L292.1 425.2L292.2 419.7L292.4 426.2L292.8 431.2L293.1 434.3L293.5 435.3L293.9 436.8L294.2 436.7L294.6 437.2L294.9 436.3L295.2 437L295.6 436.6L295.9 435.9L296.3 420.2L296.6 429L297 432.8L297.4 434.5L297.7 436.2L298.1 436.7L298.4 437.3L298.8 436.2L299.1 437.5L299.4 437.5L299.4 434.6L299.8 412.9L299.8 414.1L300.1 426.8L300.5 431.6L300.9 435.3L301.2 436.3L301.6 436.1L301.9 437.3L302.2 437.1L302.6 436.5L302.9 436.5L303.2 437.2L303.3 432.4L303.5 421.2L303.6 424L304 431.3L304.4 434.8L304.7 435.3L305.1 436.2L305.4 435.9L305.8 436L306.1 436.1L306.4 436.9L306.8 436.3L307.1 437.1L307.4 437L307.5 431L307.7 419.1L307.9 423.2L308.2 431.2L308.6 434.3L308.9 435.8L309.2 436.5L309.6 436.7L309.9 436.9L310.3 437.3L310.6 436.7L310.7 436.1L311 416.1L311 413.3L311.4 425.2L311.7 432L312.1 434L312.4 435.1L312.8 436.7L313.1 437.4L313.4 436.8L313.8 436.7L314.1 436.7L314.1 432.6L314.4 418.7L314.5 420.9L314.9 430.4L315.2 433.5L315.6 434.9L315.9 436.8L316.2 437.2L316.6 436.3L316.9 436.2L317.2 437.5L317.3 430.7L317.5 421.6L317.6 424.6L318 431.2L318.4 434.7L318.7 436.1L319.1 435.9L319.4 436.5L319.8 436.3L320.1 437L320.4 437.1L320.8 436.1L320.9 436.5L321.1 422.9L321.2 419.4L321.5 427.1L321.9 432.2L322.2 434.2L322.6 436.1L322.9 435.9L323.2 436.4L323.6 436.2L323.9 436.3L324.3 436.3L324.6 436.2L324.6 432.9L324.9 417.8L325 420.3L325.4 428.9L325.7 432.9L326.1 435.3L326.4 436.2L326.8 437.1L327.1 436.3L327.4 436L327.8 437L328.1 437.4L328.1 436.2L328.5 412.1L328.5 412.9L328.9 424.9L329.2 432.4L329.6 434.8L329.9 436.4L330.2 436.1L330.6 436.1L330.9 437.3L331.3 437.5L331.6 436.9L331.7 436.7L332 419.1L332.1 416.9L332.4 426.3L332.7 432.2L333.1 434.9L333.4 436.2L333.8 436L334.1 436.4L334.4 437.3L334.8 437.3L335.1 437.2L335.5 437.3L335.8 436.4L335.9 432.6L336.1 420.2L336.2 422.7L336.6 430.6L336.9 434.3L337.2 434.9L337.6 435.5L337.9 436.8L338.3 436.6L338.6 436.1L338.9 436.8L339 433L339.3 413L339.4 414.6L339.7 426.5L340.1 432.5L340.4 434.7L340.8 435.8L341.1 436.7L341.4 435.8L341.8 436.6L342.1 437.2L342.5 437.6L342.9 436.9L342.9 437L343.2 422.4L343.3 419L343.6 427.2L343.9 433L344.2 435.4L344.6 436.2L344.9 436.8L345.3 436L345.6 436.8L346 436.6L346.1 435.9L346.4 424.1L346.5 414.1L346.7 422.8L347.1 429.7L347.4 434.6L347.8 434.9L348.1 435.6L348.4 436L348.8 437.5L349.1 437.2L349.5 436.5L349.9 437.5L350.2 436.8L350.3 436.7L350.6 422.9L350.6 419.9L350.9 427L351.2 432.9L351.6 434.4L351.9 436.1L352.3 435.7L352.6 437.3L353 436.3L353.4 437.3L353.7 436.7L354.1 436.8L354.4 437.4L354.4 436.1L354.8 414L354.8 413L355.1 425.9L355.4 431.8L355.8 434.4L356.1 435.3L356.5 436.5L356.9 436.3L357.2 437.5L357.6 437L357.9 436.9L358.1 436.1L358.2 430.3L358.5 417.3L358.6 422.4L358.9 430L359.3 433.3L359.6 435.8L360 436L360.4 436.6L360.7 437.5L361.1 436L361.3 436.2L361.4 431.5L361.6 421.5L361.8 425.9L362.1 431.8L362.4 434.4L362.8 436L363.1 436.6L363.5 436.8L363.9 436.4L364.2 437.2L364.6 437.3L364.9 436.4L365.2 437.1L365.4 436.1L365.6 427.9L365.8 419.2L365.9 425.4L366.3 430.9" fill="none" stroke="url(#gh2)" stroke-width="0.8"/>
<path d="M144.4 488.8L144.8 488.8L145.1 489L145.4 489L145.8 489L146.2 489.1L146.5 460.4L146.8 475.7L147.2 482.7L147.6 486L147.9 487.6L148.2 488.3L148.6 488.9L148.9 489L149 488.6L149.3 465.3L149.4 461.4L149.7 474.4L150 482.2L150.3 485.7L150.7 487.4L151.1 488.2L151.4 488.8L151.8 488.8L151.9 488.7L152.1 472.9L152.2 462.4L152.4 472.2L152.8 481.4L153.2 485.3L153.5 487.1L153.8 488.2L154.2 488.5L154.6 488.8L154.8 488.8L154.9 477.4L155.1 463.3L155.2 470.8L155.6 480.7L155.9 485.2L156.3 487.1L156.7 488L157 488.6L157.3 488.7L157.7 489L157.9 488.9L158.1 482.5L158.3 465.2L158.4 469.9L158.8 479.9L159.1 484.9L159.4 487L159.8 488L160.2 488.6L160.5 488.5L160.8 488.7L161.2 488.6L161.2 487.4L161.5 466.3L161.6 467L161.9 479L162.2 484.1L162.6 486.9L162.9 487.9L163.3 488.3L163.7 488.9L164 488.9L164.1 488.9L164.3 474.9L164.4 470.4L164.7 478.2L165.1 483.9L165.4 486.6L165.8 488L166.1 488.4L166.4 488.6L166.8 489L167.1 488.7L167.2 487.6L167.5 471.2L167.5 471.9L167.8 481.1L168.2 485.5L168.6 487.3L168.9 488.1L169.2 488.7L169.6 488.7L169.9 489L170.3 488.9L170.4 489L170.7 479.3L170.8 474L171 479.5L171.3 484.8L171.7 486.7L172.1 488L172.4 488.5L172.8 488.8L173.1 488.9L173.4 488.8L173.6 488.6L173.8 481.8L173.9 477.6L174.2 481.6L174.5 485.5L174.8 487.3L175.2 488.3L175.6 488.6L175.9 488.7L176.2 488.7L176.4 488.9L176.6 486.3L176.8 483.2L176.9 484.7L177.3 487.2L177.7 488.3L178 488.4L178.3 488.6L178.7 488.7L179.1 488.9L179.4 488.7L179.4 488.7L179.7 484.6L179.8 485.1L180.1 487.2L180.4 488.1L180.8 488.5L181.2 488.8L181.5 489L181.8 488.8L182.2 488.9L182.3 489L182.6 487.2L182.6 486.7L182.9 487.8L183.2 488.5L183.6 488.5L183.9 488.6L184.3 488.8L184.7 488.7L185 488.9L185.1 488.8L185.3 487.9L185.5 486.8L185.7 487.6L186.1 488.1L186.4 488.8L186.8 488.7L187.1 489L187.4 488.9L187.8 488.7L188.2 489.1L188.2 489L188.5 487.7L188.5 487.6L188.8 488.4L189.2 488.4L189.6 488.6L189.9 488.9L190.2 488.9L190.6 488.9L190.9 489.1L191 489.1L191.3 487.9L191.4 487.9L191.7 488.3L192 488.4L192.3 488.6L192.7 488.9L193.1 489L193.4 489L193.8 488.7L194.1 488.7L194.4 489.1L194.4 488.6L194.7 488.1L194.8 488.2L195.2 488.7L195.5 488.6L195.8 488.6L196.2 489L196.6 488.8L196.9 489L197.2 488.7L197.4 489.1L197.6 488.7L197.8 488L197.9 488.4L198.3 488.5L198.7 488.6L199 488.8L199.3 489.1L199.7 488.8L200.1 488.7L200.4 488.9L200.6 489.1L200.8 488.7L200.9 488.4L201.1 488.5L201.4 488.9L201.8 489L202.2 489L202.5 488.8L202.8 488.8L203.2 489L203.6 488.8L203.9 488.7L204.2 488.9L204.6 489L204.9 489L205.3 488.7L205.7 488.8L206 489L206.3 488.8L206.7 489.1L207.1 488.7L207.4 488.9L207.8 488.9L208.1 488.9L208.4 489.1L208.8 488.9L209.2 489L209.5 489L209.8 488.8L210.2 489.1L210.6 489L210.9 488.8L211.2 489L211.6 489L211.9 488.9L212.3 489.1L212.7 488.7L213 488.7L213.3 489.1L213.7 488.9L214.1 488.8L214.4 489L214.8 488.7L215.1 488.9L215.4 489.1L215.8 488.9L216.2 488.8L216.5 489L216.8 488.8L217.2 488.8L217.6 488.9L217.9 488.9L218.2 488.8L218.6 488.8L218.9 488.9L219.3 488.7L219.7 489.1L220 488.8L220.3 489.1L220.7 488.9L221.1 489L221.4 488.9L221.8 488.8L222.1 488.8L222.4 488.8L222.8 489L223.2 488.9L223.5 489L223.8 488.9L224.2 488.9L224.6 489.1L224.9 488.9L225.2 488.8L225.6 488.9L225.9 488.7L226.3 489.1L226.7 489.1L227 489.1L227.3 488.9L227.7 488.9L228.1 488.9L228.4 489L228.8 488.8L229.1 489.1L229.4 488.7L229.8 488.9L230.2 488.9L230.5 488.8L230.8 489L231.2 489.1L231.6 489L231.9 489.1L232.2 489L232.6 488.9L232.9 488.9L233.3 489L233.7 488.9L234 489.1L234.3 488.8L234.7 489.1L235.1 489L235.4 489.1L235.8 488.8L236.1 488.7L236.4 488.7L236.8 489L237.2 488.7L237.5 488.6L237.8 488.4L238.2 487.6L238.6 487.6L238.9 487L239.2 486.5L239.2 485.3L239.5 483L239.6 483.5L239.9 484.7L240.3 485.8L240.7 486.3L241 486.5L241.3 487.4L241.7 487.7L241.7 487.6L242 487L242.1 487.3L242.4 488.2L242.8 488.2L243.1 488.5L243.4 488.7L243.8 489L244.2 489L244.5 487.2L244.8 488.2L245.2 488.6L245.6 488.5L245.9 488.9L246.2 489L246.6 488.7L246.9 488.9L247.3 489.1L247.7 489L248 488.8L248.3 489.1L248.7 489L249.1 488.8L249.4 488.7L249.8 488.9L250.1 488.7L250.4 488.9L250.8 489L251.2 488.8L251.5 489L251.8 488.8L252.2 489L252.6 489L252.9 489.1L253.2 488.9L253.6 489.1L253.9 489L254.3 489L254.7 488.9L255 489L255.3 488.9L255.7 488.7L256.1 488.8L256.4 488.7L256.8 489L257.1 489L257.4 489.1L257.8 488.8L258.1 489L258.5 489L258.9 489.1L259.2 489.1L259.6 489L259.9 489L260.2 488.7L260.6 488.8L260.9 489L261.3 489L261.6 489.1L262 488.7L262.4 489L262.7 488.8L263.1 488.8L263.4 488.7L263.8 489.1L264.1 489L264.4 489L264.8 489.1L265.1 488.7L265.5 489L265.9 488.8L266.2 488.9L266.6 489.1L266.9 489L267.2 489L267.6 489.1L267.9 489.1L268.3 488.9L268.6 489.1L269 489L269.4 488.9L269.7 488.9L270.1 489.1L270.4 488.8L270.8 489L271.1 488.8L271.4 488.8L271.8 489.1L272.1 489L272.5 489L272.9 488.8L273.2 489L273.6 489L273.9 488.7L274.2 489L274.6 489L274.9 489L275.3 489L275.6 489.1L276 489.1L276.4 488.9L276.7 488.9L277.1 488.8L277.4 488.7L277.8 489L278.1 488.8L278.4 488.7L278.8 489L279.1 488.8L279.5 488.8L279.9 488.7L280.2 488.7L280.6 489L280.9 488.8L281.2 489.1L281.6 488.9L281.9 488.9L282.3 489.1L282.6 488.9L283 488.9L283.4 488.7L283.7 488.7L284.1 488.7L284.4 488.5L284.8 488.3L285.1 488.2L285.4 487.8L285.8 487.8L286.1 487.7L286.5 487.5L286.9 487.3L287.2 487.4L287.6 487.2L287.9 487.1L288.2 487.3L288.6 487.4L288.9 487.8L289.3 487.8L289.6 488L290 488.3L290.4 488.3L290.7 488.7L291.1 488.6L291.4 488.6L291.8 488.8L292.1 488.9L292.4 489L292.8 489.1L293.1 489L293.5 488.7L293.9 488.9L294.2 489L294.6 488.8L294.9 489.1L295.2 488.9L295.6 488.9L295.9 488.7L296.3 489L296.6 488.9L297 488.7L297.4 488.8L297.7 488.9L298.1 488.9L298.4 489L298.8 489L299.1 489L299.4 488.8L299.8 488.7L300.1 489L300.5 488.7L300.9 489.1L301.2 489.1L301.6 488.9L301.9 489L302.2 489L302.6 488.7L302.9 489.1L303.3 489.1L303.6 489L304 488.8L304.4 489L304.7 489.1L305.1 488.9L305.4 489L305.8 489L306.1 488.9L306.4 488.8L306.8 488.9L307.1 488.9L307.5 488.9L307.9 488.8L308.2 488.7L308.6 489L308.9 489L309.2 488.7L309.6 489L309.9 488.8L310.3 488.8L310.6 488.8L311 488.7L311.4 488.8L311.7 489.1L312.1 488.9L312.4 488.9L312.8 488.9L313.1 489L313.4 489L313.8 488.8L314.1 488.9L314.5 489L314.9 489L315.2 489L315.6 489.1L315.9 488.9L316.2 489.1L316.6 489.1L316.9 489.1L317.3 489.1L317.6 488.8L318 489.1L318.4 488.9L318.7 488.8L319.1 488.9L319.4 489.1L319.8 488.7L320.1 488.7L320.4 489.1L320.8 489L321.1 488.9L321.5 488.8L321.9 489L322.2 488.8L322.6 489L322.9 488.8L323.2 489L323.6 489L323.9 488.8L324.3 488.8L324.6 488.8L325 488.9L325.4 489L325.7 488.8L326.1 488.9L326.4 488.8L326.8 488.8L327.1 489.1L327.4 489L327.8 488.8L328.1 489L328.5 489.1L328.9 489.1L329.2 488.9L329.6 488.7L329.9 488.7L330.2 489.1L330.6 488.8L330.9 489L331.3 488.9L331.6 489L332 488.7L332.4 488.7L332.7 489.1L333.1 488.8L333.4 489.1L333.8 489.1L334.1 489L334.4 488.8L334.8 488.7L335.1 489.1L335.5 489L335.9 489.1L336.2 488.9L336.6 488.9L336.9 489L337.2 489L337.6 488.8L337.9 488.8L338.3 489L338.6 489L339 488.9L339.4 488.8L339.7 488.7L340.1 489L340.4 488.8L340.8 488.9L341.1 488.8L341.4 489.1L341.8 489.1L342.1 489.1L342.5 488.7L342.9 489L343.2 488.9L343.6 489.1L343.9 489L344.2 489.1L344.6 488.9L344.9 489.1L345.3 488.9L345.6 489L346 489L346.4 488.9L346.7 489L347.1 489L347.4 489.1L347.8 489.1L348.1 488.7L348.4 489L348.8 489.1L349.1 489.1L349.5 488.9L349.9 488.7L350.2 489.1L350.6 488.7L350.9 488.9L351.2 489L351.6 488.8L351.9 489L352.3 489.1L352.6 488.9L353 488.8L353.4 488.9L353.7 489L354.1 488.7L354.4 488.7L354.8 488.7L355.1 488.9L355.4 488.8L355.8 488.8L356.1 489.1L356.5 489.1L356.9 489.1L357.2 489.1L357.6 489.1L357.9 489L358.2 488.8L358.6 489L358.9 488.9L359.3 489.1L359.6 489L360 488.7L360.4 489.1L360.7 488.9L361.1 488.8L361.4 488.8L361.8 488.8L362.1 489L362.4 488.8L362.8 488.8L363.1 488.8L363.5 488.7L363.9 489.1L364.2 488.7L364.6 489L364.9 488.8L365.2 489L365.6 488.7L365.9 489.1L366.3 488.9" fill="none" stroke="#2a6ff0" stroke-width="0.8"/>
<text x="-0.4" y="522.6" font-size="13.5" fill="#000" font-weight="bold">e</text>
<text x="19.6" y="524.1" font-size="9.5" fill="#222" textLength="91.1" lengthAdjust="spacingAndGlyphs" stroke="#222" stroke-width="0.22">Short-distance travel</text>
<rect x="17.2" y="526.1" width="92.7" height="90.5" fill="#f5b22a" stroke="none" stroke-width="1"/>
<rect x="19.7" y="528.6" width="87.7" height="85.5" fill="#000" stroke="none" stroke-width="1"/>
<clipPath id="cpe"><rect x="19.7" y="528.6" width="87.7" height="85.5"/></clipPath>
<g clip-path="url(#cpe)">
<rect x="54.4" y="549.3" width="4.55" height="4.45" fill="rgb(10,10,10)" shape-rendering="crispEdges"/>
<rect x="54.4" y="553.7" width="4.55" height="4.45" fill="rgb(12,12,12)" shape-rendering="crispEdges"/>
<rect x="54.4" y="558.1" width="4.55" height="4.45" fill="rgb(13,13,13)" shape-rendering="crispEdges"/>
<rect x="54.4" y="562.5" width="4.55" height="4.45" fill="rgb(10,10,10)" shape-rendering="crispEdges"/>
<rect x="58.9" y="540.5" width="4.55" height="4.45" fill="rgb(11,11,11)" shape-rendering="crispEdges"/>
<rect x="58.9" y="544.9" width="4.55" height="4.45" fill="rgb(18,18,18)" shape-rendering="crispEdges"/>
<rect x="58.9" y="549.3" width="4.55" height="4.45" fill="rgb(27,27,27)" shape-rendering="crispEdges"/>
<rect x="58.9" y="553.7" width="4.55" height="4.45" fill="rgb(35,35,35)" shape-rendering="crispEdges"/>
<rect x="58.9" y="558.1" width="4.55" height="4.45" fill="rgb(37,37,37)" shape-rendering="crispEdges"/>
<rect x="58.9" y="562.5" width="4.55" height="4.45" fill="rgb(30,30,30)" shape-rendering="crispEdges"/>
<rect x="58.9" y="566.9" width="4.55" height="4.45" fill="rgb(20,20,20)" shape-rendering="crispEdges"/>
<rect x="58.9" y="571.3" width="4.55" height="4.45" fill="rgb(11,11,11)" shape-rendering="crispEdges"/>
<rect x="63.4" y="531.7" width="4.55" height="4.45" fill="rgb(11,11,11)" shape-rendering="crispEdges"/>
<rect x="63.4" y="536.1" width="4.55" height="4.45" fill="rgb(20,20,20)" shape-rendering="crispEdges"/>
<rect x="63.4" y="540.5" width="4.55" height="4.45" fill="rgb(30,30,30)" shape-rendering="crispEdges"/>
<rect x="63.4" y="544.9" width="4.55" height="4.45" fill="rgb(43,43,43)" shape-rendering="crispEdges"/>
<rect x="63.4" y="549.3" width="4.55" height="4.45" fill="rgb(65,65,65)" shape-rendering="crispEdges"/>
<rect x="63.4" y="553.7" width="4.55" height="4.45" fill="rgb(98,98,98)" shape-rendering="crispEdges"/>
<rect x="63.4" y="558.1" width="4.55" height="4.45" fill="rgb(112,112,112)" shape-rendering="crispEdges"/>
<rect x="63.4" y="562.5" width="4.55" height="4.45" fill="rgb(83,83,83)" shape-rendering="crispEdges"/>
<rect x="63.4" y="566.9" width="4.55" height="4.45" fill="rgb(46,46,46)" shape-rendering="crispEdges"/>
<rect x="63.4" y="571.3" width="4.55" height="4.45" fill="rgb(22,22,22)" shape-rendering="crispEdges"/>
<rect x="63.4" y="575.7" width="4.55" height="4.45" fill="rgb(10,10,10)" shape-rendering="crispEdges"/>
<rect x="67.9" y="527.3" width="4.55" height="4.45" fill="rgb(11,11,11)" shape-rendering="crispEdges"/>
<rect x="67.9" y="531.7" width="4.55" height="4.45" fill="rgb(26,26,26)" shape-rendering="crispEdges"/>
<rect x="67.9" y="536.1" width="4.55" height="4.45" fill="rgb(44,44,44)" shape-rendering="crispEdges"/>
<rect x="67.9" y="540.5" width="4.55" height="4.45" fill="rgb(60,60,60)" shape-rendering="crispEdges"/>
<rect x="67.9" y="544.9" width="4.55" height="4.45" fill="rgb(78,78,78)" shape-rendering="crispEdges"/>
<rect x="67.9" y="549.3" width="4.55" height="4.45" fill="rgb(133,133,133)" shape-rendering="crispEdges"/>
<rect x="67.9" y="553.7" width="4.55" height="4.45" fill="rgb(248,248,248)" shape-rendering="crispEdges"/>
<rect x="67.9" y="558.1" width="4.55" height="4.45" fill="rgb(255,255,255)" shape-rendering="crispEdges"/>
<rect x="67.9" y="562.5" width="4.55" height="4.45" fill="rgb(210,210,210)" shape-rendering="crispEdges"/>
<rect x="67.9" y="566.9" width="4.55" height="4.45" fill="rgb(92,92,92)" shape-rendering="crispEdges"/>
<rect x="67.9" y="571.3" width="4.55" height="4.45" fill="rgb(37,37,37)" shape-rendering="crispEdges"/>
<rect x="67.9" y="575.7" width="4.55" height="4.45" fill="rgb(15,15,15)" shape-rendering="crispEdges"/>
<rect x="72.4" y="527.3" width="4.55" height="4.45" fill="rgb(15,15,15)" shape-rendering="crispEdges"/>
<rect x="72.4" y="531.7" width="4.55" height="4.45" fill="rgb(35,35,35)" shape-rendering="crispEdges"/>
<rect x="72.4" y="536.1" width="4.55" height="4.45" fill="rgb(59,59,59)" shape-rendering="crispEdges"/>
<rect x="72.4" y="540.5" width="4.55" height="4.45" fill="rgb(77,77,77)" shape-rendering="crispEdges"/>
<rect x="72.4" y="544.9" width="4.55" height="4.45" fill="rgb(99,99,99)" shape-rendering="crispEdges"/>
<rect x="72.4" y="549.3" width="4.55" height="4.45" fill="rgb(180,180,180)" shape-rendering="crispEdges"/>
<rect x="72.4" y="553.7" width="4.55" height="4.45" fill="rgb(255,255,255)" shape-rendering="crispEdges"/>
<rect x="72.4" y="558.1" width="4.55" height="4.45" fill="rgb(255,255,255)" shape-rendering="crispEdges"/>
<rect x="72.4" y="562.5" width="4.55" height="4.45" fill="rgb(255,255,255)" shape-rendering="crispEdges"/>
<rect x="72.4" y="566.9" width="4.55" height="4.45" fill="rgb(123,123,123)" shape-rendering="crispEdges"/>
<rect x="72.4" y="571.3" width="4.55" height="4.45" fill="rgb(45,45,45)" shape-rendering="crispEdges"/>
<rect x="72.4" y="575.7" width="4.55" height="4.45" fill="rgb(18,18,18)" shape-rendering="crispEdges"/>
<rect x="76.9" y="527.3" width="4.55" height="4.45" fill="rgb(11,11,11)" shape-rendering="crispEdges"/>
<rect x="76.9" y="531.7" width="4.55" height="4.45" fill="rgb(27,27,27)" shape-rendering="crispEdges"/>
<rect x="76.9" y="536.1" width="4.55" height="4.45" fill="rgb(45,45,45)" shape-rendering="crispEdges"/>
<rect x="76.9" y="540.5" width="4.55" height="4.45" fill="rgb(61,61,61)" shape-rendering="crispEdges"/>
<rect x="76.9" y="544.9" width="4.55" height="4.45" fill="rgb(80,80,80)" shape-rendering="crispEdges"/>
<rect x="76.9" y="549.3" width="4.55" height="4.45" fill="rgb(136,136,136)" shape-rendering="crispEdges"/>
<rect x="76.9" y="553.7" width="4.55" height="4.45" fill="rgb(251,251,251)" shape-rendering="crispEdges"/>
<rect x="76.9" y="558.1" width="4.55" height="4.45" fill="rgb(255,255,255)" shape-rendering="crispEdges"/>
<rect x="76.9" y="562.5" width="4.55" height="4.45" fill="rgb(212,212,212)" shape-rendering="crispEdges"/>
<rect x="76.9" y="566.9" width="4.55" height="4.45" fill="rgb(93,93,93)" shape-rendering="crispEdges"/>
<rect x="76.9" y="571.3" width="4.55" height="4.45" fill="rgb(38,38,38)" shape-rendering="crispEdges"/>
<rect x="76.9" y="575.7" width="4.55" height="4.45" fill="rgb(16,16,16)" shape-rendering="crispEdges"/>
<rect x="81.4" y="531.7" width="4.55" height="4.45" fill="rgb(12,12,12)" shape-rendering="crispEdges"/>
<rect x="81.4" y="536.1" width="4.55" height="4.45" fill="rgb(21,21,21)" shape-rendering="crispEdges"/>
<rect x="81.4" y="540.5" width="4.55" height="4.45" fill="rgb(32,32,32)" shape-rendering="crispEdges"/>
<rect x="81.4" y="544.9" width="4.55" height="4.45" fill="rgb(46,46,46)" shape-rendering="crispEdges"/>
<rect x="81.4" y="549.3" width="4.55" height="4.45" fill="rgb(68,68,68)" shape-rendering="crispEdges"/>
<rect x="81.4" y="553.7" width="4.55" height="4.45" fill="rgb(102,102,102)" shape-rendering="crispEdges"/>
<rect x="81.4" y="558.1" width="4.55" height="4.45" fill="rgb(116,116,116)" shape-rendering="crispEdges"/>
<rect x="81.4" y="562.5" width="4.55" height="4.45" fill="rgb(87,87,87)" shape-rendering="crispEdges"/>
<rect x="81.4" y="566.9" width="4.55" height="4.45" fill="rgb(48,48,48)" shape-rendering="crispEdges"/>
<rect x="81.4" y="571.3" width="4.55" height="4.45" fill="rgb(24,24,24)" shape-rendering="crispEdges"/>
<rect x="81.4" y="575.7" width="4.55" height="4.45" fill="rgb(11,11,11)" shape-rendering="crispEdges"/>
<rect x="85.9" y="536.1" width="4.55" height="4.45" fill="rgb(8,8,8)" shape-rendering="crispEdges"/>
<rect x="85.9" y="540.5" width="4.55" height="4.45" fill="rgb(13,13,13)" shape-rendering="crispEdges"/>
<rect x="85.9" y="544.9" width="4.55" height="4.45" fill="rgb(21,21,21)" shape-rendering="crispEdges"/>
<rect x="85.9" y="549.3" width="4.55" height="4.45" fill="rgb(30,30,30)" shape-rendering="crispEdges"/>
<rect x="85.9" y="553.7" width="4.55" height="4.45" fill="rgb(39,39,39)" shape-rendering="crispEdges"/>
<rect x="85.9" y="558.1" width="4.55" height="4.45" fill="rgb(40,40,40)" shape-rendering="crispEdges"/>
<rect x="85.9" y="562.5" width="4.55" height="4.45" fill="rgb(33,33,33)" shape-rendering="crispEdges"/>
<rect x="85.9" y="566.9" width="4.55" height="4.45" fill="rgb(22,22,22)" shape-rendering="crispEdges"/>
<rect x="85.9" y="571.3" width="4.55" height="4.45" fill="rgb(12,12,12)" shape-rendering="crispEdges"/>
<rect x="90.4" y="544.9" width="4.55" height="4.45" fill="rgb(8,8,8)" shape-rendering="crispEdges"/>
<rect x="90.4" y="549.3" width="4.55" height="4.45" fill="rgb(12,12,12)" shape-rendering="crispEdges"/>
<rect x="90.4" y="553.7" width="4.55" height="4.45" fill="rgb(15,15,15)" shape-rendering="crispEdges"/>
<rect x="90.4" y="558.1" width="4.55" height="4.45" fill="rgb(15,15,15)" shape-rendering="crispEdges"/>
<rect x="90.4" y="562.5" width="4.55" height="4.45" fill="rgb(12,12,12)" shape-rendering="crispEdges"/>
<rect x="90.4" y="566.9" width="4.55" height="4.45" fill="rgb(9,9,9)" shape-rendering="crispEdges"/>
</g>
<circle cx="74.1" cy="558.5" r="11.2" fill="none" stroke="#3a72e0" stroke-width="1.1"/>
<path d="M74.6 559.5L72 563L69 567.3L64 571.5L58.8 576L55.5 580L53.7 584.8L54.5 589.5L56.6 593.5" fill="none" stroke="url(#gl3)" stroke-width="0.9" stroke-linejoin="round"/>
<text x="71.9" y="541" font-size="9.3" fill="#eee" textLength="13.9" lengthAdjust="spacingAndGlyphs" stroke="#eee" stroke-width="0.22">137</text>
<rect x="21.1" y="609.2" width="59.2" height="2.7" fill="#fff" stroke="none" stroke-width="1"/>
<text x="145.6" y="531.7" font-size="9.3" fill="#222" textLength="91.3" lengthAdjust="spacingAndGlyphs" stroke="#222" stroke-width="0.22">Moving ROI (tracked)</text>
<text x="145.8" y="581" font-size="9.3" fill="#222" textLength="40.6" lengthAdjust="spacingAndGlyphs" stroke="#222" stroke-width="0.22">Fixed ROI</text>
<line x1="143.8" y1="534.5" x2="143.8" y2="563.3" stroke="#c4c4c4" stroke-width="1.5"/>
<line x1="143.1" y1="563.55" x2="366.8" y2="563.55" stroke="#777" stroke-width="0.6"/>
<line x1="149.37" y1="563.55" x2="149.37" y2="566.3" stroke="#555" stroke-width="0.6"/>
<line x1="154.94" y1="563.55" x2="154.94" y2="566.3" stroke="#555" stroke-width="0.6"/>
<line x1="160.5" y1="563.55" x2="160.5" y2="566.3" stroke="#555" stroke-width="0.6"/>
<line x1="166.07" y1="563.55" x2="166.07" y2="566.3" stroke="#555" stroke-width="0.6"/>
<line x1="171.64" y1="563.55" x2="171.64" y2="566.3" stroke="#555" stroke-width="0.6"/>
<line x1="177.21" y1="563.55" x2="177.21" y2="566.3" stroke="#555" stroke-width="0.6"/>
<line x1="182.77" y1="563.55" x2="182.77" y2="566.3" stroke="#555" stroke-width="0.6"/>
<line x1="188.34" y1="563.55" x2="188.34" y2="566.3" stroke="#555" stroke-width="0.6"/>
<line x1="193.91" y1="563.55" x2="193.91" y2="566.3" stroke="#555" stroke-width="0.6"/>
<line x1="199.48" y1="563.55" x2="199.48" y2="568.8" stroke="#555" stroke-width="0.6"/>
<line x1="205.04" y1="563.55" x2="205.04" y2="566.3" stroke="#555" stroke-width="0.6"/>
<line x1="210.61" y1="563.55" x2="210.61" y2="566.3" stroke="#555" stroke-width="0.6"/>
<line x1="216.18" y1="563.55" x2="216.18" y2="566.3" stroke="#555" stroke-width="0.6"/>
<line x1="221.75" y1="563.55" x2="221.75" y2="566.3" stroke="#555" stroke-width="0.6"/>
<line x1="227.31" y1="563.55" x2="227.31" y2="566.3" stroke="#555" stroke-width="0.6"/>
<line x1="232.88" y1="563.55" x2="232.88" y2="566.3" stroke="#555" stroke-width="0.6"/>
<line x1="238.45" y1="563.55" x2="238.45" y2="566.3" stroke="#555" stroke-width="0.6"/>
<line x1="244.02" y1="563.55" x2="244.02" y2="566.3" stroke="#555" stroke-width="0.6"/>
<line x1="249.58" y1="563.55" x2="249.58" y2="566.3" stroke="#555" stroke-width="0.6"/>
<line x1="255.15" y1="563.55" x2="255.15" y2="568.8" stroke="#555" stroke-width="0.6"/>
<line x1="260.72" y1="563.55" x2="260.72" y2="566.3" stroke="#555" stroke-width="0.6"/>
<line x1="266.28" y1="563.55" x2="266.28" y2="566.3" stroke="#555" stroke-width="0.6"/>
<line x1="271.85" y1="563.55" x2="271.85" y2="566.3" stroke="#555" stroke-width="0.6"/>
<line x1="277.42" y1="563.55" x2="277.42" y2="566.3" stroke="#555" stroke-width="0.6"/>
<line x1="282.99" y1="563.55" x2="282.99" y2="566.3" stroke="#555" stroke-width="0.6"/>
<line x1="288.56" y1="563.55" x2="288.56" y2="566.3" stroke="#555" stroke-width="0.6"/>
<line x1="294.12" y1="563.55" x2="294.12" y2="566.3" stroke="#555" stroke-width="0.6"/>
<line x1="299.69" y1="563.55" x2="299.69" y2="566.3" stroke="#555" stroke-width="0.6"/>
<line x1="305.26" y1="563.55" x2="305.26" y2="566.3" stroke="#555" stroke-width="0.6"/>
<line x1="310.83" y1="563.55" x2="310.83" y2="568.8" stroke="#555" stroke-width="0.6"/>
<line x1="316.39" y1="563.55" x2="316.39" y2="566.3" stroke="#555" stroke-width="0.6"/>
<line x1="321.96" y1="563.55" x2="321.96" y2="566.3" stroke="#555" stroke-width="0.6"/>
<line x1="327.53" y1="563.55" x2="327.53" y2="566.3" stroke="#555" stroke-width="0.6"/>
<line x1="333.1" y1="563.55" x2="333.1" y2="566.3" stroke="#555" stroke-width="0.6"/>
<line x1="338.66" y1="563.55" x2="338.66" y2="566.3" stroke="#555" stroke-width="0.6"/>
<line x1="344.23" y1="563.55" x2="344.23" y2="566.3" stroke="#555" stroke-width="0.6"/>
<line x1="349.8" y1="563.55" x2="349.8" y2="566.3" stroke="#555" stroke-width="0.6"/>
<line x1="355.37" y1="563.55" x2="355.37" y2="566.3" stroke="#555" stroke-width="0.6"/>
<line x1="360.93" y1="563.55" x2="360.93" y2="566.3" stroke="#555" stroke-width="0.6"/>
<line x1="366.5" y1="563.55" x2="366.5" y2="568.8" stroke="#555" stroke-width="0.6"/>
<text x="138.6" y="537.2" font-size="8.2" fill="#333" text-anchor="end">1</text>
<text x="139.2" y="566.4" font-size="8.2" fill="#333" text-anchor="end">0</text>
<line x1="143.8" y1="584.6" x2="143.8" y2="613" stroke="#c4c4c4" stroke-width="1.5"/>
<line x1="143.1" y1="613.25" x2="366.8" y2="613.25" stroke="#777" stroke-width="0.6"/>
<line x1="149.37" y1="613.25" x2="149.37" y2="616" stroke="#555" stroke-width="0.6"/>
<line x1="154.94" y1="613.25" x2="154.94" y2="616" stroke="#555" stroke-width="0.6"/>
<line x1="160.5" y1="613.25" x2="160.5" y2="616" stroke="#555" stroke-width="0.6"/>
<line x1="166.07" y1="613.25" x2="166.07" y2="616" stroke="#555" stroke-width="0.6"/>
<line x1="171.64" y1="613.25" x2="171.64" y2="616" stroke="#555" stroke-width="0.6"/>
<line x1="177.21" y1="613.25" x2="177.21" y2="616" stroke="#555" stroke-width="0.6"/>
<line x1="182.77" y1="613.25" x2="182.77" y2="616" stroke="#555" stroke-width="0.6"/>
<line x1="188.34" y1="613.25" x2="188.34" y2="616" stroke="#555" stroke-width="0.6"/>
<line x1="193.91" y1="613.25" x2="193.91" y2="616" stroke="#555" stroke-width="0.6"/>
<line x1="199.48" y1="613.25" x2="199.48" y2="618.5" stroke="#555" stroke-width="0.6"/>
<line x1="205.04" y1="613.25" x2="205.04" y2="616" stroke="#555" stroke-width="0.6"/>
<line x1="210.61" y1="613.25" x2="210.61" y2="616" stroke="#555" stroke-width="0.6"/>
<line x1="216.18" y1="613.25" x2="216.18" y2="616" stroke="#555" stroke-width="0.6"/>
<line x1="221.75" y1="613.25" x2="221.75" y2="616" stroke="#555" stroke-width="0.6"/>
<line x1="227.31" y1="613.25" x2="227.31" y2="616" stroke="#555" stroke-width="0.6"/>
<line x1="232.88" y1="613.25" x2="232.88" y2="616" stroke="#555" stroke-width="0.6"/>
<line x1="238.45" y1="613.25" x2="238.45" y2="616" stroke="#555" stroke-width="0.6"/>
<line x1="244.02" y1="613.25" x2="244.02" y2="616" stroke="#555" stroke-width="0.6"/>
<line x1="249.58" y1="613.25" x2="249.58" y2="616" stroke="#555" stroke-width="0.6"/>
<line x1="255.15" y1="613.25" x2="255.15" y2="618.5" stroke="#555" stroke-width="0.6"/>
<line x1="260.72" y1="613.25" x2="260.72" y2="616" stroke="#555" stroke-width="0.6"/>
<line x1="266.28" y1="613.25" x2="266.28" y2="616" stroke="#555" stroke-width="0.6"/>
<line x1="271.85" y1="613.25" x2="271.85" y2="616" stroke="#555" stroke-width="0.6"/>
<line x1="277.42" y1="613.25" x2="277.42" y2="616" stroke="#555" stroke-width="0.6"/>
<line x1="282.99" y1="613.25" x2="282.99" y2="616" stroke="#555" stroke-width="0.6"/>
<line x1="288.56" y1="613.25" x2="288.56" y2="616" stroke="#555" stroke-width="0.6"/>
<line x1="294.12" y1="613.25" x2="294.12" y2="616" stroke="#555" stroke-width="0.6"/>
<line x1="299.69" y1="613.25" x2="299.69" y2="616" stroke="#555" stroke-width="0.6"/>
<line x1="305.26" y1="613.25" x2="305.26" y2="616" stroke="#555" stroke-width="0.6"/>
<line x1="310.83" y1="613.25" x2="310.83" y2="618.5" stroke="#555" stroke-width="0.6"/>
<line x1="316.39" y1="613.25" x2="316.39" y2="616" stroke="#555" stroke-width="0.6"/>
<line x1="321.96" y1="613.25" x2="321.96" y2="616" stroke="#555" stroke-width="0.6"/>
<line x1="327.53" y1="613.25" x2="327.53" y2="616" stroke="#555" stroke-width="0.6"/>
<line x1="333.1" y1="613.25" x2="333.1" y2="616" stroke="#555" stroke-width="0.6"/>
<line x1="338.66" y1="613.25" x2="338.66" y2="616" stroke="#555" stroke-width="0.6"/>
<line x1="344.23" y1="613.25" x2="344.23" y2="616" stroke="#555" stroke-width="0.6"/>
<line x1="349.8" y1="613.25" x2="349.8" y2="616" stroke="#555" stroke-width="0.6"/>
<line x1="355.37" y1="613.25" x2="355.37" y2="616" stroke="#555" stroke-width="0.6"/>
<line x1="360.93" y1="613.25" x2="360.93" y2="616" stroke="#555" stroke-width="0.6"/>
<line x1="366.5" y1="613.25" x2="366.5" y2="618.5" stroke="#555" stroke-width="0.6"/>
<text x="138.6" y="587.3" font-size="8.2" fill="#333" text-anchor="end">1</text>
<text x="139.2" y="616.1" font-size="8.2" fill="#333" text-anchor="end">0</text>
<text x="143.8" y="627.5" font-size="8.2" fill="#333" text-anchor="middle">433</text>
<text x="199.48" y="627.5" font-size="8.2" fill="#333" text-anchor="middle">866</text>
<text x="255.15" y="627.5" font-size="8.2" fill="#333" text-anchor="middle">1,732</text>
<text x="310.82" y="627.5" font-size="8.2" fill="#333" text-anchor="middle">2,598</text>
<text x="366.5" y="627.5" font-size="8.2" fill="#333" text-anchor="middle">3,464</text>
<text x="255.2" y="640.5" font-size="9.6" fill="#222" text-anchor="middle" textLength="34.5" lengthAdjust="spacingAndGlyphs" stroke="#222" stroke-width="0.22">Time (s)</text>
<path d="M144.4 560.5L144.7 559.5L144.8 557.2L145 541.7L145.1 545.1L145.4 551.8L145.8 556.7L146.2 559L146.5 559L146.8 559.2L147 560.8L147.2 553.2L147.4 544L147.6 549.2L147.9 555.2L148.2 558.4L148.6 559.8L148.9 559.5L149.3 559.2L149.7 559.4L149.7 560.3L150 546.6L150.1 542.4L150.3 549.2L150.7 554.5L151.1 557.5L151.4 559.6L151.8 559.7L152.1 560.1L152.4 560L152.8 560.8L153.2 559.6L153.5 559.7L153.8 561L154.2 560.8L154.6 559.8L154.8 560.8L154.9 552.8L155.1 543.2L155.2 547L155.6 553.6L155.9 557.7L156.3 559.2L156.7 560.1L157 559.7L157.3 559.9L157.7 561.1L158.1 559.8L158.4 560.6L158.8 560.9L159.1 560.5L159.1 559.4L159.4 541.9L159.5 540.5L159.8 549.3L160.2 554.5L160.5 557.4L160.8 559.3L161.2 559.6L161.6 559.4L161.9 559.8L162.2 560.3L162.6 560.7L162.9 560.6L163.3 560L163.7 560.3L163.8 561.1L164 549.6L164.2 538.6L164.3 544.9L164.7 552.3L165.1 556L165.4 558.5L165.8 559L166.1 560.2L166.4 560.9L166.8 560.7L167.2 560.7L167.5 559.7L167.8 560.1L168.2 560.3L168.2 559.7L168.5 538.7L168.6 538.2L168.9 549.1L169.2 555.1L169.6 558.1L169.9 559.2L170.3 560.1L170.7 559.8L171 560.9L171.3 561.1L171.6 560.7L171.7 551L171.9 538.8L172.1 544.4L172.4 551.9L172.8 556.8L173.1 559.3L173.4 559.5L173.8 560L174.2 560.7L174.5 560.1L174.8 560.7L174.9 560.8L175.2 540.9L175.3 535.9L175.6 548L175.9 554.1L176.2 557.5L176.6 559.3L176.9 559.7L177.3 560.5L177.7 559.5L178 560.4L178.3 559.8L178.3 555.3L178.6 536.8L178.7 540.1L179.1 549.8L179.4 555.9L179.8 558L179.9 557.9L180.1 548.7L180.3 537.7L180.4 543.2L180.8 551.5L181.2 556.5L181.5 558.1L181.8 559.1L182.2 559.1L182.6 560.1L182.9 560.1L183.2 560.7L183.3 560L183.6 545L183.7 542.1L183.9 550.4L184.3 555.7L184.7 558.5L185 559.6L185.3 559.7L185.7 560.5L186.1 561.1L186.4 559.9L186.7 560.8L186.8 553.6L187 536.5L187.1 540.6L187.4 549.9L187.8 554.8L188.2 558.3L188.5 559.9L188.8 559.6L189.2 559.5L189.3 559.9L189.6 546.2L189.7 536.8L189.9 544.3L190.2 552.9L190.6 556.7L190.9 558.7L191 558.8L191.3 542L191.4 536.7L191.7 547.5L192 554.2L192.3 557.6L192.7 558L193.1 559.6L193.4 560.8L193.8 559.6L194.1 559.8L194.4 559.9L194.8 560.7L195.2 560L195.5 560.8L195.8 561L196.2 559.8L196.6 559.8L196.9 560.9L197.2 559.8L197.6 561.2L197.9 560.8L198.3 561.3L198.4 561L198.7 546.7L198.8 539.1L199 547.5L199.3 554.4L199.7 557.7L200.1 559.1L200.4 559L200.8 559.8L201.1 560.9L201.4 560.1L201.8 560.4L202.2 560.5L202.5 560.4L202.8 560.2L203.2 559.9L203.4 560.4L203.6 559.3L203.8 557.3L203.9 557.6L204.2 559.3L204.6 559.9L204.9 560.1L205.3 559.9L205.7 560.7L206 559.6L206.3 560.4L206.7 559.8L206.8 560.1L207.1 556.9L207.2 556.1L207.4 558.1L207.8 559.4L208.1 559.6L208.4 559.7L208.8 559.7L209.2 561L209.5 561.1L209.8 561.1L210.2 561L210.2 559.3L210.5 541.5L210.6 542.2L210.9 551.8L211.2 555.5L211.6 557.9L211.9 558.5L212.3 559.1L212.7 559.7L212.8 559.5L213 554.4L213.2 545.2L213.3 547.8L213.7 554.6L214.1 558L214.4 558.5L214.8 559.8L215.1 560L215.2 560.4L215.4 543.9L215.6 537.4L215.8 545.7L216.2 552.4L216.5 556L216.8 558.2L217.2 558.8L217.6 560.2L217.9 547.5L218.2 553L218.6 556.9L218.9 558.5L219.3 560.4L219.7 560.5L220 560.2L220.2 559.9L220.3 554L220.6 541.5L220.7 545.8L221.1 553.2L221.4 556.1L221.8 557.7L222.1 559.5L222.4 560.5L222.8 560L223.2 560.4L223.5 560.7L223.6 560.8L223.8 545.4L223.9 539.1L224.2 548.2L224.6 554L224.9 556.5L225.2 558.4L225.6 560.1L225.9 560.2L226.3 560.9L226.7 560L227 560.2L227.3 561L227.6 560.3L227.7 557L228 544.4L228.1 546.9L228.4 553.9L228.8 557.3L229.1 557.9L229.4 559.9L229.8 560L230.2 560.3L230.3 560.8L230.5 546.6L230.7 534.8L230.8 542.4L231.2 551.6L231.6 556.2L231.9 557.4L232 558.9L232.2 541.2L232.3 534.3L232.6 545L232.9 552.6L233.3 556.4L233.7 559.3L234 559.2L234.3 560.7L234.7 560.6L235.1 559.9L235.3 559.6L235.4 557.6L235.7 542.5L235.8 543.7L236.1 552.4L236.4 555.7L236.8 558.8L237.2 559.9L237.5 559.7L237.8 559.9L238.2 560.1L238.4 560.4L238.6 558.9L238.8 558.7L238.9 558.3L239.2 559.9L239.6 560.1L239.9 560.5L240.3 560L240.6 559.9L240.7 560.6L241 557.4L241 557.2L241.3 559L241.7 559.4L241.7 559.6L242.1 558.3L242.1 558.8L242.1 558.8L242.4 557.7L242.4 556.1L242.8 558.1L243.1 559.7L243.4 559.2L243.7 559.4L243.8 560.1L244 557.7L244.2 558.9L244.5 559.9L244.5 560L244.8 557.9L244.8 557.5L244.9 556.9L245.1 555.8L245.2 556.1L245.6 558.7L245.9 559.9L246.2 559.3L246.6 560.3L246.6 559.8L246.9 557.5L246.9 557.1L247.1 559.2L247.3 555.2L247.4 551L247.7 553.7L248 556.7L248.3 558.9L248.7 559.9L249.1 560.6L249.4 559.5L249.8 559.9L250.1 560.3L250.1 559.9L250.4 558.7L250.5 558.2L250.5 557.3L250.8 554.8L250.8 553.8L251.2 557.7L251.4 557.8L251.5 557.6L251.6 557.8L251.7 556.8L251.8 557.6L251.9 556.9L252.2 558.7L252.6 559.6L252.9 560.7L253.2 559.5L253.6 560.3L253.8 560.3L253.9 558.6L254.2 556.5L254.3 557.7L254.3 557.7L254.6 556.9L254.7 557.9L255 558.3L255.3 560.6L255.6 559.5L255.7 559.3L255.9 558L256.1 557.9L256.4 560L256.8 560.2L257.1 559.7L257.4 559.9L257.7 560.3L257.8 559.3L257.9 559L258.1 540.2L258.1 536.9L258.2 534.2L258.5 546.3L258.9 553.9L258.9 554.3L259.2 554.9L259.2 553.3L259.6 557.7L259.8 558L259.9 558.3L260.1 555.8L260.2 557.6L260.6 559.6L260.9 559.3L261.3 559.5L261.6 559.5L262 560.8L262.4 560.6L262.7 560.1L263.1 560.8L263.4 560.3L263.7 560.1L263.8 559.6L264 558.3L264.1 558.6L264.4 560.1L264.8 559.6L265.1 560.4L265.4 560.9L265.5 560.5L265.6 559.1L265.7 555.7L265.9 554.3L265.9 552.5L266.2 556L266.6 558.4L266.9 559.2L267.2 559.8L267.6 560.1L267.9 559.4L268.3 559.7L268.6 560.8L269 559.8L269.4 560.7L269.7 559.7L270.1 561.2L270.4 560.7L270.6 559.7L270.8 557L271 552.1L271.1 554.9L271.4 558.1L271.8 558.1L272 560.2L272.1 559L272.4 557.1L272.5 557.3L272.9 558.8L273.2 558.9L273.3 559.3L273.6 554.5L273.6 551.6L273.9 555.8L274.2 558.8L274.6 558.4L274.9 559.2L275.3 559.9L275.6 560.3L276 560.9L276.4 560.9L276.7 561.2L277.1 561.1L277.4 560.5L277.8 559.7L278 559.6L278.1 554.6L278.4 540.3L278.4 544.3L278.8 551.9L279.1 556.1L279.5 557.6L279.9 558.8L280 559.4L280.2 558.9L280.4 558.8L280.6 558.9L280.9 559.8L280.9 560.4L281.2 558.4L281.3 557.8L281.6 559.4L281.9 559.4L282.3 560.3L282.4 559.2L282.5 557.8L282.6 555.1L282.7 554L282.9 554.7L283 556.5L283.4 557.4L283.4 557.7L283.7 557.1L283.7 557L284.1 559.3L284.4 559.5L284.8 560.6L285.1 560.5L285.4 560.2L285.7 560.9L285.8 554.9L286.1 533.6L286.1 535.4L286.1 537L286.4 547.7L286.5 549L286.6 549.1L286.9 551.9L286.9 552L287.2 555.7L287.6 558.7L287.9 558.5L288.1 559.6L288.1 555.1L288.2 549.7L288.4 539.1L288.5 540.7L288.6 545.3L288.9 552.1L289.3 557L289.6 559.3L290 560.1L290.4 560.3L290.7 559.4L291.1 559.8L291.4 560.1L291.8 560.5L291.9 561.2L292.1 558.7L292.3 558.9L292.4 559.4L292.8 559.8L293.1 559.4L293.4 560.8L293.5 558L293.8 541.3L293.9 544.6L294.2 551.7L294.6 556.9L294.9 558.7L295.2 559.9L295.6 560L295.9 559.4L296.3 559.8L296.6 560.4L297 561.1L297.4 561L297.5 560.8L297.6 557.3L297.7 553.7L297.8 551.7L297.9 551.8L298.1 552.5L298.4 557.5L298.8 559.4L299.1 560L299.4 559.3L299.8 560.6L300.1 559.9L300.5 561.1L300.9 560.1L301.2 561L301.6 560.3L301.9 560L302 559.8L302.2 559.7L302.3 558.5L302.6 560L302.9 559.3L303.3 559.5L303.6 559.5L304 561.1L304.2 560.8L304.4 550.4L304.5 538.5L304.7 545.4L305.1 552.3L305.4 556.7L305.8 559.4L306.1 560.2L306.4 560.8L306.8 560.7L306.9 559.3L307.1 549.8L307.2 546.6L307.5 552L307.9 556.8L308.2 558.2L308.3 558.5L308.6 557L308.6 557.7L308.9 557.8L309.2 560.1L309.6 560L309.9 559.9L310.3 559.9L310.6 559.8L311 560.7L311.4 560.8L311.7 560L312.1 561.2L312.4 559.8L312.8 560.7L313.1 560.6L313.1 560.6L313.4 558L313.4 559L313.6 559.5L313.8 550.7L313.9 544.5L314.1 549.2L314.5 554.1L314.9 558.6L315.2 559.1L315.6 560L315.9 560.4L316.2 560.5L316.3 561L316.6 559.6L316.7 559.5L316.9 560.4L317.3 560.7L317.6 559.5L318 560L318.3 559.5L318.4 557L318.6 542.9L318.7 545.5L319.1 553.4L319.4 555.8L319.8 558.2L320.1 559.1L320.4 560.6L320.8 559.7L321 560.2L321.1 549.5L321.3 537.1L321.5 542.6L321.9 551.8L322.1 555.7L322.2 556.5L322.4 556.1L322.6 557.7L322.9 559L323.2 560.3L323.6 560.6L323.9 560.4L324.3 560.5L324.3 560.9L324.6 553.9L324.7 552.6L325 556.8L325.1 557.6L325.1 556.9L325.4 555.8L325.4 553.7L325.5 553.7L325.7 555.8L325.9 557.1L326.1 558.6L326.3 558.3L326.4 558.7L326.8 560.2L327.1 559.3L327.4 561L327.8 559.5L328.1 560.1L328.5 559.6L328.9 561.2L329.2 559.7L329.4 559.6L329.6 554.6L329.7 550.1L329.7 549.6L329.9 551.2L330.1 551L330.2 554.3L330.6 557.3L330.9 559.1L331.3 559.5L331.6 559.9L332 559.5L332.4 559.9L332.7 560.7L332.7 560L333.1 542.9L333.1 540.7L333.4 549.8L333.8 554.8L334.1 558.6L334.4 559.6L334.4 557.9L334.8 543.7L334.8 545.6L335.1 552.7L335.5 556L335.9 558.7L336.2 560L336.6 559.8L336.9 560.4L337.2 560.4L337.6 561L337.9 560.1L338.3 560.7L338.6 559.6L339 560.4L339.4 560.1L339.7 559.7L340.1 559.6L340.4 561.2L340.5 559.3L340.8 554.5L340.8 552.5L341.1 555.9L341.4 558.8L341.8 559.1L342.1 559.8L342.5 560.3L342.9 560.1L343.2 560.4L343.6 560.1L343.9 560.1L344.2 561.3L344.5 560.1L344.5 559.5L344.6 557.9L344.8 554.3L344.9 554.5L344.9 556L345.3 558.5L345.6 558.5L346 560.6L346.4 559.4L346.7 560.9L347.1 560.5L347.4 560.2L347.8 561.2L348.1 560.5L348.4 559.9L348.5 560.4L348.8 550.2L348.9 548.1L349.1 552.2L349.5 557.4L349.9 558.3L350.2 559.3L350.6 560.3L350.9 560.1L351.2 560L351.2 559.5L351.6 551.6L351.6 551.3L351.9 556.7L352.3 558.4L352.6 559.5L353 559.4L353.4 559.5L353.7 559.8L353.9 559.9L354.1 548L354.2 534.7L354.4 541.1L354.8 551L355.1 555.3L355.4 558.3L355.8 559.9L356.1 560L356.2 559.3L356.5 552.2L356.6 549.3L356.9 554.9L357.2 557.8L357.6 559.3L357.9 559.7L358.2 560.7L358.6 559.4L358.6 560.2L358.9 550.6L358.9 550.4L359.3 555.3L359.6 557.7L360 558.6L360.4 560.5L360.7 559.3L361.1 559.7L361.3 560L361.4 552.1L361.6 539.2L361.6 538.6L361.8 542.7L362 545.5L362.1 549.1L362.4 555.2L362.8 557.6L363 558.7L363.1 557.3L363.3 556.9L363.5 556.9L363.9 559.5L364 559L364.2 554.2L364.3 551.4L364.6 555L364.9 558.4L365.2 558.6L365.6 560L365.9 560L366.3 559.8" fill="none" stroke="url(#gh4)" stroke-width="0.8"/>
<path d="M144.4 612.3L144.7 612L144.8 607.6L145 585.3L145.1 588.2L145.4 601.3L145.8 607.5L146.2 610.4L146.5 611.3L146.8 612.1L147.2 611.9L147.6 612.3L147.9 612.6L148.2 612.5L148.6 612.7L148.9 612.6L149.1 612.4L149.3 592.7L149.4 585.1L149.7 596.2L150 605.3L150.3 609.3L150.7 610.7L151.1 611.8L151.4 612.3L151.8 612.5L152.1 612.4L152.4 612.6L152.8 612.7L153.2 612.4L153.5 612.3L153.8 612.4L154.2 612.7L154.6 612.2L154.8 612.5L154.9 602.5L155.1 587.4L155.2 594.5L155.6 604.1L155.9 608.6L156.3 610.6L156.7 611.8L157 612.2L157.3 612.4L157.7 612.4L158.1 612.6L158.4 612.1L158.8 612.2L159.1 612.3L159.4 612.5L159.8 612.1L160.2 589.1L160.5 601.5L160.8 607.2L161.2 610.4L161.6 611.2L161.9 611.7L162.2 612.3L162.6 612.5L162.9 612.8L163.3 612.2L163.7 612.6L164 612.8L164.3 612.7L164.7 612.4L164.8 612.3L165.1 598.6L165.2 590.6L165.4 599L165.8 605.9L166.1 609.3L166.4 610.9L166.8 611.6L167.2 611.9L167.5 612.3L167.8 612.2L168.2 612.8L168.6 612.1L168.9 612.8L169.2 612.5L169.2 609.2L169.6 590.4L169.6 592.8L169.9 603.4L170.3 608.4L170.7 610.4L171 611.9L171.3 612.1L171.7 612.1L172.1 612.5L172.4 612.8L172.6 612.3L172.8 600.8L172.9 591.8L173.1 598.8L173.4 606.3L173.8 609.3L174.2 611.1L174.5 611.6L174.8 612.1L175.2 612.2L175.6 612.5L175.9 612.1L176.2 612.1L176.6 612L176.6 611.5L176.9 593.3L176.9 593.8L177.3 603.5L177.7 608.3L178 610.6L178.3 611.6L178.7 612.4L179.1 612.2L179.3 612.7L179.4 605L179.6 592.2L179.8 596.7L180.1 605.5L180.4 609.3L180.8 610.7L181.2 611.7L181.5 612.4L181.8 612L182.2 612.8L182.6 612.5L182.9 612.3L183.2 612.4L183.6 612.3L183.9 612.2L184 612.5L184.3 597.1L184.3 596.3L184.7 604.3L185 608.8L185.3 610.6L185.7 611.4L186.1 612.1L186.4 612.3L186.7 612.4L186.8 608.8L187 597.1L187.1 600.1L187.4 606.7L187.8 609.6L188.2 611L188.5 611.5L188.8 612L189.2 612.3L189.3 612.4L189.6 604.3L189.7 598.6L189.9 604L190.2 608.4L190.6 610.5L190.9 611.7L191.3 611.8L191.7 612.1L191.7 611.9L192 601.9L192.1 600L192.3 606L192.7 609.6L193.1 611.2L193.4 612.1L193.8 611.9L194.1 612.5L194.4 612.5L194.8 612.6L195.2 612.4L195.5 612.4L195.8 612.2L196.2 612.7L196.6 612.5L196.9 612.2L197.2 612.2L197.6 612.7L197.9 612.5L198.3 612.1L198.4 612.1L198.7 604.2L198.8 600L199 605.2L199.3 609.4L199.7 610.6L200.1 612L200.4 611.8L200.8 612.3L201.1 612.2L201.4 612.4L201.8 612.2L202.2 612.3L202.5 612.7L202.8 612.8L203.2 612.7L203.6 612.4L203.9 612.7L204.2 612.7L204.6 612.5L204.9 612.7L205.3 612.6L205.7 612.3L206 612.6L206.3 612.2L206.7 612.6L206.8 612.5L207.1 608.7L207.2 606.7L207.4 609.5L207.8 610.7L208.1 612L208.4 611.8L208.5 612.1L208.8 604.8L208.8 604.1L209.2 608.1L209.5 610.4L209.8 611.8L210.2 612.2L210.6 612L210.8 612.5L210.9 610.4L211.2 600.4L211.2 601.5L211.6 607.3L211.9 610.5L212.3 611.1L212.7 612.2L213 612.2L213.3 612.3L213.5 612.5L213.7 607.7L213.9 602.9L214.1 605.7L214.4 609.6L214.8 611.2L215.1 611.5L215.4 612.3L215.8 612.6L216.2 612.1L216.2 612.1L216.5 602.4L216.6 600.1L216.8 605.6L217.2 609.6L217.6 611.2L217.9 612.1L218.2 612.4L218.6 612.2L218.6 611.1L218.9 601.2L218.9 602.3L219.3 607.9L219.7 610.4L220 611.7L220.3 612L220.7 612.1L221.1 612.6L221.4 612.4L221.8 612.1L221.9 612.3L222.1 606.9L222.3 601.3L222.4 605.3L222.8 609.3L223.2 610.7L223.5 611.6L223.8 612L224.2 612.2L224.6 612.5L224.9 612.2L225.2 612.4L225.3 612.1L225.6 602.1L225.6 601.6L225.9 606.8L226.3 610.1L226.7 611.2L227 611.7L227.3 611.9L227.7 612.2L228.1 612.6L228.4 612.7L228.6 612.1L228.8 609L229 601.8L229.1 603.8L229.4 608.6L229.8 610.5L230.2 611.8L230.5 612L230.8 611.9L231.2 612.6L231.6 612.5L231.9 612.5L232 612.7L232.2 603.6L232.3 600.3L232.6 605.4L232.9 609.5L233.3 610.9L233.7 611.8L234 612.3L234.3 612L234.7 612.3L235.1 612.5L235.4 612.6L235.8 612.4L236.1 612.3L236.4 612.3L236.8 612.3L237 612.8L237.2 609.8L237.4 603.8L237.5 606.1L237.8 609.5L238.2 611.4L238.6 611.6L238.9 611.9L239.2 612.4L239.6 612.5L239.9 612.7L240.3 612.6L240.7 612.4L241 612.5L241.3 612.8L241.7 612.7L242.1 611.2L242.1 610.9L242.4 609.4L242.4 609.4L242.8 611.1L243.1 611.9L243.4 611.9L243.8 612.1L244.2 612.3L244.5 612.3L244.8 612.1L245.2 612.4L245.6 612.6L245.9 612.3L246.2 612.1L246.6 612.6L246.9 612.5L247.1 612.3L247.3 611.5L247.4 611.4L247.7 611.3L248 612.2L248.3 612.5L248.7 612.7L249.1 612.4L249.4 612.4L249.8 612.6L250.1 612.3L250.4 612.6L250.8 612.1L251.2 612.1L251.5 612.5L251.8 612.8L252.2 612.7L252.6 612.4L252.9 612.5L253.2 612.2L253.6 612.5L253.9 612.6L254.1 612.7L254.3 611.4L254.5 610.9L254.7 611.4L255 612.2L255.3 612.3L255.6 612.1L255.7 611.9L256 610.8L256.1 611L256.1 610.9L256.4 611.4L256.5 611L256.8 611.5L257.1 612.1L257.4 612.2L257.8 612.1L257.9 612.5L258.1 609.4L258.2 608.9L258.5 610.6L258.9 611.9L259.2 611.9L259.6 612.4L259.9 612.6L260.2 612.1L260.6 612.6L260.9 612.5L261.3 612.6L261.6 612.7L262 612.6L262.1 612.4L262.4 611.1L262.4 610.8L262.7 611.9L263.1 612.2L263.4 612L263.8 612.3L264.1 612.2L264.4 612.4L264.8 612.5L264.9 612.8L265 611.8L265.1 610.5L265.3 609.6L265.4 609.8L265.5 610.3L265.9 611.4L266.2 612.2L266.6 612.3L266.9 612.1L267.2 612.6L267.6 612.4L267.9 612.7L268.3 612.8L268.6 612.7L269 612.6L269.4 612.1L269.7 612.4L270.1 612.4L270.4 612.7L270.8 612.4L271.1 612.7L271.4 612.7L271.8 612.5L272.1 612.6L272.5 612.2L272.9 612.4L273.2 612.3L273.3 612.6L273.6 611.8L273.6 611.7L273.9 612L274.2 611.8L274.6 612.2L274.9 612.5L275.3 612.3L275.6 612.1L276 612.2L276.4 612.4L276.7 612.7L277.1 612.7L277.3 612.7L277.4 611.9L277.6 611.5L277.8 611.7L278.1 610.4L278.4 611.8L278.7 611.9L278.8 611.8L279 610.7L279.1 610.7L279.5 612L279.9 612.1L280.2 612.4L280.6 612.1L280.7 612.5L280.9 612L281.1 611.1L281.2 611.8L281.6 611.7L281.9 612L282.3 612L282.6 612.3L283 612.6L283.4 612.6L283.7 612.3L284.1 612.5L284.4 612.3L284.8 612.6L285.1 612.4L285.4 612.2L285.8 612.6L286.1 612.2L286.5 612.7L286.8 612.3L286.9 612.3L287.1 611L287.2 611.4L287.6 612L287.9 612.1L288.2 612.1L288.6 612.2L288.9 612.1L289.3 612.6L289.6 612.1L290 612.5L290.4 612.3L290.7 612.3L291.1 612.6L291.4 612.6L291.8 612.5L291.9 612.5L292.1 611.3L292.1 611.1L292.2 610.5L292.4 610.2L292.5 609.6L292.8 609.4L292.8 609.3L293.1 611.3L293.5 611.4L293.5 611.7L293.8 610.5L293.9 610.9L294.2 611.8L294.6 612.1L294.9 612.2L295.2 612.5L295.6 612.4L295.8 612.5L295.9 612.2L296.2 611.3L296.3 611.8L296.6 612.4L296.9 612.4L297 612L297.2 611.3L297.3 611.7L297.4 610.9L297.6 610.6L297.7 610.4L298.1 611.9L298.4 612.2L298.8 612.4L299.1 612.2L299.4 612.7L299.8 612.6L300.1 612.2L300.1 611.9L300.4 611.2L300.5 611.4L300.9 611.9L301.2 612.2L301.6 612.2L301.9 612.1L302.2 612.3L302.6 612.5L302.9 612.6L303.3 612.7L303.6 612.7L304 612.2L304.1 612.2L304.4 612L304.4 611.9L304.7 611.8L305.1 612.4L305.3 612.4L305.4 611.9L305.7 611.5L305.8 611.4L306.1 612.1L306.4 612.2L306.8 612L307.1 612.1L307.5 612.2L307.9 612.2L308.2 612.5L308.6 612.3L308.9 612.3L309.2 612.2L309.6 612.5L309.9 612.2L310.3 612.6L310.6 612.4L311 612.1L311.4 612.3L311.7 612.3L312.1 612.6L312.4 612.5L312.8 612.4L313.1 612.2L313.4 612.6L313.8 612.4L314.1 612.3L314.5 612.3L314.8 612.6L314.9 612.5L315.1 610.9L315.1 610.8L315.2 610.5L315.5 609.8L315.6 610.5L315.9 611.1L316.2 611.7L316.6 612.4L316.6 612.2L316.9 610.6L316.9 611.3L317.3 612L317.6 612.2L318 612.1L318.4 612.7L318.4 612.4L318.7 611.6L318.8 611.6L319.1 612.1L319.4 612.2L319.8 612.2L320.1 612.4L320.4 612.6L320.7 612.3L320.8 611.8L321 611.7L321.1 611.6L321.5 612.1L321.9 612.5L322.2 612.5L322.6 612.7L322.9 612.2L323.2 612.4L323.6 612.5L323.9 612.2L324.3 612.2L324.6 612.5L324.8 612.8L324.9 612.2L325 611.4L325.1 610.1L325.2 610.3L325.4 610.5L325.7 611.4L326.1 612.3L326.3 612L326.4 612.3L326.6 611.7L326.8 611.6L327.1 612.2L327.4 612.4L327.8 612.5L328.1 612.2L328.5 612.2L328.9 612.2L329.2 612.6L329.4 612.6L329.6 611.7L329.7 611.7L329.9 612.2L330.2 612.2L330.6 612.5L330.9 612.3L331.3 612.5L331.6 612.7L332 612.3L332.2 612.2L332.4 612.2L332.5 611.6L332.7 611.7L333.1 612.3L333.4 612L333.6 612.4L333.8 612.2L334 611.3L334.1 611.6L334.4 612.1L334.8 612.1L335.1 612.1L335.5 612.5L335.9 612.4L335.9 612.1L336.2 611.1L336.2 611.1L336.6 611.5L336.9 612L337.2 612.3L337.6 612.2L337.9 612.6L338.3 612.7L338.6 612.6L338.7 612.5L339 610.7L339 611L339.4 611.9L339.7 612.3L340.1 612.1L340.4 612.4L340.8 612.1L341.1 612.5L341.4 612.7L341.8 612.6L342.1 612.3L342.2 612.4L342.5 610.5L342.5 610.4L342.9 611.6L343.2 612.3L343.6 612L343.8 612.1L343.9 612L344.1 611.3L344.2 611.3L344.6 612.1L344.9 612.6L345.3 612L345.6 612.4L345.6 612.4L346 611L346 611.1L346.4 612L346.7 612L347.1 612L347.4 612.4L347.8 612.4L348 612.1L348.1 612.3L348.3 611.4L348.4 612L348.8 612.2L349.1 612.1L349.5 612.7L349.9 612.1L350 612.2L350.2 611.1L350.4 610.5L350.6 611.3L350.9 612L351.2 612.5L351.6 612L351.9 612.2L352.3 612.5L352.6 612.6L353 612.1L353.4 612.5L353.5 612.7L353.7 611.7L353.9 610.6L354.1 611.1L354.4 612.1L354.8 612.1L355.1 612.3L355.4 612.3L355.8 612.6L356.1 612.2L356.5 612.7L356.9 612.7L357.2 612.4L357.6 612.2L357.9 612.3L358.2 612.2L358.6 612.2L358.9 612.3L359.3 612.1L359.6 612.1L359.6 612L359.9 611.7L360 611.8L360.4 612.1L360.7 612.2L361.1 612.4L361.4 612.1L361.8 612.3L361.8 612.1L362.1 611.5L362.2 612L362.4 612.2L362.8 611.9L362.9 612.6L363.1 612L363.3 611.8L363.5 611.8L363.9 612.2L364.2 612.1L364.6 612.1L364.9 612.1L365.2 612.6L365.6 612.3L365.9 612.1L366.3 612.5" fill="none" stroke="#2a6ff0" stroke-width="0.8"/>
<text x="-0.6" y="644.5" font-size="13.5" fill="#000" font-weight="bold">f</text>
<text x="15.4" y="644.5" font-size="9.5" fill="#222" textLength="95.3" lengthAdjust="spacingAndGlyphs" stroke="#222" stroke-width="0.22">Complex morphology</text>
<rect x="17.2" y="651.4" width="92.7" height="92.2" fill="#2266ee" stroke="none" stroke-width="1"/>
<rect x="19.7" y="653.9" width="87.7" height="87.2" fill="#000" stroke="none" stroke-width="1"/>
<clipPath id="cpf"><rect x="19.7" y="653.9" width="87.7" height="87.2"/></clipPath>
<g clip-path="url(#cpf)">
<g filter="url(#bl3)">
<ellipse cx="70" cy="710" rx="25" ry="12" fill="#fff" opacity="0.13" transform="rotate(-35 70 710)"/>
<ellipse cx="85" cy="725" rx="18" ry="12" fill="#fff" opacity="0.15" transform="rotate(-40 85 725)"/>
<ellipse cx="95" cy="700" rx="10" ry="20" fill="#fff" opacity="0.12" transform="rotate(0 95 700)"/>
<ellipse cx="60" cy="735" rx="15" ry="6" fill="#fff" opacity="0.1" transform="rotate(0 60 735)"/>
<ellipse cx="45" cy="728" rx="8" ry="6" fill="#fff" opacity="0.08" transform="rotate(0 45 728)"/>
<ellipse cx="100" cy="680" rx="8" ry="10" fill="#fff" opacity="0.1" transform="rotate(0 100 680)"/>
</g>
<g filter="url(#bl2)">
<ellipse cx="90.32" cy="683.35" rx="1.98" ry="2.68" fill="#fff" opacity="0.21" transform="rotate(-46.19249556154759 90.32 683.35)"/>
<ellipse cx="69.09" cy="708.19" rx="1.79" ry="2.34" fill="#fff" opacity="0.27" transform="rotate(0.0743731878037579 69.09 708.19)"/>
<ellipse cx="22.49" cy="738.27" rx="1.85" ry="2.66" fill="#fff" opacity="0.27" transform="rotate(0.8777877668076712 22.49 738.27)"/>
<ellipse cx="27.67" cy="722.75" rx="2.57" ry="1.57" fill="#fff" opacity="0.13" transform="rotate(-36.997447843656104 27.67 722.75)"/>
<ellipse cx="37.61" cy="703.73" rx="2.38" ry="2.47" fill="#fff" opacity="0.27" transform="rotate(-50.84414264573645 37.61 703.73)"/>
<ellipse cx="106.42" cy="719.35" rx="2.99" ry="2.73" fill="#fff" opacity="0.2" transform="rotate(-48.609104832807816 106.42 719.35)"/>
<ellipse cx="26.98" cy="723" rx="2.58" ry="1.39" fill="#fff" opacity="0.26" transform="rotate(-6.629006600020126 26.98 723)"/>
<ellipse cx="102.44" cy="659.91" rx="3.19" ry="2.95" fill="#fff" opacity="0.29" transform="rotate(30.126982554063446 102.44 659.91)"/>
<ellipse cx="66.73" cy="674.07" rx="2.44" ry="2.53" fill="#fff" opacity="0.19" transform="rotate(32.22129536019831 66.73 674.07)"/>
<ellipse cx="103.36" cy="658.05" rx="2.49" ry="1.27" fill="#fff" opacity="0.3" transform="rotate(-17.033796822884042 103.36 658.05)"/>
<ellipse cx="30.37" cy="740.75" rx="3.31" ry="2.44" fill="#fff" opacity="0.2" transform="rotate(-53.285267963422655 30.37 740.75)"/>
<ellipse cx="80.89" cy="663.28" rx="2.1" ry="1.37" fill="#fff" opacity="0.28" transform="rotate(41.220699982810984 80.89 663.28)"/>
<ellipse cx="101.28" cy="720.32" rx="2.65" ry="1.31" fill="#fff" opacity="0.26" transform="rotate(-2.2292070271655575 101.28 720.32)"/>
<ellipse cx="86.53" cy="657.33" rx="1.52" ry="1.36" fill="#fff" opacity="0.14" transform="rotate(50.92089724504787 86.53 657.33)"/>
<ellipse cx="54.34" cy="696.4" rx="3.27" ry="1.44" fill="#fff" opacity="0.26" transform="rotate(-28.6166683942683 54.34 696.4)"/>
<ellipse cx="22.21" cy="738.37" rx="1.97" ry="2.1" fill="#fff" opacity="0.3" transform="rotate(-14.50024995184436 22.21 738.37)"/>
<ellipse cx="82.66" cy="707.3" rx="2.48" ry="1.68" fill="#fff" opacity="0.14" transform="rotate(40.70513417008638 82.66 707.3)"/>
<ellipse cx="74.72" cy="680.67" rx="2.05" ry="2.02" fill="#fff" opacity="0.23" transform="rotate(-37.30615047964318 74.72 680.67)"/>
<ellipse cx="97.29" cy="699.4" rx="2.86" ry="2.6" fill="#fff" opacity="0.29" transform="rotate(-40.158201359075186 97.29 699.4)"/>
<ellipse cx="53.82" cy="695.04" rx="2.48" ry="2.45" fill="#fff" opacity="0.15" transform="rotate(32.20577126942612 53.82 695.04)"/>
<ellipse cx="92.89" cy="692.25" rx="2" ry="2.76" fill="#fff" opacity="0.27" transform="rotate(44.64040346694571 92.89 692.25)"/>
<ellipse cx="48.47" cy="734.51" rx="3.05" ry="2.95" fill="#fff" opacity="0.3" transform="rotate(30.58260505611628 48.47 734.51)"/>
<ellipse cx="62.07" cy="720.18" rx="3.06" ry="2.14" fill="#fff" opacity="0.19" transform="rotate(0.5189623246972204 62.07 720.18)"/>
<ellipse cx="96.43" cy="687.93" rx="2.99" ry="2.21" fill="#fff" opacity="0.18" transform="rotate(24.830056123786605 96.43 687.93)"/>
<ellipse cx="26.94" cy="713.74" rx="1.79" ry="1.85" fill="#fff" opacity="0.13" transform="rotate(33.78661456349505 26.94 713.74)"/>
<ellipse cx="100.17" cy="706.23" rx="2.62" ry="2.42" fill="#fff" opacity="0.12" transform="rotate(-53.16462767627034 100.17 706.23)"/>
<ellipse cx="83.41" cy="706.03" rx="2.78" ry="2.68" fill="#fff" opacity="0.15" transform="rotate(-27.48739618568718 83.41 706.03)"/>
<ellipse cx="105.26" cy="660.26" rx="2.53" ry="2.32" fill="#fff" opacity="0.14" transform="rotate(54.61340401492198 105.26 660.26)"/>
<ellipse cx="81.81" cy="661.86" rx="2.41" ry="2.32" fill="#fff" opacity="0.13" transform="rotate(41.86234206415807 81.81 661.86)"/>
<ellipse cx="85.87" cy="667.95" rx="2.31" ry="2.97" fill="#fff" opacity="0.13" transform="rotate(42.058384555688235 85.87 667.95)"/>
<ellipse cx="88.72" cy="658.34" rx="3.07" ry="2.65" fill="#fff" opacity="0.29" transform="rotate(38.11169886508014 88.72 658.34)"/>
<ellipse cx="75.72" cy="726.77" rx="2.59" ry="2.4" fill="#fff" opacity="0.22" transform="rotate(-51.634407301187935 75.72 726.77)"/>
<ellipse cx="107.15" cy="688.77" rx="2.93" ry="1.52" fill="#fff" opacity="0.22" transform="rotate(-2.203053649668938 107.15 688.77)"/>
<ellipse cx="87.71" cy="683.05" rx="2.44" ry="1.54" fill="#fff" opacity="0.29" transform="rotate(9.2894191469303 87.71 683.05)"/>
<ellipse cx="54.03" cy="712.36" rx="2.61" ry="1.55" fill="#fff" opacity="0.16" transform="rotate(23.564457085508494 54.03 712.36)"/>
<ellipse cx="74.02" cy="741.48" rx="2.11" ry="2.4" fill="#fff" opacity="0.24" transform="rotate(-19.250718386575052 74.02 741.48)"/>
<ellipse cx="89.07" cy="673.55" rx="2.21" ry="1.61" fill="#fff" opacity="0.24" transform="rotate(-41.0278564589617 89.07 673.55)"/>
<ellipse cx="93.15" cy="700.83" rx="2.39" ry="1.74" fill="#fff" opacity="0.29" transform="rotate(-31.28192183733492 93.15 700.83)"/>
<ellipse cx="62.23" cy="714.31" rx="2.06" ry="1.51" fill="#fff" opacity="0.17" transform="rotate(-58.89364161222437 62.23 714.31)"/>
<ellipse cx="56.87" cy="700.35" rx="2.73" ry="2.44" fill="#fff" opacity="0.26" transform="rotate(45.186742384208884 56.87 700.35)"/>
</g>
<g filter="url(#bl2)">
<ellipse cx="87.3" cy="690.8" rx="3.3" ry="4.6" fill="#fff" opacity="1" transform="rotate(25 87.3 690.8)"/>
<ellipse cx="77" cy="729.5" rx="3.6" ry="3.2" fill="#fff" opacity="1" transform="rotate(0 77 729.5)"/>
<circle cx="86.5" cy="660.1" r="2.6" fill="#fff" opacity="0.45"/>
<circle cx="96" cy="688" r="2.5" fill="#fff" opacity="0.3"/>
<circle cx="100" cy="705" r="2.5" fill="#fff" opacity="0.25"/>
<circle cx="68" cy="712" r="2.5" fill="#fff" opacity="0.2"/>
<circle cx="93" cy="718" r="2.5" fill="#fff" opacity="0.25"/>
<circle cx="83" cy="700" r="2" fill="#fff" opacity="0.2"/>
</g>
</g>
<path d="M34.4 721.5L38 715.5L42 711L47 707L52 704.5L56.6 702.2L62 698.5L67 695L72 692L78.2 689.6" fill="none" stroke="url(#gl5)" stroke-width="0.9" stroke-linejoin="round"/>
<circle cx="34.4" cy="721.5" r="3.1" fill="none" stroke="#2a6ff0" stroke-width="0.9"/>
<line x1="32.9" y1="723" x2="35.9" y2="720" stroke="#2a6ff0" stroke-width="0.7"/>
<circle cx="56.6" cy="702.2" r="3.1" fill="none" stroke="#e6b422" stroke-width="0.9"/>
<line x1="55.1" y1="703.7" x2="58.1" y2="700.7" stroke="#e6b422" stroke-width="0.7"/>
<circle cx="78.2" cy="689.6" r="3.1" fill="none" stroke="#e01020" stroke-width="0.9"/>
<line x1="76.7" y1="691.1" x2="79.7" y2="688.1" stroke="#e01020" stroke-width="0.7"/>
<text x="24.9" y="733.9" font-size="9.3" fill="#eee" textLength="16.4" lengthAdjust="spacingAndGlyphs" stroke="#eee" stroke-width="0.22">266</text>
<rect x="21.1" y="737" width="18.7" height="2.6" fill="#fff" stroke="none" stroke-width="1"/>
<text x="145.6" y="657" font-size="9.3" fill="#222" textLength="91.3" lengthAdjust="spacingAndGlyphs" stroke="#222" stroke-width="0.22">Moving ROI (tracked)</text>
<text x="145.8" y="703.9" font-size="9.3" fill="#222" textLength="40.6" lengthAdjust="spacingAndGlyphs" stroke="#222" stroke-width="0.22">Fixed ROI</text>
<line x1="142.4" y1="654.9" x2="142.4" y2="683.3" stroke="#777" stroke-width="0.8"/>
<line x1="143.1" y1="683.15" x2="366.8" y2="683.15" stroke="#777" stroke-width="0.6"/>
<line x1="149.37" y1="683.15" x2="149.37" y2="685.9" stroke="#555" stroke-width="0.6"/>
<line x1="154.94" y1="683.15" x2="154.94" y2="685.9" stroke="#555" stroke-width="0.6"/>
<line x1="160.5" y1="683.15" x2="160.5" y2="685.9" stroke="#555" stroke-width="0.6"/>
<line x1="166.07" y1="683.15" x2="166.07" y2="685.9" stroke="#555" stroke-width="0.6"/>
<line x1="171.64" y1="683.15" x2="171.64" y2="685.9" stroke="#555" stroke-width="0.6"/>
<line x1="177.21" y1="683.15" x2="177.21" y2="685.9" stroke="#555" stroke-width="0.6"/>
<line x1="182.77" y1="683.15" x2="182.77" y2="685.9" stroke="#555" stroke-width="0.6"/>
<line x1="188.34" y1="683.15" x2="188.34" y2="685.9" stroke="#555" stroke-width="0.6"/>
<line x1="193.91" y1="683.15" x2="193.91" y2="685.9" stroke="#555" stroke-width="0.6"/>
<line x1="199.48" y1="683.15" x2="199.48" y2="688.4" stroke="#555" stroke-width="0.6"/>
<line x1="205.04" y1="683.15" x2="205.04" y2="685.9" stroke="#555" stroke-width="0.6"/>
<line x1="210.61" y1="683.15" x2="210.61" y2="685.9" stroke="#555" stroke-width="0.6"/>
<line x1="216.18" y1="683.15" x2="216.18" y2="685.9" stroke="#555" stroke-width="0.6"/>
<line x1="221.75" y1="683.15" x2="221.75" y2="685.9" stroke="#555" stroke-width="0.6"/>
<line x1="227.31" y1="683.15" x2="227.31" y2="685.9" stroke="#555" stroke-width="0.6"/>
<line x1="232.88" y1="683.15" x2="232.88" y2="685.9" stroke="#555" stroke-width="0.6"/>
<line x1="238.45" y1="683.15" x2="238.45" y2="685.9" stroke="#555" stroke-width="0.6"/>
<line x1="244.02" y1="683.15" x2="244.02" y2="685.9" stroke="#555" stroke-width="0.6"/>
<line x1="249.58" y1="683.15" x2="249.58" y2="685.9" stroke="#555" stroke-width="0.6"/>
<line x1="255.15" y1="683.15" x2="255.15" y2="688.4" stroke="#555" stroke-width="0.6"/>
<line x1="260.72" y1="683.15" x2="260.72" y2="685.9" stroke="#555" stroke-width="0.6"/>
<line x1="266.28" y1="683.15" x2="266.28" y2="685.9" stroke="#555" stroke-width="0.6"/>
<line x1="271.85" y1="683.15" x2="271.85" y2="685.9" stroke="#555" stroke-width="0.6"/>
<line x1="277.42" y1="683.15" x2="277.42" y2="685.9" stroke="#555" stroke-width="0.6"/>
<line x1="282.99" y1="683.15" x2="282.99" y2="685.9" stroke="#555" stroke-width="0.6"/>
<line x1="288.56" y1="683.15" x2="288.56" y2="685.9" stroke="#555" stroke-width="0.6"/>
<line x1="294.12" y1="683.15" x2="294.12" y2="685.9" stroke="#555" stroke-width="0.6"/>
<line x1="299.69" y1="683.15" x2="299.69" y2="685.9" stroke="#555" stroke-width="0.6"/>
<line x1="305.26" y1="683.15" x2="305.26" y2="685.9" stroke="#555" stroke-width="0.6"/>
<line x1="310.83" y1="683.15" x2="310.83" y2="688.4" stroke="#555" stroke-width="0.6"/>
<line x1="316.39" y1="683.15" x2="316.39" y2="685.9" stroke="#555" stroke-width="0.6"/>
<line x1="321.96" y1="683.15" x2="321.96" y2="685.9" stroke="#555" stroke-width="0.6"/>
<line x1="327.53" y1="683.15" x2="327.53" y2="685.9" stroke="#555" stroke-width="0.6"/>
<line x1="333.1" y1="683.15" x2="333.1" y2="685.9" stroke="#555" stroke-width="0.6"/>
<line x1="338.66" y1="683.15" x2="338.66" y2="685.9" stroke="#555" stroke-width="0.6"/>
<line x1="344.23" y1="683.15" x2="344.23" y2="685.9" stroke="#555" stroke-width="0.6"/>
<line x1="349.8" y1="683.15" x2="349.8" y2="685.9" stroke="#555" stroke-width="0.6"/>
<line x1="355.37" y1="683.15" x2="355.37" y2="685.9" stroke="#555" stroke-width="0.6"/>
<line x1="360.93" y1="683.15" x2="360.93" y2="685.9" stroke="#555" stroke-width="0.6"/>
<line x1="366.5" y1="683.15" x2="366.5" y2="688.4" stroke="#555" stroke-width="0.6"/>
<text x="138.6" y="657.6" font-size="8.2" fill="#333" text-anchor="end">1</text>
<text x="139.2" y="683.9" font-size="8.2" fill="#333" text-anchor="end">0</text>
<line x1="142.4" y1="705.2" x2="142.4" y2="733" stroke="#777" stroke-width="0.8"/>
<line x1="143.1" y1="732.85" x2="366.8" y2="732.85" stroke="#777" stroke-width="0.6"/>
<line x1="149.37" y1="732.85" x2="149.37" y2="735.6" stroke="#555" stroke-width="0.6"/>
<line x1="154.94" y1="732.85" x2="154.94" y2="735.6" stroke="#555" stroke-width="0.6"/>
<line x1="160.5" y1="732.85" x2="160.5" y2="735.6" stroke="#555" stroke-width="0.6"/>
<line x1="166.07" y1="732.85" x2="166.07" y2="735.6" stroke="#555" stroke-width="0.6"/>
<line x1="171.64" y1="732.85" x2="171.64" y2="735.6" stroke="#555" stroke-width="0.6"/>
<line x1="177.21" y1="732.85" x2="177.21" y2="735.6" stroke="#555" stroke-width="0.6"/>
<line x1="182.77" y1="732.85" x2="182.77" y2="735.6" stroke="#555" stroke-width="0.6"/>
<line x1="188.34" y1="732.85" x2="188.34" y2="735.6" stroke="#555" stroke-width="0.6"/>
<line x1="193.91" y1="732.85" x2="193.91" y2="735.6" stroke="#555" stroke-width="0.6"/>
<line x1="199.48" y1="732.85" x2="199.48" y2="738.1" stroke="#555" stroke-width="0.6"/>
<line x1="205.04" y1="732.85" x2="205.04" y2="735.6" stroke="#555" stroke-width="0.6"/>
<line x1="210.61" y1="732.85" x2="210.61" y2="735.6" stroke="#555" stroke-width="0.6"/>
<line x1="216.18" y1="732.85" x2="216.18" y2="735.6" stroke="#555" stroke-width="0.6"/>
<line x1="221.75" y1="732.85" x2="221.75" y2="735.6" stroke="#555" stroke-width="0.6"/>
<line x1="227.31" y1="732.85" x2="227.31" y2="735.6" stroke="#555" stroke-width="0.6"/>
<line x1="232.88" y1="732.85" x2="232.88" y2="735.6" stroke="#555" stroke-width="0.6"/>
<line x1="238.45" y1="732.85" x2="238.45" y2="735.6" stroke="#555" stroke-width="0.6"/>
<line x1="244.02" y1="732.85" x2="244.02" y2="735.6" stroke="#555" stroke-width="0.6"/>
<line x1="249.58" y1="732.85" x2="249.58" y2="735.6" stroke="#555" stroke-width="0.6"/>
<line x1="255.15" y1="732.85" x2="255.15" y2="738.1" stroke="#555" stroke-width="0.6"/>
<line x1="260.72" y1="732.85" x2="260.72" y2="735.6" stroke="#555" stroke-width="0.6"/>
<line x1="266.28" y1="732.85" x2="266.28" y2="735.6" stroke="#555" stroke-width="0.6"/>
<line x1="271.85" y1="732.85" x2="271.85" y2="735.6" stroke="#555" stroke-width="0.6"/>
<line x1="277.42" y1="732.85" x2="277.42" y2="735.6" stroke="#555" stroke-width="0.6"/>
<line x1="282.99" y1="732.85" x2="282.99" y2="735.6" stroke="#555" stroke-width="0.6"/>
<line x1="288.56" y1="732.85" x2="288.56" y2="735.6" stroke="#555" stroke-width="0.6"/>
<line x1="294.12" y1="732.85" x2="294.12" y2="735.6" stroke="#555" stroke-width="0.6"/>
<line x1="299.69" y1="732.85" x2="299.69" y2="735.6" stroke="#555" stroke-width="0.6"/>
<line x1="305.26" y1="732.85" x2="305.26" y2="735.6" stroke="#555" stroke-width="0.6"/>
<line x1="310.83" y1="732.85" x2="310.83" y2="738.1" stroke="#555" stroke-width="0.6"/>
<line x1="316.39" y1="732.85" x2="316.39" y2="735.6" stroke="#555" stroke-width="0.6"/>
<line x1="321.96" y1="732.85" x2="321.96" y2="735.6" stroke="#555" stroke-width="0.6"/>
<line x1="327.53" y1="732.85" x2="327.53" y2="735.6" stroke="#555" stroke-width="0.6"/>
<line x1="333.1" y1="732.85" x2="333.1" y2="735.6" stroke="#555" stroke-width="0.6"/>
<line x1="338.66" y1="732.85" x2="338.66" y2="735.6" stroke="#555" stroke-width="0.6"/>
<line x1="344.23" y1="732.85" x2="344.23" y2="735.6" stroke="#555" stroke-width="0.6"/>
<line x1="349.8" y1="732.85" x2="349.8" y2="735.6" stroke="#555" stroke-width="0.6"/>
<line x1="355.37" y1="732.85" x2="355.37" y2="735.6" stroke="#555" stroke-width="0.6"/>
<line x1="360.93" y1="732.85" x2="360.93" y2="735.6" stroke="#555" stroke-width="0.6"/>
<line x1="366.5" y1="732.85" x2="366.5" y2="738.1" stroke="#555" stroke-width="0.6"/>
<text x="138.6" y="707.9" font-size="8.2" fill="#333" text-anchor="end">1</text>
<text x="139.2" y="733.6" font-size="8.2" fill="#333" text-anchor="end">0</text>
<text x="143.8" y="748.3" font-size="8.2" fill="#333" text-anchor="middle">433</text>
<text x="199.48" y="748.3" font-size="8.2" fill="#333" text-anchor="middle">866</text>
<text x="255.15" y="748.3" font-size="8.2" fill="#333" text-anchor="middle">1,732</text>
<text x="310.82" y="748.3" font-size="8.2" fill="#333" text-anchor="middle">2,598</text>
<text x="366.5" y="748.3" font-size="8.2" fill="#333" text-anchor="middle">3,464</text>
<text x="255.2" y="760.5" font-size="9.6" fill="#222" text-anchor="middle" textLength="34.5" lengthAdjust="spacingAndGlyphs" stroke="#222" stroke-width="0.22">Time (s)</text>
<path d="M144.4 682L144.8 682.1L145.1 682.4L145.4 682.1L145.8 682.3L146.2 682.3L146.5 682.3L146.8 682.2L147.2 682.4L147.6 681.9L147.9 681.7L148.2 682.2L148.6 681.9L148.9 681.7L149.3 682.4L149.7 682.4L150 681.8L150.3 681.8L150.7 681.9L151.1 682.3L151.4 682.1L151.8 681.8L152.1 681.7L152.4 681.8L152.8 682.3L153.2 681.8L153.5 682.2L153.8 681.9L154.2 682.4L154.6 681.7L154.9 682L155.2 681.9L155.6 682.3L155.9 682L156.3 682L156.7 682L157 682.2L157.3 681.9L157.7 682.2L158.1 682.2L158.4 682.3L158.8 681.9L159.1 682.4L159.4 682.3L159.8 682.4L160.2 681.9L160.5 682L160.8 682L161.2 682.4L161.6 682.1L161.9 682.2L162.2 682.4L162.6 682.5L162.9 681.6L163.3 682.4L163.7 682.2L164 682.3L164.3 682L164.7 682.4L165.1 682.1L165.4 682.2L165.8 681.8L166.1 682.5L166.4 682.2L166.8 682.1L167.2 681.7L167.5 682L167.8 682.1L168.2 681.9L168.6 682.2L168.9 682.5L169.2 682.1L169.6 681.7L169.9 681.9L170.3 682.3L170.7 681.9L171 681.8L171.3 682.3L171.7 682L172.1 682.2L172.4 682.3L172.8 682.2L173.1 682.3L173.4 682.2L173.8 682.4L174.2 682.1L174.5 682.4L174.8 681.8L175.2 682L175.6 682.5L175.9 681.8L176.2 682.3L176.6 682.1L176.9 682L177.3 682.2L177.7 682.2L178 682.1L178.3 682.4L178.7 681.8L179.1 682.4L179.4 681.8L179.8 682.3L180.1 682.2L180.4 682.2L180.8 682.5L181.2 682.4L181.5 682.2L181.8 682.1L182.2 681.7L182.6 681.6L182.9 682.4L183.2 682L183.6 682.4L183.9 681.8L184.3 682.2L184.7 681.7L185 682L185.3 682.4L185.7 682.5L186.1 682.3L186.4 681.8L186.8 682.4L187.1 682.1L187.4 682.2L187.8 682.2L188.2 681.8L188.5 682.3L188.8 681.9L189.2 681.9L189.6 681.7L189.9 682L190.2 681.7L190.6 682.1L190.9 682L191.3 682L191.7 681.8L192 681.7L192.3 682.4L192.7 682.4L193.1 682L193.4 681.8L193.8 682L194.1 682.2L194.4 681.7L194.8 682.2L195.2 682.4L195.5 682.4L195.8 682.5L196.2 681.9L196.6 682.4L196.9 681.9L197.2 681.8L197.6 681.6L197.9 681.8L198.3 682.1L198.7 682L199 681.8L199.3 681.9L199.7 682.2L200.1 681.8L200.4 682.4L200.8 682.2L201.1 681.6L201.4 682.1L201.8 682.3L202.2 681.8L202.5 682.1L202.8 682.5L203.2 682.5L203.6 682.3L203.9 682.2L204.2 681.7L204.6 682.3L204.9 681.8L205.3 681.8L205.7 682.1L206 681.6L206.3 681.8L206.7 682.1L207.1 682.3L207.4 682.1L207.8 681.7L208.1 682L208.4 682.3L208.8 682.2L209.2 682.1L209.5 682.3L209.8 682L210.2 682.5L210.6 681.8L210.9 682.3L211.2 682.4L211.6 682L211.9 682.2L212.3 681.7L212.7 682.1L213 682L213.3 681.8L213.7 682.3L214.1 681.9L214.4 681.9L214.8 682.1L215.1 681.7L215.4 682.5L215.8 681.8L216.2 682.4L216.5 681.8L216.8 682.4L217.2 682.4L217.6 682.1L217.9 681.7L218.2 682.3L218.6 682.1L218.9 682L219.3 682.3L219.7 682L220 682.5L220.3 682.1L220.7 681.8L221.1 682.2L221.4 682.3L221.8 682.4L222.1 681.9L222.4 682.1L222.8 681.7L223.2 681.9L223.5 682.4L223.8 681.7L224.2 681.7L224.6 681.8L224.9 681.8L225.2 681.9L225.6 681.9L225.9 681.9L226.3 682L226.7 682.3L227 682.4L227.3 681.9L227.7 682L228.1 682.4L228.4 681.9L228.8 682L229.1 682.1L229.4 681.8L229.8 681.7L230.2 682.2L230.5 681.8L230.8 682.1L231.2 682L231.6 682.1L231.9 681.7L232.2 682.1L232.6 681.7L232.9 682.2L233.3 681.9L233.7 681.7L234 681.9L234.3 682.2L234.7 682.4L235.1 682.1L235.4 682.1L235.8 681.8L236.1 681.8L236.4 681.7L236.8 682.1L237.2 682.1L237.5 682L237.8 681.9L238.2 682.4L238.6 682.3L238.9 682.4L239.2 682.2L239.6 682.2L239.9 681.7L240.3 682.3L240.7 681.7L241 682.2L241.3 682.3L241.7 681.7L242.1 682.4L242.4 682.4L242.8 682.4L242.9 682.3L243.1 678.9L243.4 673.1L243.4 673.5L243.8 677.5L244.2 679.1L244.5 680.9L244.8 681.4L245.2 681.5L245.6 681.5L245.9 681.8L246.2 681.8L246.6 681.9L246.9 681.8L247.3 681.8L247.6 682.3L247.7 682.2L248 677.8L248.1 676.5L248.3 678.2L248.7 679.7L249.1 681.1L249.4 681.2L249.8 681.7L250.1 681.9L250.4 682.2L250.8 682.2L251.2 682L251.5 682L251.8 681.7L252 682.2L252.2 676.2L252.5 668.7L252.6 669.5L252.9 675.4L253.2 677.9L253.6 679.5L253.9 681.1L254.3 681.1L254.7 681.9L255 682L255.3 682.3L255.7 682.1L256.1 682.4L256.4 681.9L256.8 682L257.1 682.1L257.4 681.9L257.8 682.3L258.1 682.2L258.5 682.2L258.9 682.5L259.2 681.7L259.6 682.4L259.9 682.4L260.2 681.8L260.6 681.8L260.9 682.1L261.3 682.1L261.6 682.4L262 682.5L262.4 682L262.7 682.3L263.1 682.4L263.4 681.7L263.8 682.5L264.1 682.2L264.4 681.8L264.8 681.9L265.1 682.4L265.5 681.9L265.9 682L266.2 682L266.6 681.7L266.9 681.8L267.2 682L267.6 681.8L267.9 682.1L268.3 682L268.5 681.8L268.6 681.6L269 681L269 681.3L269.4 681.2L269.7 681.8L270.1 681.9L270.4 682.1L270.8 681.9L271.1 682.1L271.4 681.8L271.8 682L272.1 682L272.5 681.8L272.9 682.1L273.2 682L273.6 681.8L273.9 681.9L274.2 681.9L274.6 681.7L274.9 682L275.3 682L275.6 682.3L276 682.3L276.4 682.1L276.7 682.1L277.1 681.7L277.4 682.4L277.8 682.2L278.1 681.9L278.4 682.1L278.8 681.8L279.1 682.3L279.5 681.8L279.9 682.1L280.2 682L280.2 682.4L280.5 680.9L280.6 680.3L280.7 677.6L280.9 676.3L281 675.3L281.2 677.7L281.4 678.1L281.4 678.4L281.6 677.8L281.9 676.8L281.9 677.2L281.9 677L282.3 679.7L282.6 680.2L283 681.6L283.4 681.2L283.7 681.7L284.1 682L284.4 681.6L284.8 682L285.1 682.1L285.2 682.4L285.4 681.2L285.7 680.9L285.8 681.4L286.1 681.9L286.5 681.8L286.8 681.5L286.9 681.5L287.2 680.7L287.3 680.7L287.6 680.5L287.9 681.6L288.2 681.5L288.6 681.8L288.9 681.5L288.9 682.1L289.3 678.6L289.4 677.6L289.6 679.5L290 680.4L290.4 681.3L290.7 681.4L291.1 681.4L291.4 681.8L291.8 682L291.8 681.9L292.1 681.2L292.3 679.6L292.3 679.8L292.4 678.5L292.6 677.9L292.8 677.6L292.8 677.9L293.1 679.4L293.5 681L293.9 681.7L294.2 681.5L294.6 681.6L294.9 681.6L295.2 681.8L295.6 681.6L295.8 682.3L295.9 681.5L296.3 680.4L296.6 681.5L297 681.9L297.3 682L297.4 681L297.7 671.5L297.7 670.3L297.8 666.6L298.1 671.3L298.2 672.3L298.4 675.7L298.8 678.8L299.1 680L299.4 681.2L299.8 681.6L300.1 681.8L300.5 681.7L300.9 682.4L301.2 682.1L301.6 682.3L301.9 681.9L302.2 681.8L302.6 682.3L302.6 681.8L302.9 680.9L303.1 680.8L303.3 681.2L303.6 681.5L304 681.5L304.4 681.8L304.7 682.4L304.7 681.7L305.1 670.6L305.2 665.3L305.4 670L305.8 675.2L306.1 678.1L306.4 680.1L306.8 681.2L307.1 681.1L307.5 681.7L307.9 682.2L308.2 681.6L308.6 682.4L308.9 682.2L309.2 682L309.6 681.9L309.9 681.7L310.3 682.3L310.3 682L310.6 681L310.8 681.1L311 681.2L311.4 681.7L311.7 681.7L312.1 681.6L312.4 682.1L312.8 681.8L313.1 682.2L313.1 681.5L313.4 662.6L313.6 653.9L313.8 661.5L314.1 670.7L314.5 675.4L314.5 676.1L314.9 676.9L315 677.5L315.2 678.4L315.6 679.9L315.9 681.1L316.2 681.2L316.5 681.7L316.6 680.4L316.9 676.8L317 676.4L317.3 678.9L317.6 680.6L318 681.2L318.4 681.1L318.7 681.8L318.8 681.7L319.1 681.5L319.3 681.3L319.4 680.9L319.8 681.7L320.1 682.1L320.4 681.8L320.8 681.8L321.1 682.4L321.1 681.3L321.5 680.5L321.6 680.1L321.9 680.8L322 680.8L322.2 680.6L322.5 679.9L322.6 680.2L322.9 680.6L323.2 681.8L323.6 681.3L323.9 682.3L324.2 682.2L324.3 679.9L324.6 674L324.7 673.5L325 677.3L325.4 679L325.7 680.5L326.1 681.4L326.4 681.9L326.8 681.4L327.1 682.3L327.4 682.2L327.8 682.2L328.1 681.7L328.5 681.8L328.9 681.8L329.2 682L329.6 682.5L329.9 681.9L330.2 682.3L330.6 681.7L330.9 681.7L330.9 681L331.3 669.7L331.4 667L331.6 672.2L332 676L332.4 678.9L332.7 680.5L333.1 681L333.2 681.7L333.4 677.5L333.7 668.6L333.8 667.4L334.1 672.5L334.2 672.7L334.4 676.3L334.8 678.9L335.1 680.3L335.5 681.3L335.9 681.8L336.2 681.6L336.6 682L336.9 682.3L337.2 682L337.6 682.4L337.9 681.9L338.3 681.7L338.6 682.1L338.6 682L339 681.4L339.1 681.3L339.4 681.6L339.7 682L340.1 682.1L340.4 681.8L340.8 682L341 682.4L341.1 681.6L341.4 679.1L341.5 679.4L341.8 680.1L342.1 681L342.5 681.4L342.9 681.9L343.2 681.8L343.6 682L343.9 682L344.2 681.7L344.6 682.4L344.9 682.3L345 681.7L345.3 680.1L345.5 679L345.6 679.6L346 681.1L346 680.4L346.4 679.8L346.5 678.8L346.7 680.2L346.9 680.7L347.1 680.3L347.4 679.4L347.4 679.1L347.6 679.5L347.8 679.6L348.1 678.9L348.1 679.1L348.4 680.6L348.7 681.1L348.8 680.3L349.1 679.3L349.2 679.7L349.5 680.8L349.9 681.4L350.2 681.3L350.6 682L350.9 682.2L351.2 682.2L351.6 682.4L351.7 682.3L351.9 677.8L352.2 672.2L352.3 673.1L352.6 677.5L353 679.5L353.4 680.5L353.7 681.6L354.1 681.9L354.4 681.7L354.8 681.9L355.1 682.1L355.4 682.1L355.8 682.5L356.1 682.3L356.5 682.3L356.9 682.3L357.2 682.4L357.6 681.8L357.9 682.5L358.2 682.1L358.6 682.3L358.9 682.3L359.3 681.8L359.6 681.7L359.6 681.2L360 680.1L360.1 679.7L360.4 680.7L360.7 681.6L361.1 681.7L361.1 681.4L361.4 671.9L361.6 663.6L361.8 667.2L362.1 673.9L362.4 677.1L362.8 679.4L363.1 680.7L363.1 680L363.5 679.5L363.6 679.2L363.8 680.2L363.9 679.7L364.2 678.7L364.3 678.5L364.6 679.7L364.9 680.5L365.2 681.1L365.6 681.6L365.9 681.5L366.3 681.9" fill="none" stroke="url(#gh6)" stroke-width="0.8"/>
<path d="M144.4 732.1L144.8 732.2L145.1 732.2L145.4 732.2L145.8 731.8L146.2 732L146.5 732.3L146.8 732.2L147.2 732.1L147.6 731.9L147.9 731.9L148.2 731.9L148.6 732.2L148.9 732.1L149.3 731.8L149.7 732.1L150 732L150.3 732.3L150.7 732.1L151.1 732L151.4 731.8L151.8 731.8L152.1 731.9L152.4 732.1L152.8 731.8L153.2 731.8L153.5 732.3L153.8 732.1L154.2 732L154.6 732.2L154.9 732.2L155.2 731.9L155.6 732.2L155.9 732L156.3 732.3L156.7 732.1L157 731.8L157.3 732.3L157.7 732.3L158.1 731.8L158.4 731.8L158.8 732L159.1 732.2L159.4 732.2L159.8 731.9L160.2 732L160.5 732.1L160.8 731.9L161.2 732.3L161.6 732.1L161.9 731.8L162.2 731.8L162.6 732.1L162.9 731.9L163.3 731.8L163.7 732L164 732.2L164.3 732.3L164.7 732L165.1 732.1L165.4 732L165.8 732.3L166.1 731.8L166.4 732.2L166.8 732L167.2 732L167.5 732.1L167.8 732.2L168.2 732L168.6 732.1L168.9 732.3L169.2 732.2L169.6 732.3L169.9 731.8L170.3 732.2L170.7 731.8L171 732L171.3 731.8L171.7 732.1L172.1 732.2L172.4 732.3L172.8 732L173.1 731.9L173.4 732L173.8 731.8L174.2 732.3L174.5 732L174.8 731.9L175.2 731.8L175.6 732.2L175.9 731.8L176.2 732.3L176.6 732L176.9 732.1L177.3 732L177.7 732.2L178 732.1L178.3 732.1L178.7 732.1L179.1 732.1L179.4 732.2L179.8 732.2L180.1 732.1L180.4 731.8L180.8 731.9L181.2 732.2L181.5 732L181.8 732.2L182.2 732.1L182.6 731.8L182.9 732.1L183.2 732.3L183.6 732L183.9 732L184.3 732L184.7 731.8L185 732L185.3 732.1L185.7 732.2L186.1 732L186.4 731.9L186.8 732.1L187.1 732.1L187.4 732.2L187.8 731.9L188.2 731.8L188.5 732L188.8 731.9L189.2 732.1L189.6 732.2L189.9 732.3L190.2 732L190.6 731.8L190.9 731.9L191.3 732L191.7 731.9L192 732.1L192.3 732.1L192.7 732.2L193.1 731.9L193.4 731.9L193.8 732L194.1 731.9L194.4 731.8L194.8 732.3L195.2 732.2L195.5 732.1L195.8 731.9L196.2 732.2L196.6 732.1L196.9 732L197.2 732.2L197.6 732L197.9 732.3L198.3 732.1L198.7 732L199 731.9L199.3 732L199.7 732L200.1 732L200.4 732L200.8 732.1L201.1 732.1L201.4 732.2L201.8 731.8L202.2 731.9L202.5 731.9L202.8 731.9L203.2 732.1L203.6 732.2L203.9 732L204.2 732L204.6 731.9L204.9 731.8L205.3 732L205.7 732L206 731.9L206.3 731.8L206.7 731.9L207.1 731.9L207.4 731.7L207.8 731.7L208.1 732.2L208.4 731.7L208.8 732.2L209.2 731.9L209.5 731.9L209.8 731.7L210.2 732.1L210.6 732.2L210.9 731.7L211.2 731.9L211.6 731.9L211.9 731.9L212.3 732L212.7 732.1L213 731.9L213.3 732L213.7 731.9L214.1 731.6L214.4 731.6L214.8 732L215.1 731.9L215.4 732.1L215.8 731.8L216.2 732L216.5 732L216.8 731.6L217.2 731.8L217.6 731.6L217.9 732L218.2 732L218.6 731.8L218.9 731.7L219.3 732L219.7 731.8L220 731.8L220.3 731.8L220.7 731.9L221.1 731.8L221.4 732L221.8 732L222.1 732L222.4 731.6L222.8 731.9L223.2 731.7L223.5 732L223.8 731.5L224.2 732L224.6 731.6L224.9 731.7L225.2 731.5L225.6 731.5L225.9 732L226.3 732L226.7 731.8L227 732L227.3 731.5L227.7 731.9L228.1 731.6L228.4 731.4L228.8 731.6L229.1 731.4L229.4 731.6L229.8 731.7L230.2 731.4L230.5 731.8L230.8 731.6L231.2 731.7L231.6 731.6L231.9 731.8L232.2 731.4L232.6 731.4L232.9 731.5L233.3 731.6L233.7 731.4L234 731.4L234.3 731.9L234.7 731.4L235.1 731.8L235.4 731.8L235.8 731.7L236.1 731.7L236.4 731.6L236.8 731.3L237.2 731.8L237.5 731.5L237.8 731.6L238.2 731.8L238.6 731.3L238.9 731.3L239.2 731.6L239.6 731.3L239.9 731.6L240.3 731.4L240.7 731.3L241 731.4L241.3 731.6L241.7 731.8L242.1 731.5L242.4 731.5L242.8 731.6L243.1 731.5L243.4 731.8L243.8 731.6L244.2 731.5L244.5 731.5L244.8 731.4L245.2 731.6L245.6 731.6L245.9 731.3L246.2 731.6L246.6 731.6L246.9 731.4L247.3 731.5L247.7 731.4L248 731.2L248.3 731.2L248.7 731.3L249.1 731.2L249.4 731.3L249.8 731.5L250.1 731.2L250.4 731.6L250.8 731.6L251.2 731.4L251.5 731.6L251.8 731.3L252.2 731.4L252.6 731.5L252.9 731.2L253.2 731.6L253.6 731.4L253.9 731.5L254.3 731.1L254.7 731.5L255 731.4L255.3 731.2L255.7 731.4L256.1 731.1L256.4 731.5L256.8 731.6L257.1 731.6L257.4 731.3L257.8 731.3L258.1 731.3L258.5 731.3L258.9 731.1L259.2 731.4L259.6 731.5L259.9 731.4L260.2 731.1L260.6 731.1L260.9 731.5L261.3 731.5L261.6 731L262 731L262.4 731.4L262.7 731.2L263.1 731.5L263.4 731.2L263.8 731.4L264.1 731.1L264.4 731.4L264.8 731.2L265.1 731.3L265.5 731.2L265.9 731L266.2 731.2L266.6 730.9L266.9 731.1L267.2 731.3L267.6 731.3L267.9 731L268.3 731L268.6 731.4L269 731L269.4 731.3L269.7 731.1L270.1 730.9L270.4 730.9L270.8 731.3L271.1 731.3L271.4 731.3L271.8 731.1L272.1 730.9L272.5 731L272.9 731L273.2 730.9L273.6 731.1L273.9 731.2L274.2 730.9L274.6 731L274.9 730.9L275.3 730.8L275.6 731.1L276 731.2L276.4 731.3L276.7 731L277.1 731.2L277.4 731.2L277.8 731L278.1 730.9L278.4 730.9L278.8 731.1L279.1 730.9L279.5 731L279.9 730.8L280.2 730.9L280.6 730.8L280.9 731.2L281.2 730.8L281.6 731.3L281.9 730.8L282.3 731.3L282.6 730.9L283 731.1L283.4 731.2L283.7 730.8L284.1 731.2L284.4 730.9L284.8 731.2L285.1 731.1L285.4 731L285.8 730.9L286.1 730.9L286.5 731L286.9 730.7L287.2 731.2L287.6 731.1L287.9 731L288.2 730.9L288.6 730.8L288.9 730.7L289.3 731L289.6 730.8L290 730.8L290.4 731.1L290.7 731L291.1 730.9L291.4 730.8L291.8 730.9L292.1 731.1L292.4 731L292.8 730.9L293.1 731.1L293.5 730.7L293.9 730.6L294.2 730.7L294.6 731L294.9 730.8L295.2 731.1L295.6 731L295.9 730.9L296.3 730.8L296.6 730.8L297 730.8L297.4 731L297.7 730.8L298.1 730.7L298.4 730.6L298.8 730.9L299.1 730.8L299.4 730.6L299.8 731L300.1 730.7L300.5 731L300.9 730.6L301.2 730.7L301.6 731L301.9 731L302.2 730.5L302.6 730.8L302.9 730.7L303.3 730.7L303.6 730.8L304 730.9L304.4 730.6L304.7 730.8L305.1 730.7L305.4 730.5L305.8 730.4L306.1 730.8L306.4 730.8L306.8 730.5L307.1 730.7L307.5 730.5L307.9 730.7L308.2 730.9L308.6 730.8L308.9 730.4L309.2 730.6L309.6 730.4L309.9 730.5L310.3 730.5L310.6 730.8L311 730.7L311.4 730.9L311.7 730.7L312.1 730.8L312.4 730.4L312.8 730.8L313.1 730.7L313.4 730.9L313.8 730.8L314.1 730.5L314.5 730.6L314.9 730.6L315.2 730.4L315.6 730.5L315.9 730.7L316.2 730.4L316.6 730.4L316.9 730.5L317.3 730.5L317.6 730.3L318 730.5L318.4 730.8L318.7 730.3L319.1 730.4L319.4 730.6L319.8 730.4L320.1 730.3L320.4 730.4L320.8 730.5L321.1 730.3L321.5 730.7L321.9 730.7L322.2 730.5L322.6 730.5L322.9 730.4L323.2 730.4L323.6 730.4L323.9 730.5L324.3 730.3L324.6 730.4L325 730.6L325.4 730.4L325.7 730.5L326.1 730.3L326.4 730.3L326.8 730.2L327.1 730.3L327.4 730.4L327.8 730.3L328.1 730.5L328.5 730.4L328.9 730.1L329.2 730.6L329.6 730.4L329.9 730.4L330.2 730.3L330.6 730.5L330.9 730.3L331.3 730.6L331.6 730.1L332 730.6L332.4 730.3L332.7 730.2L333.1 730.3L333.4 730.5L333.8 730.4L334.1 730.1L334.4 730.3L334.8 730.3L335.1 730.1L335.5 730.3L335.9 730.1L336.2 730.2L336.6 730.1L336.9 730.2L337.2 730.5L337.6 730.4L337.9 730.4L338.3 730.4L338.6 730.2L339 730.3L339.4 730.3L339.7 730.5L340.1 730L340.4 730.2L340.8 730.4L341.1 730.1L341.4 730.5L341.8 730.4L342.1 730L342.5 730.1L342.9 730.3L343.2 730.4L343.6 730.1L343.9 730.3L344.2 730.3L344.6 730.3L344.9 730.1L345.3 730.3L345.6 730.4L346 730L346.4 730.1L346.7 730.4L347.1 730.4L347.4 729.9L347.8 730.1L348.1 730.1L348.4 729.9L348.8 730.4L349.1 730.3L349.5 730.3L349.9 730L350.2 730.3L350.6 730.1L350.9 729.9L351.2 730.2L351.6 730L351.9 730.3L352.3 730.1L352.6 730.2L353 730L353.4 730.1L353.7 730L354.1 729.8L354.4 729.8L354.8 729.9L355.1 729.9L355.4 729.8L355.8 730.1L356.1 730.3L356.5 729.9L356.9 730.1L357.2 730.1L357.6 729.8L357.9 730.1L358.2 730.2L358.6 729.8L358.9 730.3L359.3 730.2L359.6 729.9L360 730.2L360.4 729.9L360.7 730.3L361.1 730.1L361.4 730L361.8 729.9L362.1 729.8L362.4 729.9L362.8 730.1L363.1 729.8L363.5 730.2L363.9 730L364.2 730.2L364.6 729.8L364.9 729.9L365.2 730L365.6 729.7L365.9 730.1L366.3 729.8" fill="none" stroke="#2a6ff0" stroke-width="0.8"/>
<path d="M212.2 731.4L212.6 731.7L212.9 731.4L213.2 731.6L213.6 731.4L213.9 731.4L214.3 731.6L214.7 731.6L215 731.6L215.3 731.7L215.7 731.5L216.1 731.4L216.4 731.2L216.8 731.5L217.1 731.5L217.4 731.4L217.8 731.3L218.2 731.4L218.5 731.2L218.8 731.3L219.2 731.2L219.6 731.5L219.9 731.4L220.2 731.6L220.6 731.5L220.9 731.5L221.3 731.5L221.7 731.2L222 731.2L222.3 731.3L222.7 731.6L223.1 731.4L223.4 731.2L223.8 731.5L224.1 731.4L224.4 731.6L224.8 731.2L225.2 731.4L225.5 731.5L225.8 731.2L226.2 731.5L226.6 731.4L226.9 731.5L227.2 731.2L227.6 731.4L227.9 731.2L228.3 731.2L228.7 731.6L229 731.4L229.3 731.4L229.7 731.6L230.1 731.2L230.4 731.2L230.8 731.1L231.1 731.4L231.4 731.6L231.8 731.3L232.2 731.2L232.5 731.5L232.8 731.2L233.2 731.4L233.6 731.4L233.9 731.1L234.2 731.3L234.6 731.1L234.9 731.2L235.3 731.2L235.7 731.5L236 731.2L236.3 731.6L236.7 731.2L237.1 731.2L237.4 731.4L237.8 731.3L238.1 731.1L238.4 731.2L238.8 731.4L239.2 731.1L239.5 731.2L239.8 731.4L240.2 731.4L240.6 731.4L240.9 731.3L241.2 731.1L241.6 731.4L241.9 731.1L242.3 731.4L242.7 731.4L243 731.4L243.3 731.1L243.7 731.5L244.1 731.5L244.4 731.1L244.8 731.2L245.1 731.5L245.4 731.3L245.8 731.5L246.2 731.1L246.5 731.1L246.8 731.5L247.2 731.1L247.6 731.4L247.9 731L248.2 731.5L248.6 731L248.9 731.4L249.3 731.2L249.7 731.2L250 731.1L250.3 731.3L250.7 731.1L251.1 731.1L251.4 731.2L251.8 731.5L252.1 731.3L252.4 731.4L252.8 731L253.2 731.3L253.5 731L253.8 731.3L254.2 731.3L254.6 731.4L254.9 731.1L255.2 731.4L255.6 731.2L255.9 731.2L256.3 731L256.6 731L257 731.4L257.4 731.3L257.7 731.2L258.1 731L258.4 731.4L258.8 731.1L259.1 731.3L259.4 731.1L259.8 731.3L260.1 731.4L260.5 731L260.9 731L261.2 731.2L261.6 731.2L261.9 731.3L262.2 731.2L262.6 731.2L262.9 731.4L263.3 730.9L263.6 731.2L264 731.3L264.4 731.3L264.7 731.3L265.1 731.2L265.4 731.2L265.8 731L266.1 731.2L266.4 731.3L266.8 731.3L267.1 731L267.5 731.3L267.9 731.3L268.2 731.3L268.6 731.1L268.9 731.2L269.2 731L269.6 731.2L269.9 730.9L270.3 731.2L270.6 731.2L271 730.9L271.4 730.9L271.7 730.9L272.1 731L272.4 731.1L272.8 731.1L273.1 730.8L273.4 731.2L273.8 731.1L274.1 731L274.5 731L274.9 730.8L275.2 731.2L275.6 730.9L275.9 730.9L276.2 731.3L276.6 730.8L276.9 730.9L277.3 730.8L277.6 731L278 730.8L278.4 731L278.7 730.8L279.1 730.9L279.4 731.2L279.8 730.8L280.1 731.2L280.4 731L280.8 731.1L281.1 731.1L281.5 731.1L281.9 731.1L282.2 730.9L282.6 731.1L282.9 731L283.2 731.2L283.6 731.2L283.9 730.9L284.3 731L284.6 731L285 730.8L285.4 731.2L285.7 731.1L286.1 730.8L286.4 730.9L286.8 730.8L287.1 731.2L287.4 731L287.8 730.8L288.1 730.7L288.5 730.9L288.9 730.7L289.2 731L289.6 730.9L289.9 730.7L290.2 731.1L290.6 730.9L290.9 731.1L291.3 730.9L291.6 730.7L292 731L292.4 731.1L292.7 730.9L293.1 730.9L293.4 731.1L293.8 730.8L294.1 731L294.4 730.9L294.8 730.9L295.1 731.2L295.5 730.7L295.9 730.8L296.2 731L296.6 730.7L296.9 730.8L297.2 730.9L297.6 730.9L297.9 730.8L298.3 731L298.6 730.9L299 731.2L299.4 731.1L299.7 730.8L300.1 730.9L300.4 730.7L300.8 730.8L301.1 730.7L301.4 730.8L301.8 730.9L302.1 730.7L302.5 731L302.9 730.6L303.2 730.8L303.6 730.9L303.9 730.8L304 730.9L304.2 728.1L304.5 723.9L304.6 724.3L304.9 727L305.3 728.3L305.6 729.5L306 729.7L306.4 730.1L306.7 730.4L307.1 730.9L307.4 730.5L307.8 730.7L308.1 730.8L308.4 730.6L308.8 730.8L309.1 730.6L309.5 730.8L309.9 731L310.2 730.6L310.6 731L310.9 730.8L311.2 731L311.6 731L311.9 730.8L312.3 730.8L312.6 731L313 730.6L313.1 730.6L313.4 722.7L313.6 714.6L313.7 716.5L314.1 721.9L314.4 725.4L314.8 727.6L315.1 728.9L315.4 729.4L315.8 730.1L316.1 730.5L316.5 730.4L316.9 730.5L317.2 730.6L317.6 730.9L317.9 730.8L318.2 730.8L318.6 731L318.9 730.8L319.3 730.7L319.6 730.7L320 730.5L320.4 730.8L320.7 730.6L321.1 730.6L321.4 730.6L321.8 730.9L322.1 730.5L322.4 730.9L322.8 731L323.1 730.7L323.5 730.8L323.9 730.8L324.2 730.8L324.2 730.3L324.6 723L324.7 719.9L324.9 722.3L325.2 726L325.6 727.6L325.9 728.8L326.3 729.7L326.5 729.8L326.6 728.4L327 722.5L327 721.9L327.4 725.1L327.7 727.6L328.1 728.7L328.4 729.7L328.8 729.7L329.1 730.5L329.4 730.3L329.8 730.3L330.1 730.3L330.5 730.8L330.9 730.5L330.9 730.9L331.2 718.5L331.4 710.1L331.6 714L331.9 720.7L332.2 724.5L332.6 727L332.9 728.2L333.3 729.1L333.6 730L334 730L334.4 730.5L334.7 730.6L335.1 730.4L335.4 730.4L335.8 730.6L336.1 730.4L336.4 730.6L336.8 730.7L337.1 730.6L337.5 730.5L337.9 730.8L338.2 730.7L338.6 730.5L338.9 730.5L339.2 730.8L339.6 730.8L339.9 730.3L340.3 730.8L340.6 730.4L341 730.5L341.4 730.7L341.7 730.7L342.1 730.6L342.4 730.8L342.8 730.7L343.1 730.3L343.4 730.6L343.8 730.4L344.1 730.4L344.3 730.7L344.5 728.2L344.8 723.6L344.9 724.1L345.2 726.6L345.6 728.1L345.9 729L346.2 729.6L346.6 730L346.9 730L347.3 730.1L347.6 730.4L348 730.2L348.4 730.7L348.7 730.3L349.1 730.8L349.4 730.4L349.8 730.5L350.1 730.4L350.4 730.6L350.8 730.4L351.1 730.5L351.5 730.7L351.7 730.5L351.9 724.8L352.2 709.3L352.2 708.5L352.6 716.7L352.9 722.2L353.2 725.3L353.6 727.6L353.9 728.7L354.3 729.2L354.6 729.9L355 730.3L355.4 730.5L355.7 730.6L356.1 730.4L356.4 730.7L356.8 730.3L357.1 730.5L357.4 730.5L357.8 730.5L358.1 730.3L358.5 730.3L358.9 730.4L359.2 730.4L359.6 730.6L359.9 730.4L360.2 730.5L360.6 730.4L360.9 730.2L361.1 730.2L361.3 722.1L361.6 707.3L361.6 708L362 716.6L362.4 722.3L362.7 725.3L363.1 727.3L363.4 728.7L363.8 729.5L363.8 729.2L364.1 724.8L364.3 721.7L364.4 723.4L364.8 726.2L365.1 727.9L365.5 729L365.9 729.7L366.2 729.8" fill="none" stroke="#e01020" stroke-width="0.8"/>
<path d="M207.2 732.3L207.5 732.8L207.9 732.2L208.2 732.7L208.6 732.6L208.9 732.6L209.3 732.3L209.6 732.3L210 732.2L210.3 732.3L210.7 732L211 731.8L211.4 732L211.7 732L212.1 731.7L212.4 731.6L212.8 731.5L213.1 731.3L213.5 731.7L213.8 731.5L214.2 731.4L214.5 731.5L214.9 731.4L215.2 731.3L215.6 731.3L215.9 731.2L216.3 730.9L216.6 731L217 730.7L217.3 730.7L217.7 731L218 731L218.4 730.8L218.7 730.4L219.1 730.9L219.4 730.7L219.8 730.5L220.1 730.8L220.5 730.2L220.8 730.1L221.2 730.4L221.5 730.1L221.9 730.4L222.2 730.4L222.6 730L222.9 730.1L223.3 730.1L223.6 729.7L224 729.7L224.3 729.7L224.7 729.5L225 729.8L225.4 729.4L225.7 729.4L226.1 729.5L226.4 729.6L226.8 729.4L227.1 729.2L227.5 729L227.8 729.4L228.2 729.1L228.5 728.8L228.9 728.8L229.2 729.2L229.6 729L229.9 729.1L230.3 728.6L230.6 728.6L231 728.4L231.3 728.7L231.7 728.5L232 728.9L232.4 728.7L232.7 728.5L233.1 728.3L233.4 728.3L233.8 728.2L234.1 728.2L234.5 728L234.8 728.4L235.2 727.8L235.5 728.3L235.9 728.2L236.2 727.8L236.6 728.1L236.9 727.6L237.3 727.8L237.6 727.6L238 727.3L238.3 727.4L238.7 727.3L239 727.6L239.4 727.4L239.7 727.4L240.1 727.4L240.4 727.2L240.8 725.4L241.1 725.4L241.5 725.7L241.8 725.5L242.2 725.7L242.5 725.9L242.9 725.7L242.9 725.7L243.2 719.2L243.4 713.6L243.6 715.6L243.9 719.9L244.3 722.4L244.6 724.1L245 724.7L245.3 725.6L245.7 726.3L246 726.7L246.4 726.8L246.7 727.3L247.1 727.8L247.4 727.8L247.6 727.9L247.8 725.5L248.1 720.1L248.1 719.6L248.5 722.8L248.8 724.3L249.2 725.9L249.5 726.7L249.9 726.8L250.2 727.6L250.6 727.7L250.9 727.4L251.3 727.2L251.6 727.7L252 727.6L252 727.3L252.3 716.9L252.5 710.6L252.7 713.9L253 718.5L253.4 721.2L253.7 723.4L254.1 723.9L254.4 725.1L254.8 725.1L255.1 725.2L255.5 725.3L255.8 725.4L256.2 725.7L256.5 725.6L256.9 725.6L257.2 725.2L257.6 725.6L257.9 725.5L258.3 725.1L258.6 725.1L259 725L259.3 725.1L259.7 725L260 725.3L260.4 725.5L260.7 725.3L261.1 725.8L261.4 726L261.8 726L262.1 725.7L262.5 726.2L262.8 726.4L263.2 726.7L263.5 726.4L263.9 726.9L264.2 727.1L264.6 726.9L264.9 727.1L265.3 727.5L265.6 727.3L266 727.5L266.3 727.7L266.7 727.5L267 727.7L267.4 728.1L267.7 728.2L268.1 727.7L268.4 727.8L268.8 728L269.1 727.5L269.5 727.8L269.8 727.7L270.2 727.4L270.5 727L270.9 726.7L271.2 726.2L271.6 726.3L271.9 726.2L272.3 725.7L272.6 725.3L273 724.5L273.3 724.4L273.7 723.9L274 723.5L274.4 722.9L274.7 723.1L275.1 722.6L275.4 722.5L275.5 722.5L275.8 720.2L276 719.1L276.1 719.3L276.5 720L276.8 720.6L277.2 721.3L277.5 721.9L277.9 722.2L278.2 722.5L278.6 722.6L278.9 723L279.3 723.6L279.6 723.7L280 724.4L280.3 724.7L280.7 724.7L281 725L281.4 725.3L281.7 725.7L282.1 726.3L282.4 726.2L282.8 726.3L283.1 726.6L283.5 726.7L283.8 726.6L284.2 727L284.5 726.8L284.9 726.4L285.2 726.2L285.6 726.1L285.9 726.4L286.3 725.8L286.6 725.5L287 725.2L287.2 725L287.3 724.3L287.7 718.5L287.8 717.2L288 719L288.4 721.2L288.7 722.6L289.1 724L289.4 724.8L289.8 725.3L290.1 725.5L290.5 726.1L290.8 726.5L291.2 726.3L291.5 726.4L291.9 726.3L292.2 726.3L292.6 725.8L292.9 726.3L293.3 725.7L293.6 725.5L294 725.6L294.3 725.6L294.7 725.6L295 725.1L295.4 725.3L295.7 725L296.1 725.1L296.4 725.5L296.8 725.2L297.1 725.3L297.3 725.3L297.5 721.4L297.8 710.7L297.8 710.5L298.2 717.1L298.5 720.4L298.9 723.2L299.2 724.8L299.6 726.2L299.9 727.1L300.3 727.1L300.6 728.2L301 728.2L301.3 729.3L301.7 729.2L302 729.1L302.4 729.3L302.7 729.2L303.1 729.3L303.4 729L303.8 729.3L304.1 729.5L304.5 729.4L304.8 729L305.2 729.2L305.5 729.1L305.9 729.2L306.2 729.2L306.6 729.5L306.9 729L307.3 729.1L307.6 729.2L308 729L308.3 729.1L308.7 729.5L309 729L309.4 729.2L309.7 729.1L310.1 729.3L310.4 729.6L310.8 729.4L311.1 729.2L311.5 729.6L311.8 729.6L312.2 729L312.5 729.4L312.9 729.2L313.2 729.5L313.6 729.5L313.9 729.1L314.3 729.5L314.6 729.3L315 729.3L315.3 729.4L315.7 729.1L316 729L316.4 729.2L316.7 729.4L317.1 729.6L317.4 729.1L317.8 729L318.1 729L318.5 729.6L318.8 729.2L319.2 729.5L319.5 729.4L319.9 729.1L320.2 729.1L320.6 729.5L320.9 729.2L321.3 729.3L321.6 729.4L322 729L322.3 729.1L322.7 729.6L323 729.6L323.4 729.2L323.7 729.4L324.1 729.3L324.4 729.1L324.8 729.3L325.1 729.2L325.5 729L325.8 729.1L326.2 729.4L326.5 729.2L326.9 729L327.2 729.3L327.6 729.1L327.9 729.3L328.3 729.6L328.6 729.2L329 729.5L329.3 729L329.7 729.1L330 729.2L330.4 729L330.7 729.6L331.1 729.1L331.4 729L331.8 729.5L332.1 729.4L332.5 729.6L332.8 729.2L333.2 729.6L333.5 729.2L333.9 729.3L334.2 729.2L334.6 729.2L334.9 729L335.3 729.2L335.6 729.1L336 729.6L336.3 729.3L336.7 729.2L337 729L337.4 729.5L337.7 729.1L338.1 729.3L338.4 729L338.8 729.4L339.1 729.4L339.5 729.1L339.8 729.2L340.2 729.2L340.5 729.2L340.9 729.1L341.2 729.4L341.6 729.6L341.9 729L342.3 729.1L342.6 729.4L343 728.8L343.3 728.8L343.7 729L344 729.1L344.4 728.7L344.7 728.7L345.1 728.6L345.4 728.7L345.8 728.5L346.1 728.4L346.5 728.5L346.8 728.6L347.2 728.8L347.5 728.6L347.9 728.4L348.2 728.1L348.6 728.6L348.9 728.2L349.3 728L349.6 728.3L350 728.2L350.3 727.9L350.7 728.1L351 728.3L351.4 728L351.7 728.2L352.1 727.5L352.4 727.8L352.8 727.5L353.1 727.9L353.5 727.7L353.8 727.5L354.2 727.8L354.5 727.5L354.9 727.5L355.2 727.7L355.6 727.5L355.9 727L356.3 727.3L356.6 727.5L357 727L357.3 727.2L357.7 727.1L358 726.8L358.4 727.2L358.7 727.2L359.1 726.9L359.4 726.8L359.8 726.8L360.1 726.8L360.5 726.4L360.8 726.4L361.2 726.4L361.5 726.4L361.9 726.5L362.2 726.4L362.6 726.4L362.9 726.4L363.3 726.1L363.6 726.3L364 726.2L364.3 726.4L364.7 726.3L365 726.1L365.4 725.7L365.7 726.1L366.1 725.8L366.4 725.8" fill="none" stroke="#e2b833" stroke-width="0.8"/>
<text x="387.3" y="399.3" font-size="13.5" fill="#000" font-weight="bold">g</text>
<text x="457.5" y="413.2" font-size="9.3" fill="#222" text-anchor="middle" textLength="39" lengthAdjust="spacingAndGlyphs" stroke="#222" stroke-width="0.22">CELLECT</text>
<rect x="387.8" y="416.7" width="128.5" height="128.7" fill="#000" stroke="none" stroke-width="1"/>
<clipPath id="cpg"><rect x="387.8" y="416.7" width="128.5" height="128.7"/></clipPath>
<g clip-path="url(#cpg)">
<path d="M417 446h1.35v1.35h-1.35zM417.3 516.4h1.35v1.35h-1.35zM490.6 515.6h1.35v1.35h-1.35zM424.4 470h1.35v1.35h-1.35zM462.2 449.1h1.35v1.35h-1.35zM399.3 428.1h1.35v1.35h-1.35zM428.8 479.6h1.35v1.35h-1.35zM401 425.8h1.35v1.35h-1.35zM468.3 540h1.35v1.35h-1.35zM501.6 516.3h1.35v1.35h-1.35zM504.9 465.7h1.35v1.35h-1.35zM510 506.6h1.35v1.35h-1.35zM502.7 512.2h1.35v1.35h-1.35zM452.9 503.3h1.35v1.35h-1.35zM491.8 462.6h1.35v1.35h-1.35zM483.7 464.3h1.35v1.35h-1.35zM470.6 463.4h1.35v1.35h-1.35zM398.3 479.1h1.35v1.35h-1.35zM486.2 490.6h1.35v1.35h-1.35zM486.9 508.7h1.35v1.35h-1.35zM394 453h1.35v1.35h-1.35zM406.3 455.7h1.35v1.35h-1.35zM476 477.8h1.35v1.35h-1.35zM501.7 524.9h1.35v1.35h-1.35zM471.3 471.4h1.35v1.35h-1.35zM404.7 416.5h1.35v1.35h-1.35zM445.5 514.3h1.35v1.35h-1.35zM402 484.7h1.35v1.35h-1.35zM468.4 535.4h1.35v1.35h-1.35zM498.3 498.8h1.35v1.35h-1.35zM506.8 497.1h1.35v1.35h-1.35zM474.4 539.2h1.35v1.35h-1.35zM446.7 421.4h1.35v1.35h-1.35zM454.5 448.3h1.35v1.35h-1.35zM440 499h1.35v1.35h-1.35zM503.2 512.8h1.35v1.35h-1.35zM460 535.4h1.35v1.35h-1.35zM436.3 460.4h1.35v1.35h-1.35zM448.5 500.2h1.35v1.35h-1.35zM420.4 534.1h1.35v1.35h-1.35zM453.8 472.1h1.35v1.35h-1.35zM507.4 452.6h1.35v1.35h-1.35zM443.2 505.5h1.35v1.35h-1.35zM497.5 486.9h1.35v1.35h-1.35zM454 517.7h1.35v1.35h-1.35zM467 426h1.35v1.35h-1.35zM442.9 542.1h1.35v1.35h-1.35zM491.3 460.8h1.35v1.35h-1.35zM512.6 462.5h1.35v1.35h-1.35zM423.8 464h1.35v1.35h-1.35zM463.9 477.7h1.35v1.35h-1.35zM509.7 473.3h1.35v1.35h-1.35zM490.6 454.8h1.35v1.35h-1.35zM512.9 433h1.35v1.35h-1.35zM497.4 479h1.35v1.35h-1.35zM472.8 508.9h1.35v1.35h-1.35zM432.6 444.5h1.35v1.35h-1.35zM511.4 473.7h1.35v1.35h-1.35zM464.6 435.1h1.35v1.35h-1.35zM466.6 535.2h1.35v1.35h-1.35zM492.9 469.4h1.35v1.35h-1.35zM477.2 461.9h1.35v1.35h-1.35zM476 531.9h1.35v1.35h-1.35zM394.6 480.7h1.35v1.35h-1.35zM499.9 470.8h1.35v1.35h-1.35zM509.4 496.8h1.35v1.35h-1.35zM488.4 473.2h1.35v1.35h-1.35zM504.3 524.7h1.35v1.35h-1.35zM500.1 521.6h1.35v1.35h-1.35zM496.5 490.3h1.35v1.35h-1.35zM498.4 510.1h1.35v1.35h-1.35zM515 506.3h1.35v1.35h-1.35zM514.3 442.1h1.35v1.35h-1.35zM482.1 497.5h1.35v1.35h-1.35zM422.6 463.1h1.35v1.35h-1.35zM436.9 488.5h1.35v1.35h-1.35zM440.3 499.3h1.35v1.35h-1.35zM493.5 436.4h1.35v1.35h-1.35zM410.8 476h1.35v1.35h-1.35zM494.3 512.8h1.35v1.35h-1.35zM507.6 435.5h1.35v1.35h-1.35zM458.3 420.2h1.35v1.35h-1.35zM450.9 466.3h1.35v1.35h-1.35zM421.9 442.1h1.35v1.35h-1.35zM483.6 485.2h1.35v1.35h-1.35zM400.7 462.1h1.35v1.35h-1.35zM504.3 514.8h1.35v1.35h-1.35zM460.4 519.6h1.35v1.35h-1.35zM423.1 432.6h1.35v1.35h-1.35zM468.9 448.8h1.35v1.35h-1.35zM486.8 472.4h1.35v1.35h-1.35zM493.7 484.6h1.35v1.35h-1.35zM464.4 509.8h1.35v1.35h-1.35zM472.8 441.9h1.35v1.35h-1.35zM445.3 453.9h1.35v1.35h-1.35zM482.2 511.8h1.35v1.35h-1.35zM449.3 429h1.35v1.35h-1.35zM449 460.5h1.35v1.35h-1.35zM445.3 524.3h1.35v1.35h-1.35zM451.4 508.7h1.35v1.35h-1.35zM423.3 483.4h1.35v1.35h-1.35zM490 442.7h1.35v1.35h-1.35zM491.6 524.7h1.35v1.35h-1.35zM498.5 476h1.35v1.35h-1.35zM477.3 452.4h1.35v1.35h-1.35zM487.4 459.5h1.35v1.35h-1.35zM424.1 535.5h1.35v1.35h-1.35zM430 440.2h1.35v1.35h-1.35zM470.1 537h1.35v1.35h-1.35zM498 497.4h1.35v1.35h-1.35zM499 477.7h1.35v1.35h-1.35zM501 476.2h1.35v1.35h-1.35zM398.3 529.2h1.35v1.35h-1.35zM451 502.9h1.35v1.35h-1.35zM514.2 512.5h1.35v1.35h-1.35zM480.5 460.1h1.35v1.35h-1.35zM444.1 480.3h1.35v1.35h-1.35zM451.6 436.3h1.35v1.35h-1.35zM478.4 454.8h1.35v1.35h-1.35zM439.8 463.1h1.35v1.35h-1.35zM444.8 481.7h1.35v1.35h-1.35zM467.1 525.6h1.35v1.35h-1.35zM443.5 440.7h1.35v1.35h-1.35zM416.2 541h1.35v1.35h-1.35zM475.4 509.8h1.35v1.35h-1.35zM509.5 500.1h1.35v1.35h-1.35zM421.3 451.4h1.35v1.35h-1.35zM482.5 467h1.35v1.35h-1.35zM481.1 507.1h1.35v1.35h-1.35zM414.5 519.4h1.35v1.35h-1.35zM450.6 514.1h1.35v1.35h-1.35zM477.8 483.6h1.35v1.35h-1.35zM485.1 464.4h1.35v1.35h-1.35zM431.7 467.7h1.35v1.35h-1.35zM427.3 447.2h1.35v1.35h-1.35zM495.9 503.8h1.35v1.35h-1.35zM514.4 443.6h1.35v1.35h-1.35zM458.2 518.1h1.35v1.35h-1.35zM389.5 435h1.35v1.35h-1.35zM469.8 527.5h1.35v1.35h-1.35zM505.1 477h1.35v1.35h-1.35zM479.2 471.1h1.35v1.35h-1.35zM392.6 420.2h1.35v1.35h-1.35zM498.8 487.5h1.35v1.35h-1.35zM444.4 477h1.35v1.35h-1.35zM421.2 430.1h1.35v1.35h-1.35zM469.2 544.5h1.35v1.35h-1.35zM506.4 472.2h1.35v1.35h-1.35zM504.1 491.9h1.35v1.35h-1.35zM493.6 510.9h1.35v1.35h-1.35zM476.7 489.4h1.35v1.35h-1.35zM451.4 436.2h1.35v1.35h-1.35zM435.7 452.2h1.35v1.35h-1.35zM456.4 520.9h1.35v1.35h-1.35zM467.8 515.5h1.35v1.35h-1.35zM477.6 471.8h1.35v1.35h-1.35zM498.8 532h1.35v1.35h-1.35zM513.5 505h1.35v1.35h-1.35zM452.9 451.3h1.35v1.35h-1.35zM465.6 513.2h1.35v1.35h-1.35zM453.2 458.3h1.35v1.35h-1.35zM479.4 490.8h1.35v1.35h-1.35zM489.7 503.2h1.35v1.35h-1.35zM505.2 435.9h1.35v1.35h-1.35zM479.9 499.1h1.35v1.35h-1.35zM469.2 479.5h1.35v1.35h-1.35zM469.6 442.9h1.35v1.35h-1.35zM513.3 480h1.35v1.35h-1.35zM447.6 459.5h1.35v1.35h-1.35zM497.3 527.6h1.35v1.35h-1.35zM464.6 496.2h1.35v1.35h-1.35zM403 449.8h1.35v1.35h-1.35zM456 525h1.35v1.35h-1.35zM429.3 473.9h1.35v1.35h-1.35zM452.9 491.5h1.35v1.35h-1.35zM410.8 513.9h1.35v1.35h-1.35zM481.4 500.4h1.35v1.35h-1.35zM432.3 491.1h1.35v1.35h-1.35zM499 444.9h1.35v1.35h-1.35zM505.8 504.8h1.35v1.35h-1.35zM462.3 429.1h1.35v1.35h-1.35zM467.2 481.1h1.35v1.35h-1.35zM509.8 462.1h1.35v1.35h-1.35zM450 475.4h1.35v1.35h-1.35zM486.2 521.1h1.35v1.35h-1.35zM407.5 421.1h1.35v1.35h-1.35zM478.3 456.7h1.35v1.35h-1.35zM487.5 499.1h1.35v1.35h-1.35zM493.8 476.8h1.35v1.35h-1.35zM431.6 501h1.35v1.35h-1.35zM497.1 497.1h1.35v1.35h-1.35zM437.3 455.7h1.35v1.35h-1.35zM495.1 480.7h1.35v1.35h-1.35zM479.6 462.3h1.35v1.35h-1.35zM481.3 417.2h1.35v1.35h-1.35zM442.3 514.1h1.35v1.35h-1.35zM506.8 416.9h1.35v1.35h-1.35zM417.1 537h1.35v1.35h-1.35zM423.1 444.2h1.35v1.35h-1.35zM503.3 423.5h1.35v1.35h-1.35zM463.8 487.7h1.35v1.35h-1.35zM454.4 506.2h1.35v1.35h-1.35zM424.5 532.2h1.35v1.35h-1.35zM424.8 513.4h1.35v1.35h-1.35zM488.5 505.1h1.35v1.35h-1.35zM501.4 496.5h1.35v1.35h-1.35zM505.4 508.8h1.35v1.35h-1.35zM506.6 467.9h1.35v1.35h-1.35zM476.9 468.8h1.35v1.35h-1.35zM490.4 483.3h1.35v1.35h-1.35zM459.3 520.3h1.35v1.35h-1.35zM456 513.4h1.35v1.35h-1.35zM423.9 467.7h1.35v1.35h-1.35zM442.2 496.9h1.35v1.35h-1.35zM492.9 446.5h1.35v1.35h-1.35zM442.8 466.2h1.35v1.35h-1.35zM493 464h1.35v1.35h-1.35zM485.4 514.7h1.35v1.35h-1.35zM472.6 520.7h1.35v1.35h-1.35z" fill="#f020f0"/>
<path d="M490.9 482h1.35v1.35h-1.35zM458.1 460.2h1.35v1.35h-1.35zM439.8 463h1.35v1.35h-1.35zM514.7 479.9h1.35v1.35h-1.35zM457.9 512.3h1.35v1.35h-1.35zM426.5 429.3h1.35v1.35h-1.35zM491.7 516h1.35v1.35h-1.35zM450.2 464.4h1.35v1.35h-1.35zM499.7 436.9h1.35v1.35h-1.35zM513.5 512h1.35v1.35h-1.35zM480.8 419.7h1.35v1.35h-1.35zM464.4 470.9h1.35v1.35h-1.35zM496.3 455.7h1.35v1.35h-1.35zM422.6 514.9h1.35v1.35h-1.35zM475.2 538.8h1.35v1.35h-1.35zM510.3 532.6h1.35v1.35h-1.35zM478.4 486.8h1.35v1.35h-1.35zM491.8 513.8h1.35v1.35h-1.35zM444 482.6h1.35v1.35h-1.35zM438.7 445h1.35v1.35h-1.35zM492.1 509.2h1.35v1.35h-1.35zM476.9 503.9h1.35v1.35h-1.35zM482.5 475.5h1.35v1.35h-1.35zM419.8 524.8h1.35v1.35h-1.35zM447.1 472.3h1.35v1.35h-1.35zM502.1 463.6h1.35v1.35h-1.35zM489.9 459.5h1.35v1.35h-1.35zM501.5 425.2h1.35v1.35h-1.35zM421.8 423.6h1.35v1.35h-1.35zM456.3 468.6h1.35v1.35h-1.35zM480.6 483.5h1.35v1.35h-1.35zM493.4 443.5h1.35v1.35h-1.35zM503.6 503.5h1.35v1.35h-1.35zM500.6 462.7h1.35v1.35h-1.35zM502.1 482.2h1.35v1.35h-1.35zM491.5 478.2h1.35v1.35h-1.35zM474.8 454.1h1.35v1.35h-1.35zM463.5 473.1h1.35v1.35h-1.35zM468.8 463.1h1.35v1.35h-1.35zM484.1 497.8h1.35v1.35h-1.35zM489.8 458.1h1.35v1.35h-1.35zM492.3 483h1.35v1.35h-1.35zM472.2 473h1.35v1.35h-1.35zM458.6 462.8h1.35v1.35h-1.35zM450.7 455.2h1.35v1.35h-1.35zM481.8 484h1.35v1.35h-1.35zM511 529.2h1.35v1.35h-1.35zM467.6 451.1h1.35v1.35h-1.35zM489.2 494.9h1.35v1.35h-1.35zM431.6 443.5h1.35v1.35h-1.35zM480.8 447.4h1.35v1.35h-1.35zM505.1 475.3h1.35v1.35h-1.35zM468.8 497.1h1.35v1.35h-1.35zM460.9 462.8h1.35v1.35h-1.35zM475.3 456.6h1.35v1.35h-1.35zM455.9 448h1.35v1.35h-1.35zM487.5 446.5h1.35v1.35h-1.35zM430.9 471.1h1.35v1.35h-1.35zM416.2 515.2h1.35v1.35h-1.35zM431.2 502.5h1.35v1.35h-1.35zM453.2 439.1h1.35v1.35h-1.35zM451.2 457.1h1.35v1.35h-1.35zM489.2 507.1h1.35v1.35h-1.35zM487.1 464.9h1.35v1.35h-1.35zM508.7 532.4h1.35v1.35h-1.35zM511.3 482.1h1.35v1.35h-1.35zM510.9 479.5h1.35v1.35h-1.35zM416.3 451.6h1.35v1.35h-1.35zM408.7 510h1.35v1.35h-1.35zM458 491.9h1.35v1.35h-1.35zM496.1 466h1.35v1.35h-1.35zM509.8 454.5h1.35v1.35h-1.35zM496.1 459.9h1.35v1.35h-1.35zM470.1 456.5h1.35v1.35h-1.35zM512.9 470.9h1.35v1.35h-1.35zM491.6 508.9h1.35v1.35h-1.35zM465.5 464.5h1.35v1.35h-1.35zM447.9 542.2h1.35v1.35h-1.35zM389.8 500.6h1.35v1.35h-1.35zM514.3 517.3h1.35v1.35h-1.35zM502.6 498h1.35v1.35h-1.35zM498.4 509h1.35v1.35h-1.35zM464.3 473.4h1.35v1.35h-1.35zM444.5 488.6h1.35v1.35h-1.35zM443 514.7h1.35v1.35h-1.35zM440.5 500.2h1.35v1.35h-1.35zM465.8 535.3h1.35v1.35h-1.35zM458.8 525.6h1.35v1.35h-1.35zM493.3 473.5h1.35v1.35h-1.35zM510.4 492.1h1.35v1.35h-1.35zM456.8 542.1h1.35v1.35h-1.35zM476.4 476.1h1.35v1.35h-1.35zM423.7 444.5h1.35v1.35h-1.35zM490.9 468.1h1.35v1.35h-1.35zM463.1 427.7h1.35v1.35h-1.35zM450.9 540h1.35v1.35h-1.35zM483.9 516.4h1.35v1.35h-1.35zM502.7 494.2h1.35v1.35h-1.35zM502.1 501.8h1.35v1.35h-1.35zM484.1 442.2h1.35v1.35h-1.35zM398.1 459.2h1.35v1.35h-1.35zM425.7 518.2h1.35v1.35h-1.35zM398.2 521.8h1.35v1.35h-1.35zM488.5 449h1.35v1.35h-1.35zM431.3 460.1h1.35v1.35h-1.35zM494.1 422.3h1.35v1.35h-1.35zM485 474.2h1.35v1.35h-1.35zM457.9 428.9h1.35v1.35h-1.35zM448.2 521.7h1.35v1.35h-1.35zM453.3 525.7h1.35v1.35h-1.35zM473.8 518.3h1.35v1.35h-1.35zM492.4 440.6h1.35v1.35h-1.35zM421 492h1.35v1.35h-1.35zM509 485.3h1.35v1.35h-1.35zM448 423.8h1.35v1.35h-1.35zM503.6 516h1.35v1.35h-1.35zM459.6 419.3h1.35v1.35h-1.35zM453.8 436.8h1.35v1.35h-1.35zM490.4 518.5h1.35v1.35h-1.35zM493.1 473.4h1.35v1.35h-1.35zM426.9 478.6h1.35v1.35h-1.35zM453.8 462.4h1.35v1.35h-1.35zM428.4 423.8h1.35v1.35h-1.35zM503 428.9h1.35v1.35h-1.35zM463.2 456.7h1.35v1.35h-1.35zM423.8 522.3h1.35v1.35h-1.35zM473.1 471.9h1.35v1.35h-1.35zM497 518.2h1.35v1.35h-1.35zM503.8 444.1h1.35v1.35h-1.35zM474.4 449.7h1.35v1.35h-1.35zM449.3 521h1.35v1.35h-1.35zM396.9 431.3h1.35v1.35h-1.35zM487.2 493.2h1.35v1.35h-1.35zM446.8 420.1h1.35v1.35h-1.35zM468.2 522.7h1.35v1.35h-1.35zM415.3 479.6h1.35v1.35h-1.35zM397.4 519.7h1.35v1.35h-1.35zM449.1 500.7h1.35v1.35h-1.35zM434.4 486.4h1.35v1.35h-1.35zM445.7 451.4h1.35v1.35h-1.35zM505.4 488.6h1.35v1.35h-1.35zM479.7 475.1h1.35v1.35h-1.35zM430.4 478.4h1.35v1.35h-1.35zM450.5 496.2h1.35v1.35h-1.35zM463.3 510.3h1.35v1.35h-1.35zM498.3 485.5h1.35v1.35h-1.35zM456.4 494.6h1.35v1.35h-1.35zM392.4 518.5h1.35v1.35h-1.35zM501.4 487.4h1.35v1.35h-1.35zM472.7 539.3h1.35v1.35h-1.35zM442.6 481.1h1.35v1.35h-1.35zM490.3 489.5h1.35v1.35h-1.35zM440.9 439.6h1.35v1.35h-1.35zM480.6 479.7h1.35v1.35h-1.35zM471.3 536.6h1.35v1.35h-1.35zM469.2 467.4h1.35v1.35h-1.35zM507.2 524.2h1.35v1.35h-1.35zM504.3 485.7h1.35v1.35h-1.35zM465.1 513.4h1.35v1.35h-1.35zM434.2 493.2h1.35v1.35h-1.35zM416 445.7h1.35v1.35h-1.35zM389.6 456.7h1.35v1.35h-1.35zM508.2 512.7h1.35v1.35h-1.35zM488.3 472.3h1.35v1.35h-1.35zM443 472.3h1.35v1.35h-1.35zM506.2 513.5h1.35v1.35h-1.35zM497.7 497.6h1.35v1.35h-1.35zM420.1 497h1.35v1.35h-1.35zM462.1 450.4h1.35v1.35h-1.35zM435.7 512.4h1.35v1.35h-1.35zM412.3 430h1.35v1.35h-1.35zM388.7 467.8h1.35v1.35h-1.35zM458.1 494.6h1.35v1.35h-1.35zM443 456.8h1.35v1.35h-1.35zM423.9 457.5h1.35v1.35h-1.35zM501.9 473.3h1.35v1.35h-1.35zM486.8 465.9h1.35v1.35h-1.35zM496.7 465.1h1.35v1.35h-1.35zM431.9 516.7h1.35v1.35h-1.35zM492.5 442.6h1.35v1.35h-1.35zM487.3 475.6h1.35v1.35h-1.35zM451.1 513.7h1.35v1.35h-1.35zM415.6 526.7h1.35v1.35h-1.35zM447.2 488.1h1.35v1.35h-1.35zM510.8 494.2h1.35v1.35h-1.35zM490.6 530.1h1.35v1.35h-1.35zM442.8 470.7h1.35v1.35h-1.35zM388.7 505.9h1.35v1.35h-1.35zM468.9 444.8h1.35v1.35h-1.35zM465.6 465h1.35v1.35h-1.35zM498.6 498h1.35v1.35h-1.35zM428.7 496.1h1.35v1.35h-1.35zM413.5 426.2h1.35v1.35h-1.35zM478.5 458.6h1.35v1.35h-1.35zM486.7 450.2h1.35v1.35h-1.35zM504.8 502.3h1.35v1.35h-1.35zM480.5 487.6h1.35v1.35h-1.35zM452.5 433h1.35v1.35h-1.35zM491.1 498.9h1.35v1.35h-1.35zM463.8 424.6h1.35v1.35h-1.35zM493.3 456.7h1.35v1.35h-1.35zM420.7 424.3h1.35v1.35h-1.35zM506.1 446.2h1.35v1.35h-1.35zM480.8 501.4h1.35v1.35h-1.35zM491.1 472.9h1.35v1.35h-1.35zM488.7 491.5h1.35v1.35h-1.35zM449.7 501.5h1.35v1.35h-1.35zM434.9 518.7h1.35v1.35h-1.35zM484.6 472.7h1.35v1.35h-1.35zM473.6 462.8h1.35v1.35h-1.35zM461.2 491.9h1.35v1.35h-1.35zM451.8 531.5h1.35v1.35h-1.35zM451.4 443.1h1.35v1.35h-1.35zM466.4 512.3h1.35v1.35h-1.35zM470.8 430.3h1.35v1.35h-1.35zM398.8 456.1h1.35v1.35h-1.35zM493.9 423.2h1.35v1.35h-1.35zM437.3 483.2h1.35v1.35h-1.35zM429.7 498.5h1.35v1.35h-1.35zM412.6 459.4h1.35v1.35h-1.35zM461.5 525.1h1.35v1.35h-1.35zM455.4 505.2h1.35v1.35h-1.35zM424.5 466.9h1.35v1.35h-1.35zM452.1 482.8h1.35v1.35h-1.35zM483.5 510.9h1.35v1.35h-1.35zM441 506h1.35v1.35h-1.35zM419.9 479.9h1.35v1.35h-1.35zM501.7 468.8h1.35v1.35h-1.35zM432 419.2h1.35v1.35h-1.35zM491 504.5h1.35v1.35h-1.35zM442.7 495.6h1.35v1.35h-1.35zM461.2 532.8h1.35v1.35h-1.35zM408.1 431.2h1.35v1.35h-1.35zM481 453.3h1.35v1.35h-1.35zM465.9 451.4h1.35v1.35h-1.35zM482.6 498.7h1.35v1.35h-1.35zM484.4 447.9h1.35v1.35h-1.35zM416.2 488.2h1.35v1.35h-1.35zM449.7 432h1.35v1.35h-1.35zM470 509.1h1.35v1.35h-1.35zM453.1 458.2h1.35v1.35h-1.35zM439.8 489.3h1.35v1.35h-1.35zM390.5 456.6h1.35v1.35h-1.35zM487.4 478.2h1.35v1.35h-1.35zM488.4 489.1h1.35v1.35h-1.35zM504.5 499.3h1.35v1.35h-1.35zM442.5 467.6h1.35v1.35h-1.35zM450.5 461.8h1.35v1.35h-1.35zM478.9 476.7h1.35v1.35h-1.35zM468.1 457.5h1.35v1.35h-1.35zM423.6 439.5h1.35v1.35h-1.35zM483.3 465.1h1.35v1.35h-1.35zM477.1 449.3h1.35v1.35h-1.35zM401.9 453h1.35v1.35h-1.35zM495.9 473.5h1.35v1.35h-1.35zM388.9 538.1h1.35v1.35h-1.35zM488.3 477.8h1.35v1.35h-1.35zM513.8 480.4h1.35v1.35h-1.35zM412.8 481.7h1.35v1.35h-1.35zM485.8 514.6h1.35v1.35h-1.35zM504.7 478.4h1.35v1.35h-1.35zM479.2 522.7h1.35v1.35h-1.35zM453.7 484.3h1.35v1.35h-1.35zM515 484.8h1.35v1.35h-1.35zM455.6 499.5h1.35v1.35h-1.35zM477.7 510.1h1.35v1.35h-1.35zM425.9 505.5h1.35v1.35h-1.35zM503.8 510.3h1.35v1.35h-1.35zM417.8 504.5h1.35v1.35h-1.35zM391.8 534.7h1.35v1.35h-1.35zM475.1 480.4h1.35v1.35h-1.35zM404.9 481.2h1.35v1.35h-1.35zM434.8 441h1.35v1.35h-1.35zM499 448.4h1.35v1.35h-1.35zM423.8 477h1.35v1.35h-1.35zM483 503.2h1.35v1.35h-1.35zM427.6 508.3h1.35v1.35h-1.35zM512.7 520.5h1.35v1.35h-1.35zM492.5 462.2h1.35v1.35h-1.35zM438.7 467.8h1.35v1.35h-1.35zM513.2 505.1h1.35v1.35h-1.35zM485.9 530.4h1.35v1.35h-1.35zM476 444.2h1.35v1.35h-1.35zM435.3 538.1h1.35v1.35h-1.35zM490.5 498.3h1.35v1.35h-1.35zM405.7 496.9h1.35v1.35h-1.35zM398.1 503.4h1.35v1.35h-1.35zM473.3 532.7h1.35v1.35h-1.35zM467.8 459.6h1.35v1.35h-1.35zM442.2 482.2h1.35v1.35h-1.35zM504.6 492.7h1.35v1.35h-1.35zM447.8 499.2h1.35v1.35h-1.35zM493.9 502.2h1.35v1.35h-1.35zM446.7 483.9h1.35v1.35h-1.35zM508.7 500.3h1.35v1.35h-1.35zM436.3 508h1.35v1.35h-1.35zM504.2 426.9h1.35v1.35h-1.35zM391.8 461h1.35v1.35h-1.35zM426.6 507.8h1.35v1.35h-1.35zM434.5 438.3h1.35v1.35h-1.35zM446 520.1h1.35v1.35h-1.35zM495.1 500.3h1.35v1.35h-1.35zM505.7 496.6h1.35v1.35h-1.35zM494.1 452h1.35v1.35h-1.35zM392.4 432.3h1.35v1.35h-1.35zM478.3 442.6h1.35v1.35h-1.35zM460.3 508.1h1.35v1.35h-1.35zM465 521.7h1.35v1.35h-1.35zM479.6 451h1.35v1.35h-1.35zM492.4 457.9h1.35v1.35h-1.35zM449.8 476.8h1.35v1.35h-1.35zM506.9 416.5h1.35v1.35h-1.35zM468.5 509.3h1.35v1.35h-1.35zM485.1 501.7h1.35v1.35h-1.35zM481.1 473.3h1.35v1.35h-1.35zM476.8 506.1h1.35v1.35h-1.35zM459.2 454.1h1.35v1.35h-1.35zM454.6 522.7h1.35v1.35h-1.35zM411.9 456.2h1.35v1.35h-1.35zM484 417h1.35v1.35h-1.35zM488.9 509.5h1.35v1.35h-1.35zM487.6 471.7h1.35v1.35h-1.35zM433.2 479h1.35v1.35h-1.35zM499.7 477.2h1.35v1.35h-1.35zM432 458.9h1.35v1.35h-1.35zM428.6 418.9h1.35v1.35h-1.35zM471 447.5h1.35v1.35h-1.35zM399.9 452.6h1.35v1.35h-1.35zM457.8 440.4h1.35v1.35h-1.35zM428.5 529.7h1.35v1.35h-1.35zM459.2 506.7h1.35v1.35h-1.35zM501.5 522.9h1.35v1.35h-1.35zM439.3 451.6h1.35v1.35h-1.35zM401.4 480.6h1.35v1.35h-1.35zM477 463.6h1.35v1.35h-1.35zM470.9 510.7h1.35v1.35h-1.35zM500.9 488.9h1.35v1.35h-1.35zM472.5 529.9h1.35v1.35h-1.35zM479.6 469.1h1.35v1.35h-1.35zM492.3 488.7h1.35v1.35h-1.35zM444.4 488.9h1.35v1.35h-1.35zM454.1 456.2h1.35v1.35h-1.35zM487.1 518.8h1.35v1.35h-1.35zM503.9 516.7h1.35v1.35h-1.35zM433.4 430.3h1.35v1.35h-1.35zM447.1 450.1h1.35v1.35h-1.35zM478.8 531.8h1.35v1.35h-1.35zM455.4 487.5h1.35v1.35h-1.35zM467.6 464.3h1.35v1.35h-1.35zM493.4 428h1.35v1.35h-1.35zM471.7 457.4h1.35v1.35h-1.35zM463.7 440.1h1.35v1.35h-1.35zM440 455.4h1.35v1.35h-1.35zM396.8 476.5h1.35v1.35h-1.35zM506.2 485.6h1.35v1.35h-1.35zM453.6 512.6h1.35v1.35h-1.35zM453.6 488.2h1.35v1.35h-1.35zM422 464.7h1.35v1.35h-1.35zM477.4 514.6h1.35v1.35h-1.35zM512.2 488.7h1.35v1.35h-1.35zM487.5 488.6h1.35v1.35h-1.35zM396.5 455.2h1.35v1.35h-1.35zM448.7 448.9h1.35v1.35h-1.35zM477.3 465h1.35v1.35h-1.35zM493.6 463.6h1.35v1.35h-1.35zM399.8 459.5h1.35v1.35h-1.35zM482.7 436.2h1.35v1.35h-1.35zM453.1 520.3h1.35v1.35h-1.35zM488.7 423h1.35v1.35h-1.35zM471.1 510.7h1.35v1.35h-1.35zM454 436h1.35v1.35h-1.35zM491.8 476.4h1.35v1.35h-1.35zM452.5 456.2h1.35v1.35h-1.35zM423.2 507.7h1.35v1.35h-1.35zM457.8 477h1.35v1.35h-1.35zM503.1 505h1.35v1.35h-1.35zM487 484.9h1.35v1.35h-1.35zM505.3 422.6h1.35v1.35h-1.35zM500.9 491.3h1.35v1.35h-1.35zM497.5 476.9h1.35v1.35h-1.35zM442.2 453.7h1.35v1.35h-1.35zM487.8 438h1.35v1.35h-1.35zM444.3 488.7h1.35v1.35h-1.35zM463.2 526.2h1.35v1.35h-1.35zM441.1 480.1h1.35v1.35h-1.35zM480.8 445.4h1.35v1.35h-1.35zM451.4 516.4h1.35v1.35h-1.35zM442.2 472.3h1.35v1.35h-1.35zM399.3 459.5h1.35v1.35h-1.35zM480.2 432.3h1.35v1.35h-1.35zM489.5 475.5h1.35v1.35h-1.35zM407 455h1.35v1.35h-1.35zM500.5 481h1.35v1.35h-1.35zM509.5 497.9h1.35v1.35h-1.35zM496.7 530.9h1.35v1.35h-1.35zM435.7 439.6h1.35v1.35h-1.35zM502.4 496.9h1.35v1.35h-1.35zM460.4 519.1h1.35v1.35h-1.35zM477.3 527.6h1.35v1.35h-1.35zM424.2 536.7h1.35v1.35h-1.35zM464.7 455.4h1.35v1.35h-1.35zM426.6 482.8h1.35v1.35h-1.35zM480.2 523.4h1.35v1.35h-1.35zM439.9 530.4h1.35v1.35h-1.35zM417.5 442.8h1.35v1.35h-1.35zM460.2 422.9h1.35v1.35h-1.35zM488.4 489.7h1.35v1.35h-1.35zM449.2 482.6h1.35v1.35h-1.35zM481.5 452.1h1.35v1.35h-1.35zM496.3 494h1.35v1.35h-1.35zM455.8 428.2h1.35v1.35h-1.35zM490.1 424.8h1.35v1.35h-1.35zM482.2 467.4h1.35v1.35h-1.35zM432.2 457h1.35v1.35h-1.35zM457.7 495.8h1.35v1.35h-1.35zM476.3 463h1.35v1.35h-1.35zM461.7 452.2h1.35v1.35h-1.35zM487.1 444.6h1.35v1.35h-1.35zM445 443.8h1.35v1.35h-1.35zM420.2 480.6h1.35v1.35h-1.35zM473.3 511.3h1.35v1.35h-1.35zM467.1 416.6h1.35v1.35h-1.35zM406.9 489.7h1.35v1.35h-1.35zM452.8 421.2h1.35v1.35h-1.35zM421.8 491.2h1.35v1.35h-1.35zM499.5 515.4h1.35v1.35h-1.35zM416.8 467.3h1.35v1.35h-1.35zM440.7 505.5h1.35v1.35h-1.35zM491.7 427.8h1.35v1.35h-1.35zM510.3 517.3h1.35v1.35h-1.35zM496.6 488.2h1.35v1.35h-1.35zM435.8 456.4h1.35v1.35h-1.35zM494.5 502.9h1.35v1.35h-1.35zM497.1 483.8h1.35v1.35h-1.35zM488.4 464.2h1.35v1.35h-1.35zM446.1 417h1.35v1.35h-1.35zM431.6 527.2h1.35v1.35h-1.35zM477.8 426.1h1.35v1.35h-1.35zM424.5 508.8h1.35v1.35h-1.35zM488.9 529.3h1.35v1.35h-1.35zM482 521.7h1.35v1.35h-1.35zM476.4 450.9h1.35v1.35h-1.35zM474.2 468.1h1.35v1.35h-1.35zM392.4 477.3h1.35v1.35h-1.35zM483.1 520.3h1.35v1.35h-1.35zM464.5 484.1h1.35v1.35h-1.35zM515 485.2h1.35v1.35h-1.35zM508.9 457.2h1.35v1.35h-1.35zM435.2 474.6h1.35v1.35h-1.35zM448.7 536h1.35v1.35h-1.35zM448.7 511.7h1.35v1.35h-1.35zM441.3 513.7h1.35v1.35h-1.35zM446.7 495.3h1.35v1.35h-1.35zM429.1 467.7h1.35v1.35h-1.35zM484.9 497.1h1.35v1.35h-1.35zM455.8 499.6h1.35v1.35h-1.35zM484.6 421.6h1.35v1.35h-1.35zM457.6 448.5h1.35v1.35h-1.35zM487.2 506.1h1.35v1.35h-1.35zM473.2 531.9h1.35v1.35h-1.35zM398.3 453.7h1.35v1.35h-1.35zM458.2 423.5h1.35v1.35h-1.35zM493.1 493.1h1.35v1.35h-1.35zM447.8 474.5h1.35v1.35h-1.35zM427.4 438.7h1.35v1.35h-1.35zM421.5 495.2h1.35v1.35h-1.35zM424.4 476h1.35v1.35h-1.35zM464.8 523.4h1.35v1.35h-1.35zM434.5 479.8h1.35v1.35h-1.35zM485.4 463.6h1.35v1.35h-1.35zM478 435.1h1.35v1.35h-1.35zM457.3 421h1.35v1.35h-1.35zM468.4 456.5h1.35v1.35h-1.35zM513.1 441.3h1.35v1.35h-1.35zM493.2 478.1h1.35v1.35h-1.35zM426.2 487.5h1.35v1.35h-1.35zM511.3 461.7h1.35v1.35h-1.35zM417.8 496.8h1.35v1.35h-1.35zM428.3 433.1h1.35v1.35h-1.35zM500.4 497h1.35v1.35h-1.35zM454.6 480.6h1.35v1.35h-1.35zM398.7 431.6h1.35v1.35h-1.35zM436.5 514h1.35v1.35h-1.35zM481.9 439h1.35v1.35h-1.35zM490.3 513.3h1.35v1.35h-1.35zM499.9 448.7h1.35v1.35h-1.35zM457.6 463.2h1.35v1.35h-1.35zM450.3 438.9h1.35v1.35h-1.35zM476 522.3h1.35v1.35h-1.35zM449.6 525.3h1.35v1.35h-1.35zM470.6 531h1.35v1.35h-1.35zM441.8 439h1.35v1.35h-1.35zM422 530.2h1.35v1.35h-1.35zM497.7 499.5h1.35v1.35h-1.35zM459.6 494.1h1.35v1.35h-1.35zM413 450.8h1.35v1.35h-1.35zM472.8 491.8h1.35v1.35h-1.35zM493.6 435.7h1.35v1.35h-1.35zM449.7 462.6h1.35v1.35h-1.35zM484.5 503.6h1.35v1.35h-1.35zM424.6 501.1h1.35v1.35h-1.35z" fill="#f2ee10"/>
</g>
<rect x="519.1" y="416.7" width="8.2" height="128.7" fill="#000" stroke="none" stroke-width="1"/>
<clipPath id="cpgs"><rect x="519.1" y="416.7" width="8.2" height="128.7"/></clipPath>
<g clip-path="url(#cpgs)">
<path d="M524.7 496.4h1.5v1.5h-1.5zM526 466h1.5v1.5h-1.5zM520.3 432.5h1.5v1.5h-1.5zM525.6 473.3h1.5v1.5h-1.5zM526.2 507.6h1.5v1.5h-1.5zM522.2 527.3h1.5v1.5h-1.5zM521.4 500.7h1.5v1.5h-1.5zM521.5 519.7h1.5v1.5h-1.5zM523.5 512h1.5v1.5h-1.5zM519.5 439.7h1.5v1.5h-1.5zM523.8 453.6h1.5v1.5h-1.5zM519.2 531.1h1.5v1.5h-1.5zM520.3 538.5h1.5v1.5h-1.5zM522 474.9h1.5v1.5h-1.5zM520.4 490h1.5v1.5h-1.5zM526.3 455h1.5v1.5h-1.5zM524.6 506.8h1.5v1.5h-1.5zM520.1 476.2h1.5v1.5h-1.5zM526.4 424.8h1.5v1.5h-1.5zM521.1 531.7h1.5v1.5h-1.5zM521.7 483.4h1.5v1.5h-1.5zM524.1 512.1h1.5v1.5h-1.5zM526.3 511h1.5v1.5h-1.5zM519.6 465.8h1.5v1.5h-1.5zM518.9 535.2h1.5v1.5h-1.5zM522.1 431.8h1.5v1.5h-1.5zM519.2 536.5h1.5v1.5h-1.5zM522.8 486.9h1.5v1.5h-1.5zM519.7 494.6h1.5v1.5h-1.5zM523.5 501.8h1.5v1.5h-1.5zM523.8 426.2h1.5v1.5h-1.5zM518.6 544.6h1.5v1.5h-1.5zM522.5 462.9h1.5v1.5h-1.5zM522.3 528.8h1.5v1.5h-1.5zM520.5 512.1h1.5v1.5h-1.5zM519.3 442.3h1.5v1.5h-1.5zM521.7 487.4h1.5v1.5h-1.5zM518.4 541.9h1.5v1.5h-1.5zM518.5 456h1.5v1.5h-1.5zM519.2 448.6h1.5v1.5h-1.5zM523 416.9h1.5v1.5h-1.5zM522 531.9h1.5v1.5h-1.5zM522.7 515.4h1.5v1.5h-1.5zM519 464.4h1.5v1.5h-1.5zM525 419.9h1.5v1.5h-1.5zM522.9 509.8h1.5v1.5h-1.5zM518.7 538.6h1.5v1.5h-1.5zM520.2 490.4h1.5v1.5h-1.5zM518.9 530.8h1.5v1.5h-1.5zM521 450.9h1.5v1.5h-1.5zM519.3 541.2h1.5v1.5h-1.5zM519.9 493.2h1.5v1.5h-1.5zM525.5 494h1.5v1.5h-1.5zM524.7 421h1.5v1.5h-1.5zM518.8 477.5h1.5v1.5h-1.5zM522.3 442.5h1.5v1.5h-1.5zM521.4 472.7h1.5v1.5h-1.5zM520 422.8h1.5v1.5h-1.5zM522.4 489.2h1.5v1.5h-1.5zM525.7 450h1.5v1.5h-1.5zM520 523.2h1.5v1.5h-1.5zM520.1 465.8h1.5v1.5h-1.5zM520.8 536.3h1.5v1.5h-1.5zM520 529.8h1.5v1.5h-1.5zM518.6 505.3h1.5v1.5h-1.5zM522.2 530.9h1.5v1.5h-1.5zM521.4 529.3h1.5v1.5h-1.5zM522.8 435.3h1.5v1.5h-1.5zM519.6 441h1.5v1.5h-1.5zM520.7 434.1h1.5v1.5h-1.5zM523.1 525.3h1.5v1.5h-1.5zM519.2 498.9h1.5v1.5h-1.5zM526.5 442.1h1.5v1.5h-1.5zM519.5 540.2h1.5v1.5h-1.5z" fill="#f020f0"/>
<path d="M520.8 518.6h1.5v1.5h-1.5zM519.8 481.8h1.5v1.5h-1.5zM520.5 508.6h1.5v1.5h-1.5zM521.4 501.5h1.5v1.5h-1.5zM521.8 489.6h1.5v1.5h-1.5zM524 463.2h1.5v1.5h-1.5zM518.7 540.2h1.5v1.5h-1.5zM520.6 523.7h1.5v1.5h-1.5zM526.2 452.9h1.5v1.5h-1.5zM522.7 452.9h1.5v1.5h-1.5zM520.8 505.2h1.5v1.5h-1.5zM526 435h1.5v1.5h-1.5zM526.5 487.4h1.5v1.5h-1.5zM524.1 470.5h1.5v1.5h-1.5zM520.4 521.1h1.5v1.5h-1.5zM523.4 481.7h1.5v1.5h-1.5zM518.6 487.7h1.5v1.5h-1.5zM518.6 529.6h1.5v1.5h-1.5zM524.5 425.9h1.5v1.5h-1.5zM522.4 484.1h1.5v1.5h-1.5zM519.8 537.5h1.5v1.5h-1.5zM519.5 469.3h1.5v1.5h-1.5zM523.2 447.6h1.5v1.5h-1.5zM525.4 510.7h1.5v1.5h-1.5zM525.9 507.4h1.5v1.5h-1.5zM525.5 506.8h1.5v1.5h-1.5zM526.5 514.3h1.5v1.5h-1.5zM523.3 507.3h1.5v1.5h-1.5zM518.5 529h1.5v1.5h-1.5zM520.1 515.9h1.5v1.5h-1.5zM523 527.5h1.5v1.5h-1.5zM524 460.1h1.5v1.5h-1.5zM523.7 466.7h1.5v1.5h-1.5zM524.7 500.3h1.5v1.5h-1.5zM524.3 472.5h1.5v1.5h-1.5zM518.8 542.4h1.5v1.5h-1.5zM520.3 491.9h1.5v1.5h-1.5zM520.2 418.1h1.5v1.5h-1.5zM523.8 466.4h1.5v1.5h-1.5zM523.2 509.1h1.5v1.5h-1.5zM524.2 440.7h1.5v1.5h-1.5zM525.3 479.6h1.5v1.5h-1.5zM520.6 495h1.5v1.5h-1.5zM519.3 540.5h1.5v1.5h-1.5zM525.9 474.7h1.5v1.5h-1.5zM519.2 536.6h1.5v1.5h-1.5zM522.7 516.3h1.5v1.5h-1.5zM526.4 504.4h1.5v1.5h-1.5zM521.8 438.7h1.5v1.5h-1.5zM520.3 478.2h1.5v1.5h-1.5zM524 493h1.5v1.5h-1.5zM523 473.1h1.5v1.5h-1.5zM519.7 531.2h1.5v1.5h-1.5zM518.9 542.2h1.5v1.5h-1.5zM519 445h1.5v1.5h-1.5zM525.4 454.1h1.5v1.5h-1.5zM524.6 525.2h1.5v1.5h-1.5zM523.8 480.2h1.5v1.5h-1.5zM520.8 440.6h1.5v1.5h-1.5zM518.8 540.1h1.5v1.5h-1.5zM525.3 436.6h1.5v1.5h-1.5zM518.6 509.1h1.5v1.5h-1.5zM525.7 455.7h1.5v1.5h-1.5zM518.7 421.3h1.5v1.5h-1.5zM525.3 491.5h1.5v1.5h-1.5zM523.1 530.2h1.5v1.5h-1.5zM520.7 419.9h1.5v1.5h-1.5zM523.3 445.9h1.5v1.5h-1.5zM520.4 454.1h1.5v1.5h-1.5zM524.4 439.7h1.5v1.5h-1.5zM524.1 508.5h1.5v1.5h-1.5zM523.2 504.5h1.5v1.5h-1.5zM518.5 488.9h1.5v1.5h-1.5zM520.4 452h1.5v1.5h-1.5zM523.6 421.9h1.5v1.5h-1.5zM519.4 437.1h1.5v1.5h-1.5zM523.1 459.7h1.5v1.5h-1.5zM526.4 422.9h1.5v1.5h-1.5zM525.1 474.2h1.5v1.5h-1.5zM521.8 439.7h1.5v1.5h-1.5zM522.3 439h1.5v1.5h-1.5zM524.2 474.8h1.5v1.5h-1.5zM525.6 451.5h1.5v1.5h-1.5zM520.8 494.4h1.5v1.5h-1.5zM526.3 491.4h1.5v1.5h-1.5zM523.5 503.5h1.5v1.5h-1.5zM521.6 506.1h1.5v1.5h-1.5zM521 428.5h1.5v1.5h-1.5zM525.1 485.5h1.5v1.5h-1.5zM520.5 468.2h1.5v1.5h-1.5zM525.4 512h1.5v1.5h-1.5zM519.4 507.7h1.5v1.5h-1.5zM520.6 463.2h1.5v1.5h-1.5zM523.6 483.3h1.5v1.5h-1.5zM525.2 423.4h1.5v1.5h-1.5zM522.2 528.7h1.5v1.5h-1.5zM518.7 480.5h1.5v1.5h-1.5zM523.4 495.8h1.5v1.5h-1.5zM518.5 508.4h1.5v1.5h-1.5zM524.2 470h1.5v1.5h-1.5zM521.1 491.8h1.5v1.5h-1.5zM525.7 502.3h1.5v1.5h-1.5zM520.8 498.3h1.5v1.5h-1.5zM520.2 519.7h1.5v1.5h-1.5zM525 518.4h1.5v1.5h-1.5zM523.6 495.1h1.5v1.5h-1.5zM525.5 456.4h1.5v1.5h-1.5zM519.1 495.5h1.5v1.5h-1.5zM524.3 491.3h1.5v1.5h-1.5zM522.6 480.9h1.5v1.5h-1.5zM520.2 498.3h1.5v1.5h-1.5zM524.3 420.6h1.5v1.5h-1.5zM523.2 445.5h1.5v1.5h-1.5zM519.8 539.9h1.5v1.5h-1.5zM519.7 539.6h1.5v1.5h-1.5zM524.3 483.6h1.5v1.5h-1.5zM521 439.7h1.5v1.5h-1.5zM520.1 459.4h1.5v1.5h-1.5zM520.1 448h1.5v1.5h-1.5zM522.2 432.8h1.5v1.5h-1.5zM523 477.9h1.5v1.5h-1.5zM518.7 454h1.5v1.5h-1.5zM520.4 427.1h1.5v1.5h-1.5zM519.7 468.6h1.5v1.5h-1.5zM520.9 461.5h1.5v1.5h-1.5zM518.4 423.3h1.5v1.5h-1.5zM522 490.6h1.5v1.5h-1.5zM520.5 512.1h1.5v1.5h-1.5zM520.3 430.1h1.5v1.5h-1.5zM524 470.2h1.5v1.5h-1.5zM522.1 449.1h1.5v1.5h-1.5zM520.2 442.3h1.5v1.5h-1.5zM522.9 470.2h1.5v1.5h-1.5zM518.6 438.7h1.5v1.5h-1.5zM520 509.4h1.5v1.5h-1.5zM521.1 527.7h1.5v1.5h-1.5zM522.9 479.4h1.5v1.5h-1.5zM520 432.5h1.5v1.5h-1.5zM524.7 509.7h1.5v1.5h-1.5zM524.5 481.2h1.5v1.5h-1.5zM519.6 443.5h1.5v1.5h-1.5zM522 526.6h1.5v1.5h-1.5zM518.6 544.5h1.5v1.5h-1.5zM523 530.4h1.5v1.5h-1.5zM520.2 512.3h1.5v1.5h-1.5zM518.6 509.9h1.5v1.5h-1.5zM518.4 542.8h1.5v1.5h-1.5zM523.7 507.6h1.5v1.5h-1.5zM520.8 516.3h1.5v1.5h-1.5zM523.2 421.7h1.5v1.5h-1.5zM526.3 439h1.5v1.5h-1.5zM518.4 517.5h1.5v1.5h-1.5zM520.2 497.1h1.5v1.5h-1.5zM518.7 429.9h1.5v1.5h-1.5zM524 464.7h1.5v1.5h-1.5zM519.3 517.8h1.5v1.5h-1.5zM526 443.4h1.5v1.5h-1.5zM521.3 503.9h1.5v1.5h-1.5zM525.1 461.9h1.5v1.5h-1.5zM518.9 496h1.5v1.5h-1.5zM522.1 425.5h1.5v1.5h-1.5zM521.7 497.8h1.5v1.5h-1.5zM522.9 433.4h1.5v1.5h-1.5zM518.7 541.6h1.5v1.5h-1.5zM519.6 539.2h1.5v1.5h-1.5zM525.3 461.6h1.5v1.5h-1.5zM519.6 445.3h1.5v1.5h-1.5zM521.6 501.4h1.5v1.5h-1.5zM522.8 481.9h1.5v1.5h-1.5zM521 495h1.5v1.5h-1.5zM520.3 483.8h1.5v1.5h-1.5zM518.6 544.5h1.5v1.5h-1.5zM524 493.5h1.5v1.5h-1.5zM525.9 451.3h1.5v1.5h-1.5zM519.8 505.4h1.5v1.5h-1.5zM518.7 543.6h1.5v1.5h-1.5zM519.4 541h1.5v1.5h-1.5zM518.9 542.7h1.5v1.5h-1.5zM520 524h1.5v1.5h-1.5zM524.6 431.4h1.5v1.5h-1.5zM520.7 454.7h1.5v1.5h-1.5zM519.4 540h1.5v1.5h-1.5zM518.6 420.2h1.5v1.5h-1.5zM525.1 468.2h1.5v1.5h-1.5zM520.5 425.6h1.5v1.5h-1.5zM520.6 442h1.5v1.5h-1.5zM522.1 494.6h1.5v1.5h-1.5zM519.6 509.5h1.5v1.5h-1.5zM523.6 507.9h1.5v1.5h-1.5zM521 481.9h1.5v1.5h-1.5zM525.9 422h1.5v1.5h-1.5zM519.4 540.4h1.5v1.5h-1.5zM525.5 497.7h1.5v1.5h-1.5zM518.5 540.8h1.5v1.5h-1.5zM524.3 504.3h1.5v1.5h-1.5zM522.2 515.8h1.5v1.5h-1.5zM525 473.4h1.5v1.5h-1.5zM519.1 538.7h1.5v1.5h-1.5zM519.6 429.7h1.5v1.5h-1.5zM519.1 527.9h1.5v1.5h-1.5zM523.1 487.3h1.5v1.5h-1.5zM520.3 431.6h1.5v1.5h-1.5zM520.4 519.1h1.5v1.5h-1.5zM524.3 450.2h1.5v1.5h-1.5zM524.5 449.8h1.5v1.5h-1.5zM518.5 531.8h1.5v1.5h-1.5zM524.8 436.9h1.5v1.5h-1.5zM524.1 453h1.5v1.5h-1.5zM519.1 524.3h1.5v1.5h-1.5zM522.8 425.3h1.5v1.5h-1.5zM518.4 542.2h1.5v1.5h-1.5zM519.5 543h1.5v1.5h-1.5zM524.2 489.9h1.5v1.5h-1.5zM522.1 484.7h1.5v1.5h-1.5zM525.2 474.9h1.5v1.5h-1.5zM519.3 471.2h1.5v1.5h-1.5zM521.3 518.6h1.5v1.5h-1.5zM519.8 493.4h1.5v1.5h-1.5zM525.6 499.9h1.5v1.5h-1.5zM524.9 470.2h1.5v1.5h-1.5zM521.2 449.2h1.5v1.5h-1.5zM519.6 463h1.5v1.5h-1.5zM526.5 450.1h1.5v1.5h-1.5zM523.9 461.6h1.5v1.5h-1.5zM525.9 457.6h1.5v1.5h-1.5zM522.3 429.7h1.5v1.5h-1.5zM525.3 445h1.5v1.5h-1.5zM524.3 505.5h1.5v1.5h-1.5zM525.2 478.9h1.5v1.5h-1.5zM524.2 424.8h1.5v1.5h-1.5zM525.8 495.4h1.5v1.5h-1.5zM519.5 444.5h1.5v1.5h-1.5zM519.1 529.7h1.5v1.5h-1.5zM521.6 504.6h1.5v1.5h-1.5zM520.6 459.7h1.5v1.5h-1.5zM526.1 441.8h1.5v1.5h-1.5zM520.1 537.5h1.5v1.5h-1.5zM524.6 525h1.5v1.5h-1.5zM520.8 515.9h1.5v1.5h-1.5zM518.4 485h1.5v1.5h-1.5zM523.1 501.2h1.5v1.5h-1.5zM523 525.1h1.5v1.5h-1.5zM522.6 461.2h1.5v1.5h-1.5zM525.5 513.3h1.5v1.5h-1.5zM522.9 480.8h1.5v1.5h-1.5zM518.5 508h1.5v1.5h-1.5zM518.9 543.5h1.5v1.5h-1.5zM522.2 511.9h1.5v1.5h-1.5zM522.1 461.5h1.5v1.5h-1.5zM519.2 534.2h1.5v1.5h-1.5zM520.2 487.4h1.5v1.5h-1.5zM525.5 514.7h1.5v1.5h-1.5zM522.7 528.7h1.5v1.5h-1.5zM519 445.4h1.5v1.5h-1.5zM521.2 532.6h1.5v1.5h-1.5zM526.5 459.6h1.5v1.5h-1.5zM520.1 528.4h1.5v1.5h-1.5zM520.9 486.7h1.5v1.5h-1.5zM524.7 483.8h1.5v1.5h-1.5zM520.6 537.5h1.5v1.5h-1.5zM522.3 532.4h1.5v1.5h-1.5zM526.4 495.2h1.5v1.5h-1.5zM519.2 532h1.5v1.5h-1.5zM522.3 486.5h1.5v1.5h-1.5zM519.1 416.6h1.5v1.5h-1.5zM520.3 521.4h1.5v1.5h-1.5zM520.4 446.3h1.5v1.5h-1.5zM520.8 502.5h1.5v1.5h-1.5zM524.5 416.7h1.5v1.5h-1.5zM526.4 433.3h1.5v1.5h-1.5zM519.1 541.8h1.5v1.5h-1.5zM523.4 524.1h1.5v1.5h-1.5zM521 534.7h1.5v1.5h-1.5zM518.9 424.5h1.5v1.5h-1.5zM522.5 485.5h1.5v1.5h-1.5zM525 431h1.5v1.5h-1.5zM518.8 533.6h1.5v1.5h-1.5zM519.8 479.6h1.5v1.5h-1.5zM520.4 514.6h1.5v1.5h-1.5zM519.9 505h1.5v1.5h-1.5zM522.6 504.5h1.5v1.5h-1.5zM522.6 529.2h1.5v1.5h-1.5zM524.8 479h1.5v1.5h-1.5zM522.5 463.3h1.5v1.5h-1.5zM524 424.5h1.5v1.5h-1.5zM519.7 505.2h1.5v1.5h-1.5zM522.5 419.2h1.5v1.5h-1.5zM519.7 484.2h1.5v1.5h-1.5zM519.5 541.4h1.5v1.5h-1.5zM524.1 484.8h1.5v1.5h-1.5zM519.7 478.4h1.5v1.5h-1.5zM524.5 459.8h1.5v1.5h-1.5zM526.2 468.6h1.5v1.5h-1.5zM520.4 539.1h1.5v1.5h-1.5zM524.3 421.7h1.5v1.5h-1.5zM522.5 433.3h1.5v1.5h-1.5zM521.5 427h1.5v1.5h-1.5zM521.3 421.2h1.5v1.5h-1.5zM520.6 420.4h1.5v1.5h-1.5zM520 538.8h1.5v1.5h-1.5zM522.2 457.7h1.5v1.5h-1.5zM519.9 522.4h1.5v1.5h-1.5zM519.5 453h1.5v1.5h-1.5zM524.1 504h1.5v1.5h-1.5zM518.9 452h1.5v1.5h-1.5zM518.7 437.9h1.5v1.5h-1.5zM521.6 527.6h1.5v1.5h-1.5zM519.9 510.5h1.5v1.5h-1.5zM519.5 457.6h1.5v1.5h-1.5zM523.5 511.8h1.5v1.5h-1.5zM521.3 430.6h1.5v1.5h-1.5zM525.1 456.9h1.5v1.5h-1.5zM525.1 446.9h1.5v1.5h-1.5zM525.5 448h1.5v1.5h-1.5zM524.7 511.4h1.5v1.5h-1.5zM521.8 496.9h1.5v1.5h-1.5zM523.3 424.3h1.5v1.5h-1.5zM518.9 454.9h1.5v1.5h-1.5zM519.5 534.4h1.5v1.5h-1.5zM523.6 460.2h1.5v1.5h-1.5zM521 458.8h1.5v1.5h-1.5zM519.5 429.8h1.5v1.5h-1.5zM522.1 417.3h1.5v1.5h-1.5zM523.1 474.3h1.5v1.5h-1.5zM521.4 442.6h1.5v1.5h-1.5zM522.6 508.8h1.5v1.5h-1.5zM525.3 468.4h1.5v1.5h-1.5zM522.7 531.3h1.5v1.5h-1.5z" fill="#f2ee10"/>
<path d="M526.4 487.1h1.5v1.5h-1.5zM523.1 429h1.5v1.5h-1.5zM519.4 417.4h1.5v1.5h-1.5zM521.6 459.4h1.5v1.5h-1.5zM524.6 472h1.5v1.5h-1.5zM525.9 509.3h1.5v1.5h-1.5zM519.5 537.4h1.5v1.5h-1.5zM523.2 501.6h1.5v1.5h-1.5zM525.3 513.7h1.5v1.5h-1.5zM518.7 544.5h1.5v1.5h-1.5zM521.3 430.1h1.5v1.5h-1.5zM525.9 518.7h1.5v1.5h-1.5zM519.6 539.1h1.5v1.5h-1.5zM519.5 495.6h1.5v1.5h-1.5zM519 539.4h1.5v1.5h-1.5zM525.4 495.7h1.5v1.5h-1.5zM525.9 449.1h1.5v1.5h-1.5zM524.4 433.5h1.5v1.5h-1.5z" fill="#ffffff"/>
</g>
<rect x="390.2" y="540" width="51.8" height="2.8" fill="#fff" stroke="none" stroke-width="1"/>
<text x="516.2" y="544.2" font-size="10" fill="#eee" text-anchor="end" textLength="31.7" lengthAdjust="spacingAndGlyphs" stroke="#eee" stroke-width="0.22"><tspan font-style="italic">n</tspan> = 850</text>
<rect x="393.2" y="553.3" width="8.7" height="8.4" fill="#f2ee10" stroke="#444" stroke-width="0.4"/>
<rect x="393.2" y="567.4" width="8.7" height="8.4" fill="#f020f0" stroke="#444" stroke-width="0.4"/>
<text x="407.2" y="560.6" font-size="9.3" fill="#222" textLength="55.4" lengthAdjust="spacingAndGlyphs" stroke="#222" stroke-width="0.22">Fully tracked</text>
<text x="407.2" y="574.8" font-size="9.3" fill="#222" textLength="68.9" lengthAdjust="spacingAndGlyphs" stroke="#222" stroke-width="0.22">Partially tracked</text>
<text x="389.6" y="599.2" font-size="13.5" fill="#000" font-weight="bold">h</text>
<text x="452.1" y="602.9" font-size="9.3" fill="#222" text-anchor="middle" textLength="26.4" lengthAdjust="spacingAndGlyphs" stroke="#222" stroke-width="0.22">Imaris</text>
<rect x="387.7" y="605" width="129" height="128.7" fill="#000" stroke="none" stroke-width="1"/>
<clipPath id="cph"><rect x="387.7" y="605" width="129" height="128.7"/></clipPath>
<g clip-path="url(#cph)">
<path d="M510.6 622.4h1.35v1.35h-1.35zM464.6 724.3h1.35v1.35h-1.35zM500.7 680.2h1.35v1.35h-1.35zM470.5 630.3h1.35v1.35h-1.35zM416.8 638.6h1.35v1.35h-1.35zM390.9 702.9h1.35v1.35h-1.35zM431.2 715.5h1.35v1.35h-1.35zM436 634.7h1.35v1.35h-1.35zM498.6 681.3h1.35v1.35h-1.35zM480.8 720.3h1.35v1.35h-1.35zM475.5 708.3h1.35v1.35h-1.35zM469.1 685.3h1.35v1.35h-1.35zM499.1 705.1h1.35v1.35h-1.35zM464.7 635.2h1.35v1.35h-1.35zM479.1 634.3h1.35v1.35h-1.35zM451.7 637h1.35v1.35h-1.35zM466.1 706.4h1.35v1.35h-1.35zM416.5 649.6h1.35v1.35h-1.35zM501.8 666.3h1.35v1.35h-1.35zM485.8 648.7h1.35v1.35h-1.35zM437.7 721.5h1.35v1.35h-1.35zM417.5 675.8h1.35v1.35h-1.35zM490.3 652.9h1.35v1.35h-1.35zM441.3 711.7h1.35v1.35h-1.35zM421.4 651.1h1.35v1.35h-1.35zM422.2 703h1.35v1.35h-1.35zM435.4 709.5h1.35v1.35h-1.35zM454.7 704.6h1.35v1.35h-1.35zM437.2 716.1h1.35v1.35h-1.35zM480.2 633.9h1.35v1.35h-1.35zM451.9 700.8h1.35v1.35h-1.35zM416.9 616.2h1.35v1.35h-1.35zM426.4 719.7h1.35v1.35h-1.35zM425.6 661.8h1.35v1.35h-1.35zM496.6 666.5h1.35v1.35h-1.35zM475.7 646.3h1.35v1.35h-1.35zM502.7 672.6h1.35v1.35h-1.35zM461.1 732.5h1.35v1.35h-1.35zM435.2 651.1h1.35v1.35h-1.35zM497.7 712.7h1.35v1.35h-1.35zM504.5 705.4h1.35v1.35h-1.35zM483.9 709.4h1.35v1.35h-1.35zM477 641.9h1.35v1.35h-1.35zM446.7 696h1.35v1.35h-1.35zM449.7 646.1h1.35v1.35h-1.35zM420.9 698.6h1.35v1.35h-1.35zM448.5 636h1.35v1.35h-1.35zM440.8 643.7h1.35v1.35h-1.35zM415.1 654.1h1.35v1.35h-1.35zM467.6 710.2h1.35v1.35h-1.35zM417 709.1h1.35v1.35h-1.35zM411.9 670.8h1.35v1.35h-1.35zM492.5 661.6h1.35v1.35h-1.35zM491.5 704.1h1.35v1.35h-1.35zM424.7 679.6h1.35v1.35h-1.35zM472 719h1.35v1.35h-1.35zM418.6 686.1h1.35v1.35h-1.35zM436.2 638.6h1.35v1.35h-1.35zM426.6 654.9h1.35v1.35h-1.35zM435.7 638.5h1.35v1.35h-1.35zM441.1 711.9h1.35v1.35h-1.35zM499.5 659h1.35v1.35h-1.35zM499.4 698.1h1.35v1.35h-1.35zM421.2 645.2h1.35v1.35h-1.35zM431.7 652.7h1.35v1.35h-1.35zM477.4 629.3h1.35v1.35h-1.35zM510.7 700.7h1.35v1.35h-1.35zM460.5 646.3h1.35v1.35h-1.35zM423 709.2h1.35v1.35h-1.35zM492.5 717.5h1.35v1.35h-1.35zM502.7 656.9h1.35v1.35h-1.35zM424.6 662.7h1.35v1.35h-1.35zM478.5 629.3h1.35v1.35h-1.35zM421.5 662.7h1.35v1.35h-1.35zM476.7 631.9h1.35v1.35h-1.35zM457.1 719.6h1.35v1.35h-1.35zM496.3 650.3h1.35v1.35h-1.35zM457.8 714.6h1.35v1.35h-1.35zM501.2 668.6h1.35v1.35h-1.35zM467 709.2h1.35v1.35h-1.35zM476.7 721.1h1.35v1.35h-1.35zM436 719.5h1.35v1.35h-1.35zM484.7 629.2h1.35v1.35h-1.35zM421.3 653.8h1.35v1.35h-1.35zM449.7 713h1.35v1.35h-1.35zM466.7 623.5h1.35v1.35h-1.35zM463.8 616.8h1.35v1.35h-1.35zM397.8 659h1.35v1.35h-1.35zM460.4 706.5h1.35v1.35h-1.35zM413.4 660.9h1.35v1.35h-1.35zM452.2 642.6h1.35v1.35h-1.35zM493.2 716.4h1.35v1.35h-1.35zM473.2 635h1.35v1.35h-1.35zM425.9 670.3h1.35v1.35h-1.35zM423.5 688.1h1.35v1.35h-1.35zM504.5 687.8h1.35v1.35h-1.35zM414.5 682.9h1.35v1.35h-1.35zM497.2 640.5h1.35v1.35h-1.35zM486.7 643.3h1.35v1.35h-1.35zM502.8 654.9h1.35v1.35h-1.35zM503.6 649.2h1.35v1.35h-1.35zM467.6 726.3h1.35v1.35h-1.35zM431.1 707.3h1.35v1.35h-1.35zM416.5 691.9h1.35v1.35h-1.35zM427.3 664.6h1.35v1.35h-1.35zM453.7 626.7h1.35v1.35h-1.35zM465.1 621h1.35v1.35h-1.35zM413.7 654.7h1.35v1.35h-1.35zM410.1 691.6h1.35v1.35h-1.35zM433.7 710.2h1.35v1.35h-1.35zM458.4 718.2h1.35v1.35h-1.35zM431.8 718.6h1.35v1.35h-1.35zM502 707.6h1.35v1.35h-1.35zM428.8 714.4h1.35v1.35h-1.35zM498.9 710.6h1.35v1.35h-1.35zM391.7 716.4h1.35v1.35h-1.35zM423.7 690.7h1.35v1.35h-1.35zM450.9 618h1.35v1.35h-1.35zM439.2 636.2h1.35v1.35h-1.35zM490 642.3h1.35v1.35h-1.35zM415.2 634.2h1.35v1.35h-1.35zM489.8 700h1.35v1.35h-1.35zM496.5 719.4h1.35v1.35h-1.35zM414.1 659.6h1.35v1.35h-1.35zM445.5 628h1.35v1.35h-1.35zM452.1 624.5h1.35v1.35h-1.35zM441.5 628.3h1.35v1.35h-1.35zM409.6 674.2h1.35v1.35h-1.35zM441 652.3h1.35v1.35h-1.35zM415.3 665.7h1.35v1.35h-1.35zM427.9 651.2h1.35v1.35h-1.35zM443.2 705.2h1.35v1.35h-1.35zM501.8 699.9h1.35v1.35h-1.35zM465.9 728.8h1.35v1.35h-1.35zM462.2 713.4h1.35v1.35h-1.35zM469.4 728.9h1.35v1.35h-1.35zM512.1 688.4h1.35v1.35h-1.35zM488.7 645.1h1.35v1.35h-1.35zM454.7 710.6h1.35v1.35h-1.35zM421.3 704.7h1.35v1.35h-1.35zM419.5 677.1h1.35v1.35h-1.35zM454.1 714.2h1.35v1.35h-1.35zM471.2 718.1h1.35v1.35h-1.35zM433.7 690.1h1.35v1.35h-1.35zM417.6 697.3h1.35v1.35h-1.35zM501.5 672.2h1.35v1.35h-1.35zM442.1 706.4h1.35v1.35h-1.35zM452.5 626.1h1.35v1.35h-1.35zM411.4 656.8h1.35v1.35h-1.35zM507.9 663.7h1.35v1.35h-1.35zM488 683.1h1.35v1.35h-1.35zM448 670.6h1.35v1.35h-1.35zM454.1 622.3h1.35v1.35h-1.35zM490.6 653.8h1.35v1.35h-1.35zM434.9 645.5h1.35v1.35h-1.35zM425.8 721.5h1.35v1.35h-1.35zM430.7 657.4h1.35v1.35h-1.35zM490.6 646.6h1.35v1.35h-1.35zM465.4 625.1h1.35v1.35h-1.35zM420.1 636.2h1.35v1.35h-1.35zM447.5 641.1h1.35v1.35h-1.35zM439.4 626.9h1.35v1.35h-1.35zM477.2 690.3h1.35v1.35h-1.35zM426.6 650h1.35v1.35h-1.35zM424.2 684.4h1.35v1.35h-1.35zM493.1 637h1.35v1.35h-1.35zM436.1 638.8h1.35v1.35h-1.35zM469.7 721.4h1.35v1.35h-1.35zM416.9 648.9h1.35v1.35h-1.35zM449.4 626.8h1.35v1.35h-1.35zM497 699.1h1.35v1.35h-1.35zM413.6 662.3h1.35v1.35h-1.35zM426.6 707.4h1.35v1.35h-1.35zM423.6 645.7h1.35v1.35h-1.35zM436.2 619.6h1.35v1.35h-1.35zM508.1 666.5h1.35v1.35h-1.35zM424.3 710.2h1.35v1.35h-1.35zM447.2 707.3h1.35v1.35h-1.35zM447.8 630h1.35v1.35h-1.35zM500 697.4h1.35v1.35h-1.35zM438.9 635.4h1.35v1.35h-1.35zM487 683.1h1.35v1.35h-1.35zM471.4 721.2h1.35v1.35h-1.35zM508.4 673.6h1.35v1.35h-1.35zM495.4 668.5h1.35v1.35h-1.35zM477.8 638.9h1.35v1.35h-1.35zM433.9 707h1.35v1.35h-1.35zM473.3 627.4h1.35v1.35h-1.35zM483.8 655h1.35v1.35h-1.35zM428.5 661.6h1.35v1.35h-1.35zM503.4 687.1h1.35v1.35h-1.35z" fill="#f020f0"/>
<path d="M506.2 695.5h1.35v1.35h-1.35zM429.4 650.3h1.35v1.35h-1.35zM505.8 663.6h1.35v1.35h-1.35zM488.2 709.8h1.35v1.35h-1.35zM468.9 648.2h1.35v1.35h-1.35zM417.1 673.1h1.35v1.35h-1.35zM453.2 628.6h1.35v1.35h-1.35zM471.2 645.7h1.35v1.35h-1.35zM432.7 709h1.35v1.35h-1.35zM453.3 632.3h1.35v1.35h-1.35zM417.9 644.3h1.35v1.35h-1.35zM436.1 722h1.35v1.35h-1.35zM433.6 641.1h1.35v1.35h-1.35zM487.4 632.3h1.35v1.35h-1.35zM505.8 679.6h1.35v1.35h-1.35zM417.9 693h1.35v1.35h-1.35zM430.5 655.6h1.35v1.35h-1.35zM458.8 710.2h1.35v1.35h-1.35zM432.8 707h1.35v1.35h-1.35zM513.4 679h1.35v1.35h-1.35zM448.5 626.9h1.35v1.35h-1.35zM481.5 634.1h1.35v1.35h-1.35zM497.3 654.4h1.35v1.35h-1.35zM423.4 687h1.35v1.35h-1.35zM492.4 644.9h1.35v1.35h-1.35zM445.7 625.6h1.35v1.35h-1.35zM489.5 685.6h1.35v1.35h-1.35zM411.4 654.6h1.35v1.35h-1.35zM417.9 645.6h1.35v1.35h-1.35zM437.4 636.2h1.35v1.35h-1.35zM496.6 715.1h1.35v1.35h-1.35zM417.3 659.8h1.35v1.35h-1.35zM435.1 720.6h1.35v1.35h-1.35zM412.3 670.7h1.35v1.35h-1.35zM490.7 675.6h1.35v1.35h-1.35zM416.2 650.5h1.35v1.35h-1.35zM422.1 644.4h1.35v1.35h-1.35zM425 691h1.35v1.35h-1.35zM467.9 723.2h1.35v1.35h-1.35zM483.3 672.6h1.35v1.35h-1.35zM444.6 631.8h1.35v1.35h-1.35zM442.4 626.4h1.35v1.35h-1.35zM415.8 667.4h1.35v1.35h-1.35zM444.7 641.7h1.35v1.35h-1.35zM504 702.5h1.35v1.35h-1.35zM468.8 706.5h1.35v1.35h-1.35zM499.1 649.3h1.35v1.35h-1.35zM463.2 640.7h1.35v1.35h-1.35zM452.2 716.2h1.35v1.35h-1.35zM479.5 654.3h1.35v1.35h-1.35zM506.6 701.8h1.35v1.35h-1.35zM483.3 714.8h1.35v1.35h-1.35zM489.5 704h1.35v1.35h-1.35zM503.7 610.9h1.35v1.35h-1.35zM487.2 630h1.35v1.35h-1.35zM438 642.6h1.35v1.35h-1.35zM487.2 708.1h1.35v1.35h-1.35zM445 727.9h1.35v1.35h-1.35zM485.7 646.5h1.35v1.35h-1.35zM481.2 697.2h1.35v1.35h-1.35zM429.4 683.9h1.35v1.35h-1.35zM513.5 668.6h1.35v1.35h-1.35zM431.1 709.1h1.35v1.35h-1.35zM434.8 724.8h1.35v1.35h-1.35zM508.4 619.6h1.35v1.35h-1.35zM488.5 634.6h1.35v1.35h-1.35zM508.7 697.1h1.35v1.35h-1.35zM500.4 687h1.35v1.35h-1.35zM503.9 709.2h1.35v1.35h-1.35zM506.8 663.9h1.35v1.35h-1.35zM434.2 717.6h1.35v1.35h-1.35zM501.2 680.4h1.35v1.35h-1.35zM394 639.4h1.35v1.35h-1.35zM471.7 629.4h1.35v1.35h-1.35zM506.8 692.5h1.35v1.35h-1.35zM418.1 666.8h1.35v1.35h-1.35zM474.8 715.7h1.35v1.35h-1.35zM498.8 659.7h1.35v1.35h-1.35zM478.7 732.4h1.35v1.35h-1.35zM434.7 700h1.35v1.35h-1.35zM466.2 730.8h1.35v1.35h-1.35zM420.1 660.4h1.35v1.35h-1.35zM487.1 690.2h1.35v1.35h-1.35zM466.9 642.2h1.35v1.35h-1.35zM468.9 720.7h1.35v1.35h-1.35zM464.2 633.7h1.35v1.35h-1.35zM391.5 690.7h1.35v1.35h-1.35zM418 684.5h1.35v1.35h-1.35zM470.9 712.3h1.35v1.35h-1.35zM419.7 639.6h1.35v1.35h-1.35zM465.4 625.8h1.35v1.35h-1.35zM451 644.5h1.35v1.35h-1.35zM494.3 701.2h1.35v1.35h-1.35zM425.8 682.3h1.35v1.35h-1.35zM499 656.1h1.35v1.35h-1.35zM470.4 638.7h1.35v1.35h-1.35zM492.8 700.6h1.35v1.35h-1.35zM446.8 725.3h1.35v1.35h-1.35zM450.4 718.2h1.35v1.35h-1.35zM453.7 628.5h1.35v1.35h-1.35zM502.5 675.9h1.35v1.35h-1.35zM466.9 627.6h1.35v1.35h-1.35zM494.5 662.4h1.35v1.35h-1.35zM455.1 633.8h1.35v1.35h-1.35zM470.6 636.5h1.35v1.35h-1.35zM450.5 628.5h1.35v1.35h-1.35zM424.1 652.9h1.35v1.35h-1.35zM422 691.9h1.35v1.35h-1.35zM441.2 713.6h1.35v1.35h-1.35zM461 713.1h1.35v1.35h-1.35zM488.7 710.6h1.35v1.35h-1.35zM477.3 721.8h1.35v1.35h-1.35zM416.9 655.9h1.35v1.35h-1.35zM424.8 654.9h1.35v1.35h-1.35zM489.8 628h1.35v1.35h-1.35zM480.7 708.8h1.35v1.35h-1.35zM462.7 703.3h1.35v1.35h-1.35zM441.9 732.9h1.35v1.35h-1.35zM424.8 638.3h1.35v1.35h-1.35zM493.2 704.8h1.35v1.35h-1.35zM486.4 618.6h1.35v1.35h-1.35zM488 637.2h1.35v1.35h-1.35zM478.8 647.3h1.35v1.35h-1.35zM423.9 641.5h1.35v1.35h-1.35zM513.9 658.7h1.35v1.35h-1.35zM458 629.2h1.35v1.35h-1.35zM459.1 634.1h1.35v1.35h-1.35zM450.1 720.6h1.35v1.35h-1.35zM414.2 647.4h1.35v1.35h-1.35zM481.6 732.9h1.35v1.35h-1.35zM392.8 732.5h1.35v1.35h-1.35zM428.8 668h1.35v1.35h-1.35zM473.9 657.7h1.35v1.35h-1.35zM445.1 635h1.35v1.35h-1.35zM505.7 706.6h1.35v1.35h-1.35zM422.9 641.5h1.35v1.35h-1.35zM461.2 642.4h1.35v1.35h-1.35zM447.2 637.2h1.35v1.35h-1.35zM415.4 679h1.35v1.35h-1.35zM505.1 701.2h1.35v1.35h-1.35zM469 636.7h1.35v1.35h-1.35zM498.8 646.2h1.35v1.35h-1.35zM497.2 686h1.35v1.35h-1.35zM503.4 657.4h1.35v1.35h-1.35zM498.3 696.5h1.35v1.35h-1.35zM460.6 634.1h1.35v1.35h-1.35zM444.6 644.5h1.35v1.35h-1.35zM503.9 686.4h1.35v1.35h-1.35zM481.4 658.7h1.35v1.35h-1.35zM478.9 731h1.35v1.35h-1.35zM433.3 710.2h1.35v1.35h-1.35zM498.2 682.4h1.35v1.35h-1.35zM442.3 650.9h1.35v1.35h-1.35zM505.6 692.5h1.35v1.35h-1.35zM427.6 719.3h1.35v1.35h-1.35zM479.3 631.2h1.35v1.35h-1.35zM423.2 648.8h1.35v1.35h-1.35zM450 615.7h1.35v1.35h-1.35zM420.7 653.7h1.35v1.35h-1.35zM445.8 643.2h1.35v1.35h-1.35zM501.4 670.7h1.35v1.35h-1.35zM512.4 702h1.35v1.35h-1.35zM414.2 665.5h1.35v1.35h-1.35zM463.8 722.5h1.35v1.35h-1.35zM480.9 631.7h1.35v1.35h-1.35zM428 639.3h1.35v1.35h-1.35zM490 704.2h1.35v1.35h-1.35zM435.3 687.5h1.35v1.35h-1.35zM440.3 695.4h1.35v1.35h-1.35zM456 703h1.35v1.35h-1.35zM515 684.6h1.35v1.35h-1.35zM431.2 648.8h1.35v1.35h-1.35zM472.1 732.3h1.35v1.35h-1.35zM467.9 714.8h1.35v1.35h-1.35zM496.3 659.1h1.35v1.35h-1.35zM471.4 639.4h1.35v1.35h-1.35zM511.5 660.9h1.35v1.35h-1.35zM496.6 680.4h1.35v1.35h-1.35zM429.9 640.4h1.35v1.35h-1.35zM485.6 644.7h1.35v1.35h-1.35zM430.4 607h1.35v1.35h-1.35zM512 708.6h1.35v1.35h-1.35zM448.8 714.2h1.35v1.35h-1.35zM460.2 723.6h1.35v1.35h-1.35zM479.3 648.1h1.35v1.35h-1.35zM477.5 719.8h1.35v1.35h-1.35zM443.6 650.1h1.35v1.35h-1.35zM460.7 715.3h1.35v1.35h-1.35zM452.7 728.3h1.35v1.35h-1.35zM454.4 730.4h1.35v1.35h-1.35zM464.9 691.3h1.35v1.35h-1.35zM445.5 726.1h1.35v1.35h-1.35zM412.7 653.5h1.35v1.35h-1.35zM419.8 661.4h1.35v1.35h-1.35zM443.6 714.7h1.35v1.35h-1.35zM436.7 689.6h1.35v1.35h-1.35zM481.7 721h1.35v1.35h-1.35zM440.1 628.6h1.35v1.35h-1.35zM483.3 632.8h1.35v1.35h-1.35zM472 700.2h1.35v1.35h-1.35zM417 687.7h1.35v1.35h-1.35zM488.8 681.3h1.35v1.35h-1.35zM470.9 710.6h1.35v1.35h-1.35zM488.6 709.9h1.35v1.35h-1.35zM422.2 644.9h1.35v1.35h-1.35zM492.5 613.4h1.35v1.35h-1.35zM496.3 690.2h1.35v1.35h-1.35zM499.2 686.7h1.35v1.35h-1.35zM496.4 706.3h1.35v1.35h-1.35zM503.9 709.9h1.35v1.35h-1.35zM448.4 708.6h1.35v1.35h-1.35zM482.5 684.9h1.35v1.35h-1.35zM493.8 710.4h1.35v1.35h-1.35zM428.6 723.5h1.35v1.35h-1.35zM488.6 648h1.35v1.35h-1.35zM463 725.9h1.35v1.35h-1.35zM445.3 719.9h1.35v1.35h-1.35zM413.9 647.5h1.35v1.35h-1.35zM473.4 728.5h1.35v1.35h-1.35zM412.6 672.5h1.35v1.35h-1.35zM434.3 711.5h1.35v1.35h-1.35zM508.1 633.6h1.35v1.35h-1.35zM419.9 640.8h1.35v1.35h-1.35zM413 680.2h1.35v1.35h-1.35zM470.1 709.9h1.35v1.35h-1.35zM436.5 663.2h1.35v1.35h-1.35zM503.6 686.4h1.35v1.35h-1.35zM482.8 634.9h1.35v1.35h-1.35zM453.1 633.3h1.35v1.35h-1.35z" fill="#f2ee10"/>
</g>
<rect x="519.5" y="605" width="8.1" height="128.7" fill="#000" stroke="none" stroke-width="1"/>
<clipPath id="cphs"><rect x="519.5" y="605" width="8.1" height="128.7"/></clipPath>
<g clip-path="url(#cphs)">
<path d="M521.6 658.1h1.5v1.5h-1.5zM525.6 665.9h1.5v1.5h-1.5zM526.8 625h1.5v1.5h-1.5zM524 633.7h1.5v1.5h-1.5zM526.4 716.1h1.5v1.5h-1.5zM523.6 706.3h1.5v1.5h-1.5zM522.7 703.7h1.5v1.5h-1.5zM524.6 651.3h1.5v1.5h-1.5zM524 681.2h1.5v1.5h-1.5zM523.3 679.1h1.5v1.5h-1.5zM526.6 646.3h1.5v1.5h-1.5zM520.8 638.8h1.5v1.5h-1.5zM526.2 637.3h1.5v1.5h-1.5zM520.3 664.9h1.5v1.5h-1.5zM525 609.5h1.5v1.5h-1.5z" fill="#ffffff"/>
<path d="M523.3 611.9h1.5v1.5h-1.5zM523.1 695.7h1.5v1.5h-1.5zM525.5 628.7h1.5v1.5h-1.5zM525.9 693.5h1.5v1.5h-1.5zM525 633.9h1.5v1.5h-1.5zM526.8 666.4h1.5v1.5h-1.5zM526.1 621.4h1.5v1.5h-1.5zM524.1 650.6h1.5v1.5h-1.5zM522.6 641.3h1.5v1.5h-1.5zM526.5 617.4h1.5v1.5h-1.5zM524.3 675.4h1.5v1.5h-1.5zM523 702.7h1.5v1.5h-1.5zM520 675.1h1.5v1.5h-1.5zM524.8 612.7h1.5v1.5h-1.5zM525.7 721h1.5v1.5h-1.5zM525.2 633.1h1.5v1.5h-1.5zM525.6 649.3h1.5v1.5h-1.5zM525.8 689.9h1.5v1.5h-1.5zM520.5 652.9h1.5v1.5h-1.5zM520.9 692.9h1.5v1.5h-1.5zM526.8 692.9h1.5v1.5h-1.5zM526.3 722.7h1.5v1.5h-1.5zM522.9 644.6h1.5v1.5h-1.5zM524.4 622.3h1.5v1.5h-1.5zM524.1 612.7h1.5v1.5h-1.5zM520.9 631.2h1.5v1.5h-1.5zM526 615.2h1.5v1.5h-1.5zM522.2 661.4h1.5v1.5h-1.5zM523.1 691.9h1.5v1.5h-1.5zM525 654.5h1.5v1.5h-1.5zM526.7 678.2h1.5v1.5h-1.5zM522.6 703.7h1.5v1.5h-1.5zM524 664.4h1.5v1.5h-1.5zM526.8 710.3h1.5v1.5h-1.5zM524.6 719.8h1.5v1.5h-1.5zM522.7 716.6h1.5v1.5h-1.5zM520.3 683.5h1.5v1.5h-1.5zM523.3 654.9h1.5v1.5h-1.5zM525.6 631.6h1.5v1.5h-1.5zM525.6 696.4h1.5v1.5h-1.5zM525.7 618.5h1.5v1.5h-1.5zM522.2 632.6h1.5v1.5h-1.5zM522.1 692h1.5v1.5h-1.5zM523.1 720.2h1.5v1.5h-1.5zM525.3 719.4h1.5v1.5h-1.5zM520.9 671.7h1.5v1.5h-1.5zM523.9 625.2h1.5v1.5h-1.5zM525.8 719.8h1.5v1.5h-1.5zM523 642.2h1.5v1.5h-1.5zM524 694.9h1.5v1.5h-1.5zM522.4 667.1h1.5v1.5h-1.5zM522.9 623.1h1.5v1.5h-1.5zM526.2 715.7h1.5v1.5h-1.5zM523.7 610.3h1.5v1.5h-1.5zM521.7 650.7h1.5v1.5h-1.5zM525 617.7h1.5v1.5h-1.5zM524.1 647.4h1.5v1.5h-1.5zM525.9 645.5h1.5v1.5h-1.5zM523.6 655h1.5v1.5h-1.5zM524.3 609.5h1.5v1.5h-1.5zM524.6 659.9h1.5v1.5h-1.5zM524 719.1h1.5v1.5h-1.5zM520.5 689.5h1.5v1.5h-1.5zM520.9 693h1.5v1.5h-1.5zM522.6 628.2h1.5v1.5h-1.5zM526.4 721.1h1.5v1.5h-1.5zM522 626.8h1.5v1.5h-1.5zM522.5 652.1h1.5v1.5h-1.5zM526 626.5h1.5v1.5h-1.5zM521.4 665.1h1.5v1.5h-1.5zM523 716.7h1.5v1.5h-1.5zM523.2 691.4h1.5v1.5h-1.5zM522.8 709h1.5v1.5h-1.5zM523.3 703.6h1.5v1.5h-1.5zM522.6 613.5h1.5v1.5h-1.5zM526.7 722.7h1.5v1.5h-1.5zM526.8 633.5h1.5v1.5h-1.5zM524.8 693.8h1.5v1.5h-1.5zM522.6 621.8h1.5v1.5h-1.5zM521.3 683.1h1.5v1.5h-1.5zM522.9 690.2h1.5v1.5h-1.5zM522.2 691.2h1.5v1.5h-1.5zM521.2 642.2h1.5v1.5h-1.5zM525.4 642.7h1.5v1.5h-1.5zM524.1 629.3h1.5v1.5h-1.5zM524 643.7h1.5v1.5h-1.5zM522.3 675.8h1.5v1.5h-1.5zM519.4 648.4h1.5v1.5h-1.5zM522.9 611.9h1.5v1.5h-1.5zM526.5 721.9h1.5v1.5h-1.5zM522.9 710.4h1.5v1.5h-1.5zM521.8 677.3h1.5v1.5h-1.5zM524.8 615.1h1.5v1.5h-1.5zM522.1 699.8h1.5v1.5h-1.5zM524.8 701.3h1.5v1.5h-1.5zM525.9 649.2h1.5v1.5h-1.5zM521.5 658.5h1.5v1.5h-1.5zM523.1 670.6h1.5v1.5h-1.5zM521.3 682.3h1.5v1.5h-1.5zM524.7 711.9h1.5v1.5h-1.5zM523.4 721.2h1.5v1.5h-1.5zM526.2 635.3h1.5v1.5h-1.5zM524 716.4h1.5v1.5h-1.5zM522.6 642.5h1.5v1.5h-1.5zM525.1 640h1.5v1.5h-1.5zM523.3 682.5h1.5v1.5h-1.5zM525.5 717.4h1.5v1.5h-1.5zM525.6 639.5h1.5v1.5h-1.5zM521.3 638.8h1.5v1.5h-1.5zM520 679.6h1.5v1.5h-1.5zM521.3 645.8h1.5v1.5h-1.5zM526.5 666.6h1.5v1.5h-1.5zM526.8 640.6h1.5v1.5h-1.5zM525.5 626.4h1.5v1.5h-1.5zM522.1 664.2h1.5v1.5h-1.5zM521.3 691.4h1.5v1.5h-1.5zM524.7 641.2h1.5v1.5h-1.5zM524.2 717.5h1.5v1.5h-1.5zM521.2 633.9h1.5v1.5h-1.5zM522 662.9h1.5v1.5h-1.5zM523.9 645.3h1.5v1.5h-1.5zM526.6 694.1h1.5v1.5h-1.5zM523.6 723.7h1.5v1.5h-1.5zM522.5 631.1h1.5v1.5h-1.5zM524.2 719h1.5v1.5h-1.5zM524.3 651.5h1.5v1.5h-1.5zM522.7 704.2h1.5v1.5h-1.5zM526.2 720.7h1.5v1.5h-1.5zM526.8 625.2h1.5v1.5h-1.5zM526.2 699.9h1.5v1.5h-1.5zM522.6 704.7h1.5v1.5h-1.5zM522.5 643.1h1.5v1.5h-1.5zM524.6 627.4h1.5v1.5h-1.5zM526.4 682.7h1.5v1.5h-1.5zM525.2 610.3h1.5v1.5h-1.5zM522.9 616.3h1.5v1.5h-1.5zM526.7 689.1h1.5v1.5h-1.5zM524.8 633.6h1.5v1.5h-1.5zM526.4 691.9h1.5v1.5h-1.5zM525 630.4h1.5v1.5h-1.5zM525.6 666.1h1.5v1.5h-1.5zM523.5 712.8h1.5v1.5h-1.5zM523.1 658.1h1.5v1.5h-1.5zM523.5 664.8h1.5v1.5h-1.5zM523.3 661h1.5v1.5h-1.5zM521 670.6h1.5v1.5h-1.5zM522.2 707.7h1.5v1.5h-1.5zM522.2 691h1.5v1.5h-1.5zM518.9 668.4h1.5v1.5h-1.5zM523.2 615.5h1.5v1.5h-1.5zM522.8 712.3h1.5v1.5h-1.5zM523.1 627.1h1.5v1.5h-1.5zM521.3 681.6h1.5v1.5h-1.5zM524.3 698.8h1.5v1.5h-1.5zM524.7 715.1h1.5v1.5h-1.5zM525.3 640.1h1.5v1.5h-1.5zM524.9 688.6h1.5v1.5h-1.5zM525.6 664.6h1.5v1.5h-1.5zM526.4 715.1h1.5v1.5h-1.5zM522.4 684.7h1.5v1.5h-1.5zM520.6 651.2h1.5v1.5h-1.5zM525.1 636.1h1.5v1.5h-1.5zM524.6 675.7h1.5v1.5h-1.5zM524 720h1.5v1.5h-1.5zM525.8 685h1.5v1.5h-1.5zM524.9 616.2h1.5v1.5h-1.5zM525.3 667.9h1.5v1.5h-1.5zM518.8 659.6h1.5v1.5h-1.5zM525.8 673.6h1.5v1.5h-1.5zM520 681.5h1.5v1.5h-1.5zM522.4 671h1.5v1.5h-1.5zM525.9 613.1h1.5v1.5h-1.5zM524 716.6h1.5v1.5h-1.5zM526 643.3h1.5v1.5h-1.5zM520.1 675.1h1.5v1.5h-1.5zM526.1 630h1.5v1.5h-1.5zM524.4 717.8h1.5v1.5h-1.5zM524.7 627.8h1.5v1.5h-1.5zM524.2 643.7h1.5v1.5h-1.5zM522.7 660h1.5v1.5h-1.5zM522.5 624.6h1.5v1.5h-1.5zM519.9 670.8h1.5v1.5h-1.5zM526 623.3h1.5v1.5h-1.5zM526.6 694.1h1.5v1.5h-1.5zM524 625.2h1.5v1.5h-1.5zM523.5 679.4h1.5v1.5h-1.5zM526.3 646.5h1.5v1.5h-1.5zM524.6 665.4h1.5v1.5h-1.5zM524.7 703.4h1.5v1.5h-1.5zM524.8 716.1h1.5v1.5h-1.5zM522 668.8h1.5v1.5h-1.5zM526.1 722.3h1.5v1.5h-1.5zM522.2 706.6h1.5v1.5h-1.5zM524.9 687.1h1.5v1.5h-1.5zM524.7 619.9h1.5v1.5h-1.5zM522.5 632.6h1.5v1.5h-1.5zM520.8 662.1h1.5v1.5h-1.5zM520.8 632.9h1.5v1.5h-1.5zM520.2 658.4h1.5v1.5h-1.5zM524.5 610.7h1.5v1.5h-1.5zM524.8 675.2h1.5v1.5h-1.5zM520.5 672.7h1.5v1.5h-1.5zM522.4 690.7h1.5v1.5h-1.5zM525.7 718.4h1.5v1.5h-1.5zM522.1 702.3h1.5v1.5h-1.5zM525.7 637.3h1.5v1.5h-1.5zM522.7 679.8h1.5v1.5h-1.5zM522.5 706.6h1.5v1.5h-1.5zM520.8 652.3h1.5v1.5h-1.5zM524.5 708.1h1.5v1.5h-1.5zM523.1 654.4h1.5v1.5h-1.5zM520.3 678.9h1.5v1.5h-1.5zM523.3 644.3h1.5v1.5h-1.5zM520.7 686.2h1.5v1.5h-1.5zM526 664.7h1.5v1.5h-1.5zM520.6 683.8h1.5v1.5h-1.5zM522.9 626.4h1.5v1.5h-1.5zM520.7 682.5h1.5v1.5h-1.5zM522.3 647.3h1.5v1.5h-1.5zM526.4 631.9h1.5v1.5h-1.5zM522 675.8h1.5v1.5h-1.5zM523.3 676.2h1.5v1.5h-1.5zM525.2 614.8h1.5v1.5h-1.5zM523.4 680.7h1.5v1.5h-1.5zM519.4 657.6h1.5v1.5h-1.5zM522.4 628.3h1.5v1.5h-1.5zM523.7 639.2h1.5v1.5h-1.5z" fill="#f2ee10"/>
<path d="M525.5 697.9h1.5v1.5h-1.5zM526.3 638.7h1.5v1.5h-1.5zM520.8 685.9h1.5v1.5h-1.5zM526.6 722.8h1.5v1.5h-1.5zM526.8 711.9h1.5v1.5h-1.5zM524.6 630.3h1.5v1.5h-1.5zM526 693.2h1.5v1.5h-1.5zM525.3 701.1h1.5v1.5h-1.5zM521.5 687.7h1.5v1.5h-1.5zM522.5 640.1h1.5v1.5h-1.5zM526.3 615.5h1.5v1.5h-1.5zM526.5 718.9h1.5v1.5h-1.5zM520.6 651.5h1.5v1.5h-1.5zM525.9 706.4h1.5v1.5h-1.5zM526.4 646.8h1.5v1.5h-1.5zM522.4 687.1h1.5v1.5h-1.5zM523.1 642.9h1.5v1.5h-1.5zM525 643.8h1.5v1.5h-1.5zM525.6 721.7h1.5v1.5h-1.5zM523.7 644.5h1.5v1.5h-1.5zM522.6 678.7h1.5v1.5h-1.5zM522.7 676.9h1.5v1.5h-1.5zM524.7 624.3h1.5v1.5h-1.5zM525.1 708.6h1.5v1.5h-1.5zM523.3 677.3h1.5v1.5h-1.5zM522.5 708.9h1.5v1.5h-1.5zM525.9 611.7h1.5v1.5h-1.5zM524.4 610.9h1.5v1.5h-1.5zM525.7 634.6h1.5v1.5h-1.5zM526.2 642.1h1.5v1.5h-1.5zM525.7 705.6h1.5v1.5h-1.5zM524.2 711h1.5v1.5h-1.5zM520.4 671.2h1.5v1.5h-1.5zM525.4 689.1h1.5v1.5h-1.5zM523.7 620h1.5v1.5h-1.5zM522.3 625.7h1.5v1.5h-1.5zM521.4 670.2h1.5v1.5h-1.5zM524.3 700.4h1.5v1.5h-1.5zM524.7 640.3h1.5v1.5h-1.5zM520.9 655.6h1.5v1.5h-1.5zM525.8 630.1h1.5v1.5h-1.5zM522.7 614.8h1.5v1.5h-1.5zM525.1 621.4h1.5v1.5h-1.5zM522.6 630h1.5v1.5h-1.5zM523.5 702.7h1.5v1.5h-1.5zM522.2 645h1.5v1.5h-1.5zM524.1 643.4h1.5v1.5h-1.5zM521.1 674.9h1.5v1.5h-1.5zM525.2 611.1h1.5v1.5h-1.5zM524.5 706h1.5v1.5h-1.5zM524.9 720h1.5v1.5h-1.5zM525.1 619.2h1.5v1.5h-1.5zM522.4 612.5h1.5v1.5h-1.5zM523.3 720.9h1.5v1.5h-1.5zM520 670.9h1.5v1.5h-1.5zM522.9 698.6h1.5v1.5h-1.5zM523.6 684.3h1.5v1.5h-1.5zM525.9 637.9h1.5v1.5h-1.5zM523.8 700.9h1.5v1.5h-1.5zM525.1 714.1h1.5v1.5h-1.5zM524.3 620.5h1.5v1.5h-1.5zM522.4 631.9h1.5v1.5h-1.5zM521.1 641.7h1.5v1.5h-1.5zM524.2 676.8h1.5v1.5h-1.5zM525.4 658.8h1.5v1.5h-1.5zM526.8 669.3h1.5v1.5h-1.5zM526.3 707.7h1.5v1.5h-1.5zM526.5 722.4h1.5v1.5h-1.5zM525.8 707.2h1.5v1.5h-1.5zM522.9 612.3h1.5v1.5h-1.5zM522.6 698h1.5v1.5h-1.5zM525.3 702h1.5v1.5h-1.5zM525.5 702.9h1.5v1.5h-1.5zM523 637.8h1.5v1.5h-1.5zM523.3 687h1.5v1.5h-1.5zM526.5 687.9h1.5v1.5h-1.5zM521.1 652h1.5v1.5h-1.5zM524.8 706.4h1.5v1.5h-1.5zM525.5 625h1.5v1.5h-1.5zM520 666.5h1.5v1.5h-1.5zM523.7 633h1.5v1.5h-1.5zM523.2 679.6h1.5v1.5h-1.5zM525.7 611.7h1.5v1.5h-1.5zM521.2 637.7h1.5v1.5h-1.5zM524.9 655.1h1.5v1.5h-1.5zM522.1 631.9h1.5v1.5h-1.5zM520.9 685.8h1.5v1.5h-1.5zM526.6 611.9h1.5v1.5h-1.5zM526.8 716.5h1.5v1.5h-1.5zM525.9 675.3h1.5v1.5h-1.5zM525.1 690.1h1.5v1.5h-1.5zM523 716.5h1.5v1.5h-1.5zM525.7 660.2h1.5v1.5h-1.5zM526.8 719.3h1.5v1.5h-1.5zM526.2 683h1.5v1.5h-1.5zM525.8 617.5h1.5v1.5h-1.5zM523.5 710.1h1.5v1.5h-1.5zM521.8 663.1h1.5v1.5h-1.5zM523.6 692.9h1.5v1.5h-1.5zM521.8 667.1h1.5v1.5h-1.5zM524 633.5h1.5v1.5h-1.5zM524.3 611.6h1.5v1.5h-1.5zM523.7 655.9h1.5v1.5h-1.5zM522.1 626.7h1.5v1.5h-1.5zM525.9 710.9h1.5v1.5h-1.5zM523.9 706.5h1.5v1.5h-1.5zM524.5 709.9h1.5v1.5h-1.5zM525 610.3h1.5v1.5h-1.5zM524.4 706.9h1.5v1.5h-1.5zM524.1 691.4h1.5v1.5h-1.5zM520.4 638.1h1.5v1.5h-1.5zM524.7 710.4h1.5v1.5h-1.5zM524 682h1.5v1.5h-1.5zM524.2 693.7h1.5v1.5h-1.5zM522.6 650.1h1.5v1.5h-1.5zM525.3 670h1.5v1.5h-1.5zM522.5 625.1h1.5v1.5h-1.5zM523.8 701.2h1.5v1.5h-1.5zM521.8 680h1.5v1.5h-1.5zM522.9 694.9h1.5v1.5h-1.5zM525.7 684.2h1.5v1.5h-1.5zM521.3 650.1h1.5v1.5h-1.5zM523.8 700.3h1.5v1.5h-1.5zM523.5 610h1.5v1.5h-1.5zM522.5 712.7h1.5v1.5h-1.5zM524.8 630.6h1.5v1.5h-1.5zM526.8 691.5h1.5v1.5h-1.5zM524.8 683.6h1.5v1.5h-1.5zM524.9 642h1.5v1.5h-1.5zM526.6 703.6h1.5v1.5h-1.5zM526.2 642.4h1.5v1.5h-1.5zM524.2 674.2h1.5v1.5h-1.5zM523.6 692h1.5v1.5h-1.5zM523.6 652.6h1.5v1.5h-1.5zM525.9 637.2h1.5v1.5h-1.5zM523.8 659.8h1.5v1.5h-1.5zM526.4 655.3h1.5v1.5h-1.5zM523.2 631.2h1.5v1.5h-1.5zM523.7 706.8h1.5v1.5h-1.5zM523.7 689.3h1.5v1.5h-1.5zM525.1 630.4h1.5v1.5h-1.5zM520.1 659.9h1.5v1.5h-1.5zM524.8 704.7h1.5v1.5h-1.5zM523.7 715.7h1.5v1.5h-1.5zM522.5 617.4h1.5v1.5h-1.5zM523.2 638.9h1.5v1.5h-1.5zM525.3 647.4h1.5v1.5h-1.5zM519.7 668.5h1.5v1.5h-1.5zM526 638.2h1.5v1.5h-1.5zM525.7 624.2h1.5v1.5h-1.5zM525 630.6h1.5v1.5h-1.5zM521 633.5h1.5v1.5h-1.5zM522.1 668.9h1.5v1.5h-1.5zM519.4 657.2h1.5v1.5h-1.5zM526.7 651.2h1.5v1.5h-1.5zM523.1 615.3h1.5v1.5h-1.5zM522.9 722.1h1.5v1.5h-1.5zM522.2 636.2h1.5v1.5h-1.5zM520 680h1.5v1.5h-1.5zM521.8 652h1.5v1.5h-1.5zM526.7 616.3h1.5v1.5h-1.5zM523.8 647.7h1.5v1.5h-1.5zM521.4 631h1.5v1.5h-1.5zM522.5 613.4h1.5v1.5h-1.5zM522.7 613.9h1.5v1.5h-1.5zM520.9 690.6h1.5v1.5h-1.5zM523.8 627h1.5v1.5h-1.5zM523.2 690.9h1.5v1.5h-1.5zM525 615.3h1.5v1.5h-1.5zM526.6 684.9h1.5v1.5h-1.5zM524.7 628.7h1.5v1.5h-1.5zM522.1 681.6h1.5v1.5h-1.5zM524.9 707.8h1.5v1.5h-1.5zM524.3 665.8h1.5v1.5h-1.5zM520 641.4h1.5v1.5h-1.5zM524.3 622.5h1.5v1.5h-1.5z" fill="#f020f0"/>
</g>
<text x="515.4" y="731.6" font-size="10" fill="#eee" text-anchor="end" textLength="31" lengthAdjust="spacingAndGlyphs" stroke="#eee" stroke-width="0.22"><tspan font-style="italic">n</tspan> = 787</text>
<text x="539" y="599.2" font-size="13.5" fill="#000" font-weight="bold">i</text>
<text x="609.5" y="602.7" font-size="9.3" fill="#222" text-anchor="middle" textLength="70.9" lengthAdjust="spacingAndGlyphs" stroke="#222" stroke-width="0.22">TrackMate-Weka</text>
<rect x="545.2" y="605.3" width="128.7" height="128.1" fill="#000" stroke="none" stroke-width="1"/>
<clipPath id="cpi"><rect x="545.2" y="605.3" width="128.7" height="128.1"/></clipPath>
<g clip-path="url(#cpi)">
<path d="M612.7 621.3h1.35v1.35h-1.35zM601.7 632.9h1.35v1.35h-1.35zM586.1 709.1h1.35v1.35h-1.35zM587.1 652h1.35v1.35h-1.35zM635.5 710.8h1.35v1.35h-1.35zM614.7 722.3h1.35v1.35h-1.35zM551.7 657.9h1.35v1.35h-1.35zM669.9 652.9h1.35v1.35h-1.35zM576.5 726.5h1.35v1.35h-1.35zM570.7 691.9h1.35v1.35h-1.35zM582.9 719.8h1.35v1.35h-1.35zM582.1 645.6h1.35v1.35h-1.35zM577.9 713.6h1.35v1.35h-1.35zM671 685.9h1.35v1.35h-1.35zM661.9 628h1.35v1.35h-1.35zM643.7 709.9h1.35v1.35h-1.35zM613.2 714.7h1.35v1.35h-1.35zM599.5 710h1.35v1.35h-1.35zM597.9 636.1h1.35v1.35h-1.35zM652.7 654.8h1.35v1.35h-1.35zM579.1 641h1.35v1.35h-1.35zM614.8 705.9h1.35v1.35h-1.35zM617.8 720.1h1.35v1.35h-1.35zM667.7 685.6h1.35v1.35h-1.35zM639.1 698.4h1.35v1.35h-1.35zM650.1 627.2h1.35v1.35h-1.35zM647.2 686.1h1.35v1.35h-1.35zM647.1 650h1.35v1.35h-1.35zM610.5 720.4h1.35v1.35h-1.35zM596.3 648.1h1.35v1.35h-1.35zM653.5 639.8h1.35v1.35h-1.35zM638.7 648.1h1.35v1.35h-1.35zM620.2 713.5h1.35v1.35h-1.35zM592.8 645h1.35v1.35h-1.35zM640.6 640.8h1.35v1.35h-1.35zM643.9 705.1h1.35v1.35h-1.35zM601.1 634h1.35v1.35h-1.35zM648.3 637.4h1.35v1.35h-1.35zM651.6 633.5h1.35v1.35h-1.35zM626.6 642.3h1.35v1.35h-1.35zM571.8 696.9h1.35v1.35h-1.35zM597.5 646.4h1.35v1.35h-1.35zM579.3 703.5h1.35v1.35h-1.35zM550.4 690h1.35v1.35h-1.35zM653.1 694.4h1.35v1.35h-1.35zM670 684.4h1.35v1.35h-1.35zM645.7 633.3h1.35v1.35h-1.35zM660.7 632.8h1.35v1.35h-1.35zM641.9 714.3h1.35v1.35h-1.35zM658.1 684.2h1.35v1.35h-1.35zM645.3 652.5h1.35v1.35h-1.35zM616.3 629.7h1.35v1.35h-1.35zM588.7 645.5h1.35v1.35h-1.35zM622.1 627.6h1.35v1.35h-1.35zM597 731.1h1.35v1.35h-1.35zM582.8 684.3h1.35v1.35h-1.35zM642.1 697.3h1.35v1.35h-1.35zM610.5 723.7h1.35v1.35h-1.35zM571.5 678.7h1.35v1.35h-1.35zM581.9 638h1.35v1.35h-1.35zM642.8 612.4h1.35v1.35h-1.35zM650.8 712.5h1.35v1.35h-1.35zM569.6 705.9h1.35v1.35h-1.35zM575 689.1h1.35v1.35h-1.35zM576.5 673.6h1.35v1.35h-1.35zM602.7 716.3h1.35v1.35h-1.35zM571.8 662.2h1.35v1.35h-1.35zM628.4 631.2h1.35v1.35h-1.35zM648.5 713.8h1.35v1.35h-1.35zM635.3 625.6h1.35v1.35h-1.35zM601.3 723.6h1.35v1.35h-1.35zM595.3 649.8h1.35v1.35h-1.35zM603.3 702.7h1.35v1.35h-1.35zM634.5 704h1.35v1.35h-1.35zM548.6 726.4h1.35v1.35h-1.35zM640 707.7h1.35v1.35h-1.35zM640.8 719.9h1.35v1.35h-1.35zM577.7 664.7h1.35v1.35h-1.35zM649.5 642.1h1.35v1.35h-1.35zM647.6 703.5h1.35v1.35h-1.35zM587.4 694.1h1.35v1.35h-1.35zM633.1 723.8h1.35v1.35h-1.35zM667.8 707.7h1.35v1.35h-1.35zM568.3 663.3h1.35v1.35h-1.35zM620 632.5h1.35v1.35h-1.35zM581.5 728.8h1.35v1.35h-1.35zM584.5 655.9h1.35v1.35h-1.35zM652.8 636.9h1.35v1.35h-1.35zM581.7 715.8h1.35v1.35h-1.35zM642.8 703.5h1.35v1.35h-1.35zM639.4 705.4h1.35v1.35h-1.35zM571.6 678.1h1.35v1.35h-1.35zM577.3 658.1h1.35v1.35h-1.35zM590.8 691.4h1.35v1.35h-1.35zM651.9 717.4h1.35v1.35h-1.35zM568.2 682.2h1.35v1.35h-1.35zM632.3 616h1.35v1.35h-1.35zM604 631.1h1.35v1.35h-1.35zM596 635.3h1.35v1.35h-1.35zM651 651.8h1.35v1.35h-1.35zM610.4 712h1.35v1.35h-1.35zM582.8 635.1h1.35v1.35h-1.35zM656.4 663.1h1.35v1.35h-1.35zM598 652.3h1.35v1.35h-1.35zM648.6 627.5h1.35v1.35h-1.35zM651 656.7h1.35v1.35h-1.35zM638.5 639.6h1.35v1.35h-1.35zM644.5 646.3h1.35v1.35h-1.35zM657.4 708.7h1.35v1.35h-1.35zM576.2 638.8h1.35v1.35h-1.35zM600 709.8h1.35v1.35h-1.35zM663.3 676.6h1.35v1.35h-1.35zM645.1 721h1.35v1.35h-1.35zM633.1 636.4h1.35v1.35h-1.35zM642.3 704.3h1.35v1.35h-1.35zM646 670.5h1.35v1.35h-1.35zM584.8 645.1h1.35v1.35h-1.35zM585.8 668.2h1.35v1.35h-1.35zM650.4 645h1.35v1.35h-1.35zM615.2 626.9h1.35v1.35h-1.35zM635.5 646.9h1.35v1.35h-1.35zM597 717.7h1.35v1.35h-1.35zM606.8 716.5h1.35v1.35h-1.35zM591.9 694.5h1.35v1.35h-1.35zM602.7 712.5h1.35v1.35h-1.35zM572.4 650h1.35v1.35h-1.35zM585.1 683.1h1.35v1.35h-1.35zM617.3 713.6h1.35v1.35h-1.35zM662.9 691.4h1.35v1.35h-1.35zM637.5 716.1h1.35v1.35h-1.35zM640.8 709.1h1.35v1.35h-1.35zM668 705.2h1.35v1.35h-1.35zM589.7 636.6h1.35v1.35h-1.35zM561 611.2h1.35v1.35h-1.35zM570.7 637.2h1.35v1.35h-1.35zM573.1 679.6h1.35v1.35h-1.35zM636.7 691.3h1.35v1.35h-1.35zM587 645.3h1.35v1.35h-1.35zM635.4 643.9h1.35v1.35h-1.35zM589.1 623.3h1.35v1.35h-1.35zM589.2 703.2h1.35v1.35h-1.35zM658 668h1.35v1.35h-1.35zM617.3 624h1.35v1.35h-1.35zM599.1 636h1.35v1.35h-1.35zM630.2 629.6h1.35v1.35h-1.35zM582.7 627.2h1.35v1.35h-1.35zM574.3 667.2h1.35v1.35h-1.35zM570.7 716.8h1.35v1.35h-1.35zM591.3 638h1.35v1.35h-1.35zM594.8 636.7h1.35v1.35h-1.35zM651.5 665.7h1.35v1.35h-1.35zM651.7 683.2h1.35v1.35h-1.35zM597.4 620.2h1.35v1.35h-1.35zM576.7 662.7h1.35v1.35h-1.35zM618 725.1h1.35v1.35h-1.35zM657.9 652.2h1.35v1.35h-1.35zM634.6 645.5h1.35v1.35h-1.35zM671.2 660h1.35v1.35h-1.35zM636.7 729.4h1.35v1.35h-1.35zM659.1 674.4h1.35v1.35h-1.35zM648.6 708h1.35v1.35h-1.35zM642.1 642.6h1.35v1.35h-1.35zM641.2 665.3h1.35v1.35h-1.35zM669.6 669.1h1.35v1.35h-1.35zM583.1 692.3h1.35v1.35h-1.35zM598.1 639.1h1.35v1.35h-1.35zM597.3 718.2h1.35v1.35h-1.35zM619 655h1.35v1.35h-1.35zM640.8 622.7h1.35v1.35h-1.35zM623.3 639h1.35v1.35h-1.35zM593.1 696.7h1.35v1.35h-1.35z" fill="#f020f0"/>
<path d="M627.2 627.9h1.35v1.35h-1.35zM559.2 617.3h1.35v1.35h-1.35zM583.8 704.2h1.35v1.35h-1.35zM614.5 708.8h1.35v1.35h-1.35zM598.8 720h1.35v1.35h-1.35zM659.7 692.7h1.35v1.35h-1.35zM633.7 710.9h1.35v1.35h-1.35zM575.2 642.4h1.35v1.35h-1.35zM578.5 713.8h1.35v1.35h-1.35zM648.4 639.9h1.35v1.35h-1.35zM620.6 646.5h1.35v1.35h-1.35zM599.4 645.2h1.35v1.35h-1.35zM630.6 639.6h1.35v1.35h-1.35zM627.8 716.8h1.35v1.35h-1.35zM670.1 683.2h1.35v1.35h-1.35zM647.5 712.1h1.35v1.35h-1.35zM658.4 663.5h1.35v1.35h-1.35zM615.3 636.3h1.35v1.35h-1.35zM611.8 726.7h1.35v1.35h-1.35zM623 633.8h1.35v1.35h-1.35zM599.2 718.1h1.35v1.35h-1.35zM654.1 702.3h1.35v1.35h-1.35zM653 710.3h1.35v1.35h-1.35zM629.1 629.2h1.35v1.35h-1.35zM657.5 678.5h1.35v1.35h-1.35zM592.3 699.1h1.35v1.35h-1.35zM654.2 672.3h1.35v1.35h-1.35zM609.9 708.5h1.35v1.35h-1.35zM667.7 674.9h1.35v1.35h-1.35zM610.4 633.3h1.35v1.35h-1.35zM664.5 637.8h1.35v1.35h-1.35zM588.3 714.8h1.35v1.35h-1.35zM613.6 634.5h1.35v1.35h-1.35zM649.3 662.3h1.35v1.35h-1.35zM576.5 647.1h1.35v1.35h-1.35zM579.6 645h1.35v1.35h-1.35zM596.3 705.1h1.35v1.35h-1.35zM594.6 721h1.35v1.35h-1.35zM648.9 648.7h1.35v1.35h-1.35zM562.7 649.9h1.35v1.35h-1.35zM648.2 694.7h1.35v1.35h-1.35zM579.7 635h1.35v1.35h-1.35zM640.8 634.6h1.35v1.35h-1.35zM588.6 705.8h1.35v1.35h-1.35zM609.9 625.2h1.35v1.35h-1.35zM656.1 688.4h1.35v1.35h-1.35zM590.8 653h1.35v1.35h-1.35zM602.2 719.2h1.35v1.35h-1.35zM574.3 673.9h1.35v1.35h-1.35zM579.9 662.7h1.35v1.35h-1.35zM660.9 688.1h1.35v1.35h-1.35zM587.1 645.8h1.35v1.35h-1.35zM574.4 702.3h1.35v1.35h-1.35zM563 718.5h1.35v1.35h-1.35zM655.9 652h1.35v1.35h-1.35zM654.5 644.1h1.35v1.35h-1.35zM639.8 713.3h1.35v1.35h-1.35zM639.1 708.4h1.35v1.35h-1.35zM587.1 637.5h1.35v1.35h-1.35zM621.6 625.2h1.35v1.35h-1.35zM605.6 729.3h1.35v1.35h-1.35zM578.3 647.9h1.35v1.35h-1.35zM628.8 627.6h1.35v1.35h-1.35zM645.8 715.3h1.35v1.35h-1.35zM596.8 721.7h1.35v1.35h-1.35zM647.5 673.6h1.35v1.35h-1.35zM669.1 669.4h1.35v1.35h-1.35zM612.6 626.2h1.35v1.35h-1.35zM591 639.6h1.35v1.35h-1.35zM659.7 683.5h1.35v1.35h-1.35zM660.9 668.8h1.35v1.35h-1.35zM611 632.5h1.35v1.35h-1.35zM669.2 713.3h1.35v1.35h-1.35zM664.2 655.4h1.35v1.35h-1.35zM640 711h1.35v1.35h-1.35zM578.2 682.2h1.35v1.35h-1.35zM548.7 697h1.35v1.35h-1.35zM584.1 696.3h1.35v1.35h-1.35zM633.9 627.7h1.35v1.35h-1.35zM588.9 643.6h1.35v1.35h-1.35zM629.8 635.5h1.35v1.35h-1.35zM588.7 728.4h1.35v1.35h-1.35zM654.6 647.8h1.35v1.35h-1.35zM610.6 666h1.35v1.35h-1.35zM581.4 640.2h1.35v1.35h-1.35zM577.9 671.2h1.35v1.35h-1.35zM622.9 635.6h1.35v1.35h-1.35zM623 628.4h1.35v1.35h-1.35zM656.1 705.9h1.35v1.35h-1.35zM586.6 721.6h1.35v1.35h-1.35zM652.5 663.6h1.35v1.35h-1.35zM597.9 714.5h1.35v1.35h-1.35zM639 633.2h1.35v1.35h-1.35zM667.3 659.2h1.35v1.35h-1.35zM597.4 639.2h1.35v1.35h-1.35zM622.2 619h1.35v1.35h-1.35zM628.7 716h1.35v1.35h-1.35zM565 685.8h1.35v1.35h-1.35zM643.2 637.9h1.35v1.35h-1.35zM660.2 647.7h1.35v1.35h-1.35zM646.3 652.2h1.35v1.35h-1.35zM602 638.1h1.35v1.35h-1.35zM588.3 697.2h1.35v1.35h-1.35zM619.8 644.7h1.35v1.35h-1.35zM586.2 722.2h1.35v1.35h-1.35zM625.5 713.7h1.35v1.35h-1.35zM655.4 706.6h1.35v1.35h-1.35zM598.2 706.8h1.35v1.35h-1.35zM652.1 702h1.35v1.35h-1.35zM625.6 711.7h1.35v1.35h-1.35zM568.8 702.6h1.35v1.35h-1.35zM567.7 701.4h1.35v1.35h-1.35zM622.8 710.2h1.35v1.35h-1.35zM626.4 721.9h1.35v1.35h-1.35zM584.4 669.1h1.35v1.35h-1.35zM590.7 688.1h1.35v1.35h-1.35zM655.1 674.9h1.35v1.35h-1.35zM646.6 685.9h1.35v1.35h-1.35zM577 698.6h1.35v1.35h-1.35zM604.3 631.8h1.35v1.35h-1.35zM650.2 717.8h1.35v1.35h-1.35zM661 663.9h1.35v1.35h-1.35zM636.3 636.6h1.35v1.35h-1.35zM661.8 703.5h1.35v1.35h-1.35zM650.3 683.6h1.35v1.35h-1.35zM582.8 676.1h1.35v1.35h-1.35zM658.3 658.6h1.35v1.35h-1.35zM571.2 699.9h1.35v1.35h-1.35zM608.5 673.1h1.35v1.35h-1.35zM611.8 613.9h1.35v1.35h-1.35zM605.6 613.8h1.35v1.35h-1.35zM585.4 689.3h1.35v1.35h-1.35zM574 673.7h1.35v1.35h-1.35zM637.5 642.2h1.35v1.35h-1.35zM651.1 683h1.35v1.35h-1.35zM621 643h1.35v1.35h-1.35zM607.6 636.1h1.35v1.35h-1.35zM665.2 700.3h1.35v1.35h-1.35zM646.9 658.3h1.35v1.35h-1.35zM662 693h1.35v1.35h-1.35zM669.7 617.5h1.35v1.35h-1.35zM656.4 683.5h1.35v1.35h-1.35zM640.9 631.3h1.35v1.35h-1.35zM630.3 714h1.35v1.35h-1.35zM572.8 701h1.35v1.35h-1.35zM588.5 726h1.35v1.35h-1.35zM666.4 682h1.35v1.35h-1.35zM639.7 716.9h1.35v1.35h-1.35zM585.3 710.9h1.35v1.35h-1.35zM579 692.3h1.35v1.35h-1.35zM606.4 683.3h1.35v1.35h-1.35zM576.2 708.5h1.35v1.35h-1.35zM576.7 638h1.35v1.35h-1.35zM652.9 695.1h1.35v1.35h-1.35zM575.8 665.1h1.35v1.35h-1.35zM565.5 669.2h1.35v1.35h-1.35zM659.4 689.9h1.35v1.35h-1.35zM578 697.9h1.35v1.35h-1.35zM599.7 714.5h1.35v1.35h-1.35z" fill="#f2ee10"/>
</g>
<rect x="676.4" y="605.3" width="9.6" height="128.1" fill="#000" stroke="none" stroke-width="1"/>
<clipPath id="cpis"><rect x="676.4" y="605.3" width="9.6" height="128.1"/></clipPath>
<g clip-path="url(#cpis)">
<path d="M680.9 674.5h1.5v1.5h-1.5zM685.2 614.7h1.5v1.5h-1.5zM683.8 648.2h1.5v1.5h-1.5zM680.2 607.6h1.5v1.5h-1.5zM678.7 666.2h1.5v1.5h-1.5zM677.3 644.4h1.5v1.5h-1.5zM682.8 634.4h1.5v1.5h-1.5zM681.5 620.9h1.5v1.5h-1.5zM678.8 652.7h1.5v1.5h-1.5zM680 659.9h1.5v1.5h-1.5zM682 651.9h1.5v1.5h-1.5zM676.9 646.9h1.5v1.5h-1.5zM683.5 617.3h1.5v1.5h-1.5zM677.1 676.3h1.5v1.5h-1.5zM682.7 639.6h1.5v1.5h-1.5zM683.7 607.6h1.5v1.5h-1.5zM680.3 612.3h1.5v1.5h-1.5zM679.1 647.4h1.5v1.5h-1.5zM683.4 624.5h1.5v1.5h-1.5zM679 612.4h1.5v1.5h-1.5zM679.1 684.8h1.5v1.5h-1.5zM684.8 624.1h1.5v1.5h-1.5zM680 614.3h1.5v1.5h-1.5zM680.8 646.6h1.5v1.5h-1.5zM683.1 689.7h1.5v1.5h-1.5zM684.7 708.4h1.5v1.5h-1.5zM682.5 614.6h1.5v1.5h-1.5zM680.2 675.4h1.5v1.5h-1.5zM680.6 692.4h1.5v1.5h-1.5zM682.2 619.6h1.5v1.5h-1.5zM680.7 648.9h1.5v1.5h-1.5zM678.3 621.8h1.5v1.5h-1.5zM682 651.2h1.5v1.5h-1.5zM684.1 651.7h1.5v1.5h-1.5zM677.9 641.7h1.5v1.5h-1.5zM680.4 701.9h1.5v1.5h-1.5zM677.8 699.6h1.5v1.5h-1.5zM682.9 625.3h1.5v1.5h-1.5zM683.5 694.5h1.5v1.5h-1.5zM683 715h1.5v1.5h-1.5zM684.3 714.4h1.5v1.5h-1.5zM684.7 717.1h1.5v1.5h-1.5zM677.7 679.7h1.5v1.5h-1.5zM680.4 677.1h1.5v1.5h-1.5zM677 667.1h1.5v1.5h-1.5zM680.8 628.9h1.5v1.5h-1.5zM679 720.8h1.5v1.5h-1.5zM684 644.4h1.5v1.5h-1.5zM683.9 723.6h1.5v1.5h-1.5zM682.6 648.7h1.5v1.5h-1.5zM684.7 710.7h1.5v1.5h-1.5zM683.5 709.7h1.5v1.5h-1.5zM683.8 680.3h1.5v1.5h-1.5zM682.1 697.1h1.5v1.5h-1.5zM684.9 661.7h1.5v1.5h-1.5zM682.8 722h1.5v1.5h-1.5zM677.7 636.6h1.5v1.5h-1.5zM678.8 632h1.5v1.5h-1.5zM684.6 718.1h1.5v1.5h-1.5zM676.9 658.1h1.5v1.5h-1.5zM676.4 673.2h1.5v1.5h-1.5zM682.7 648.2h1.5v1.5h-1.5zM683 658.7h1.5v1.5h-1.5zM676.8 684.5h1.5v1.5h-1.5zM682 615.7h1.5v1.5h-1.5zM682.5 640.1h1.5v1.5h-1.5zM677.7 653h1.5v1.5h-1.5zM680.4 717.6h1.5v1.5h-1.5zM684.3 720.7h1.5v1.5h-1.5zM676.6 647.8h1.5v1.5h-1.5zM684.9 659h1.5v1.5h-1.5zM681.9 646.4h1.5v1.5h-1.5zM681.3 710h1.5v1.5h-1.5zM679.4 700.4h1.5v1.5h-1.5zM683.8 652.6h1.5v1.5h-1.5zM679.7 626.2h1.5v1.5h-1.5zM679.3 690.9h1.5v1.5h-1.5zM682.2 686h1.5v1.5h-1.5zM681.7 692.1h1.5v1.5h-1.5zM681.8 721h1.5v1.5h-1.5zM683.9 637.8h1.5v1.5h-1.5zM681 710.9h1.5v1.5h-1.5zM681.3 673.1h1.5v1.5h-1.5zM677.9 698.3h1.5v1.5h-1.5zM684.8 632.8h1.5v1.5h-1.5zM677.3 700.4h1.5v1.5h-1.5zM683.9 636.5h1.5v1.5h-1.5zM682 685.7h1.5v1.5h-1.5zM684.6 667.3h1.5v1.5h-1.5zM683.1 614h1.5v1.5h-1.5zM681.6 720.9h1.5v1.5h-1.5zM680.9 638.4h1.5v1.5h-1.5zM681.2 617.4h1.5v1.5h-1.5zM676.8 652.6h1.5v1.5h-1.5zM679.5 614.7h1.5v1.5h-1.5zM680.7 628.9h1.5v1.5h-1.5zM681 694.1h1.5v1.5h-1.5zM681 711h1.5v1.5h-1.5zM681.5 620.9h1.5v1.5h-1.5zM679.1 622h1.5v1.5h-1.5zM683 668.4h1.5v1.5h-1.5zM682.6 638.9h1.5v1.5h-1.5zM676.8 689.1h1.5v1.5h-1.5zM684.1 648.7h1.5v1.5h-1.5zM679.3 716h1.5v1.5h-1.5zM680.4 628.1h1.5v1.5h-1.5zM680.3 672.8h1.5v1.5h-1.5zM678.4 695.5h1.5v1.5h-1.5zM678.8 718.4h1.5v1.5h-1.5zM682.9 686.6h1.5v1.5h-1.5zM684.9 692.6h1.5v1.5h-1.5zM684.2 614.7h1.5v1.5h-1.5zM684.7 650.1h1.5v1.5h-1.5zM680.9 623.9h1.5v1.5h-1.5zM682.7 636.9h1.5v1.5h-1.5zM684.6 690.5h1.5v1.5h-1.5zM680 670.6h1.5v1.5h-1.5zM679.1 648.3h1.5v1.5h-1.5zM684.3 709.5h1.5v1.5h-1.5zM683.2 633.5h1.5v1.5h-1.5zM683.6 656.8h1.5v1.5h-1.5zM677.8 653.9h1.5v1.5h-1.5zM679.4 636.9h1.5v1.5h-1.5zM685.1 717.3h1.5v1.5h-1.5zM682.1 638.7h1.5v1.5h-1.5zM685 669.9h1.5v1.5h-1.5zM684.9 609.7h1.5v1.5h-1.5zM682.3 694.9h1.5v1.5h-1.5zM681.5 723.4h1.5v1.5h-1.5zM676.9 664.4h1.5v1.5h-1.5zM681.7 712.7h1.5v1.5h-1.5zM676.5 664.8h1.5v1.5h-1.5zM682.1 627.9h1.5v1.5h-1.5zM680.9 615h1.5v1.5h-1.5zM679.1 683.7h1.5v1.5h-1.5zM683.1 616.7h1.5v1.5h-1.5zM682.8 684.8h1.5v1.5h-1.5zM682.2 624.8h1.5v1.5h-1.5zM684.2 618.7h1.5v1.5h-1.5zM682.8 659.2h1.5v1.5h-1.5zM681.5 698.4h1.5v1.5h-1.5zM681.9 708.7h1.5v1.5h-1.5zM675.8 676.5h1.5v1.5h-1.5zM679.1 647.6h1.5v1.5h-1.5zM678.8 624.7h1.5v1.5h-1.5zM680.4 722.1h1.5v1.5h-1.5zM683.4 672.2h1.5v1.5h-1.5zM678.3 688.1h1.5v1.5h-1.5zM681.3 619.7h1.5v1.5h-1.5zM679.3 704h1.5v1.5h-1.5zM680.1 673h1.5v1.5h-1.5zM680.1 696.2h1.5v1.5h-1.5zM681.7 686.6h1.5v1.5h-1.5zM683.8 614.8h1.5v1.5h-1.5zM679.6 716.6h1.5v1.5h-1.5zM682.2 713h1.5v1.5h-1.5zM679.3 669.5h1.5v1.5h-1.5zM683.1 701.8h1.5v1.5h-1.5zM682.4 611.6h1.5v1.5h-1.5zM677.4 669.7h1.5v1.5h-1.5zM684.3 645.5h1.5v1.5h-1.5zM677.2 685.4h1.5v1.5h-1.5zM685.2 685h1.5v1.5h-1.5zM683.1 714.6h1.5v1.5h-1.5zM684.4 710.9h1.5v1.5h-1.5zM683.4 686.6h1.5v1.5h-1.5zM678.9 649.8h1.5v1.5h-1.5zM676.3 653.7h1.5v1.5h-1.5zM681.6 621.8h1.5v1.5h-1.5zM678.6 674.8h1.5v1.5h-1.5zM678.8 685.4h1.5v1.5h-1.5zM679.6 608.9h1.5v1.5h-1.5zM684.5 614.9h1.5v1.5h-1.5zM682.1 611.1h1.5v1.5h-1.5zM683 609.9h1.5v1.5h-1.5zM682.4 614.7h1.5v1.5h-1.5zM684.2 703.1h1.5v1.5h-1.5zM682.1 625.4h1.5v1.5h-1.5zM681.2 692.8h1.5v1.5h-1.5zM677 686.2h1.5v1.5h-1.5zM678 627.6h1.5v1.5h-1.5zM676 659.8h1.5v1.5h-1.5zM680.3 686.3h1.5v1.5h-1.5zM679.1 702.1h1.5v1.5h-1.5zM683.7 617.9h1.5v1.5h-1.5zM684.4 617.8h1.5v1.5h-1.5zM679 687.9h1.5v1.5h-1.5zM681.2 658.5h1.5v1.5h-1.5zM679.3 641.1h1.5v1.5h-1.5zM684.6 700.7h1.5v1.5h-1.5zM681 670.2h1.5v1.5h-1.5zM681.7 666.9h1.5v1.5h-1.5zM677.1 650.8h1.5v1.5h-1.5zM684.3 610.6h1.5v1.5h-1.5zM683.1 623.4h1.5v1.5h-1.5zM684.8 647.1h1.5v1.5h-1.5zM679.6 691.2h1.5v1.5h-1.5zM680.2 717.5h1.5v1.5h-1.5zM680.7 642.4h1.5v1.5h-1.5zM679.6 723h1.5v1.5h-1.5zM684.3 685h1.5v1.5h-1.5zM685.2 717.7h1.5v1.5h-1.5zM683.7 610.5h1.5v1.5h-1.5zM684.9 723.1h1.5v1.5h-1.5z" fill="#f2ee10"/>
<path d="M680.9 721.8h1.5v1.5h-1.5zM682.1 681.2h1.5v1.5h-1.5zM683.4 656.8h1.5v1.5h-1.5zM682.7 660.6h1.5v1.5h-1.5zM679.2 650.7h1.5v1.5h-1.5zM677.6 696.8h1.5v1.5h-1.5zM683.1 621.3h1.5v1.5h-1.5zM679.8 630.5h1.5v1.5h-1.5zM682.8 721h1.5v1.5h-1.5zM684.6 610.8h1.5v1.5h-1.5zM678.1 707h1.5v1.5h-1.5zM682.1 617.8h1.5v1.5h-1.5zM679.3 719.4h1.5v1.5h-1.5zM682.2 637.2h1.5v1.5h-1.5zM678.6 692.7h1.5v1.5h-1.5zM678.3 631.2h1.5v1.5h-1.5zM678.6 692.1h1.5v1.5h-1.5zM679.1 687.1h1.5v1.5h-1.5zM680.7 630.8h1.5v1.5h-1.5z" fill="#ffffff"/>
<path d="M676 681.2h1.5v1.5h-1.5zM679.4 608h1.5v1.5h-1.5zM680.7 673.8h1.5v1.5h-1.5zM678.7 674.8h1.5v1.5h-1.5zM679.6 687.3h1.5v1.5h-1.5zM684.2 664.7h1.5v1.5h-1.5zM679.8 628.8h1.5v1.5h-1.5zM679 720.7h1.5v1.5h-1.5zM680.6 719.6h1.5v1.5h-1.5zM678 637.5h1.5v1.5h-1.5zM677.3 684.5h1.5v1.5h-1.5zM680.9 638.3h1.5v1.5h-1.5zM679.1 711.1h1.5v1.5h-1.5zM678.2 629.9h1.5v1.5h-1.5zM682 629.1h1.5v1.5h-1.5zM680.3 607.7h1.5v1.5h-1.5zM680.5 617.4h1.5v1.5h-1.5zM684.8 612.2h1.5v1.5h-1.5zM680.3 674.5h1.5v1.5h-1.5zM678.3 695h1.5v1.5h-1.5zM680.2 705h1.5v1.5h-1.5zM683.2 706.1h1.5v1.5h-1.5zM684.3 662.6h1.5v1.5h-1.5zM684.1 704h1.5v1.5h-1.5zM685 666.2h1.5v1.5h-1.5zM679.8 691.5h1.5v1.5h-1.5zM680.6 662.7h1.5v1.5h-1.5zM683.2 716.9h1.5v1.5h-1.5zM680.7 608.5h1.5v1.5h-1.5zM683.3 611.6h1.5v1.5h-1.5zM678.9 658.3h1.5v1.5h-1.5zM681.1 708.7h1.5v1.5h-1.5zM684.4 663.1h1.5v1.5h-1.5zM680.2 717.6h1.5v1.5h-1.5zM683.9 682.9h1.5v1.5h-1.5zM680.7 636.8h1.5v1.5h-1.5zM678.1 669.9h1.5v1.5h-1.5zM684.7 718.9h1.5v1.5h-1.5zM682.9 649.8h1.5v1.5h-1.5zM683.6 709h1.5v1.5h-1.5zM683.7 660.5h1.5v1.5h-1.5zM681.7 622.1h1.5v1.5h-1.5zM680.8 662.8h1.5v1.5h-1.5zM678.5 719.4h1.5v1.5h-1.5zM677.4 689.3h1.5v1.5h-1.5zM683.9 663.7h1.5v1.5h-1.5zM679.3 706.8h1.5v1.5h-1.5zM684.3 689h1.5v1.5h-1.5zM678.1 691.7h1.5v1.5h-1.5zM683.8 628.5h1.5v1.5h-1.5zM681.8 654.3h1.5v1.5h-1.5zM683.7 640.1h1.5v1.5h-1.5zM679.9 702.9h1.5v1.5h-1.5zM676.7 650.3h1.5v1.5h-1.5zM684 688.3h1.5v1.5h-1.5zM683.3 625h1.5v1.5h-1.5zM683 701.3h1.5v1.5h-1.5zM684.2 706.9h1.5v1.5h-1.5zM680.6 621.4h1.5v1.5h-1.5zM679.5 674.9h1.5v1.5h-1.5zM678.5 653.1h1.5v1.5h-1.5zM682.9 687.4h1.5v1.5h-1.5zM683.7 718.1h1.5v1.5h-1.5zM677.7 686.7h1.5v1.5h-1.5zM684.1 623.3h1.5v1.5h-1.5zM682.5 661h1.5v1.5h-1.5zM680.5 636.8h1.5v1.5h-1.5zM678.6 693.1h1.5v1.5h-1.5zM682.3 720.9h1.5v1.5h-1.5zM682.5 671.5h1.5v1.5h-1.5zM681.7 654.2h1.5v1.5h-1.5zM684.8 655.3h1.5v1.5h-1.5zM683.2 622.6h1.5v1.5h-1.5zM683.6 664.5h1.5v1.5h-1.5zM678.9 624.8h1.5v1.5h-1.5zM677.9 646.9h1.5v1.5h-1.5zM679.3 663.7h1.5v1.5h-1.5zM683.9 642.6h1.5v1.5h-1.5zM682.7 713h1.5v1.5h-1.5zM685 702.3h1.5v1.5h-1.5zM677.6 632.9h1.5v1.5h-1.5zM684.4 616h1.5v1.5h-1.5zM680.3 662.7h1.5v1.5h-1.5zM684.9 722.2h1.5v1.5h-1.5zM684.9 630.5h1.5v1.5h-1.5zM680.7 722.2h1.5v1.5h-1.5zM685 657.1h1.5v1.5h-1.5zM684 649h1.5v1.5h-1.5zM684.4 616.2h1.5v1.5h-1.5zM676.2 663.2h1.5v1.5h-1.5zM682.1 655.9h1.5v1.5h-1.5zM678.3 703.9h1.5v1.5h-1.5zM679.8 642.5h1.5v1.5h-1.5zM683.6 621.3h1.5v1.5h-1.5zM681.9 614.7h1.5v1.5h-1.5zM680.7 691.6h1.5v1.5h-1.5zM684.5 648.8h1.5v1.5h-1.5zM680.3 613.7h1.5v1.5h-1.5zM683 710.1h1.5v1.5h-1.5zM682.7 670.9h1.5v1.5h-1.5zM682 700.1h1.5v1.5h-1.5zM680.9 705.5h1.5v1.5h-1.5zM679.3 650h1.5v1.5h-1.5zM681.1 611.3h1.5v1.5h-1.5zM681.6 685.4h1.5v1.5h-1.5zM684.8 608.9h1.5v1.5h-1.5zM681.1 623.2h1.5v1.5h-1.5zM677.9 637.7h1.5v1.5h-1.5zM682.3 660.3h1.5v1.5h-1.5zM679 619.3h1.5v1.5h-1.5zM676.7 653h1.5v1.5h-1.5zM683.8 715.6h1.5v1.5h-1.5zM676.8 663.5h1.5v1.5h-1.5zM681.5 659h1.5v1.5h-1.5zM683.1 640.2h1.5v1.5h-1.5zM680.7 681.1h1.5v1.5h-1.5zM683.8 710.8h1.5v1.5h-1.5zM681.2 713.3h1.5v1.5h-1.5zM683.2 612.5h1.5v1.5h-1.5zM684.8 656.1h1.5v1.5h-1.5zM683.2 668.8h1.5v1.5h-1.5zM676.2 684.9h1.5v1.5h-1.5zM678.5 657.8h1.5v1.5h-1.5zM682.9 674.9h1.5v1.5h-1.5zM683.8 627.3h1.5v1.5h-1.5zM679.6 664.3h1.5v1.5h-1.5zM682.7 716.4h1.5v1.5h-1.5zM682.6 663.8h1.5v1.5h-1.5zM685.1 677.7h1.5v1.5h-1.5zM680 642.4h1.5v1.5h-1.5zM683.9 613.7h1.5v1.5h-1.5zM677.2 638h1.5v1.5h-1.5zM677.7 677.5h1.5v1.5h-1.5zM680.6 634.3h1.5v1.5h-1.5zM679.1 716.2h1.5v1.5h-1.5zM681 667.8h1.5v1.5h-1.5zM680.7 647.4h1.5v1.5h-1.5zM677.6 668.5h1.5v1.5h-1.5zM682.7 716.2h1.5v1.5h-1.5zM680.8 678.1h1.5v1.5h-1.5zM677.8 704.8h1.5v1.5h-1.5zM683.1 720.2h1.5v1.5h-1.5zM682.8 714h1.5v1.5h-1.5zM681.8 670.7h1.5v1.5h-1.5zM678.8 622.2h1.5v1.5h-1.5zM679.6 722h1.5v1.5h-1.5zM682.1 618.7h1.5v1.5h-1.5zM684.5 624.6h1.5v1.5h-1.5zM679.3 722.4h1.5v1.5h-1.5zM682.9 631.1h1.5v1.5h-1.5zM679.8 688.7h1.5v1.5h-1.5zM681.3 650.6h1.5v1.5h-1.5zM679.7 685.6h1.5v1.5h-1.5zM684.7 699h1.5v1.5h-1.5zM682 638.9h1.5v1.5h-1.5zM680 613h1.5v1.5h-1.5zM684.3 609h1.5v1.5h-1.5zM683.6 621h1.5v1.5h-1.5zM678.7 667.4h1.5v1.5h-1.5zM683.8 626.8h1.5v1.5h-1.5zM680.2 690.8h1.5v1.5h-1.5zM677.9 666.6h1.5v1.5h-1.5zM679.6 618.8h1.5v1.5h-1.5zM684.7 683.3h1.5v1.5h-1.5zM680 676.5h1.5v1.5h-1.5zM679.9 628h1.5v1.5h-1.5zM676.5 675.2h1.5v1.5h-1.5zM681.4 679.2h1.5v1.5h-1.5zM678.3 647.5h1.5v1.5h-1.5zM683 723.4h1.5v1.5h-1.5zM678.6 670.8h1.5v1.5h-1.5zM680.6 696.1h1.5v1.5h-1.5zM684.3 615h1.5v1.5h-1.5zM682.7 719.6h1.5v1.5h-1.5zM676.4 663.7h1.5v1.5h-1.5zM682.3 637.8h1.5v1.5h-1.5zM684.8 650.1h1.5v1.5h-1.5zM682.4 709h1.5v1.5h-1.5zM680.5 617.7h1.5v1.5h-1.5zM681 639.2h1.5v1.5h-1.5zM676.8 694.5h1.5v1.5h-1.5zM684.8 630.1h1.5v1.5h-1.5zM677 691.3h1.5v1.5h-1.5zM683.5 687.8h1.5v1.5h-1.5zM684.4 632.7h1.5v1.5h-1.5zM682.3 680.1h1.5v1.5h-1.5zM683.8 651h1.5v1.5h-1.5zM683.9 692.6h1.5v1.5h-1.5zM679.3 624.8h1.5v1.5h-1.5zM685 628.3h1.5v1.5h-1.5zM685.1 713.8h1.5v1.5h-1.5zM681.1 670.1h1.5v1.5h-1.5zM682.2 709.3h1.5v1.5h-1.5zM676.8 685.1h1.5v1.5h-1.5zM683.2 708.3h1.5v1.5h-1.5zM685.2 667.6h1.5v1.5h-1.5zM679.5 690.7h1.5v1.5h-1.5zM679.1 721.6h1.5v1.5h-1.5zM677.5 651.9h1.5v1.5h-1.5zM683.6 689.6h1.5v1.5h-1.5zM679 683.6h1.5v1.5h-1.5zM679.2 612.8h1.5v1.5h-1.5zM683.3 646.5h1.5v1.5h-1.5zM683.5 615.8h1.5v1.5h-1.5zM680.5 669.2h1.5v1.5h-1.5zM677.2 681.9h1.5v1.5h-1.5zM679.3 612.2h1.5v1.5h-1.5zM682 628.4h1.5v1.5h-1.5zM683.4 622.3h1.5v1.5h-1.5zM684.1 663.5h1.5v1.5h-1.5zM681.7 608.7h1.5v1.5h-1.5zM677.4 650h1.5v1.5h-1.5zM679.2 635.3h1.5v1.5h-1.5zM677.1 653.5h1.5v1.5h-1.5zM684.8 636.5h1.5v1.5h-1.5zM682.7 631.3h1.5v1.5h-1.5zM685.2 720.4h1.5v1.5h-1.5zM684.5 614.7h1.5v1.5h-1.5zM682.7 608.6h1.5v1.5h-1.5zM684.6 689.3h1.5v1.5h-1.5zM680.6 679.2h1.5v1.5h-1.5zM677.3 650.4h1.5v1.5h-1.5zM680.9 679.5h1.5v1.5h-1.5zM676.9 646.8h1.5v1.5h-1.5zM678.8 635.6h1.5v1.5h-1.5zM684.5 698.2h1.5v1.5h-1.5zM679.9 719.4h1.5v1.5h-1.5zM683.5 686.1h1.5v1.5h-1.5zM679.9 620.7h1.5v1.5h-1.5zM676.5 662.8h1.5v1.5h-1.5zM684.5 624.3h1.5v1.5h-1.5zM676.7 674.4h1.5v1.5h-1.5zM682.4 682.1h1.5v1.5h-1.5zM677.1 658h1.5v1.5h-1.5zM680.4 703.4h1.5v1.5h-1.5zM684.2 709.2h1.5v1.5h-1.5zM681.8 670.4h1.5v1.5h-1.5zM684 664.6h1.5v1.5h-1.5zM678.6 645h1.5v1.5h-1.5zM681.8 657.1h1.5v1.5h-1.5zM683.1 660.7h1.5v1.5h-1.5zM684.2 621.2h1.5v1.5h-1.5zM680.3 704.1h1.5v1.5h-1.5zM682.5 646.6h1.5v1.5h-1.5zM677 642.7h1.5v1.5h-1.5zM682.1 717.2h1.5v1.5h-1.5zM679.9 625.5h1.5v1.5h-1.5zM677.1 679.5h1.5v1.5h-1.5zM685.1 694.3h1.5v1.5h-1.5zM683.4 631.1h1.5v1.5h-1.5zM679.2 622h1.5v1.5h-1.5zM678.7 714.9h1.5v1.5h-1.5zM684.5 644.6h1.5v1.5h-1.5zM684.6 616.9h1.5v1.5h-1.5zM681.5 719.9h1.5v1.5h-1.5z" fill="#f020f0"/>
</g>
<text x="671.8" y="731.6" font-size="10" fill="#eee" text-anchor="end" textLength="31" lengthAdjust="spacingAndGlyphs" stroke="#eee" stroke-width="0.22"><tspan font-style="italic">n</tspan> = 480</text>
<text x="538.8" y="399.5" font-size="13.5" fill="#000" font-weight="bold">j</text>
<line x1="575.6" y1="418.5" x2="575.6" y2="531.7" stroke="#777" stroke-width="0.8"/>
<line x1="575.6" y1="531.7" x2="682" y2="531.7" stroke="#777" stroke-width="0.8"/>
<line x1="573.1" y1="531.7" x2="575.6" y2="531.7" stroke="#777" stroke-width="0.7"/>
<text x="569.6" y="534.9" font-size="8.7" fill="#333" text-anchor="end">0</text>
<line x1="573.1" y1="506.65" x2="575.6" y2="506.65" stroke="#777" stroke-width="0.7"/>
<text x="569.6" y="509.85" font-size="8.7" fill="#333" text-anchor="end">200</text>
<line x1="573.1" y1="481.6" x2="575.6" y2="481.6" stroke="#777" stroke-width="0.7"/>
<text x="569.6" y="484.8" font-size="8.7" fill="#333" text-anchor="end">400</text>
<line x1="573.1" y1="456.55" x2="575.6" y2="456.55" stroke="#777" stroke-width="0.7"/>
<text x="569.6" y="459.75" font-size="8.7" fill="#333" text-anchor="end">600</text>
<line x1="573.1" y1="431.5" x2="575.6" y2="431.5" stroke="#777" stroke-width="0.7"/>
<text x="569.6" y="434.7" font-size="8.7" fill="#333" text-anchor="end">800</text>
<line x1="576.4" y1="531.7" x2="576.4" y2="534.3" stroke="#777" stroke-width="0.7"/>
<text x="576.4" y="544.3" font-size="8.7" fill="#333" text-anchor="middle">0</text>
<line x1="598.47" y1="531.7" x2="598.47" y2="534.3" stroke="#777" stroke-width="0.7"/>
<text x="598.47" y="544.3" font-size="8.7" fill="#333" text-anchor="middle">2</text>
<line x1="620.55" y1="531.7" x2="620.55" y2="534.3" stroke="#777" stroke-width="0.7"/>
<text x="620.55" y="544.3" font-size="8.7" fill="#333" text-anchor="middle">4</text>
<line x1="642.62" y1="531.7" x2="642.62" y2="534.3" stroke="#777" stroke-width="0.7"/>
<text x="642.62" y="544.3" font-size="8.7" fill="#333" text-anchor="middle">6</text>
<line x1="664.7" y1="531.7" x2="664.7" y2="534.3" stroke="#777" stroke-width="0.7"/>
<text x="664.7" y="544.3" font-size="8.7" fill="#333" text-anchor="middle">8</text>
<text x="628.9" y="558.9" font-size="9.4" fill="#222" text-anchor="middle" textLength="65.4" lengthAdjust="spacingAndGlyphs" stroke="#222" stroke-width="0.22">Frame (×1,000)</text>
<text x="546.6" y="475.8" font-size="9.4" fill="#222" text-anchor="middle" textLength="84.1" lengthAdjust="spacingAndGlyphs" transform="rotate(-90 546.6 475.8)" stroke="#222" stroke-width="0.22">No. of tracked cells</text>
<path d="M576.2 471.3L577.1 478.8L578.4 488.9L580.9 497.3L585 503.1L590.1 506.5L596.8 509.9L602.7 511.5L605.2 513.3L612 515.4L620.4 516.3L628.7 517.8L640.5 518.8L654 519.4L674.1 520.4" fill="none" stroke="#38c8ee" stroke-width="1.05" stroke-linejoin="round"/>
<path d="M576.2 433.1L577.1 441.9L578.1 457.1L579.2 470.5L580.9 482.2L583.4 492.2L586.8 498.1L591.9 502.4L596.8 504L601 504.9L604.5 507L610.3 508.2L620.4 509.4L628.7 510.4L642.2 512L654 512.8L674.1 513.8" fill="none" stroke="#f5b850" stroke-width="1.05" stroke-linejoin="round"/>
<path d="M576.2 425.1L577.1 430.1L579.2 434.4L583.4 436L587.6 437.8L588.8 438.5L589.8 442.8L591.9 446.9L594.3 449.4L599.4 452.3L605.2 454.5L609.3 455.3L613.7 456.2L620.4 457.8L628.7 460.4L637.1 462.1L645.6 464.1L654 465.9L662.3 467.4L674.1 468.8" fill="none" stroke="#f03ce8" stroke-width="1.05" stroke-linejoin="round"/>
<line x1="598.6" y1="411" x2="606.8" y2="411" stroke="#f03ce8" stroke-width="1.2"/>
<text x="611.9" y="414.3" font-size="9.4" fill="#222" textLength="38.5" lengthAdjust="spacingAndGlyphs" stroke="#222" stroke-width="0.22">CELLECT</text>
<line x1="598.6" y1="423.7" x2="606.8" y2="423.7" stroke="#f5b850" stroke-width="1.2"/>
<text x="611.9" y="427" font-size="9.4" fill="#222" textLength="23.6" lengthAdjust="spacingAndGlyphs" stroke="#222" stroke-width="0.22">Imaris</text>
<line x1="598.6" y1="436.5" x2="606.8" y2="436.5" stroke="#38c8ee" stroke-width="1.2"/>
<text x="611.9" y="439.8" font-size="9.4" fill="#222" textLength="70.8" lengthAdjust="spacingAndGlyphs" stroke="#222" stroke-width="0.22">TrackMate-Weka</text>
<text x="-0.5" y="779.2" font-size="13.5" fill="#000" font-weight="bold">k</text>
<rect x="16.1" y="791.1" width="106" height="105.5" fill="#3cae1e" stroke="none" stroke-width="1"/>
<rect x="18.6" y="793.6" width="101" height="100.5" fill="#000" stroke="none" stroke-width="1"/>
<clipPath id="cpk0"><rect x="18.6" y="793.6" width="101" height="100.5"/></clipPath>
<rect x="127.9" y="791.1" width="106" height="105.5" fill="#3cae1e" stroke="none" stroke-width="1"/>
<rect x="130.4" y="793.6" width="101" height="100.5" fill="#000" stroke="none" stroke-width="1"/>
<clipPath id="cpk1"><rect x="130.4" y="793.6" width="101" height="100.5"/></clipPath>
<rect x="239.6" y="791.1" width="105.7" height="105.5" fill="#3cae1e" stroke="none" stroke-width="1"/>
<rect x="242.1" y="793.6" width="100.7" height="100.5" fill="#000" stroke="none" stroke-width="1"/>
<clipPath id="cpk2"><rect x="242.1" y="793.6" width="100.7" height="100.5"/></clipPath>
<g clip-path="url(#cpk0)">
<g filter="url(#bl3)">
<ellipse cx="42.84" cy="861.15" rx="4.96" ry="3.69" fill="#fff" opacity="0.21" transform="rotate(6.279436876628679 42.84 861.15)"/>
<ellipse cx="58.53" cy="891.88" rx="4.14" ry="4.89" fill="#fff" opacity="0.13" transform="rotate(10.327724809028936 58.53 891.88)"/>
<ellipse cx="119.67" cy="854.66" rx="5.06" ry="3.09" fill="#fff" opacity="0.15" transform="rotate(-29.015740127034096 119.67 854.66)"/>
<ellipse cx="101.09" cy="839.72" rx="3.6" ry="5.36" fill="#fff" opacity="0.19" transform="rotate(51.1710234189226 101.09 839.72)"/>
<ellipse cx="37.72" cy="878.18" rx="5.01" ry="4.41" fill="#fff" opacity="0.22" transform="rotate(48.79720961505433 37.72 878.18)"/>
<ellipse cx="102.07" cy="882.52" rx="4.28" ry="3.52" fill="#fff" opacity="0.14" transform="rotate(58.34442700064059 102.07 882.52)"/>
<ellipse cx="19.65" cy="856.67" rx="3.1" ry="5.88" fill="#fff" opacity="0.21" transform="rotate(-46.55705050990367 19.65 856.67)"/>
<ellipse cx="63.93" cy="835.76" rx="4.45" ry="5.95" fill="#fff" opacity="0.19" transform="rotate(39.58840597240105 63.93 835.76)"/>
<ellipse cx="119.68" cy="889.5" rx="4.12" ry="4.57" fill="#fff" opacity="0.21" transform="rotate(37.66233918696274 119.68 889.5)"/>
<ellipse cx="102.71" cy="883.38" rx="3.76" ry="3.26" fill="#fff" opacity="0.16" transform="rotate(10.227122482428925 102.71 883.38)"/>
<ellipse cx="75.19" cy="884.63" rx="4.69" ry="4.76" fill="#fff" opacity="0.22" transform="rotate(-34.42852484209742 75.19 884.63)"/>
<ellipse cx="23.46" cy="858.68" rx="4.29" ry="5.95" fill="#fff" opacity="0.2" transform="rotate(6.177428977828498 23.46 858.68)"/>
<ellipse cx="48.04" cy="859.77" rx="4.42" ry="4.27" fill="#fff" opacity="0.1" transform="rotate(34.182374040949185 48.04 859.77)"/>
<ellipse cx="65.36" cy="891.27" rx="4.48" ry="5.03" fill="#fff" opacity="0.16" transform="rotate(27.104635009774256 65.36 891.27)"/>
<ellipse cx="69.08" cy="891.33" rx="4.61" ry="5.01" fill="#fff" opacity="0.15" transform="rotate(27.39899168591296 69.08 891.33)"/>
<ellipse cx="19.71" cy="879.18" rx="4.85" ry="5.96" fill="#fff" opacity="0.14" transform="rotate(33.182349265169336 19.71 879.18)"/>
<ellipse cx="76.25" cy="871.13" rx="4.16" ry="4.23" fill="#fff" opacity="0.13" transform="rotate(29.11487513078302 76.25 871.13)"/>
<ellipse cx="106.48" cy="842.22" rx="2.66" ry="5.3" fill="#fff" opacity="0.09" transform="rotate(-20.5869396114244 106.48 842.22)"/>
<ellipse cx="45.94" cy="889.42" rx="2.51" ry="5.86" fill="#fff" opacity="0.15" transform="rotate(-51.32213598528829 45.94 889.42)"/>
<ellipse cx="72.51" cy="879.7" rx="4.97" ry="3.82" fill="#fff" opacity="0.21" transform="rotate(28.583915667551963 72.51 879.7)"/>
<ellipse cx="78.19" cy="828.12" rx="3.81" ry="5.19" fill="#fff" opacity="0.1" transform="rotate(34.12897280008055 78.19 828.12)"/>
<ellipse cx="75.92" cy="870.47" rx="4.34" ry="4.84" fill="#fff" opacity="0.1" transform="rotate(32.25421413495512 75.92 870.47)"/>
<ellipse cx="105.67" cy="866.35" rx="2.96" ry="4.57" fill="#fff" opacity="0.11" transform="rotate(-10.875965579227113 105.67 866.35)"/>
<ellipse cx="114.01" cy="883.85" rx="2.73" ry="5.95" fill="#fff" opacity="0.15" transform="rotate(-45.87782594962819 114.01 883.85)"/>
<ellipse cx="75.66" cy="884.46" rx="4.31" ry="4.54" fill="#fff" opacity="0.19" transform="rotate(57.4035159590928 75.66 884.46)"/>
<ellipse cx="54.34" cy="880.46" rx="3.96" ry="3.25" fill="#fff" opacity="0.22" transform="rotate(-51.948785053077394 54.34 880.46)"/>
<ellipse cx="39.2" cy="881.07" rx="3.17" ry="3.48" fill="#fff" opacity="0.09" transform="rotate(37.8473841182516 39.2 881.07)"/>
</g>
<g filter="url(#bl4)">
<ellipse cx="40" cy="820" rx="20" ry="15" fill="#fff" opacity="0.08" transform="rotate(0 40 820)"/>
<ellipse cx="100" cy="835" rx="15" ry="20" fill="#fff" opacity="0.08" transform="rotate(0 100 835)"/>
<ellipse cx="60" cy="880" rx="30" ry="10" fill="#fff" opacity="0.1" transform="rotate(0 60 880)"/>
<ellipse cx="105" cy="870" rx="12" ry="10" fill="#fff" opacity="0.12" transform="rotate(0 105 870)"/>
<ellipse cx="30" cy="860" rx="10" ry="15" fill="#fff" opacity="0.07" transform="rotate(0 30 860)"/>
<ellipse cx="75" cy="805" rx="25" ry="8" fill="#fff" opacity="0.05" transform="rotate(0 75 805)"/>
</g>
<g filter="url(#bl2)">
<ellipse cx="67.8" cy="870.8" rx="8" ry="8.5" fill="#fff" opacity="0.35" transform="rotate(0 67.8 870.8)"/>
<ellipse cx="88.8" cy="878.7" rx="6.5" ry="5.5" fill="#fff" opacity="0.3" transform="rotate(0 88.8 878.7)"/>
<ellipse cx="67.8" cy="870.8" rx="5.8" ry="6.5" fill="#fff" opacity="1" transform="rotate(0 67.8 870.8)"/>
<ellipse cx="88.8" cy="878.7" rx="4.6" ry="3.6" fill="#fff" opacity="0.95" transform="rotate(0 88.8 878.7)"/>
<ellipse cx="68.7" cy="842.8" rx="4.2" ry="4.6" fill="#fff" opacity="0.95" transform="rotate(0 68.7 842.8)"/>
<ellipse cx="30" cy="890" rx="6" ry="3" fill="#fff" opacity="0.3" transform="rotate(0 30 890)"/>
<ellipse cx="105" cy="880" rx="4" ry="5" fill="#fff" opacity="0.3" transform="rotate(0 105 880)"/>
<ellipse cx="110" cy="855" rx="3" ry="4" fill="#fff" opacity="0.15" transform="rotate(0 110 855)"/>
</g>
</g>
<g clip-path="url(#cpk1)">
<g filter="url(#bl3)">
<ellipse cx="229.79" cy="798.51" rx="3.95" ry="5.83" fill="#fff" opacity="0.21" transform="rotate(-11.177461414884966 229.79 798.51)"/>
<ellipse cx="146.23" cy="893.47" rx="3.05" ry="4.04" fill="#fff" opacity="0.08" transform="rotate(15.695504845199864 146.23 893.47)"/>
<ellipse cx="209.37" cy="835.02" rx="5.2" ry="5.69" fill="#fff" opacity="0.16" transform="rotate(53.72113653218901 209.37 835.02)"/>
<ellipse cx="198.46" cy="882.03" rx="2.93" ry="4.56" fill="#fff" opacity="0.11" transform="rotate(3.6124945016731473 198.46 882.03)"/>
<ellipse cx="139.46" cy="811.64" rx="4.94" ry="4.97" fill="#fff" opacity="0.08" transform="rotate(-8.800540925105217 139.46 811.64)"/>
<ellipse cx="130.44" cy="859.14" rx="3.87" ry="3.51" fill="#fff" opacity="0.11" transform="rotate(-45.20378461888768 130.44 859.14)"/>
<ellipse cx="143.11" cy="853.54" rx="4.16" ry="4.29" fill="#fff" opacity="0.18" transform="rotate(5.7462860665542905 143.11 853.54)"/>
<ellipse cx="209.61" cy="808.12" rx="5.06" ry="5.46" fill="#fff" opacity="0.21" transform="rotate(-5.637462797095402 209.61 808.12)"/>
<ellipse cx="212.87" cy="817.14" rx="5.05" ry="5.26" fill="#fff" opacity="0.15" transform="rotate(47.956279269259696 212.87 817.14)"/>
<ellipse cx="198.46" cy="800.68" rx="2.94" ry="5.17" fill="#fff" opacity="0.13" transform="rotate(48.281015757354 198.46 800.68)"/>
<ellipse cx="137.15" cy="797.38" rx="2.97" ry="5.22" fill="#fff" opacity="0.15" transform="rotate(13.16206935848524 137.15 797.38)"/>
<ellipse cx="198.46" cy="808.23" rx="2.64" ry="4.64" fill="#fff" opacity="0.1" transform="rotate(35.214878753344095 198.46 808.23)"/>
<ellipse cx="200.23" cy="893.4" rx="3.12" ry="3.76" fill="#fff" opacity="0.09" transform="rotate(39.99916983008201 200.23 893.4)"/>
<ellipse cx="209.15" cy="819.42" rx="5.16" ry="5.54" fill="#fff" opacity="0.16" transform="rotate(-36.94552728941416 209.15 819.42)"/>
<ellipse cx="162.31" cy="881.4" rx="3.01" ry="4.22" fill="#fff" opacity="0.11" transform="rotate(-49.64301602518562 162.31 881.4)"/>
<ellipse cx="225.38" cy="819.36" rx="4.55" ry="4.67" fill="#fff" opacity="0.16" transform="rotate(17.83088922982445 225.38 819.36)"/>
<ellipse cx="215.82" cy="863.08" rx="4.47" ry="4.52" fill="#fff" opacity="0.1" transform="rotate(50.71511121876513 215.82 863.08)"/>
<ellipse cx="176.1" cy="890.64" rx="4.68" ry="5.7" fill="#fff" opacity="0.09" transform="rotate(13.083806560575582 176.1 890.64)"/>
<ellipse cx="209.17" cy="819.6" rx="4.95" ry="3.94" fill="#fff" opacity="0.1" transform="rotate(-30.70993762402547 209.17 819.6)"/>
<ellipse cx="164.97" cy="803.31" rx="4.99" ry="3.17" fill="#fff" opacity="0.19" transform="rotate(3.313648522471297 164.97 803.31)"/>
<ellipse cx="209.34" cy="819.77" rx="4.55" ry="4.56" fill="#fff" opacity="0.21" transform="rotate(59.89744343929803 209.34 819.77)"/>
<ellipse cx="190.15" cy="851.46" rx="3.23" ry="5.36" fill="#fff" opacity="0.08" transform="rotate(35.56148905529824 190.15 851.46)"/>
<ellipse cx="142.53" cy="865.68" rx="2.96" ry="5.85" fill="#fff" opacity="0.09" transform="rotate(-20.450447010055278 142.53 865.68)"/>
<ellipse cx="171.99" cy="833.99" rx="4.8" ry="3.25" fill="#fff" opacity="0.21" transform="rotate(-3.404690770977858 171.99 833.99)"/>
<ellipse cx="179.61" cy="882.67" rx="4.91" ry="4.95" fill="#fff" opacity="0.22" transform="rotate(-46.77068136626366 179.61 882.67)"/>
<ellipse cx="160.72" cy="823.92" rx="4.11" ry="5.31" fill="#fff" opacity="0.21" transform="rotate(4.74953621196039 160.72 823.92)"/>
<ellipse cx="210.16" cy="858.31" rx="4.41" ry="4.5" fill="#fff" opacity="0.12" transform="rotate(31.01551449943112 210.16 858.31)"/>
<ellipse cx="210.86" cy="865.02" rx="5.31" ry="4.46" fill="#fff" opacity="0.13" transform="rotate(-7.054117465564417 210.86 865.02)"/>
<ellipse cx="169.46" cy="873.9" rx="3.91" ry="4.6" fill="#fff" opacity="0.1" transform="rotate(-3.7457861653877416 169.46 873.9)"/>
<ellipse cx="220.67" cy="835.43" rx="3.2" ry="3.9" fill="#fff" opacity="0.1" transform="rotate(34.28494194888796 220.67 835.43)"/>
<ellipse cx="146.02" cy="884.21" rx="5.29" ry="3.03" fill="#fff" opacity="0.11" transform="rotate(-49.301588126840045 146.02 884.21)"/>
<ellipse cx="169.86" cy="847.39" rx="5.39" ry="5.83" fill="#fff" opacity="0.22" transform="rotate(8.14709605118776 169.86 847.39)"/>
<ellipse cx="217.89" cy="891.52" rx="2.82" ry="4.7" fill="#fff" opacity="0.14" transform="rotate(-54.14133923622075 217.89 891.52)"/>
<ellipse cx="231.43" cy="832.88" rx="5.35" ry="5.13" fill="#fff" opacity="0.15" transform="rotate(-14.075168727357543 231.43 832.88)"/>
<ellipse cx="142.51" cy="872.05" rx="3.47" ry="4.3" fill="#fff" opacity="0.09" transform="rotate(42.33566429196776 142.51 872.05)"/>
<ellipse cx="152.38" cy="856.38" rx="4.12" ry="4.89" fill="#fff" opacity="0.16" transform="rotate(-58.78679478627798 152.38 856.38)"/>
</g>
<g filter="url(#bl4)">
<ellipse cx="150" cy="830" rx="12" ry="14" fill="#fff" opacity="0.12" transform="rotate(0 150 830)"/>
<ellipse cx="140" cy="860" rx="8" ry="15" fill="#fff" opacity="0.15" transform="rotate(0 140 860)"/>
<ellipse cx="200" cy="820" rx="15" ry="15" fill="#fff" opacity="0.06" transform="rotate(0 200 820)"/>
<ellipse cx="215" cy="860" rx="10" ry="15" fill="#fff" opacity="0.1" transform="rotate(0 215 860)"/>
<ellipse cx="160" cy="880" rx="20" ry="8" fill="#fff" opacity="0.12" transform="rotate(0 160 880)"/>
</g>
<g filter="url(#bl2)">
<ellipse cx="169" cy="871.7" rx="7" ry="8" fill="#fff" opacity="0.35" transform="rotate(0 169 871.7)"/>
<ellipse cx="191" cy="869" rx="7" ry="8" fill="#fff" opacity="0.35" transform="rotate(0 191 869)"/>
<ellipse cx="211" cy="880.5" rx="9" ry="7" fill="#fff" opacity="0.35" transform="rotate(-10 211 880.5)"/>
<ellipse cx="169" cy="871.7" rx="4.8" ry="6" fill="#fff" opacity="1" transform="rotate(0 169 871.7)"/>
<ellipse cx="191" cy="869" rx="5.2" ry="6.2" fill="#fff" opacity="1" transform="rotate(0 191 869)"/>
<ellipse cx="211" cy="880.5" rx="7" ry="5" fill="#fff" opacity="1" transform="rotate(-10 211 880.5)"/>
<ellipse cx="135.5" cy="851" rx="3" ry="6" fill="#fff" opacity="0.25" transform="rotate(20 135.5 851)"/>
<ellipse cx="140" cy="828" rx="3.5" ry="3.5" fill="#fff" opacity="0.2" transform="rotate(0 140 828)"/>
<ellipse cx="146" cy="872" rx="3" ry="3" fill="#fff" opacity="0.2" transform="rotate(0 146 872)"/>
<ellipse cx="205" cy="818" rx="3" ry="4" fill="#fff" opacity="0.12" transform="rotate(0 205 818)"/>
<ellipse cx="185" cy="845" rx="3" ry="3" fill="#fff" opacity="0.12" transform="rotate(0 185 845)"/>
</g>
</g>
<g clip-path="url(#cpk2)">
<g filter="url(#bl3)">
<ellipse cx="304.33" cy="882.9" rx="4.63" ry="5.81" fill="#fff" opacity="0.18" transform="rotate(2.4671793228736973 304.33 882.9)"/>
<ellipse cx="315.53" cy="879.68" rx="3.01" ry="5.99" fill="#fff" opacity="0.12" transform="rotate(29.61624485167708 315.53 879.68)"/>
<ellipse cx="293.26" cy="858.35" rx="4.48" ry="5.95" fill="#fff" opacity="0.12" transform="rotate(-53.38974654767988 293.26 858.35)"/>
<ellipse cx="251.14" cy="861.41" rx="3.82" ry="3.74" fill="#fff" opacity="0.19" transform="rotate(33.24234380299188 251.14 861.41)"/>
<ellipse cx="287.19" cy="876.32" rx="3.53" ry="5.87" fill="#fff" opacity="0.1" transform="rotate(-32.62647638312459 287.19 876.32)"/>
<ellipse cx="245.25" cy="860.9" rx="2.66" ry="4.43" fill="#fff" opacity="0.13" transform="rotate(-12.431633280279812 245.25 860.9)"/>
<ellipse cx="335.1" cy="813.11" rx="4.42" ry="4.97" fill="#fff" opacity="0.15" transform="rotate(-3.082811932243949 335.1 813.11)"/>
<ellipse cx="272.51" cy="867.76" rx="3.67" ry="3.23" fill="#fff" opacity="0.17" transform="rotate(-44.8525742387052 272.51 867.76)"/>
<ellipse cx="265.12" cy="839.51" rx="3.43" ry="3.57" fill="#fff" opacity="0.17" transform="rotate(48.954872368767326 265.12 839.51)"/>
<ellipse cx="291.15" cy="816.12" rx="4.18" ry="3.4" fill="#fff" opacity="0.21" transform="rotate(-38.32575266372695 291.15 816.12)"/>
<ellipse cx="274.51" cy="834.5" rx="5.12" ry="3.74" fill="#fff" opacity="0.18" transform="rotate(7.658958507739925 274.51 834.5)"/>
<ellipse cx="312.06" cy="818.99" rx="5.37" ry="5.77" fill="#fff" opacity="0.16" transform="rotate(20.562608540732853 312.06 818.99)"/>
<ellipse cx="257.98" cy="875.13" rx="3.54" ry="3.19" fill="#fff" opacity="0.14" transform="rotate(3.8686666298287946 257.98 875.13)"/>
<ellipse cx="327.81" cy="869.09" rx="4.1" ry="4.44" fill="#fff" opacity="0.17" transform="rotate(19.365579200561143 327.81 869.09)"/>
<ellipse cx="308.61" cy="815.01" rx="2.66" ry="3.79" fill="#fff" opacity="0.08" transform="rotate(6.704760572260938 308.61 815.01)"/>
<ellipse cx="250.12" cy="831.37" rx="2.65" ry="5.51" fill="#fff" opacity="0.15" transform="rotate(57.95154335937394 250.12 831.37)"/>
<ellipse cx="297.75" cy="875.68" rx="4.5" ry="4.43" fill="#fff" opacity="0.13" transform="rotate(2.4921692579042727 297.75 875.68)"/>
<ellipse cx="252.58" cy="871.59" rx="2.51" ry="5.33" fill="#fff" opacity="0.14" transform="rotate(58.27902232303421 252.58 871.59)"/>
<ellipse cx="334.77" cy="814.89" rx="4.9" ry="4.22" fill="#fff" opacity="0.1" transform="rotate(-25.18607569187965 334.77 814.89)"/>
<ellipse cx="297.02" cy="823.97" rx="4.35" ry="3.7" fill="#fff" opacity="0.09" transform="rotate(-11.2051581050587 297.02 823.97)"/>
<ellipse cx="308.99" cy="866.94" rx="3.13" ry="4.91" fill="#fff" opacity="0.19" transform="rotate(-5.622430122801049 308.99 866.94)"/>
<ellipse cx="317.68" cy="838.63" rx="4.24" ry="4.8" fill="#fff" opacity="0.16" transform="rotate(-2.895678719861891 317.68 838.63)"/>
<ellipse cx="279.47" cy="862.92" rx="2.9" ry="4.9" fill="#fff" opacity="0.13" transform="rotate(-21.167149474282944 279.47 862.92)"/>
<ellipse cx="300.99" cy="880.95" rx="3.71" ry="4.92" fill="#fff" opacity="0.19" transform="rotate(42.075111695674636 300.99 880.95)"/>
<ellipse cx="341.84" cy="799.28" rx="3.59" ry="4.09" fill="#fff" opacity="0.16" transform="rotate(-22.7087094815602 341.84 799.28)"/>
<ellipse cx="318.62" cy="859.33" rx="3.9" ry="5.48" fill="#fff" opacity="0.12" transform="rotate(-13.640868703184886 318.62 859.33)"/>
<ellipse cx="278.04" cy="854.8" rx="3.02" ry="3.04" fill="#fff" opacity="0.18" transform="rotate(-44.33134706368399 278.04 854.8)"/>
<ellipse cx="323.97" cy="876.77" rx="2.91" ry="3.76" fill="#fff" opacity="0.15" transform="rotate(-41.50120193208703 323.97 876.77)"/>
<ellipse cx="337.21" cy="833.62" rx="4.03" ry="5.77" fill="#fff" opacity="0.17" transform="rotate(-12.90959447931862 337.21 833.62)"/>
<ellipse cx="293.81" cy="857.09" rx="3.94" ry="5.05" fill="#fff" opacity="0.21" transform="rotate(-21.08912325399922 293.81 857.09)"/>
<ellipse cx="249.59" cy="829.26" rx="5.41" ry="4.48" fill="#fff" opacity="0.13" transform="rotate(-38.940543424691285 249.59 829.26)"/>
<ellipse cx="282.92" cy="829.21" rx="3.58" ry="5.66" fill="#fff" opacity="0.2" transform="rotate(-55.3674413981163 282.92 829.21)"/>
</g>
<g filter="url(#bl4)">
<ellipse cx="270" cy="815" rx="25" ry="10" fill="#fff" opacity="0.08" transform="rotate(0 270 815)"/>
<ellipse cx="320" cy="830" rx="15" ry="20" fill="#fff" opacity="0.1" transform="rotate(0 320 830)"/>
<ellipse cx="330" cy="870" rx="12" ry="15" fill="#fff" opacity="0.12" transform="rotate(0 330 870)"/>
<ellipse cx="260" cy="860" rx="15" ry="10" fill="#fff" opacity="0.1" transform="rotate(0 260 860)"/>
<ellipse cx="300" cy="880" rx="25" ry="10" fill="#fff" opacity="0.1" transform="rotate(0 300 880)"/>
</g>
<g filter="url(#bl2)">
<ellipse cx="282.6" cy="874.3" rx="14" ry="10" fill="#fff" opacity="0.35" transform="rotate(20 282.6 874.3)"/>
<ellipse cx="313.2" cy="891" rx="10" ry="7" fill="#fff" opacity="0.35" transform="rotate(0 313.2 891)"/>
<ellipse cx="282.6" cy="874.3" rx="11" ry="7.5" fill="#fff" opacity="1" transform="rotate(20 282.6 874.3)"/>
<ellipse cx="313.2" cy="891" rx="8" ry="5" fill="#fff" opacity="1" transform="rotate(0 313.2 891)"/>
<ellipse cx="292.2" cy="842.8" rx="3.6" ry="3.6" fill="#fff" opacity="0.95" transform="rotate(0 292.2 842.8)"/>
<ellipse cx="256" cy="876" rx="4" ry="4" fill="#fff" opacity="0.3" transform="rotate(0 256 876)"/>
<ellipse cx="250" cy="855" rx="3" ry="3" fill="#fff" opacity="0.2" transform="rotate(0 250 855)"/>
<ellipse cx="334" cy="850" rx="3" ry="6" fill="#fff" opacity="0.2" transform="rotate(0 334 850)"/>
<ellipse cx="305" cy="815" rx="4" ry="3" fill="#fff" opacity="0.15" transform="rotate(0 305 815)"/>
<ellipse cx="340" cy="880" rx="3" ry="4" fill="#fff" opacity="0.2" transform="rotate(0 340 880)"/>
</g>
</g>
<text x="21.9" y="802.9" font-size="9.3" fill="#e6e6e6" textLength="24" lengthAdjust="spacingAndGlyphs" stroke="#e6e6e6" stroke-width="0.22">433 s</text>
<text x="116.5" y="803.9" font-size="9.3" fill="#e020e0" text-anchor="end" textLength="38.2" lengthAdjust="spacingAndGlyphs" stroke="#e020e0" stroke-width="0.22">CELLECT</text>
<text x="116.5" y="812.7" font-size="9.3" fill="#e0a030" text-anchor="end" textLength="25.8" lengthAdjust="spacingAndGlyphs" stroke="#e0a030" stroke-width="0.22">Imaris</text>
<text x="116.5" y="821.8" font-size="9.3" fill="#2aa8dc" text-anchor="end" textLength="71.5" lengthAdjust="spacingAndGlyphs" stroke="#2aa8dc" stroke-width="0.22">TrackMate-Weka</text>
<circle cx="66.2" cy="842.8" r="7.2" fill="none" stroke="#e0a030" stroke-width="0.9"/>
<circle cx="71.2" cy="843" r="7" fill="none" stroke="#2aa8dc" stroke-width="0.9"/>
<circle cx="69" cy="843.6" r="7.3" fill="none" stroke="#e020e0" stroke-width="0.9"/>
<text x="40.7" y="847.7" font-size="9.3" fill="#e0a030" textLength="14.5" lengthAdjust="spacingAndGlyphs" stroke="#e0a030" stroke-width="0.22">155</text>
<text x="86.7" y="847.7" font-size="9.3" fill="#2aa8dc" textLength="15.3" lengthAdjust="spacingAndGlyphs" stroke="#2aa8dc" stroke-width="0.22">105</text>
<text x="59" y="860" font-size="9.3" fill="#e020e0" textLength="17.2" lengthAdjust="spacingAndGlyphs" stroke="#e020e0" stroke-width="0.22">406</text>
<rect x="20.9" y="889.2" width="17.1" height="2.7" fill="#fff" stroke="none" stroke-width="1"/>
<text x="132.6" y="802.9" font-size="9.3" fill="#e6e6e6" textLength="31.5" lengthAdjust="spacingAndGlyphs" stroke="#e6e6e6" stroke-width="0.22">2,995 s</text>
<circle cx="191.8" cy="840.7" r="6.6" fill="none" stroke="#e020e0" stroke-width="0.9"/>
<circle cx="185.7" cy="848.4" r="6.6" fill="none" stroke="#e0a030" stroke-width="0.9"/>
<text x="202.7" y="843.7" font-size="9.3" fill="#e020e0" textLength="17.5" lengthAdjust="spacingAndGlyphs" stroke="#e020e0" stroke-width="0.22">406</text>
<text x="161.7" y="853" font-size="9.3" fill="#e0a030" textLength="14" lengthAdjust="spacingAndGlyphs" stroke="#e0a030" stroke-width="0.22">155</text>
<text x="244.4" y="802.9" font-size="9.3" fill="#e6e6e6" textLength="32.9" lengthAdjust="spacingAndGlyphs" stroke="#e6e6e6" stroke-width="0.22">6,066 s</text>
<circle cx="292.2" cy="843.3" r="6.9" fill="none" stroke="#e020e0" stroke-width="0.9"/>
<text x="281.7" y="860" font-size="9.3" fill="#e020e0" textLength="17.5" lengthAdjust="spacingAndGlyphs" stroke="#e020e0" stroke-width="0.22">406</text>
<text x="384.6" y="779" font-size="13.5" fill="#000" font-weight="bold">l</text>
<line x1="394.5" y1="774.5" x2="403" y2="774.5" stroke="#f03ce8" stroke-width="1.2"/>
<text x="407.6" y="777.9" font-size="9.4" fill="#222" textLength="64.7" lengthAdjust="spacingAndGlyphs" stroke="#222" stroke-width="0.22">CELLECT (406)</text>
<line x1="490.4" y1="774.5" x2="498.9" y2="774.5" stroke="#f5b850" stroke-width="1.2"/>
<text x="503" y="777.9" font-size="9.4" fill="#222" textLength="49.4" lengthAdjust="spacingAndGlyphs" stroke="#222" stroke-width="0.22">Imaris (155)</text>
<line x1="569.6" y1="774.5" x2="578.1" y2="774.5" stroke="#38c8ee" stroke-width="1.2"/>
<text x="583.2" y="777.9" font-size="9.4" fill="#222" textLength="95.9" lengthAdjust="spacingAndGlyphs" stroke="#222" stroke-width="0.22">TrackMate-Weka (105)</text>
<line x1="407.6" y1="897" x2="681.2" y2="897" stroke="#555" stroke-width="0.8"/>
<line x1="409.2" y1="897" x2="409.2" y2="901.5" stroke="#555" stroke-width="0.7"/>
<line x1="429.83" y1="897" x2="429.83" y2="900" stroke="#555" stroke-width="0.7"/>
<line x1="450.47" y1="897" x2="450.47" y2="900" stroke="#555" stroke-width="0.7"/>
<line x1="471.1" y1="897" x2="471.1" y2="900" stroke="#555" stroke-width="0.7"/>
<line x1="491.73" y1="897" x2="491.73" y2="900" stroke="#555" stroke-width="0.7"/>
<line x1="512.37" y1="897" x2="512.37" y2="900" stroke="#555" stroke-width="0.7"/>
<line x1="533" y1="897" x2="533" y2="901.5" stroke="#555" stroke-width="0.7"/>
<line x1="553.63" y1="897" x2="553.63" y2="900" stroke="#555" stroke-width="0.7"/>
<line x1="574.27" y1="897" x2="574.27" y2="900" stroke="#555" stroke-width="0.7"/>
<line x1="594.9" y1="897" x2="594.9" y2="900" stroke="#555" stroke-width="0.7"/>
<line x1="615.53" y1="897" x2="615.53" y2="900" stroke="#555" stroke-width="0.7"/>
<line x1="636.17" y1="897" x2="636.17" y2="900" stroke="#555" stroke-width="0.7"/>
<line x1="656.8" y1="897" x2="656.8" y2="901.5" stroke="#555" stroke-width="0.7"/>
<line x1="677.43" y1="897" x2="677.43" y2="900" stroke="#555" stroke-width="0.7"/>
<text x="409.2" y="910.6" font-size="8.8" fill="#333" text-anchor="middle">0</text>
<text x="533" y="910.6" font-size="8.8" fill="#333" text-anchor="middle" textLength="21" lengthAdjust="spacingAndGlyphs">3,000</text>
<text x="655.8" y="910.6" font-size="8.8" fill="#333" text-anchor="middle" textLength="21" lengthAdjust="spacingAndGlyphs">6,000</text>
<text x="544.7" y="924.3" font-size="9.6" fill="#222" text-anchor="middle" textLength="34.5" lengthAdjust="spacingAndGlyphs" stroke="#222" stroke-width="0.22">Time (s)</text>
<text x="402.8" y="839.5" font-size="9.3" fill="#222" text-anchor="middle" transform="rotate(-90 402.8 839.5)" stroke="#222" stroke-width="0.22">Normalized Δ<tspan font-style="italic">F</tspan>/<tspan font-style="italic">F</tspan><tspan font-size="6.5" dy="1.5">0</tspan><tspan dy="-1.5"> (AU)</tspan></text>
<line x1="427.07" y1="797.5" x2="427.07" y2="897" stroke="#222" stroke-width="0.9" stroke-dasharray="2.4,1.8"/>
<text x="427.57" y="792.8" font-size="9.3" fill="#222" text-anchor="middle" textLength="23" lengthAdjust="spacingAndGlyphs" stroke="#222" stroke-width="0.22">433 s</text>
<line x1="532.79" y1="797.5" x2="532.79" y2="897" stroke="#222" stroke-width="0.9" stroke-dasharray="2.4,1.8"/>
<text x="533.29" y="792.8" font-size="9.3" fill="#222" text-anchor="middle" textLength="31.5" lengthAdjust="spacingAndGlyphs" stroke="#222" stroke-width="0.22">2,995 s</text>
<line x1="659.52" y1="797.5" x2="659.52" y2="897" stroke="#222" stroke-width="0.9" stroke-dasharray="2.4,1.8"/>
<text x="660.02" y="792.8" font-size="9.3" fill="#222" text-anchor="middle" textLength="33" lengthAdjust="spacingAndGlyphs" stroke="#222" stroke-width="0.22">6,066 s</text>
<path d="M409.2 829.6L409.5 832.8L409.8 827L410.1 834.1L410.3 838.8L410.4 838.7L410.7 846L411 852.2L411.3 851L411.5 850.3L411.6 852.9L411.9 854L412.2 854.9L412.5 857.9L412.8 858.6L413.1 860.6L413.4 861L413.7 852.4L413.9 843.5L414 844.8L414.1 845.9L414.3 848.1L414.6 853.3L414.9 856.2L415.2 859.1L415.4 857.4L415.5 859L415.8 858.4L416 856.6L416.1 856.9L416.4 858.4L416.7 860.2L417 859.6L417.3 859.8L417.6 860.7L417.9 857L418.1 856L418.2 853.2L418.5 857L418.8 858.6L419.1 858.5L419.4 860.4L419.7 855.2L419.8 854.9L420 854.7L420.3 857.6L420.6 858.7L420.9 859.7L421.2 861.4L421.5 861.2L421.8 861.2L422.1 861.3L422.4 857.2L422.6 855.5L422.7 858.7L423 856L423.2 856.7L423.3 856.2L423.6 856.8L423.9 858.5L424.2 860.6L424.5 857.4L424.7 852.5L424.8 853.3L425 851.4L425.1 850.3L425.4 854.8L425.7 855.7L426 859.3L426.3 859.6L426.6 859.8L426.9 859.8L427.2 859.1L427.3 856.5L427.5 858.4L427.8 856.4L428.1 858.2L428.4 860L428.7 859.3L429 859.6L429.3 856.8L429.3 857.1L429.6 856.4L429.9 859.5L430.2 860.1L430.5 858.7L430.8 861.2L431.1 859.3L431.4 859.5L431.7 861.1L432 860.1L432.3 859.1L432.3 858.4L432.6 860.3L432.9 860.1L433.2 859.6L433.5 860.2L433.8 860.5L434.1 859.6L434.4 858.3L434.5 858.5L434.7 859.3L435 857.5L435.3 859.3L435.6 858.7L435.9 857.6L435.9 857.8L436.2 859L436.5 859.3L436.8 857.1L437 855.4L437.1 856.1L437.4 857.5L437.7 858.8L438 860L438.3 860.7L438.6 860.3L438.9 860.6L439.2 860.8L439.5 861.2L439.8 856.6L440 852.9L440.1 853.6L440.4 851.1L440.6 850L440.7 848.6L440.9 850.4L441 851L441.3 851.6L441.5 850.6L441.6 852.8L441.9 854.7L442.2 857L442.5 855.5L442.6 857.8L442.8 858.8L443.1 859.3L443.4 860.2L443.7 860.5L444 860.1L444.3 857.6L444.3 858.8L444.6 859.6L444.9 859.3L445.2 860.3L445.5 860.9L445.8 858.5L446 855.6L446.1 856.5L446.4 857L446.7 858.5L447 858.8L447.3 860.5L447.6 860.9L447.9 859.3L448.2 858.5L448.3 858L448.5 859.2L448.8 858.8L449.1 859L449.4 860.3L449.7 861.4L450 860.3L450.3 860.3L450.6 860L450.9 846.4L451 836.9L451.2 826.2L451.5 835.2L451.8 843.9L452.1 853.1L452.4 860.7L452.7 860.4L453 859.4L453.3 860.1L453.6 860L453.9 861.2L454.2 860.9L454.5 861.2L454.8 855.1L455 855.1L455.1 852L455.4 832.9L455.5 826.1L455.6 826.8L455.7 829.1L455.8 831.9L456 839.6L456.3 847.6L456.6 857.4L456.9 861L457.2 859L457.5 861.3L457.8 861.2L458.1 860.9L458.4 860.3L458.7 860.3L459 860.9L459.3 860.7L459.6 858.4L459.9 860.5L460.2 861.3L460.5 861.1L460.8 860.7L461.1 850L461.3 840.2L461.4 841.6L461.7 846.4L462 850.8L462.2 851.8L462.3 852.8L462.6 857.7L462.9 858.4L463.2 858.2L463.5 860.5L463.8 860.6L464.1 861.1L464.4 860.1L464.7 861L465 859.3L465.3 861.4L465.6 861.1L465.9 860.7L466.2 858.8L466.5 861.2L466.8 859.4L467.1 861.1L467.4 860.8L467.7 859.8L468 860.4L468.3 857.3L468.3 857.4L468.6 857.2L468.9 859L469.2 859.8L469.5 858.8L469.7 848.8L469.8 842.3L470 832.9L470.1 836.8L470.4 843.2L470.7 847.5L471 856.1L471.3 861.3L471.6 861.1L471.9 861L472.2 860.6L472.5 861.1L472.8 859.7L473.1 860L473.4 860.7L473.7 861L474 859.5L474.3 849.6L474.6 829L474.9 837.5L475.2 846.3L475.5 852.9L475.8 860.7L476.1 859.9L476.4 859.2L476.7 860.5L477 860.5L477.3 860.8L477.6 859.7L477.9 860.1L478.2 857.4L478.4 855.5L478.5 855.7L478.8 856.3L479.1 857.6L479.4 859L479.7 860L480 861.2L480.3 860.7L480.6 860.8L480.9 858.9L481.2 860.1L481.5 859.8L481.7 850L481.8 843.6L482 830.7L482.1 832.9L482.4 841.3L482.7 849.2L483 855.6L483.3 860.8L483.6 858.6L483.9 859.1L484.2 860.4L484.5 859.5L484.8 857.6L484.9 856.3L485.1 857.8L485.4 859L485.7 858L486 859.7L486.3 861.2L486.6 860L486.9 861L487.2 859.8L487.5 860.8L487.8 860.9L488.1 859.6L488.4 860.7L488.7 861L489 861.1L489.3 860L489.6 860.3L489.9 861.1L490.2 858.5L490.5 853.8L490.5 852.9L490.8 853.9L490.8 853.5L491.1 854.3L491.4 858.2L491.7 860.1L492 860.5L492.3 856.7L492.4 856.1L492.6 856.7L492.9 856.9L493 856.5L493.2 856L493.2 856.4L493.5 858.4L493.8 858.2L494.1 860L494.4 860.4L494.7 860.3L495 860.4L495.3 861.2L495.6 856.7L495.9 829.3L496 820.7L496.2 827.4L496.5 837.9L496.8 846.7L497.1 857.6L497.4 861.3L497.7 861.1L498 861.2L498.3 860.4L498.6 860.7L498.9 861.1L499.2 860.2L499.5 860.3L499.8 858.9L499.9 857.6L500.1 856.5L500.4 859.3L500.7 859.9L501 860.5L501.3 861.2L501.6 859.6L501.8 859.5L501.9 858.3L502.2 859.1L502.5 860L502.8 859.3L503.1 860.8L503.4 859.1L503.7 856.2L503.8 854.9L504 854.2L504.1 846.4L504.3 822.8L504.5 798.8L504.6 804.2L504.9 819.9L505.2 836.3L505.5 849.6L505.8 860.8L506.1 861.1L506.4 860.6L506.7 860.2L507 861.3L507.3 860.7L507.6 859.2L507.8 858.5L507.9 857.4L508.2 858.6L508.5 859.9L508.8 859.3L509.1 858L509.2 856.2L509.3 854.9L509.4 856.8L509.7 858.5L510 858.2L510.3 855.3L510.3 856.2L510.6 854L510.6 853.9L510.9 851.9L510.9 852.8L511.2 853.3L511.4 851.7L511.5 854.2L511.8 857.6L512.1 857.1L512.4 860.3L512.7 861L513 860.7L513.3 860.8L513.6 860.6L513.9 857.6L514.2 841.9L514.3 838.2L514.5 841.7L514.8 846.5L515.1 848.9L515.1 849.5L515.4 852.2L515.7 857.6L516 859.6L516.3 860.5L516.6 861.1L516.9 858.1L517 856.4L517.2 856.5L517.5 859.2L517.8 859.8L518.1 859.8L518.4 861L518.7 860.5L519 858.6L519 859.3L519.3 858.6L519.6 856.9L519.7 855.5L519.9 858L520.2 858.6L520.5 859.4L520.8 860.6L521.1 860.9L521.4 860.7L521.7 859.4L522 860.8L522.3 860.8L522.6 860.9L522.9 858.1L523.2 855.8L523.2 854.7L523.5 856.7L523.8 858.5L524.1 858.9L524.4 857.9L524.7 860.3L525 860.5L525.3 861.4L525.6 860.1L525.9 857.4L526 856.3L526.1 854.8L526.2 856.2L526.5 857.2L526.8 859.2L527.1 858L527.3 856.4L527.4 858.5L527.7 859.5L528 858.8L528.3 860.9L528.6 861L528.9 859L529.1 856.1L529.2 855.9L529.5 858.1L529.8 858.6L530.1 860.3L530.4 849.7L530.7 828.6L531 835.4L531.3 845L531.6 851.1L531.8 855.8L531.9 857.2L532.2 858.5L532.5 859.3L532.8 860.4L533.1 860.8L533.4 860.5L533.7 861.3L534 859.5L534.3 855.4L534.4 853.2L534.5 851.9L534.6 851L534.9 855.1L535.2 856.9L535.5 859.2L535.8 860.6L536.1 860.6L536.4 861.3L536.7 860.5L537 857.9L537.3 856.6L537.3 857.5L537.6 858.7L537.9 858.2L538.2 860.2L538.5 860.2L538.8 859.6L539.1 859.9L539.4 861.1L539.7 861.1L540 859.7L540.2 857L540.3 857.3L540.6 858.2L540.9 859.1L541.2 852.9L541.5 839.9L541.8 844.3L542.1 848.4L542.4 855.1L542.7 858.6L543 858L543.3 854.5L543.3 855.1L543.6 855.5L543.9 858.4L544.2 859.3L544.5 860.4L544.8 860.5L545.1 861.4L545.4 858.7L545.7 860.8L546 860.8L546.3 860.1L546.6 857.9L546.6 856.8L546.9 857.7L547.2 858.6L547.5 860.4L547.8 861L548.1 861.3L548.4 860.3L548.7 860.8L549 859.5L549.3 860.4L549.6 860L549.9 859.7L550.2 860.8L550.5 854L550.8 843L551.1 846.3L551.4 852L551.7 856.6L552 859L552.3 860.6L552.6 857.2L552.8 855.6L552.9 856.2L553.2 856.9L553.5 859.6L553.8 860L554.1 858.6L554.4 860.6L554.7 861.1L555 861.1L555.3 860.8L555.6 860.1L555.9 861.2L556.2 859.6L556.5 860.7L556.8 859.2L557.1 858.7L557.4 860L557.7 860.4L558 860.6L558.3 859.3L558.6 857L558.9 840.2L559 833.9L559.2 839.2L559.5 845.8L559.8 851.3L560.1 857.8L560.4 855.6L560.4 856.4L560.7 856.9L561 856.1L561.1 856.8L561.3 857.6L561.6 858.5L561.9 859L562.2 860.3L562.5 861.1L562.8 859.5L563.1 853.3L563.1 852.8L563.1 853.8L563.4 848.3L563.5 845.9L563.7 848.6L564 851.6L564.3 856L564.6 859.5L564.9 860L565.2 860.3L565.5 859.9L565.8 859.6L565.8 860.1L566.1 859.2L566.4 860.3L566.7 860.6L567 855.2L567.3 844.2L567.6 848.6L567.9 853.7L568.2 857.1L568.5 859.1L568.8 860.9L569.1 858.8L569.4 860.9L569.7 860L570 861.4L570.3 860L570.6 860L570.9 859.9L571.2 859.2L571.5 856.5L571.7 850.9L571.8 849.1L571.8 849.3L571.9 849.4L572.1 850.8L572.4 852.9L572.7 856.1L573 859.4L573.3 860.2L573.6 861.2L573.9 860.5L574.2 860.9L574.5 860.8L574.8 860.6L575.1 846.7L575.3 836.7L575.4 838L575.5 839.2L575.7 841.6L576 848.2L576.3 856.4L576.6 860.5L576.9 859.8L577.2 860.8L577.5 860L577.8 861L578.1 861L578.4 860.9L578.7 860.4L579 861.2L579.3 860.8L579.6 857.3L579.9 857.6L580.1 854.3L580.2 855L580.5 856.8L580.8 857.6L581.1 858.7L581.4 859.1L581.7 859L582 855.6L582.3 857L582.6 858.2L582.9 858L583.2 861L583.5 861.2L583.8 861.4L584.1 859.3L584.4 858L584.4 858.3L584.7 858.9L585 859.6L585.3 859.6L585.6 858.7L585.9 857L585.9 855.5L586.2 858.6L586.5 858.5L586.8 860.1L587.1 860.6L587.4 860.3L587.7 859.7L588 860.9L588.3 859.9L588.6 856L588.6 856.3L588.8 855.6L588.9 856.4L589.2 854.6L589.4 853.1L589.5 853.1L589.8 856.9L590.1 858.9L590.4 859.1L590.7 856.9L590.7 856.5L591 854.4L591.2 853.9L591.3 854.1L591.6 857L591.9 858.6L592.2 859.3L592.5 860.8L592.8 860.8L593.1 860.8L593.4 860L593.7 861.4L594 860.9L594.3 861.2L594.6 861.1L594.9 860.3L595.2 860.7L595.5 861.3L595.8 861.2L596.1 860.9L596.4 860.8L596.7 859.8L597 860.3L597.3 858.2L597.6 860.1L597.9 857L598.2 837.7L598.3 831.5L598.5 836.7L598.8 843L599 847.6L599.1 849.7L599.4 856.5L599.7 860.2L600 859.1L600.1 857.9L600.3 853.2L600.6 841.4L600.9 846.4L601.2 850.3L601.2 849.7L601.5 855.5L601.8 851.9L602 846.7L602.1 846.7L602.4 850.8L602.7 850.6L603 852.2L603 853.3L603.3 856.2L603.6 857.8L603.9 860.2L604.2 861L604.5 861L604.8 860.6L605.1 861L605.4 860.5L605.7 860.2L606 860.7L606.3 859.9L606.6 861.1L606.9 859.2L607.2 860.2L607.5 859.2L607.6 858.3L607.8 858.4L608.1 859L608.4 860.2L608.7 861L609 859.6L609.3 861.2L609.6 860.1L609.9 860.5L610.2 860.8L610.5 860.3L610.8 858.6L611.1 860.6L611.4 860.4L611.7 856.7L612 851L612.1 851.1L612.3 853.5L612.6 855.1L612.9 857.7L613.2 860.8L613.5 860L613.8 860.6L614.1 859.8L614.4 859L614.7 861.3L615 859.1L615.3 860.4L615.6 859.1L615.9 848.1L616 843.4L616.2 846.9L616.5 849.7L616.8 855.7L617.1 857.6L617.3 856.6L617.4 856.9L617.7 855.6L617.7 855.1L618 856.7L618.3 858.6L618.6 860.5L618.9 859.4L619.1 856.5L619.2 856.9L619.5 853.7L619.6 852.7L619.8 855.4L620.1 857.1L620.4 858.7L620.7 860.3L621 860.6L621.3 856.5L621.6 849.2L621.9 852.1L622.2 854.7L622.5 857.2L622.8 855.2L623 851.3L623.1 851.5L623.4 853.7L623.7 857L624 858.9L624.3 861.1L624.6 860.2L624.8 857L624.9 857.9L625.2 859.3L625.5 859.6L625.8 852L626 847.4L626 845.4L626.1 847.6L626.4 851.9L626.7 853.6L627 857.9L627.3 859.3L627.6 858.8L627.9 853.6L628 850.2L628.2 852.2L628.5 854.9L628.8 857.7L629.1 859.7L629.4 859L629.7 853.6L629.8 851L630 853.8L630.3 855.1L630.6 857L630.9 860.1L631.2 858.4L631.5 860.7L631.8 858.2L632.1 860.9L632.4 861.2L632.7 860.4L633 860.8L633.3 861.1L633.6 859.8L633.9 859.7L634.2 860.9L634.5 860.7L634.8 861.1L635.1 860.5L635.4 860.4L635.7 851.2L635.9 846.2L636 845.4L636.3 851L636.6 854.8L636.9 857.1L637.2 861L637.5 860.8L637.8 860.4L638.1 858.2L638.3 857.7L638.4 858.4L638.7 857.4L639 858.4L639.3 860.1L639.6 859.7L639.8 858.8L639.9 859.4L640.2 860.1L640.5 859.9L640.8 860.6L641.1 860.8L641.4 859.3L641.7 858.3L641.7 855.5L642 858.2L642.3 855.3L642.4 857.4L642.6 856.6L642.9 855.8L642.9 855.2L643.2 855.3L643.5 845.5L643.6 842.6L643.8 845.3L644.1 849.8L644.4 854.3L644.7 858.3L645 857.8L645.2 847.9L645.3 847.9L645.4 843.5L645.6 845.6L645.9 851.1L646.2 855.3L646.5 859.9L646.8 860.7L647.1 860.4L647.4 861.3L647.7 860.5L648 858.7L648.1 858.8L648.3 858.8L648.6 851.3L648.8 843.8L648.9 843.6L649 845.1L649.2 849.1L649.5 853.3L649.8 857.1L650.1 861.1L650.4 858.4L650.7 860.7L651 860L651.3 860.1L651.6 860.4L651.9 860.3L652 860.1L652.2 859.8L652.5 860.1L652.8 860.7L653.1 854L653.3 847.8L653.4 849.1L653.7 850.5L654 854.8L654.3 857.9L654.6 859L654.7 857.3L654.9 858.4L655.2 859.8L655.5 851L655.7 843.5L655.8 845.3L656.1 847.9L656.2 847.3L656.4 852L656.7 856.8L657 860.1L657.3 860.9L657.6 861L657.9 856.8L658.2 843.4L658.3 838.3L658.5 840.2L658.8 846.3L659.1 852.3L659.4 859.2" fill="none" stroke="#f030e8" stroke-width="0.9" stroke-linejoin="bevel"/>
<path d="M409.2 859.4L409.5 861.2L409.8 860.1L410.1 863.5L410.4 863.8L410.7 861.7L411 865.9L411.3 865.5L411.6 866.1L411.9 868.7L412.2 868.6L412.5 869.7L412.8 870.5L413.1 867.5L413.4 853.5L413.5 850.4L413.5 850L413.7 851.3L414 854.5L414 852.1L414.3 858.8L414.6 871.9L414.9 874.4L415.2 877.1L415.5 878.4L415.8 876.9L416.1 878.4L416.4 877.4L416.7 875.8L417 867.7L417.1 863.5L417.3 868.1L417.6 867.3L417.9 871.9L418.2 877.1L418.5 871.6L418.7 865L418.8 867.7L419.1 861.6L419.3 856.2L419.4 855.2L419.4 854.5L419.7 862.9L420 870.6L420.3 873.6L420.6 878.9L420.9 876.5L421.2 878.5L421.5 877.3L421.8 877.6L422.1 877.8L422.4 878.2L422.7 874.1L423 875L423.3 878.1L423.6 873.5L423.8 870.1L423.9 871.5L424.2 868.6L424.5 872.5L424.8 876.7L425.1 873.7L425.4 865.2L425.4 864.1L425.7 866.8L426 870.4L426.3 871.3L426.6 875.3L426.9 877.7L427.2 876L427.5 878.8L427.8 874.7L428.1 877L428.4 876.7L428.7 878.6L429 877L429.3 876.9L429.6 867.1L429.7 856L429.9 850.3L430 842.3L430.2 847.9L430.2 848.3L430.5 851.9L430.7 855.9L430.8 862.6L431.1 871.9L431.4 873.8L431.7 877.4L432 876.1L432.3 866.8L432.4 866.3L432.6 866.9L432.9 869.7L433.2 874.7L433.5 871.3L433.7 866.9L433.8 865L434.1 872.3L434.4 871L434.7 870.2L434.7 869.2L435 872.2L435.3 865.7L435.4 862.6L435.6 867.2L435.9 867.5L436.2 872.1L436.5 875.5L436.8 878.4L437.1 878.8L437.4 878.8L437.7 873.4L437.9 870.4L438 872.5L438.3 872.4L438.6 869.2L438.8 863.6L438.9 865.8L439.2 864.5L439.5 866.1L439.7 864.3L439.8 866.3L440.1 869.2L440.4 874.1L440.7 867.9L440.8 864.4L441 856.3L441.1 858.9L441.3 862.9L441.6 868.3L441.9 871.7L442.2 877.3L442.5 877.9L442.8 878.3L443.1 875.1L443.4 878.7L443.7 878.5L444 876.3L444.3 876.5L444.6 875.8L444.9 874.3L445.2 874.6L445.2 874.2L445.5 875.1L445.8 875.7L446.1 876.8L446.4 876.8L446.7 874.5L447 876L447.3 878.6L447.6 877.3L447.9 877L448.2 878.1L448.5 878.3L448.8 877.1L449.1 877.1L449.4 876.7L449.7 877.4L450 878.4L450.3 875.1L450.6 877.9L450.9 878.1L451.2 877.8L451.5 878.3L451.8 860L451.9 851.3L452 849.6L452.1 849.9L452.4 857.2L452.7 866.8L453 871.7L453.3 876.8L453.6 877.8L453.9 878.5L454.2 876.9L454.5 878.5L454.8 873.1L455 872L455.1 869.6L455.4 873.7L455.7 876.3L456 876.4L456.3 877.4L456.6 878.6L456.9 877.7L457.2 878.5L457.5 875.6L457.8 876.3L458.1 872.6L458.2 869.5L458.4 872.6L458.7 872.6L459 875.7L459.3 877.7L459.6 875.9L459.9 871.7L460.1 871.7L460.2 872.1L460.5 872.5L460.8 874.4L461.1 877.2L461.4 876.3L461.7 872.5L462 862.6L462.3 862.2L462.6 870.9L462.9 875L463.2 875.4L463.5 879L463.8 874.5L464.1 878.8L464.4 875.5L464.7 878L465 877.5L465.3 878.8L465.6 877.5L465.9 878L466.2 876.8L466.5 875.5L466.8 873.4L467.1 865.4L467.1 866.9L467.4 868.2L467.7 868.9L468 873.7L468.3 878.1L468.6 876L468.9 877.1L469.2 876.1L469.5 876.8L469.8 864.3L470 852.1L470.1 854.7L470.4 861.4L470.7 867.5L471 874.6L471.3 878.7L471.6 878.7L471.9 875.3L472.2 876.7L472.5 877.1L472.8 865L472.9 860.4L473 861.3L473.1 862.6L473.4 867L473.7 869.5L474 873.5L474.3 867.2L474.6 847.6L474.9 849L475.2 864L475.5 870.9L475.8 877.7L476.1 875.1L476.4 876.6L476.7 872.7L476.8 873.3L477 871.3L477.3 874.2L477.6 875.5L477.9 877.3L478.2 874.4L478.5 866.1L478.8 859.6L478.9 858.2L479.1 861.1L479.4 868.7L479.7 870.2L480 877.4L480.3 878.3L480.6 876.4L480.9 876.4L481.2 876.8L481.5 875.3L481.8 853.8L481.8 851.6L482 838.6L482.1 845.5L482.4 854.6L482.7 862.6L483 871.3L483.3 878.3L483.6 870L483.8 866.5L483.9 868.4L484.2 869.6L484.5 871.8L484.8 876.2L485.1 876.7L485.4 877.9L485.7 874.3L486 863.5L486.3 858L486.4 853L486.6 850.9L486.6 851.8L486.9 859.6L487.2 858.1L487.2 857L487.4 859.1L487.5 857.9L487.8 857.3L487.8 858.7L488.1 864.2L488.4 869.4L488.7 873.9L489 876.6L489.3 873.1L489.6 866.6L489.6 863.8L489.9 868.6L490.2 872.5L490.5 872.6L490.8 876L491.1 876L491.4 877.4L491.7 874.2L492 878.8L492.3 878L492.6 875.2L492.9 867.2L493 868.1L493.2 871.2L493.5 871L493.8 872.6L494.1 874L494.4 873.7L494.5 868.5L494.7 869.6L495 865.5L495.2 866.2L495.3 867.8L495.6 864.9L495.9 843.1L496 835.3L496.2 843L496.5 851.9L496.6 851.7L496.8 860L497.1 870.8L497.4 876.2L497.7 877.2L498 872.5L498.3 872.2L498.6 865.8L498.6 864.5L498.9 867.2L499.2 871.6L499.5 868.8L499.6 865.9L499.8 870.9L500.1 867.9L500.4 875.6L500.7 877.3L501 873.8L501.3 876.8L501.6 877.8L501.9 878.8L502.2 876.8L502.5 876.8L502.8 873.1L503.1 866.5L503.1 863L503.4 869L503.7 872.9L504 874.3L504.3 841.9L504.5 811.8L504.6 811.3L504.9 830.4L505.2 848.8L505.5 866.1L505.8 875.4L506.1 878L506.4 876.6L506.7 876L507 876.1L507.3 873.8L507.6 864.3L507.6 862.9L507.8 859.1L507.9 859.4L508.2 866.7L508.5 869.5L508.8 873.4L509.1 877.8L509.4 872.7L509.6 866.7L509.7 864.5L510 865L510.3 871.7L510.6 875L510.9 876.8L511.2 877.4L511.5 878L511.8 878.5L512.1 874.1L512.4 877.5L512.7 873.8L513 874.4L513.3 872.5L513.3 867.7L513.6 865.6L513.7 862.4L513.9 863.8L514.2 844.4L514.3 838.5L514.4 838.6L514.5 842.3L514.8 853.5L515.1 866.2L515.4 871L515.7 877.7L516 878L516.3 875.1L516.6 875.1L516.9 872.3L516.9 872.8L517.2 875.4L517.5 876.2L517.8 876L518.1 877.8L518.4 876.7L518.7 873.5L518.8 870.8L519 874L519.3 872.3L519.6 867.4L519.6 866.2L519.9 859.8L520 857.9L520.2 859L520.5 852.3L520.5 855.3L520.8 863.5L521.1 871.3L521.4 875L521.7 878.8L522 876.8L522.3 872.6L522.3 873.1L522.6 872L522.9 870.2L523 869.3L523.2 871.8L523.5 874.6L523.8 874.6L524.1 868.4L524.2 865.1L524.4 869.3L524.7 872.3L525 873.4L525.3 876L525.6 876.5L525.9 876.8L526.2 875.3L526.5 866.6L526.5 865L526.8 859.2L527 858.4L527.1 854.4L527.3 847.2L527.4 848.3L527.7 854.6L527.8 856.4L528 856.2L528.3 869.4L528.6 876.1L528.9 875L529.2 879L529.5 878.3L529.8 875L530.1 877L530.4 867.3L530.7 846.2L531 853.6L531.3 861.9L531.6 870.9L531.9 872.2L532.2 864.9L532.5 869.8L532.8 872.8L533.1 874.4L533.4 877.8L533.7 875.8L534 876.7L534.3 876.5L534.6 877.3L534.9 876.1L535.2 873.1L535.3 871.3L535.5 873.3L535.8 869.8L536.1 866.1L536.2 862.4L536.4 866.9L536.7 868.7L537 869.3L537.3 877.2L537.6 878L537.9 873.5L538.2 876.3L538.5 877.3L538.8 876.9L539.1 878.6L539.4 875.7L539.7 872L540 868L540 866.4L540.3 869.4L540.6 869.8L540.9 874.8L541.2 874.8" fill="none" stroke="#f2b040" stroke-width="0.9" stroke-linejoin="bevel"/>
<path d="M409.2 886.4L409.5 887.1L409.8 887.8L410.1 885.7L410.4 888.1L410.7 880.3L411 873.3L411.3 872.6L411.5 867.9L411.6 872.1L411.9 865.6L412 866.2L412.2 874.2L412.5 880.5L412.8 878.7L413 874.5L413.1 877.6L413.4 883.2L413.7 887.8L414 882.2L414.1 881.7L414.3 883.1L414.6 881.6L414.6 882.4L414.9 883.3L415.2 889.7L415.5 891.6L415.8 893L416.1 894.7L416.4 892.7L416.7 893.9L417 894.7L417.3 892.7L417.6 893L417.9 893.2L418.2 890.4L418.5 893L418.8 894.4L419.1 893.8L419.4 893.1L419.7 893.7L420 893.1L420.3 894.3L420.6 887.3L420.8 880.8L420.9 876.4L421.1 871L421.2 877.4L421.5 873.5L421.6 877.6L421.8 877.8L422.1 886.5L422.4 888.9L422.7 893.5L423 893.9L423.3 892L423.6 886.1L423.6 885.8L423.9 889.1L424.2 889.7L424.5 888.1L424.8 893.9L425.1 893.8L425.4 894.3L425.7 894.1L426 893.6L426.3 893.6L426.6 893.9L426.9 894.2L427.2 894.2L427.5 888.1L427.8 885.4L427.8 885.1L428.1 887.7L428.4 890.7L428.7 892.2L429 890.2L429.3 895L429.6 893.4L429.9 891.7L430.2 894.9L430.5 894.2L430.8 891.5L431.1 885.4L431.1 886.3L431.4 888.9L431.7 890.1L432 891.1L432.3 883.9L432.5 879L432.6 876.4L432.7 876.8L432.9 877.9L433.2 884.3L433.5 889.7L433.8 891.9L434.1 891.3L434.4 894.8L434.7 894.9L435 892.4L435.3 894.1L435.6 892.8L435.9 894.9L436.2 890.6L436.5 891.8L436.7 886.8L436.8 889.3L437.1 891L437.4 891.1L437.7 893.3L438 889.9L438.1 884.9L438.3 881.6L438.5 877.6L438.6 874.6L438.9 882.3L439.2 888.4L439.5 891.8L439.8 891.8L440.1 894.6L440.4 887.2L440.6 882.5L440.7 883.6L441 885.8L441.3 889.2L441.6 888.4L441.8 886.1L441.9 887.7L442.2 888.1L442.5 890.3L442.8 882.5L442.9 879.4L443 877L443.1 877.5L443.2 876.2L443.4 878.2L443.7 883.5L444 887.8L444.3 890.2L444.6 892.3L444.9 893.4L445.2 887.6L445.3 885.1L445.5 886.2L445.8 887L446.1 883L446.1 884.3L446.4 886.5L446.7 890.5L447 888.1L447.2 884.5L447.3 886.5L447.6 887.5L447.9 891.5L448.2 893.3L448.5 891.1L448.8 893.9L449.1 895L449.4 891.8L449.7 893.9L450 892.8L450.3 892.9L450.6 890L450.9 884.9L451 882.4L451.2 884.3L451.5 884.2L451.8 887.1L452.1 889.2L452.3 884.9L452.4 882.9L452.7 878L452.7 877.7L452.8 878.5L453 881.7L453.3 886.6L453.6 888L453.9 893.6L454.2 888.8L454.5 879.7L454.8 884.5L455.1 877L455.2 877.1L455.4 880.3L455.7 886.7L456 890.5L456.3 892.1L456.6 891.2L456.9 878.4L457 876.6L457 877.9L457.2 880.4L457.5 884.6L457.8 888.8L458.1 893.2L458.4 892.9L458.7 893L459 894.1L459.3 893.5L459.6 891.4L459.9 894.9L460.2 891.2L460.5 884.6L460.6 881.2L460.8 884.5L461.1 887.4L461.4 890.9L461.7 893.1L462 891.8L462.3 888.3L462.6 885.9L462.6 886.2L462.9 889.4L463.2 890.2L463.5 893.2L463.8 891.1L464.1 893.4L464.4 893.7L464.7 889.4L464.9 880.7L465 883.5L465.3 887.6L465.6 887.9L465.8 886.1L465.9 888.3L466.2 889.7L466.5 892.4L466.8 893.1L467.1 894.4L467.4 893.4L467.7 894.6L468 894.4L468.3 895L468.6 891.3L468.9 893.1L469.2 891.8L469.5 893.5L469.8 877.5L470 862.2L470.1 862.4L470.1 863.5L470.3 865.7L470.4 868.7L470.7 875.9L471 887L471.3 891.2L471.6 895L471.9 891.2L472.1 886.6L472.2 886.5L472.5 887.5L472.8 889.4L473.1 889.6L473.4 883.1L473.4 881.6L473.7 879.6L473.7 878.3L473.9 876.9L474 880.4L474.3 875.6L474.6 861L474.9 871.1L475.2 879.7L475.5 887.5L475.8 892.9L476.1 885.4L476.2 883.4L476.4 879.7L476.4 879.2L476.7 882.9L477 883.8L477.3 890.2L477.6 885.3L477.8 881.4L477.9 880.9L478.2 885.2L478.5 888.3L478.8 892.4L479.1 888.2L479.3 886.5L479.4 885.5L479.7 888L480 888L480.3 889.2L480.6 894L480.9 891.6L481.2 894.2L481.5 893.4L481.8 877.7L482 866.4L482.1 869.2L482.4 876.3L482.7 883L483 889L483.3 890.7L483.6 894L483.9 894.8L484.2 894.4L484.5 894.9L484.8 893.9L485.1 891.8L485.3 887.1L485.4 890.1L485.7 881.3L485.9 878.5L486 880.7L486.3 885.5L486.6 889.2L486.9 892.6L487.2 894.6L487.5 894.9L487.8 894.8L488.1 894.7L488.4 891.4L488.7 891.8L489 893.4L489.3 894.4L489.6 894.3L489.9 891.7L490.2 894.8L490.5 892.5L490.8 891.1L491.1 887.3L491.1 887.9L491.4 888.2L491.7 889.4L492 885.3L492.3 894.4L492.6 894.7L492.9 892.7L493.2 894.8L493.5 885.5L493.7 880.8L493.8 880.3L493.8 879.6L494.1 883.5L494.4 886L494.7 890.3L495 893.9L495.3 894.7L495.6 890.2L495.9 863.7L496 853.5L496.2 860.1L496.5 871.3L496.8 880.2L497.1 888.8L497.4 894.7L497.7 894.1L498 894.2L498.3 895L498.6 889L498.9 883.5L498.9 882.9L499.2 887.4L499.5 888.3L499.8 890.9L500.1 891.8L500.4 890.8L500.7 892.3L501 894.9L501.3 895L501.6 893.6L501.9 889.5L502.2 893.2L502.5 892.7L502.8 893.3L503.1 889.2L503.2 887.5L503.4 889.2L503.7 889.3L504 892.2L504.3 860.1L504.5 835.6L504.6 840.2L504.9 855.5L505.2 862.5L505.4 867.5L505.5 875.5L505.8 884.1L506.1 879.7L506.1 877L506.4 881.1L506.7 888.1L507 890.8L507.3 893.8L507.6 887.4L507.9 882.2L507.9 882.5L508.2 877.6L508.2 879L508.5 884.5L508.8 881L509.1 870.1L509.1 867.9L509.4 870.4L509.6 867.3L509.7 870.4L510 878.8L510.3 887.2L510.6 892.4L510.9 891.9L511.1 886.5L511.2 888.8L511.5 890.5L511.8 890.7L512.1 893.7L512.4 893.2L512.7 889.3L513 885.5L513.1 881.4L513.3 879.8L513.6 885.1L513.9 885.1L514.2 873.2L514.3 871.3L514.5 871.4L514.8 869.9L514.9 866L515.1 873L515.4 877.9L515.5 878.6L515.7 881.9L516 886.4L516.3 890.8L516.6 891.3L516.9 893.3L517.2 894.6L517.5 892.9L517.8 893.9L518.1 892.1L518.4 892.1L518.7 888.7L519 881.1L519 880.6L519.3 885.8L519.6 888.4L519.9 891.1L520.2 888.1L520.3 887.5L520.5 887.9L520.8 891.4L521.1 892L521.4 893.8L521.7 893.5L522 886.5L522.2 881.1L522.3 878.6L522.6 872.7L522.6 873.6L522.9 881.2L523.2 886.5L523.5 891.4L523.8 894.2L524.1 892.7L524.4 894.9L524.7 891.5L525 893.8L525.3 891.3L525.6 884.7L525.6 883.3L525.9 884.6L526.2 887.4L526.5 885L526.6 883.8L526.8 888.8L527.1 888.8L527.4 883L527.5 880L527.7 883.9L528 887.5L528.3 886.5L528.6 880.7L528.6 882.6L528.9 885L529.2 887.2L529.5 891.7L529.8 893.3L530.1 888.3L530.1 889.1L530.4 878.8L530.7 859.3L531 868.6L531.3 876L531.6 886.8L531.9 892.9L532.2 890.8L532.5 893.8" fill="none" stroke="#30c6ee" stroke-width="0.9" stroke-linejoin="bevel"/>
</svg>
</body></html>
